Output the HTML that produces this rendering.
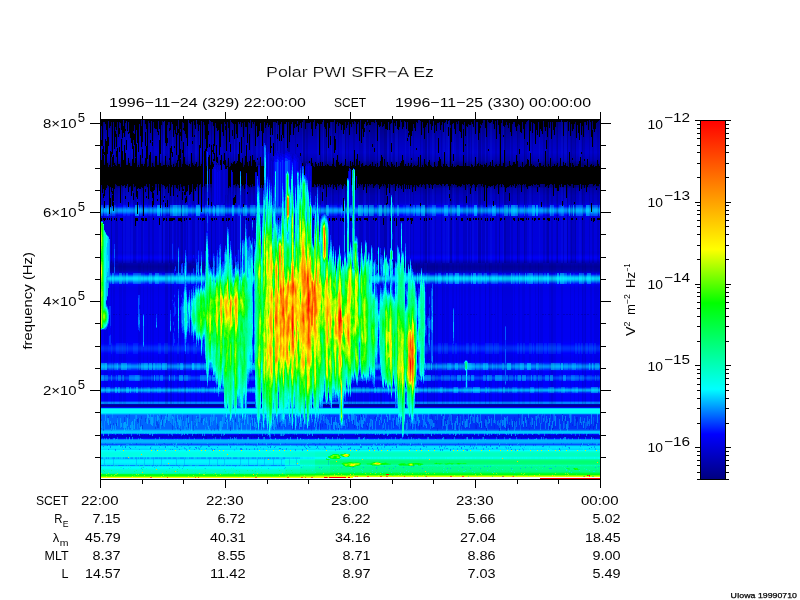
<!DOCTYPE html>
<html><head><meta charset="utf-8"><title>Polar PWI SFR-A Ez</title>
<style>html,body{margin:0;padding:0;background:#fff;overflow:hidden}svg{display:block}</style>
</head><body>
<svg width="800" height="600" viewBox="0 0 800 600">
<rect width="800" height="600" fill="#fff"/>
<g shape-rendering="crispEdges" fill="none" stroke-width="1">
<path stroke="#000080" d="M101 120.5h499M101 164.5h499M101 165.5h499M101 166.5h499M101 167.5h499M101 168.5h499M101 169.5h499M101 170.5h499M101 171.5h499M101 172.5h499M101 173.5h499M101 174.5h499M101 175.5h499M101 176.5h499M101 177.5h499M101 178.5h499M101 179.5h499M101 180.5h499M101 181.5h499M101 182.5h499M101 183.5h499M101 184.5h499M101 185.5h499M101 186.5h499"/>
<path stroke="#000084" d="M101 121.5h499"/>
<path stroke="#008" d="M101 122.5h499"/>
<path stroke="#00008b" d="M101 123.5h499"/>
<path stroke="#00008f" d="M101 124.5h499"/>
<path stroke="#000093" d="M101 125.5h499"/>
<path stroke="#000097" d="M101 126.5h499"/>
<path stroke="#00009b" d="M101 127.5h499"/>
<path stroke="#00009e" d="M101 128.5h499M101 406.5h499"/>
<path stroke="#0000a1" d="M101 129.5h499M101 267.5h499"/>
<path stroke="#0000a4" d="M101 130.5h499M101 265.5h499"/>
<path stroke="#0000a6" d="M101 131.5h499M101 161.5h499"/>
<path stroke="#0000a9" d="M101 132.5h499M101 188.5h499M101 269.5h499"/>
<path stroke="#0000ab" d="M101 133.5h499"/>
<path stroke="#0000ae" d="M101 134.5h499"/>
<path stroke="#0000b0" d="M101 135.5h499M101 190.5h499"/>
<path stroke="#0000b3" d="M101 136.5h499M101 160.5h499"/>
<path stroke="#0000b5" d="M101 137.5h499"/>
<path stroke="#0000b8" d="M101 138.5h499"/>
<path stroke="#0000ba" d="M101 139.5h499M101 158.5h499"/>
<path stroke="#0000bd" d="M101 140.5h499M101 157.5h499M101 271.5h499M101 404.5h499"/>
<path stroke="#0000be" d="M101 141.5h499M101 194.5h499"/>
<path stroke="#0000c0" d="M101 142.5h499"/>
<path stroke="#0000c2" d="M101 143.5h499M101 195.5h499"/>
<path stroke="#0000c3" d="M101 144.5h499M101 196.5h499"/>
<path stroke="#0000c5" d="M101 145.5h499M101 155.5h499"/>
<path stroke="#0000c6" d="M101 146.5h499M101 198.5h499"/>
<path stroke="#0000c8" d="M101 147.5h499M101 154.5h499M101 200.5h499M101 261.5h499"/>
<path stroke="#0000c9" d="M101 148.5h499"/>
<path stroke="#0000cb" d="M101 149.5h499M101 201.5h499"/>
<path stroke="#00c" d="M101 150.5h499M101 153.5h499"/>
<path stroke="#0000ce" d="M101 151.5h499"/>
<path stroke="#0000cf" d="M101 152.5h499M101 202.5h499"/>
<path stroke="#0000c1" d="M101 156.5h499"/>
<path stroke="#0000b6" d="M101 159.5h499"/>
<path stroke="#009" d="M101 162.5h499"/>
<path stroke="#00008d" d="M101 163.5h499"/>
<path stroke="#000094" d="M101 187.5h499M101 405.5h499"/>
<path stroke="#0000ac" d="M101 189.5h499"/>
<path stroke="#0000b4" d="M101 191.5h499"/>
<path stroke="#0000b7" d="M101 192.5h499"/>
<path stroke="#00b" d="M101 193.5h499"/>
<path stroke="#0000c4" d="M101 197.5h499"/>
<path stroke="#0000c7" d="M101 199.5h499"/>
<path stroke="#0000d5" d="M101 203.5h499"/>
<path stroke="#0000e0" d="M101 204.5h499"/>
<path stroke="#0000ef" d="M101 205.5h499M101 308.5h499M101 309.5h499M101 310.5h499M101 311.5h499M101 312.5h499M101 313.5h499M101 314.5h499M101 315.5h499M101 316.5h499M101 317.5h499"/>
<path stroke="#000aff" d="M101 206.5h499M101 434.5h499M101 438.5h499"/>
<path stroke="#003aff" d="M101 207.5h499"/>
<path stroke="#0068ff" d="M101 208.5h499"/>
<path stroke="#008aff" d="M101 209.5h499M101 211.5h499"/>
<path stroke="#0097ff" d="M101 210.5h499"/>
<path stroke="#0069ff" d="M101 212.5h499"/>
<path stroke="#003dff" d="M101 213.5h499M101 415.5h499M101 416.5h499M101 417.5h499M101 418.5h499M101 419.5h499M101 420.5h499M101 421.5h499M101 422.5h499M101 423.5h499M101 424.5h499M101 425.5h499M101 426.5h499M101 427.5h499M101 428.5h499"/>
<path stroke="#0010ff" d="M101 214.5h499"/>
<path stroke="#0000f4" d="M101 215.5h499M101 285.5h499M101 340.5h499M101 356.5h499"/>
<path stroke="#0000e7" d="M101 216.5h499"/>
<path stroke="#0000df" d="M101 217.5h499"/>
<path stroke="#0000db" d="M101 218.5h499M101 230.5h499M101 231.5h499M101 232.5h499M101 233.5h499M101 234.5h499M101 235.5h499M101 236.5h499M101 251.5h499M101 437.5h499"/>
<path stroke="#0000d9" d="M101 219.5h499M101 220.5h499M101 221.5h499M101 222.5h499"/>
<path stroke="#0000da" d="M101 223.5h499M101 224.5h499M101 225.5h499M101 226.5h499M101 227.5h499M101 228.5h499M101 229.5h499M101 252.5h499"/>
<path stroke="#0000dc" d="M101 237.5h499M101 238.5h499M101 239.5h499M101 240.5h499M101 241.5h499M101 242.5h499M101 243.5h499M101 253.5h499"/>
<path stroke="#00d" d="M101 244.5h499M101 245.5h499M101 246.5h499M101 247.5h499M101 248.5h499M101 249.5h499"/>
<path stroke="#0000de" d="M101 250.5h499"/>
<path stroke="#0000e2" d="M101 254.5h499"/>
<path stroke="#0000ea" d="M101 255.5h499M101 287.5h499M101 292.5h499M101 293.5h499"/>
<path stroke="#0000f1" d="M101 256.5h499M101 258.5h499M101 328.5h499M101 329.5h499M101 330.5h499M101 331.5h499M101 332.5h499M101 333.5h499M101 334.5h499M101 335.5h499M101 336.5h499"/>
<path stroke="#0000f5" d="M101 257.5h499M101 360.5h499"/>
<path stroke="#0000e6" d="M101 259.5h499"/>
<path stroke="#0000d7" d="M101 260.5h499"/>
<path stroke="#0000bc" d="M101 262.5h499"/>
<path stroke="#0000b2" d="M101 263.5h499"/>
<path stroke="#00a" d="M101 264.5h499"/>
<path stroke="#00009f" d="M101 266.5h499"/>
<path stroke="#0000a5" d="M101 268.5h499"/>
<path stroke="#0000b1" d="M101 270.5h499"/>
<path stroke="#0000d2" d="M101 272.5h499"/>
<path stroke="#0000ed" d="M101 273.5h499M101 298.5h499M101 299.5h499"/>
<path stroke="#001cff" d="M101 274.5h499M101 283.5h499"/>
<path stroke="#0061ff" d="M101 275.5h499"/>
<path stroke="#009fff" d="M101 276.5h499"/>
<path stroke="#00caff" d="M101 277.5h499"/>
<path stroke="#00d9ff" d="M101 278.5h499"/>
<path stroke="#00cbff" d="M101 279.5h499"/>
<path stroke="#00a6ff" d="M101 280.5h499"/>
<path stroke="#0075ff" d="M101 281.5h499"/>
<path stroke="#04f" d="M101 282.5h499"/>
<path stroke="#00f" d="M101 284.5h499M101 381.5h499M101 394.5h499M101 399.5h499M101 400.5h499M101 478.5h499"/>
<path stroke="#00e" d="M101 286.5h499M101 300.5h499M101 301.5h499M101 302.5h499M101 303.5h499M101 304.5h499M101 305.5h499M101 306.5h499M101 307.5h499"/>
<path stroke="#0000e9" d="M101 288.5h499M101 289.5h499M101 290.5h499M101 291.5h499"/>
<path stroke="#0000eb" d="M101 294.5h499M101 295.5h499"/>
<path stroke="#0000ec" d="M101 296.5h499M101 297.5h499"/>
<path stroke="#0000f0" d="M101 318.5h499M101 319.5h499M101 320.5h499M101 321.5h499M101 322.5h499M101 323.5h499M101 324.5h499M101 325.5h499M101 326.5h499M101 327.5h499"/>
<path stroke="#0000f2" d="M101 337.5h499M101 338.5h499M101 358.5h499"/>
<path stroke="#0000f3" d="M101 339.5h499M101 357.5h499M101 359.5h499"/>
<path stroke="#0000f6" d="M101 341.5h499M101 355.5h499"/>
<path stroke="#0000f9" d="M101 342.5h499M101 354.5h499M101 372.5h499M101 373.5h499"/>
<path stroke="#0000fd" d="M101 343.5h499M101 353.5h499M101 374.5h499"/>
<path stroke="#0008ff" d="M101 344.5h499M101 352.5h499"/>
<path stroke="#0015ff" d="M101 345.5h499M101 351.5h499"/>
<path stroke="#02f" d="M101 346.5h499M101 350.5h499"/>
<path stroke="#002aff" d="M101 347.5h499M101 349.5h499"/>
<path stroke="#002eff" d="M101 348.5h499M101 363.5h499"/>
<path stroke="#0000fa" d="M101 361.5h499M101 407.5h499"/>
<path stroke="#000cff" d="M101 362.5h499M101 393.5h499"/>
<path stroke="#0059ff" d="M101 364.5h499M101 388.5h499"/>
<path stroke="#007eff" d="M101 365.5h499"/>
<path stroke="#008dff" d="M101 366.5h499"/>
<path stroke="#007fff" d="M101 367.5h499"/>
<path stroke="#005aff" d="M101 368.5h499"/>
<path stroke="#0031ff" d="M101 369.5h499"/>
<path stroke="#01f" d="M101 370.5h499M101 380.5h499"/>
<path stroke="#0000fe" d="M101 371.5h499M101 395.5h499M101 396.5h499M101 397.5h499M101 398.5h499"/>
<path stroke="#000eff" d="M101 375.5h499"/>
<path stroke="#002bff" d="M101 376.5h499"/>
<path stroke="#0043ff" d="M101 377.5h499M101 378.5h499"/>
<path stroke="#002cff" d="M101 379.5h499"/>
<path stroke="#0000fb" d="M101 382.5h499M101 383.5h499M101 384.5h499"/>
<path stroke="#0000fc" d="M101 385.5h499"/>
<path stroke="#0001ff" d="M101 386.5h499"/>
<path stroke="#001dff" d="M101 387.5h499"/>
<path stroke="#009dff" d="M101 389.5h499"/>
<path stroke="#00acff" d="M101 390.5h499"/>
<path stroke="#07f" d="M101 391.5h499"/>
<path stroke="#03f" d="M101 392.5h499M101 401.5h499"/>
<path stroke="#0085ff" d="M101 402.5h499M101 403.5h499M101 439.5h499M101 443.5h499"/>
<path stroke="#00c2ff" d="M101 408.5h499M101 457.5h499"/>
<path stroke="#0ff" d="M101 409.5h499M101 412.5h499M101 450.5h499M101 465.5h499"/>
<path stroke="#00fffa" d="M101 410.5h499M101 411.5h499"/>
<path stroke="#00d6ff" d="M101 413.5h499M101 449.5h499"/>
<path stroke="#0070ff" d="M101 414.5h499"/>
<path stroke="#005cff" d="M101 429.5h499"/>
<path stroke="#09f" d="M101 430.5h499M101 433.5h499M101 445.5h499"/>
<path stroke="#00c8ff" d="M101 431.5h499"/>
<path stroke="#0cf" d="M101 432.5h499"/>
<path stroke="#0000d6" d="M101 435.5h499"/>
<path stroke="#0000d1" d="M101 436.5h499"/>
<path stroke="#00b4ff" d="M101 440.5h499"/>
<path stroke="#00b8ff" d="M101 441.5h499"/>
<path stroke="#00adff" d="M101 442.5h499M101 458.5h499"/>
<path stroke="#0052ff" d="M101 444.5h499"/>
<path stroke="#00e0ff" d="M101 446.5h499M101 448.5h499"/>
<path stroke="#00e7ff" d="M101 447.5h499"/>
<path stroke="#00ffea" d="M101 451.5h499"/>
<path stroke="#00ffdc" d="M101 452.5h499M101 453.5h499M101 454.5h499M101 455.5h499"/>
<path stroke="#00ffdf" d="M101 456.5h499"/>
<path stroke="#00ffca" d="M101 459.5h499M101 464.5h499"/>
<path stroke="#0fa" d="M101 460.5h499M101 471.5h499"/>
<path stroke="#00ff95" d="M101 461.5h499M101 462.5h499"/>
<path stroke="#00ff9f" d="M101 463.5h499"/>
<path stroke="#00ffd4" d="M101 466.5h499"/>
<path stroke="#00ffbf" d="M101 467.5h499M101 468.5h499M101 469.5h499"/>
<path stroke="#00ffb5" d="M101 470.5h499"/>
<path stroke="#00ff75" d="M101 472.5h499"/>
<path stroke="#00ff4a" d="M101 473.5h499"/>
<path stroke="#00ff2a" d="M101 474.5h499"/>
<path stroke="#6f0" d="M101 475.5h499"/>
<path stroke="#ef0" d="M101 476.5h499"/>
<path stroke="#fff100" d="M101 477.5h499"/>
<path stroke="#00fff4" d="M101 451.5h184M315 458.5h15M300 465.5h15M101 468.5h184"/>
<path stroke="#00ffef" d="M285 451.5h15"/>
<path stroke="#00ffea" d="M300 451.5h15M101 452.5h184M101 456.5h184"/>
<path stroke="#00ffe4" d="M315 451.5h15M101 453.5h184M101 454.5h184M101 455.5h184M330 457.5h270M285 463.5h15"/>
<path stroke="#00ffdf" d="M330 451.5h270M330 458.5h270M285 461.5h15M285 462.5h15"/>
<path stroke="#00ffe2" d="M285 452.5h15M285 456.5h15M285 467.5h15"/>
<path stroke="#00ffda" d="M300 452.5h15M300 456.5h15M285 468.5h15M101 469.5h184"/>
<path stroke="#00ffd2" d="M315 452.5h15M300 453.5h15M300 454.5h15M300 455.5h15M315 456.5h15"/>
<path stroke="#00ffca" d="M330 452.5h270M330 456.5h270M101 470.5h184"/>
<path stroke="#00ffdb" d="M285 453.5h15M285 454.5h15M285 455.5h15"/>
<path stroke="#00ffc9" d="M315 453.5h15M315 454.5h15M315 455.5h15"/>
<path stroke="#00ffbf" d="M330 453.5h270M330 454.5h270M330 455.5h270M300 463.5h15M300 468.5h15M101 472.5h184"/>
<path stroke="#00adff" d="M101 457.5h184"/>
<path stroke="#00cfff" d="M285 457.5h15"/>
<path stroke="#00f0ff" d="M300 457.5h15"/>
<path stroke="#00fff6" d="M315 457.5h15"/>
<path stroke="#09f" d="M101 458.5h184"/>
<path stroke="#00c2ff" d="M285 458.5h15"/>
<path stroke="#00ebff" d="M300 458.5h15M101 463.5h184M101 466.5h184"/>
<path stroke="#00e0ff" d="M101 459.5h184M101 464.5h184"/>
<path stroke="#00fff3" d="M285 459.5h15"/>
<path stroke="#00ffd7" d="M300 459.5h15"/>
<path stroke="#0fb" d="M315 459.5h15"/>
<path stroke="#00ff9f" d="M330 459.5h270M101 473.5h184"/>
<path stroke="#00f5ff" d="M101 460.5h184M101 461.5h184M101 462.5h184"/>
<path stroke="#00ffe3" d="M285 460.5h15"/>
<path stroke="#00ffc2" d="M300 460.5h15"/>
<path stroke="#00ffa1" d="M315 460.5h15"/>
<path stroke="#00ff80" d="M330 460.5h270M330 471.5h270"/>
<path stroke="#00ffba" d="M300 461.5h15M300 462.5h15"/>
<path stroke="#00ff95" d="M315 461.5h15M315 462.5h15M330 466.5h270"/>
<path stroke="#00ff70" d="M330 461.5h270M330 462.5h270"/>
<path stroke="#00ff9a" d="M315 463.5h15"/>
<path stroke="#00ff75" d="M330 463.5h270"/>
<path stroke="#0fe" d="M285 464.5h15"/>
<path stroke="#00ffcd" d="M300 464.5h15"/>
<path stroke="#00ffab" d="M315 464.5h15"/>
<path stroke="#00ff8a" d="M330 464.5h270M330 467.5h270M330 468.5h270M330 469.5h270"/>
<path stroke="#0085ff" d="M101 465.5h184"/>
<path stroke="#0cf" d="M285 465.5h15"/>
<path stroke="#00ffcf" d="M315 465.5h15M300 466.5h15"/>
<path stroke="#0fa" d="M330 465.5h270"/>
<path stroke="#00ffec" d="M285 466.5h15"/>
<path stroke="#00ffb2" d="M315 466.5h15M300 469.5h15"/>
<path stroke="#0ff" d="M101 467.5h184"/>
<path stroke="#00ffc5" d="M300 467.5h15M101 471.5h184"/>
<path stroke="#00ffa7" d="M315 467.5h15M300 470.5h15M285 472.5h15"/>
<path stroke="#00ffa5" d="M315 468.5h15"/>
<path stroke="#00ffc6" d="M285 469.5h15"/>
<path stroke="#00ff9e" d="M315 469.5h15"/>
<path stroke="#00ffb9" d="M285 470.5h15"/>
<path stroke="#00ff96" d="M315 470.5h15"/>
<path stroke="#00ff85" d="M330 470.5h270"/>
<path stroke="#00ffb3" d="M285 471.5h15"/>
<path stroke="#00ffa2" d="M300 471.5h15"/>
<path stroke="#00ff91" d="M315 471.5h15"/>
<path stroke="#00ff8f" d="M300 472.5h15"/>
<path stroke="#00ff78" d="M315 472.5h15"/>
<path stroke="#00ff60" d="M330 472.5h270"/>
<path stroke="#00ff82" d="M285 473.5h15"/>
<path stroke="#00ff65" d="M300 473.5h15"/>
<path stroke="#00ff48" d="M315 473.5h15"/>
<path stroke="#00ff2a" d="M330 473.5h270"/>
<path stroke="#00ff20" d="M101 474.5h184"/>
<path stroke="#00ff1b" d="M285 474.5h15"/>
<path stroke="#00ff15" d="M300 474.5h15"/>
<path stroke="#00ff10" d="M315 474.5h15"/>
<path stroke="#00ff0b" d="M330 474.5h270"/>
<path stroke="#1f0" d="M101 475.5h184"/>
<path stroke="#2bff00" d="M285 475.5h15"/>
<path stroke="#4f0" d="M300 475.5h15"/>
<path stroke="#5eff00" d="M315 475.5h15"/>
<path stroke="#7f0" d="M330 475.5h270M285 476.5h15"/>
<path stroke="#5f0" d="M101 476.5h184"/>
<path stroke="#9f0" d="M300 476.5h15"/>
<path stroke="#bf0" d="M315 476.5h15"/>
<path stroke="#df0" d="M330 476.5h270"/>
<path stroke="#ff0" d="M101 477.5h184M285 477.5h15M300 477.5h15M315 477.5h15M330 477.5h270"/>
<path stroke="#14f" stroke-opacity="0.2" d="M448.5 120v143"/>
<path stroke="#14f" stroke-opacity="0.1" d="M137.5 120v143M276.5 120v143M443.5 120v143M444.5 120v143M485.5 120v143"/>
<path stroke="#14f" stroke-opacity="0.1" d="M123.5 120v143M124.5 120v143M126.5 120v143M127.5 120v143M128.5 120v143M129.5 120v143M131.5 120v143M132.5 120v143M143.5 120v143M159.5 120v143M160.5 120v143M163.5 120v143M164.5 120v143M172.5 120v143M188.5 120v143M189.5 120v143M195.5 120v143M196.5 120v143M199.5 120v143M200.5 120v143M219.5 120v143M234.5 120v143M237.5 120v143M238.5 120v143M239.5 120v143M256.5 120v143M257.5 120v143M260.5 120v143M261.5 120v143M271.5 120v143M272.5 120v143M273.5 120v143M278.5 120v143M279.5 120v143M285.5 120v143M286.5 120v143M302.5 120v143M317.5 120v143M318.5 120v143M323.5 120v143M327.5 120v143M331.5 120v143M342.5 120v143M343.5 120v143M344.5 120v143M364.5 120v143M365.5 120v143M378.5 120v143M379.5 120v143M387.5 120v143M388.5 120v143M391.5 120v143M395.5 120v143M396.5 120v143M397.5 120v143M405.5 120v143M409.5 120v143M427.5 120v143M432.5 120v143M433.5 120v143M446.5 120v143M447.5 120v143M453.5 120v143M467.5 120v143M472.5 120v143M473.5 120v143M477.5 120v143M490.5 120v143M491.5 120v143M503.5 120v143M529.5 120v143M530.5 120v143M539.5 120v143M561.5 120v143M562.5 120v143M564.5 120v143M565.5 120v143M566.5 120v143M579.5 120v143M580.5 120v143"/>
<path stroke="#000" stroke-opacity="0.1" d="M102.5 120v143M103.5 120v143M115.5 120v143M116.5 120v143M117.5 120v143M122.5 120v143M133.5 120v143M134.5 120v143M135.5 120v143M141.5 120v143M142.5 120v143M148.5 120v143M149.5 120v143M152.5 120v143M153.5 120v143M165.5 120v143M166.5 120v143M167.5 120v143M170.5 120v143M171.5 120v143M174.5 120v143M175.5 120v143M177.5 120v143M178.5 120v143M180.5 120v143M184.5 120v143M185.5 120v143M187.5 120v143M192.5 120v143M193.5 120v143M194.5 120v143M198.5 120v143M205.5 120v143M215.5 120v143M223.5 120v143M224.5 120v143M225.5 120v143M227.5 120v143M228.5 120v143M230.5 120v143M233.5 120v143M235.5 120v143M236.5 120v143M242.5 120v143M243.5 120v143M248.5 120v143M249.5 120v143M250.5 120v143M253.5 120v143M254.5 120v143M255.5 120v143M262.5 120v143M265.5 120v143M266.5 120v143M274.5 120v143M275.5 120v143M277.5 120v143M280.5 120v143M283.5 120v143M284.5 120v143M295.5 120v143M306.5 120v143M307.5 120v143M324.5 120v143M325.5 120v143M332.5 120v143M333.5 120v143M338.5 120v143M348.5 120v143M353.5 120v143M354.5 120v143M359.5 120v143M360.5 120v143M361.5 120v143M362.5 120v143M366.5 120v143M367.5 120v143M368.5 120v143M370.5 120v143M371.5 120v143M372.5 120v143M373.5 120v143M374.5 120v143M380.5 120v143M381.5 120v143M382.5 120v143M383.5 120v143M389.5 120v143M390.5 120v143M393.5 120v143M394.5 120v143M398.5 120v143M410.5 120v143M413.5 120v143M420.5 120v143M423.5 120v143M424.5 120v143M428.5 120v143M429.5 120v143M435.5 120v143M441.5 120v143M456.5 120v143M457.5 120v143M458.5 120v143M463.5 120v143M464.5 120v143M465.5 120v143M466.5 120v143M468.5 120v143M469.5 120v143M471.5 120v143M482.5 120v143M483.5 120v143M484.5 120v143M486.5 120v143M487.5 120v143M495.5 120v143M496.5 120v143M506.5 120v143M507.5 120v143M508.5 120v143M509.5 120v143M511.5 120v143M512.5 120v143M518.5 120v143M519.5 120v143M525.5 120v143M526.5 120v143M532.5 120v143M543.5 120v143M544.5 120v143M546.5 120v143M551.5 120v143M552.5 120v143M556.5 120v143M563.5 120v143M570.5 120v143M572.5 120v143M573.5 120v143M574.5 120v143M583.5 120v143M584.5 120v143M589.5 120v143M592.5 120v143M593.5 120v143M597.5 120v143M598.5 120v143"/>
<path stroke="#000" stroke-opacity="0.2" d="M111.5 120v143M162.5 120v143M169.5 120v143M181.5 120v143M182.5 120v143M204.5 120v143M211.5 120v143M244.5 120v143M287.5 120v143M288.5 120v143M289.5 120v143M303.5 120v143M304.5 120v143M320.5 120v143M326.5 120v143M345.5 120v143M377.5 120v143M384.5 120v143M385.5 120v143M386.5 120v143M425.5 120v143M426.5 120v143M450.5 120v143M451.5 120v143M478.5 120v143M479.5 120v143M480.5 120v143M499.5 120v143M504.5 120v143M505.5 120v143M517.5 120v143M524.5 120v143M547.5 120v143M548.5 120v143M557.5 120v143M567.5 120v143M571.5 120v143M575.5 120v143M582.5 120v143"/>
<path stroke="#004" stroke-opacity="0.08" d="M104.5 263v141M105.5 263v141M106.5 263v141M107.5 263v141M111.5 263v141M113.5 263v141M114.5 263v141M119.5 263v141M120.5 263v141M121.5 263v141M123.5 263v141M124.5 263v141M125.5 263v141M138.5 263v141M139.5 263v141M140.5 263v141M143.5 263v141M147.5 263v141M150.5 263v141M152.5 263v141M153.5 263v141M158.5 263v141M173.5 263v141M177.5 263v141M178.5 263v141M180.5 263v141M190.5 263v141M195.5 263v141M196.5 263v141M201.5 263v141M204.5 263v141M205.5 263v141M208.5 263v141M244.5 263v141M256.5 263v141M257.5 263v141M258.5 263v141M259.5 263v141M273.5 263v141M278.5 263v141M279.5 263v141M281.5 263v141M282.5 263v141M284.5 263v141M296.5 263v141M297.5 263v141M298.5 263v141M302.5 263v141M308.5 263v141M310.5 263v141M311.5 263v141M316.5 263v141M321.5 263v141M322.5 263v141M324.5 263v141M325.5 263v141M326.5 263v141M327.5 263v141M328.5 263v141M329.5 263v141M334.5 263v141M335.5 263v141M336.5 263v141M337.5 263v141M349.5 263v141M350.5 263v141M353.5 263v141M354.5 263v141M357.5 263v141M358.5 263v141M359.5 263v141M360.5 263v141M361.5 263v141M362.5 263v141M364.5 263v141M365.5 263v141M366.5 263v141M367.5 263v141M368.5 263v141M370.5 263v141M373.5 263v141M374.5 263v141M377.5 263v141M384.5 263v141M389.5 263v141M390.5 263v141M395.5 263v141M399.5 263v141M400.5 263v141M401.5 263v141M402.5 263v141M418.5 263v141M419.5 263v141M428.5 263v141M429.5 263v141M430.5 263v141M431.5 263v141M432.5 263v141M433.5 263v141M436.5 263v141M437.5 263v141M443.5 263v141M444.5 263v141M446.5 263v141M447.5 263v141M448.5 263v141M452.5 263v141M453.5 263v141M456.5 263v141M459.5 263v141M461.5 263v141M462.5 263v141M464.5 263v141M465.5 263v141M468.5 263v141M469.5 263v141M470.5 263v141M474.5 263v141M479.5 263v141M480.5 263v141M490.5 263v141M491.5 263v141M495.5 263v141M497.5 263v141M498.5 263v141M503.5 263v141M504.5 263v141M505.5 263v141M506.5 263v141M507.5 263v141M508.5 263v141M509.5 263v141M510.5 263v141M511.5 263v141M512.5 263v141M514.5 263v141M518.5 263v141M519.5 263v141M522.5 263v141M523.5 263v141M524.5 263v141M529.5 263v141M530.5 263v141M535.5 263v141M540.5 263v141M541.5 263v141M542.5 263v141M549.5 263v141M550.5 263v141M553.5 263v141M554.5 263v141M555.5 263v141M561.5 263v141M562.5 263v141M570.5 263v141M574.5 263v141M578.5 263v141M583.5 263v141M584.5 263v141M590.5 263v141M591.5 263v141M594.5 263v141M595.5 263v141M596.5 263v141M597.5 263v141M598.5 263v141"/>
<path stroke="#004" stroke-opacity="0.16" d="M165.5 263v141M166.5 263v141M167.5 263v141M170.5 263v141M171.5 263v141M184.5 263v141M185.5 263v141M223.5 263v141M226.5 263v141M229.5 263v141M234.5 263v141M237.5 263v141M241.5 263v141M245.5 263v141M246.5 263v141M255.5 263v141M260.5 263v141M261.5 263v141M263.5 263v141M264.5 263v141M265.5 263v141M266.5 263v141M271.5 263v141M272.5 263v141M285.5 263v141M286.5 263v141M294.5 263v141M306.5 263v141M307.5 263v141M313.5 263v141M330.5 263v141M348.5 263v141M351.5 263v141M355.5 263v141M380.5 263v141M381.5 263v141M416.5 263v141M423.5 263v141M427.5 263v141M434.5 263v141M442.5 263v141M485.5 263v141M489.5 263v141M502.5 263v141M538.5 263v141M551.5 263v141M552.5 263v141M582.5 263v141M585.5 263v141"/>
<path stroke="#009" stroke-opacity=".5" d="M104 314.5h2M107 314.5h1M110 314.5h1M113 314.5h2M116 314.5h1M119 314.5h1M125 314.5h2M128 314.5h1M137 314.5h1M140 314.5h2M146 314.5h1M149 314.5h2M152 314.5h2M155 314.5h2M158 314.5h1M161 314.5h1M164 314.5h2M167 314.5h1M170 314.5h1M173 314.5h1M176 314.5h1M179 314.5h1M185 314.5h1M191 314.5h1M200 314.5h1M203 314.5h2M206 314.5h2M215 314.5h1M221 314.5h2M230 314.5h1M236 314.5h2M239 314.5h1M245 314.5h1M251 314.5h2M254 314.5h2M257 314.5h1M269 314.5h2M272 314.5h2M284 314.5h1M293 314.5h1M299 314.5h2M305 314.5h1M308 314.5h1M311 314.5h1M314 314.5h1M320 314.5h1M329 314.5h2M332 314.5h1M335 314.5h2M338 314.5h2M341 314.5h1M344 314.5h2M347 314.5h2M353 314.5h2M359 314.5h2M362 314.5h1M365 314.5h2M371 314.5h1M374 314.5h1M377 314.5h2M383 314.5h2M386 314.5h1M392 314.5h1M401 314.5h2M404 314.5h2M410 314.5h2M413 314.5h2M416 314.5h1M419 314.5h1M422 314.5h1M425 314.5h2M428 314.5h1M434 314.5h2M440 314.5h1M443 314.5h1M452 314.5h2M455 314.5h1M458 314.5h1M461 314.5h1M467 314.5h1M470 314.5h2M473 314.5h2M476 314.5h1M485 314.5h1M491 314.5h2M494 314.5h1M506 314.5h1M512 314.5h1M515 314.5h1M524 314.5h2M527 314.5h2M536 314.5h1M542 314.5h2M545 314.5h1M548 314.5h2M551 314.5h1M557 314.5h2M563 314.5h2M566 314.5h2M569 314.5h2M572 314.5h1M578 314.5h1M581 314.5h2M584 314.5h2M587 314.5h2M593 314.5h2M596 314.5h1"/>
<path stroke="#0ff" stroke-opacity="0.1" d="M115.5 205v11M123.5 205v11M124.5 205v11M125.5 205v11M127.5 205v11M128.5 205v11M129.5 205v11M143.5 205v11M144.5 205v11M145.5 205v11M146.5 205v11M148.5 205v11M149.5 205v11M150.5 205v11M151.5 205v11M153.5 205v11M154.5 205v11M155.5 205v11M163.5 205v11M164.5 205v11M165.5 205v11M191.5 205v11M192.5 205v11M193.5 205v11M206.5 205v11M207.5 205v11M210.5 205v11M211.5 205v11M267.5 205v11M268.5 205v11M269.5 205v11M283.5 205v11M284.5 205v11M286.5 205v11M287.5 205v11M288.5 205v11M289.5 205v11M291.5 205v11M292.5 205v11M293.5 205v11M310.5 205v11M311.5 205v11M317.5 205v11M318.5 205v11M319.5 205v11M320.5 205v11M330.5 205v11M331.5 205v11M332.5 205v11M333.5 205v11M334.5 205v11M335.5 205v11M336.5 205v11M346.5 205v11M347.5 205v11M348.5 205v11M403.5 205v11M404.5 205v11M409.5 205v11M410.5 205v11M411.5 205v11M412.5 205v11M428.5 205v11M429.5 205v11M430.5 205v11M431.5 205v11M456.5 205v11M480.5 205v11M481.5 205v11M482.5 205v11M488.5 205v11M489.5 205v11M490.5 205v11M502.5 205v11M519.5 205v11M520.5 205v11M521.5 205v11M522.5 205v11M526.5 205v11M539.5 205v11M540.5 205v11M541.5 205v11M542.5 205v11M575.5 205v11M101.5 273v11M102.5 273v11M114.5 273v11M115.5 273v11M116.5 273v11M117.5 273v11M141.5 273v11M142.5 273v11M143.5 273v11M144.5 273v11M159.5 273v11M160.5 273v11M161.5 273v11M186.5 273v11M187.5 273v11M194.5 273v11M195.5 273v11M196.5 273v11M197.5 273v11M198.5 273v11M199.5 273v11M227.5 273v11M231.5 273v11M232.5 273v11M233.5 273v11M234.5 273v11M263.5 273v11M269.5 273v11M270.5 273v11M279.5 273v11M310.5 273v11M311.5 273v11M312.5 273v11M315.5 273v11M316.5 273v11M349.5 273v11M364.5 273v11M365.5 273v11M366.5 273v11M370.5 273v11M422.5 273v11M423.5 273v11M424.5 273v11M428.5 273v11M429.5 273v11M444.5 273v11M454.5 273v11M459.5 273v11M460.5 273v11M461.5 273v11M465.5 273v11M466.5 273v11M467.5 273v11M468.5 273v11M477.5 273v11M483.5 273v11M502.5 273v11M504.5 273v11M505.5 273v11M520.5 273v11M521.5 273v11M522.5 273v11M523.5 273v11M555.5 273v11M568.5 273v11M569.5 273v11M573.5 273v11M574.5 273v11M596.5 273v11M111.5 343v11M116.5 343v11M117.5 343v11M118.5 343v11M119.5 343v11M120.5 343v11M121.5 343v11M122.5 343v11M123.5 343v11M124.5 343v11M125.5 343v11M127.5 343v11M133.5 343v11M134.5 343v11M135.5 343v11M136.5 343v11M137.5 343v11M158.5 343v11M159.5 343v11M160.5 343v11M164.5 343v11M165.5 343v11M166.5 343v11M167.5 343v11M177.5 343v11M178.5 343v11M185.5 343v11M187.5 343v11M188.5 343v11M193.5 343v11M194.5 343v11M195.5 343v11M196.5 343v11M203.5 343v11M204.5 343v11M205.5 343v11M206.5 343v11M207.5 343v11M208.5 343v11M209.5 343v11M211.5 343v11M212.5 343v11M213.5 343v11M247.5 343v11M248.5 343v11M249.5 343v11M257.5 343v11M258.5 343v11M269.5 343v11M277.5 343v11M278.5 343v11M279.5 343v11M281.5 343v11M282.5 343v11M283.5 343v11M284.5 343v11M297.5 343v11M316.5 343v11M317.5 343v11M319.5 343v11M320.5 343v11M321.5 343v11M322.5 343v11M329.5 343v11M335.5 343v11M336.5 343v11M337.5 343v11M338.5 343v11M339.5 343v11M340.5 343v11M345.5 343v11M346.5 343v11M347.5 343v11M348.5 343v11M352.5 343v11M353.5 343v11M354.5 343v11M355.5 343v11M359.5 343v11M360.5 343v11M361.5 343v11M362.5 343v11M364.5 343v11M366.5 343v11M367.5 343v11M377.5 343v11M378.5 343v11M385.5 343v11M386.5 343v11M387.5 343v11M388.5 343v11M389.5 343v11M390.5 343v11M391.5 343v11M392.5 343v11M396.5 343v11M412.5 343v11M413.5 343v11M414.5 343v11M416.5 343v11M417.5 343v11M418.5 343v11M420.5 343v11M421.5 343v11M422.5 343v11M423.5 343v11M424.5 343v11M425.5 343v11M426.5 343v11M427.5 343v11M438.5 343v11M439.5 343v11M440.5 343v11M442.5 343v11M444.5 343v11M445.5 343v11M446.5 343v11M447.5 343v11M452.5 343v11M453.5 343v11M455.5 343v11M456.5 343v11M466.5 343v11M467.5 343v11M468.5 343v11M472.5 343v11M473.5 343v11M474.5 343v11M476.5 343v11M485.5 343v11M486.5 343v11M487.5 343v11M488.5 343v11M489.5 343v11M490.5 343v11M491.5 343v11M492.5 343v11M494.5 343v11M495.5 343v11M496.5 343v11M497.5 343v11M498.5 343v11M517.5 343v11M518.5 343v11M520.5 343v11M521.5 343v11M523.5 343v11M524.5 343v11M529.5 343v11M530.5 343v11M531.5 343v11M533.5 343v11M536.5 343v11M537.5 343v11M538.5 343v11M539.5 343v11M540.5 343v11M541.5 343v11M542.5 343v11M544.5 343v11M545.5 343v11M546.5 343v11M548.5 343v11M549.5 343v11M550.5 343v11M551.5 343v11M552.5 343v11M553.5 343v11M554.5 343v11M555.5 343v11M557.5 343v11M558.5 343v11M559.5 343v11M560.5 343v11M575.5 343v11M576.5 343v11M578.5 343v11M579.5 343v11M581.5 343v11M582.5 343v11M585.5 343v11M586.5 343v11M587.5 343v11M589.5 343v11M590.5 343v11M591.5 343v11M592.5 343v11M594.5 343v11M595.5 343v11M109.5 363v7M110.5 363v7M111.5 363v7M112.5 363v7M128.5 363v7M129.5 363v7M130.5 363v7M137.5 363v7M200.5 363v7M201.5 363v7M202.5 363v7M212.5 363v7M213.5 363v7M214.5 363v7M215.5 363v7M237.5 363v7M238.5 363v7M239.5 363v7M240.5 363v7M245.5 363v7M257.5 363v7M258.5 363v7M259.5 363v7M270.5 363v7M271.5 363v7M272.5 363v7M299.5 363v7M300.5 363v7M301.5 363v7M388.5 363v7M389.5 363v7M390.5 363v7M392.5 363v7M393.5 363v7M411.5 363v7M412.5 363v7M413.5 363v7M414.5 363v7M415.5 363v7M416.5 363v7M417.5 363v7M442.5 363v7M443.5 363v7M444.5 363v7M445.5 363v7M451.5 363v7M452.5 363v7M459.5 363v7M460.5 363v7M461.5 363v7M462.5 363v7M463.5 363v7M464.5 363v7M465.5 363v7M466.5 363v7M480.5 363v7M481.5 363v7M482.5 363v7M496.5 363v7M505.5 363v7M540.5 363v7M541.5 363v7M543.5 363v7M569.5 363v7M570.5 363v7M571.5 363v7M577.5 363v7M578.5 363v7M579.5 363v7M580.5 363v7M590.5 363v7M593.5 363v7M140.5 375v6M141.5 375v6M151.5 375v6M152.5 375v6M171.5 375v6M172.5 375v6M173.5 375v6M188.5 375v6M189.5 375v6M190.5 375v6M220.5 375v6M221.5 375v6M247.5 375v6M248.5 375v6M249.5 375v6M251.5 375v6M252.5 375v6M253.5 375v6M269.5 375v6M270.5 375v6M271.5 375v6M272.5 375v6M277.5 375v6M278.5 375v6M279.5 375v6M280.5 375v6M282.5 375v6M283.5 375v6M284.5 375v6M285.5 375v6M286.5 375v6M303.5 375v6M304.5 375v6M305.5 375v6M306.5 375v6M315.5 375v6M316.5 375v6M317.5 375v6M318.5 375v6M331.5 375v6M332.5 375v6M333.5 375v6M334.5 375v6M336.5 375v6M337.5 375v6M338.5 375v6M339.5 375v6M356.5 375v6M371.5 375v6M436.5 375v6M437.5 375v6M443.5 375v6M454.5 375v6M455.5 375v6M474.5 375v6M527.5 375v6M528.5 375v6M529.5 375v6M530.5 375v6M536.5 375v6M559.5 375v6M560.5 375v6M561.5 375v6M567.5 375v6M568.5 375v6M569.5 375v6M570.5 375v6M587.5 375v6M588.5 375v6M589.5 375v6M590.5 375v6M591.5 375v6M597.5 375v6M598.5 375v6M121.5 387v6M122.5 387v6M123.5 387v6M124.5 387v6M143.5 387v6M144.5 387v6M145.5 387v6M146.5 387v6M152.5 387v6M153.5 387v6M154.5 387v6M155.5 387v6M163.5 387v6M164.5 387v6M165.5 387v6M167.5 387v6M168.5 387v6M169.5 387v6M178.5 387v6M179.5 387v6M180.5 387v6M182.5 387v6M183.5 387v6M184.5 387v6M189.5 387v6M190.5 387v6M191.5 387v6M192.5 387v6M194.5 387v6M195.5 387v6M196.5 387v6M197.5 387v6M206.5 387v6M210.5 387v6M211.5 387v6M212.5 387v6M213.5 387v6M231.5 387v6M232.5 387v6M233.5 387v6M234.5 387v6M245.5 387v6M246.5 387v6M273.5 387v6M274.5 387v6M275.5 387v6M279.5 387v6M280.5 387v6M281.5 387v6M300.5 387v6M311.5 387v6M312.5 387v6M313.5 387v6M314.5 387v6M321.5 387v6M322.5 387v6M347.5 387v6M348.5 387v6M349.5 387v6M350.5 387v6M351.5 387v6M386.5 387v6M387.5 387v6M388.5 387v6M402.5 387v6M403.5 387v6M419.5 387v6M420.5 387v6M424.5 387v6M425.5 387v6M426.5 387v6M432.5 387v6M433.5 387v6M434.5 387v6M435.5 387v6M436.5 387v6M437.5 387v6M438.5 387v6M439.5 387v6M444.5 387v6M445.5 387v6M461.5 387v6M462.5 387v6M463.5 387v6M498.5 387v6M499.5 387v6M500.5 387v6M501.5 387v6M521.5 387v6M522.5 387v6M539.5 387v6M540.5 387v6M541.5 387v6M542.5 387v6M558.5 387v6M559.5 387v6M566.5 387v6M567.5 387v6M585.5 387v6"/>
<path stroke="#0ff" stroke-opacity="0.2" d="M104.5 205v11M105.5 205v11M106.5 205v11M110.5 205v11M111.5 205v11M112.5 205v11M113.5 205v11M114.5 205v11M140.5 205v11M141.5 205v11M205.5 205v11M219.5 205v11M220.5 205v11M238.5 205v11M239.5 205v11M255.5 205v11M256.5 205v11M258.5 205v11M276.5 205v11M277.5 205v11M278.5 205v11M279.5 205v11M280.5 205v11M281.5 205v11M282.5 205v11M377.5 205v11M378.5 205v11M386.5 205v11M387.5 205v11M388.5 205v11M406.5 205v11M407.5 205v11M408.5 205v11M450.5 205v11M451.5 205v11M452.5 205v11M453.5 205v11M454.5 205v11M466.5 205v11M467.5 205v11M528.5 205v11M529.5 205v11M530.5 205v11M531.5 205v11M559.5 205v11M560.5 205v11M571.5 205v11M590.5 205v11M104.5 273v11M105.5 273v11M110.5 273v11M123.5 273v11M124.5 273v11M165.5 273v11M166.5 273v11M167.5 273v11M168.5 273v11M169.5 273v11M170.5 273v11M188.5 273v11M189.5 273v11M201.5 273v11M202.5 273v11M203.5 273v11M225.5 273v11M226.5 273v11M240.5 273v11M241.5 273v11M242.5 273v11M276.5 273v11M277.5 273v11M278.5 273v11M285.5 273v11M336.5 273v11M337.5 273v11M338.5 273v11M339.5 273v11M341.5 273v11M342.5 273v11M343.5 273v11M344.5 273v11M346.5 273v11M347.5 273v11M397.5 273v11M398.5 273v11M399.5 273v11M400.5 273v11M402.5 273v11M403.5 273v11M404.5 273v11M426.5 273v11M427.5 273v11M435.5 273v11M436.5 273v11M491.5 273v11M492.5 273v11M493.5 273v11M494.5 273v11M495.5 273v11M496.5 273v11M497.5 273v11M512.5 273v11M513.5 273v11M514.5 273v11M516.5 273v11M517.5 273v11M534.5 273v11M535.5 273v11M536.5 273v11M537.5 273v11M539.5 273v11M540.5 273v11M541.5 273v11M542.5 273v11M544.5 273v11M545.5 273v11M114.5 363v7M115.5 363v7M116.5 363v7M139.5 363v7M155.5 363v7M156.5 363v7M177.5 363v7M178.5 363v7M194.5 363v7M195.5 363v7M196.5 363v7M231.5 363v7M306.5 363v7M307.5 363v7M308.5 363v7M347.5 363v7M348.5 363v7M361.5 363v7M362.5 363v7M363.5 363v7M367.5 363v7M368.5 363v7M379.5 363v7M380.5 363v7M381.5 363v7M383.5 363v7M384.5 363v7M385.5 363v7M386.5 363v7M387.5 363v7M397.5 363v7M398.5 363v7M403.5 363v7M404.5 363v7M436.5 363v7M476.5 363v7M477.5 363v7M478.5 363v7M479.5 363v7M492.5 363v7M515.5 363v7M516.5 363v7M517.5 363v7M518.5 363v7M519.5 363v7M564.5 363v7M565.5 363v7M566.5 363v7M567.5 363v7M104.5 375v6M116.5 375v6M122.5 375v6M156.5 375v6M157.5 375v6M158.5 375v6M301.5 375v6M308.5 375v6M340.5 375v6M341.5 375v6M353.5 375v6M354.5 375v6M358.5 375v6M359.5 375v6M360.5 375v6M380.5 375v6M381.5 375v6M382.5 375v6M383.5 375v6M396.5 375v6M397.5 375v6M413.5 375v6M414.5 375v6M415.5 375v6M432.5 375v6M433.5 375v6M434.5 375v6M441.5 375v6M442.5 375v6M444.5 375v6M445.5 375v6M446.5 375v6M447.5 375v6M448.5 375v6M449.5 375v6M451.5 375v6M452.5 375v6M453.5 375v6M502.5 375v6M503.5 375v6M504.5 375v6M505.5 375v6M509.5 375v6M510.5 375v6M511.5 375v6M512.5 375v6M517.5 375v6M533.5 375v6M539.5 375v6M540.5 375v6M541.5 375v6M575.5 375v6M576.5 375v6M577.5 375v6M578.5 375v6M580.5 375v6M581.5 375v6M582.5 375v6M583.5 375v6M595.5 375v6M101.5 387v6M102.5 387v6M103.5 387v6M104.5 387v6M134.5 387v6M141.5 387v6M147.5 387v6M148.5 387v6M149.5 387v6M157.5 387v6M158.5 387v6M159.5 387v6M160.5 387v6M186.5 387v6M187.5 387v6M199.5 387v6M201.5 387v6M202.5 387v6M203.5 387v6M204.5 387v6M223.5 387v6M224.5 387v6M225.5 387v6M250.5 387v6M256.5 387v6M257.5 387v6M258.5 387v6M287.5 387v6M288.5 387v6M289.5 387v6M290.5 387v6M292.5 387v6M293.5 387v6M294.5 387v6M295.5 387v6M346.5 387v6M353.5 387v6M354.5 387v6M355.5 387v6M356.5 387v6M357.5 387v6M358.5 387v6M359.5 387v6M360.5 387v6M362.5 387v6M363.5 387v6M364.5 387v6M366.5 387v6M367.5 387v6M368.5 387v6M379.5 387v6M380.5 387v6M381.5 387v6M382.5 387v6M389.5 387v6M390.5 387v6M391.5 387v6M392.5 387v6M395.5 387v6M400.5 387v6M418.5 387v6M428.5 387v6M429.5 387v6M430.5 387v6M453.5 387v6M466.5 387v6M467.5 387v6M468.5 387v6M469.5 387v6M470.5 387v6M471.5 387v6M488.5 387v6M489.5 387v6M508.5 387v6M512.5 387v6M513.5 387v6M514.5 387v6M515.5 387v6M516.5 387v6M548.5 387v6M549.5 387v6M572.5 387v6M573.5 387v6M574.5 387v6M575.5 387v6M599.5 387v6"/>
<path stroke="#0ff" stroke-opacity="0.3" d="M101.5 205v11M102.5 205v11M108.5 205v11M170.5 205v11M171.5 205v11M172.5 205v11M184.5 205v11M185.5 205v11M186.5 205v11M187.5 205v11M209.5 205v11M216.5 205v11M221.5 205v11M222.5 205v11M223.5 205v11M224.5 205v11M250.5 205v11M251.5 205v11M252.5 205v11M259.5 205v11M260.5 205v11M261.5 205v11M262.5 205v11M274.5 205v11M341.5 205v11M350.5 205v11M351.5 205v11M352.5 205v11M373.5 205v11M390.5 205v11M391.5 205v11M392.5 205v11M393.5 205v11M413.5 205v11M414.5 205v11M416.5 205v11M417.5 205v11M418.5 205v11M419.5 205v11M432.5 205v11M433.5 205v11M434.5 205v11M435.5 205v11M509.5 205v11M524.5 205v11M551.5 205v11M552.5 205v11M553.5 205v11M561.5 205v11M562.5 205v11M563.5 205v11M576.5 205v11M577.5 205v11M578.5 205v11M579.5 205v11M580.5 205v11M581.5 205v11M582.5 205v11M591.5 205v11M592.5 205v11M593.5 205v11M594.5 205v11M595.5 205v11M596.5 205v11M597.5 205v11M599.5 205v11M126.5 273v11M127.5 273v11M133.5 273v11M134.5 273v11M135.5 273v11M136.5 273v11M137.5 273v11M138.5 273v11M139.5 273v11M140.5 273v11M149.5 273v11M150.5 273v11M151.5 273v11M171.5 273v11M172.5 273v11M173.5 273v11M176.5 273v11M177.5 273v11M178.5 273v11M184.5 273v11M185.5 273v11M191.5 273v11M192.5 273v11M193.5 273v11M229.5 273v11M230.5 273v11M251.5 273v11M252.5 273v11M253.5 273v11M254.5 273v11M260.5 273v11M261.5 273v11M262.5 273v11M272.5 273v11M275.5 273v11M294.5 273v11M295.5 273v11M296.5 273v11M297.5 273v11M301.5 273v11M302.5 273v11M303.5 273v11M308.5 273v11M309.5 273v11M320.5 273v11M321.5 273v11M322.5 273v11M391.5 273v11M438.5 273v11M439.5 273v11M440.5 273v11M449.5 273v11M450.5 273v11M451.5 273v11M452.5 273v11M463.5 273v11M464.5 273v11M478.5 273v11M479.5 273v11M480.5 273v11M481.5 273v11M484.5 273v11M485.5 273v11M486.5 273v11M527.5 273v11M528.5 273v11M564.5 273v11M565.5 273v11M566.5 273v11M580.5 273v11M581.5 273v11M582.5 273v11M583.5 273v11M141.5 363v7M142.5 363v7M143.5 363v7M157.5 363v7M158.5 363v7M159.5 363v7M160.5 363v7M197.5 363v7M198.5 363v7M199.5 363v7M204.5 363v7M205.5 363v7M206.5 363v7M207.5 363v7M216.5 363v7M217.5 363v7M218.5 363v7M219.5 363v7M223.5 363v7M224.5 363v7M225.5 363v7M226.5 363v7M269.5 363v7M285.5 363v7M286.5 363v7M287.5 363v7M288.5 363v7M289.5 363v7M290.5 363v7M291.5 363v7M297.5 363v7M317.5 363v7M318.5 363v7M320.5 363v7M321.5 363v7M322.5 363v7M323.5 363v7M324.5 363v7M325.5 363v7M339.5 363v7M344.5 363v7M345.5 363v7M346.5 363v7M350.5 363v7M351.5 363v7M352.5 363v7M353.5 363v7M364.5 363v7M365.5 363v7M366.5 363v7M369.5 363v7M370.5 363v7M374.5 363v7M375.5 363v7M376.5 363v7M377.5 363v7M391.5 363v7M395.5 363v7M396.5 363v7M406.5 363v7M407.5 363v7M408.5 363v7M409.5 363v7M427.5 363v7M428.5 363v7M429.5 363v7M447.5 363v7M448.5 363v7M449.5 363v7M450.5 363v7M472.5 363v7M473.5 363v7M474.5 363v7M502.5 363v7M503.5 363v7M536.5 363v7M537.5 363v7M538.5 363v7M554.5 363v7M555.5 363v7M556.5 363v7M557.5 363v7M558.5 363v7M559.5 363v7M572.5 363v7M573.5 363v7M574.5 363v7M575.5 363v7M595.5 363v7M596.5 363v7M597.5 363v7M598.5 363v7M105.5 375v6M106.5 375v6M107.5 375v6M111.5 375v6M118.5 375v6M119.5 375v6M120.5 375v6M123.5 375v6M129.5 375v6M130.5 375v6M131.5 375v6M132.5 375v6M133.5 375v6M134.5 375v6M139.5 375v6M160.5 375v6M161.5 375v6M162.5 375v6M174.5 375v6M184.5 375v6M185.5 375v6M186.5 375v6M187.5 375v6M200.5 375v6M201.5 375v6M202.5 375v6M203.5 375v6M204.5 375v6M205.5 375v6M206.5 375v6M208.5 375v6M209.5 375v6M210.5 375v6M229.5 375v6M233.5 375v6M234.5 375v6M235.5 375v6M236.5 375v6M255.5 375v6M256.5 375v6M258.5 375v6M259.5 375v6M260.5 375v6M261.5 375v6M291.5 375v6M292.5 375v6M293.5 375v6M294.5 375v6M323.5 375v6M324.5 375v6M325.5 375v6M326.5 375v6M361.5 375v6M362.5 375v6M363.5 375v6M364.5 375v6M366.5 375v6M368.5 375v6M369.5 375v6M370.5 375v6M372.5 375v6M373.5 375v6M374.5 375v6M385.5 375v6M386.5 375v6M387.5 375v6M392.5 375v6M393.5 375v6M394.5 375v6M395.5 375v6M399.5 375v6M404.5 375v6M405.5 375v6M406.5 375v6M412.5 375v6M417.5 375v6M418.5 375v6M419.5 375v6M420.5 375v6M421.5 375v6M462.5 375v6M463.5 375v6M464.5 375v6M465.5 375v6M467.5 375v6M468.5 375v6M469.5 375v6M483.5 375v6M484.5 375v6M485.5 375v6M489.5 375v6M490.5 375v6M491.5 375v6M506.5 375v6M507.5 375v6M515.5 375v6M534.5 375v6M535.5 375v6M538.5 375v6M545.5 375v6M546.5 375v6M547.5 375v6M548.5 375v6M571.5 375v6M572.5 375v6M573.5 375v6M574.5 375v6M106.5 387v6M107.5 387v6M108.5 387v6M109.5 387v6M216.5 387v6M217.5 387v6M218.5 387v6M219.5 387v6M252.5 387v6M253.5 387v6M254.5 387v6M259.5 387v6M260.5 387v6M261.5 387v6M271.5 387v6M272.5 387v6M277.5 387v6M278.5 387v6M282.5 387v6M283.5 387v6M284.5 387v6M285.5 387v6M296.5 387v6M297.5 387v6M298.5 387v6M306.5 387v6M307.5 387v6M308.5 387v6M309.5 387v6M319.5 387v6M320.5 387v6M336.5 387v6M341.5 387v6M342.5 387v6M377.5 387v6M378.5 387v6M384.5 387v6M409.5 387v6M410.5 387v6M411.5 387v6M412.5 387v6M440.5 387v6M441.5 387v6M442.5 387v6M464.5 387v6M465.5 387v6M485.5 387v6M486.5 387v6M503.5 387v6M504.5 387v6M530.5 387v6M531.5 387v6M532.5 387v6M533.5 387v6M550.5 387v6M551.5 387v6M552.5 387v6M553.5 387v6M561.5 387v6M562.5 387v6M563.5 387v6M564.5 387v6M576.5 387v6M577.5 387v6"/>
<path stroke="#0ff" stroke-opacity="0.4" d="M107.5 205v11M161.5 205v11M177.5 205v11M178.5 205v11M179.5 205v11M180.5 205v11M183.5 205v11M213.5 205v11M214.5 205v11M217.5 205v11M218.5 205v11M243.5 205v11M244.5 205v11M245.5 205v11M246.5 205v11M253.5 205v11M254.5 205v11M271.5 205v11M272.5 205v11M313.5 205v11M314.5 205v11M315.5 205v11M328.5 205v11M361.5 205v11M362.5 205v11M364.5 205v11M365.5 205v11M366.5 205v11M367.5 205v11M369.5 205v11M370.5 205v11M371.5 205v11M372.5 205v11M384.5 205v11M385.5 205v11M397.5 205v11M398.5 205v11M421.5 205v11M422.5 205v11M444.5 205v11M445.5 205v11M446.5 205v11M447.5 205v11M492.5 205v11M493.5 205v11M494.5 205v11M495.5 205v11M504.5 205v11M505.5 205v11M506.5 205v11M507.5 205v11M515.5 205v11M516.5 205v11M517.5 205v11M550.5 205v11M569.5 205v11M589.5 205v11M112.5 273v11M113.5 273v11M119.5 273v11M120.5 273v11M121.5 273v11M155.5 273v11M156.5 273v11M157.5 273v11M158.5 273v11M179.5 273v11M180.5 273v11M181.5 273v11M182.5 273v11M183.5 273v11M212.5 273v11M213.5 273v11M214.5 273v11M243.5 273v11M244.5 273v11M249.5 273v11M250.5 273v11M273.5 273v11M274.5 273v11M287.5 273v11M299.5 273v11M304.5 273v11M305.5 273v11M306.5 273v11M318.5 273v11M319.5 273v11M334.5 273v11M359.5 273v11M360.5 273v11M361.5 273v11M362.5 273v11M419.5 273v11M420.5 273v11M421.5 273v11M446.5 273v11M447.5 273v11M471.5 273v11M511.5 273v11M519.5 273v11M525.5 273v11M529.5 273v11M530.5 273v11M531.5 273v11M532.5 273v11M547.5 273v11M548.5 273v11M570.5 273v11M579.5 273v11M587.5 273v11M588.5 273v11M589.5 273v11M590.5 273v11M101.5 363v7M102.5 363v7M103.5 363v7M104.5 363v7M117.5 363v7M121.5 363v7M122.5 363v7M123.5 363v7M124.5 363v7M125.5 363v7M126.5 363v7M144.5 363v7M145.5 363v7M146.5 363v7M147.5 363v7M149.5 363v7M150.5 363v7M151.5 363v7M153.5 363v7M154.5 363v7M162.5 363v7M163.5 363v7M164.5 363v7M165.5 363v7M166.5 363v7M180.5 363v7M181.5 363v7M182.5 363v7M220.5 363v7M221.5 363v7M222.5 363v7M233.5 363v7M234.5 363v7M262.5 363v7M263.5 363v7M265.5 363v7M284.5 363v7M334.5 363v7M335.5 363v7M336.5 363v7M337.5 363v7M357.5 363v7M358.5 363v7M359.5 363v7M360.5 363v7M400.5 363v7M401.5 363v7M419.5 363v7M420.5 363v7M421.5 363v7M422.5 363v7M423.5 363v7M424.5 363v7M425.5 363v7M455.5 363v7M456.5 363v7M457.5 363v7M471.5 363v7M483.5 363v7M484.5 363v7M485.5 363v7M486.5 363v7M487.5 363v7M520.5 363v7M521.5 363v7M522.5 363v7M523.5 363v7M551.5 363v7M552.5 363v7M553.5 363v7M589.5 363v7M592.5 363v7M101.5 375v6M102.5 375v6M103.5 375v6M135.5 375v6M136.5 375v6M137.5 375v6M138.5 375v6M154.5 375v6M169.5 375v6M179.5 375v6M180.5 375v6M181.5 375v6M182.5 375v6M212.5 375v6M213.5 375v6M214.5 375v6M240.5 375v6M241.5 375v6M266.5 375v6M267.5 375v6M273.5 375v6M274.5 375v6M275.5 375v6M276.5 375v6M310.5 375v6M311.5 375v6M312.5 375v6M313.5 375v6M320.5 375v6M321.5 375v6M330.5 375v6M389.5 375v6M390.5 375v6M408.5 375v6M424.5 375v6M425.5 375v6M426.5 375v6M427.5 375v6M428.5 375v6M429.5 375v6M430.5 375v6M457.5 375v6M458.5 375v6M459.5 375v6M460.5 375v6M471.5 375v6M472.5 375v6M473.5 375v6M487.5 375v6M488.5 375v6M495.5 375v6M496.5 375v6M497.5 375v6M498.5 375v6M499.5 375v6M500.5 375v6M501.5 375v6M518.5 375v6M519.5 375v6M520.5 375v6M522.5 375v6M523.5 375v6M524.5 375v6M525.5 375v6M531.5 375v6M550.5 375v6M551.5 375v6M552.5 375v6M563.5 375v6M564.5 375v6M565.5 375v6M115.5 387v6M116.5 387v6M118.5 387v6M119.5 387v6M126.5 387v6M127.5 387v6M128.5 387v6M130.5 387v6M136.5 387v6M137.5 387v6M214.5 387v6M226.5 387v6M227.5 387v6M228.5 387v6M229.5 387v6M316.5 387v6M317.5 387v6M328.5 387v6M329.5 387v6M330.5 387v6M331.5 387v6M334.5 387v6M374.5 387v6M375.5 387v6M405.5 387v6M406.5 387v6M407.5 387v6M408.5 387v6M415.5 387v6M416.5 387v6M417.5 387v6M454.5 387v6M455.5 387v6M456.5 387v6M457.5 387v6M473.5 387v6M474.5 387v6M475.5 387v6M476.5 387v6M477.5 387v6M478.5 387v6M479.5 387v6M591.5 387v6M592.5 387v6M593.5 387v6M594.5 387v6M595.5 387v6M596.5 387v6M597.5 387v6"/>
<path stroke="#0ff" stroke-opacity="0.5" d="M135.5 205v11M136.5 205v11M137.5 205v11M138.5 205v11M157.5 205v11M158.5 205v11M159.5 205v11M173.5 205v11M174.5 205v11M175.5 205v11M176.5 205v11M182.5 205v11M196.5 205v11M197.5 205v11M198.5 205v11M199.5 205v11M232.5 205v11M233.5 205v11M264.5 205v11M265.5 205v11M295.5 205v11M296.5 205v11M297.5 205v11M298.5 205v11M299.5 205v11M326.5 205v11M327.5 205v11M358.5 205v11M359.5 205v11M360.5 205v11M379.5 205v11M380.5 205v11M381.5 205v11M423.5 205v11M424.5 205v11M457.5 205v11M458.5 205v11M459.5 205v11M474.5 205v11M475.5 205v11M476.5 205v11M511.5 205v11M512.5 205v11M513.5 205v11M514.5 205v11M532.5 205v11M533.5 205v11M534.5 205v11M536.5 205v11M537.5 205v11M573.5 205v11M586.5 205v11M587.5 205v11M588.5 205v11M255.5 273v11M256.5 273v11M257.5 273v11M258.5 273v11M265.5 273v11M266.5 273v11M267.5 273v11M289.5 273v11M290.5 273v11M291.5 273v11M292.5 273v11M331.5 273v11M332.5 273v11M350.5 273v11M351.5 273v11M372.5 273v11M373.5 273v11M375.5 273v11M376.5 273v11M377.5 273v11M386.5 273v11M405.5 273v11M406.5 273v11M407.5 273v11M417.5 273v11M455.5 273v11M456.5 273v11M457.5 273v11M458.5 273v11M473.5 273v11M474.5 273v11M475.5 273v11M557.5 273v11M558.5 273v11M560.5 273v11M561.5 273v11M562.5 273v11M563.5 273v11M105.5 363v7M106.5 363v7M192.5 363v7M193.5 363v7M252.5 363v7M253.5 363v7M254.5 363v7M255.5 363v7M313.5 363v7M314.5 363v7M315.5 363v7M316.5 363v7M431.5 363v7M467.5 363v7M468.5 363v7M469.5 363v7M470.5 363v7M507.5 363v7M508.5 363v7M509.5 363v7M510.5 363v7M527.5 363v7M528.5 363v7M529.5 363v7M530.5 363v7M561.5 363v7M562.5 363v7"/>
<path stroke="#0ff" stroke-opacity=".22" d="M101 414.5h150M101 415.5h150M101 416.5h150M101 417.5h150M101 418.5h150M101 419.5h150M101 420.5h150M101 421.5h150M101 422.5h150M101 423.5h150M101 424.5h150M101 425.5h150M101 426.5h150M101 427.5h150M101 428.5h150M101 429.5h150M101 430.5h150"/>
<path stroke="#0ff" stroke-opacity=".1" d="M251 414.5h40M251 415.5h40M251 416.5h40M251 417.5h40M251 418.5h40M251 419.5h40M251 420.5h40M251 421.5h40M251 422.5h40M251 423.5h40M251 424.5h40M251 425.5h40M251 426.5h40M251 427.5h40M251 428.5h40M251 429.5h40M251 430.5h40"/>
<path stroke="#00c" stroke-opacity=".18" d="M430 414.5h170M430 415.5h170M430 416.5h170M430 417.5h170M430 418.5h170M430 419.5h170M430 420.5h170M430 421.5h170M430 422.5h170M430 423.5h170M430 424.5h170M430 425.5h170M430 426.5h170M430 427.5h170M430 428.5h170M430 429.5h170M430 430.5h170"/>
<path stroke="#00a" stroke-opacity="0.2" d="M105.5 437v1M119.5 435v1M121.5 435v2M126.5 436v2M135.5 435v3M144.5 434v2M154.5 437v1M161.5 437v1M173.5 434v3M190.5 436v2M192.5 436v3M200.5 434v2M209.5 435v3M211.5 436v1M223.5 435v2M225.5 434v2M234.5 435v2M242.5 436v3M246.5 434v2M255.5 437v1M258.5 434v1M261.5 436v3M264.5 436v3M272.5 436v3M282.5 435v2M290.5 434v2M303.5 438v1M312.5 436v2M352.5 436v1M361.5 435v3M370.5 437v1M373.5 434v1M379.5 436v3M396.5 436v1M402.5 437v2M411.5 434v3M429.5 434v3M443.5 438v1M453.5 435v2M468.5 436v2M473.5 434v3M475.5 434v3M489.5 436v3M496.5 438v1M511.5 435v3M523.5 436v3M524.5 436v2M526.5 436v2M529.5 436v3M530.5 436v1M552.5 436v2M554.5 435v1M555.5 434v3M571.5 435v3M583.5 435v2"/>
<path stroke="#00a" stroke-opacity="0.3" d="M122.5 435v2M128.5 435v3M141.5 435v3M152.5 437v1M153.5 436v2M169.5 434v2M191.5 434v1M196.5 436v2M205.5 436v3M213.5 436v3M217.5 435v3M222.5 436v2M229.5 435v1M235.5 435v2M241.5 434v2M256.5 435v3M257.5 435v3M263.5 434v3M268.5 435v1M270.5 434v1M297.5 438v1M302.5 434v3M306.5 437v1M313.5 434v2M355.5 436v2M356.5 434v3M367.5 435v3M372.5 436v2M377.5 435v1M382.5 437v2M392.5 434v1M400.5 437v1M406.5 436v3M412.5 435v3M420.5 435v2M425.5 436v2M427.5 437v1M428.5 434v2M430.5 435v2M432.5 434v1M434.5 434v3M436.5 438v1M438.5 435v2M446.5 437v2M449.5 435v2M455.5 435v1M456.5 435v3M457.5 435v3M462.5 438v1M466.5 436v1M472.5 435v3M481.5 436v2M482.5 435v3M485.5 435v3M503.5 434v3M510.5 435v1M512.5 434v3M531.5 438v1M532.5 435v2M534.5 434v2M548.5 434v2M549.5 434v3M560.5 434v3M565.5 435v2M573.5 436v3M574.5 437v1M577.5 436v3M578.5 435v3M579.5 437v2M592.5 434v1M595.5 436v1M596.5 437v1M599.5 436v3"/>
<path stroke="#00a" stroke-opacity="0.4" d="M108.5 434v2M109.5 435v1M110.5 437v2M111.5 436v3M112.5 434v1M127.5 434v3M142.5 435v1M148.5 434v3M150.5 436v2M162.5 436v2M170.5 435v3M172.5 437v2M175.5 437v1M176.5 437v1M179.5 436v2M182.5 436v3M187.5 436v3M189.5 434v1M193.5 434v2M194.5 434v2M195.5 437v2M199.5 434v3M201.5 434v2M202.5 436v3M204.5 437v1M212.5 434v3M214.5 436v1M215.5 434v2M218.5 436v2M220.5 434v3M226.5 435v2M230.5 437v1M231.5 435v3M232.5 437v2M251.5 436v3M265.5 437v1M267.5 434v2M271.5 435v3M291.5 434v1M294.5 434v1M309.5 434v1M316.5 437v1M317.5 435v3M322.5 434v2M328.5 436v3M332.5 435v2M333.5 437v1M341.5 437v2M342.5 434v2M345.5 435v1M357.5 435v1M358.5 436v2M360.5 434v3M374.5 435v3M381.5 435v3M387.5 434v3M388.5 434v2M398.5 436v3M399.5 437v1M404.5 434v3M414.5 434v3M435.5 437v2M440.5 435v3M463.5 438v1M470.5 435v3M480.5 437v1M497.5 434v2M498.5 436v3M513.5 435v1M518.5 437v1M519.5 434v3M525.5 437v1M527.5 436v1M533.5 436v1M545.5 437v2M547.5 437v1M558.5 435v1M559.5 434v3M572.5 436v3M585.5 434v3M590.5 437v2M591.5 436v2"/>
<path stroke="#00a" stroke-opacity="0.5" d="M117.5 434v1M138.5 435v1M140.5 434v1M185.5 434v1M197.5 434v3M206.5 436v3M228.5 435v3M239.5 434v2M247.5 435v3M254.5 436v2M273.5 436v1M293.5 435v3M295.5 435v3M314.5 436v1M318.5 435v2M319.5 436v2M331.5 436v2M338.5 435v3M340.5 436v1M366.5 434v3M380.5 434v3M413.5 434v3M416.5 435v2M422.5 434v3M444.5 436v1M445.5 437v2M452.5 438v1M454.5 434v1M493.5 434v2M494.5 435v2M502.5 435v3M521.5 437v2M538.5 434v3M550.5 435v3M556.5 436v1M563.5 434v2M580.5 434v3M584.5 438v1M588.5 434v2M594.5 436v3"/>
<path stroke="#00c" stroke-opacity="0.2" d="M101.5 419v4M102.5 420v6M111.5 429v2M117.5 416v4M129.5 414v5M140.5 420v6M149.5 418v5M166.5 418v5M167.5 414v6M170.5 418v6M176.5 418v5M181.5 417v2M183.5 416v5M192.5 415v6M193.5 425v6M195.5 420v4M198.5 417v6M202.5 418v3M205.5 422v5M209.5 420v5M211.5 429v2M214.5 428v3M218.5 426v5M219.5 422v6M228.5 419v2M243.5 417v6M253.5 419v4M260.5 423v4M265.5 419v3M277.5 422v6M280.5 419v3M288.5 418v4M289.5 420v6M300.5 424v4M302.5 423v2M311.5 425v6M313.5 419v6M314.5 419v2M316.5 427v2M317.5 426v3M319.5 421v5M321.5 416v2M329.5 414v3M344.5 424v3M355.5 416v3M357.5 418v3M363.5 421v5M368.5 423v3M369.5 416v2M382.5 421v3M386.5 417v2M395.5 417v2M399.5 419v5M406.5 414v2M408.5 418v4M427.5 423v2M431.5 414v3M432.5 416v5M435.5 415v6M436.5 421v3M443.5 414v5M452.5 414v6M453.5 424v6M457.5 428v3M460.5 419v4M461.5 424v5M463.5 421v3M466.5 422v2M475.5 424v5M477.5 422v3M493.5 415v3M494.5 425v4M500.5 425v4M521.5 415v4M528.5 421v3M529.5 428v2M538.5 414v4M551.5 414v2M553.5 425v4M557.5 416v2M560.5 426v3M565.5 419v5M566.5 417v3M569.5 425v2M580.5 423v3M583.5 423v2M587.5 415v3M594.5 421v6M599.5 420v2"/>
<path stroke="#00c" stroke-opacity="0.3" d="M103.5 429v2M108.5 416v4M110.5 423v5M113.5 423v3M124.5 417v5M126.5 415v2M138.5 418v5M141.5 416v3M145.5 418v4M155.5 426v3M156.5 421v4M157.5 422v6M158.5 424v4M159.5 416v2M161.5 415v4M162.5 420v6M172.5 425v5M177.5 427v2M180.5 429v2M188.5 422v6M194.5 422v4M197.5 417v2M201.5 418v5M217.5 424v5M239.5 427v2M240.5 416v3M241.5 416v2M255.5 424v6M258.5 417v5M271.5 419v5M298.5 420v6M318.5 424v3M320.5 424v6M322.5 424v3M323.5 417v4M325.5 420v5M332.5 418v6M334.5 416v4M338.5 428v2M342.5 422v5M348.5 422v6M353.5 419v6M354.5 425v3M358.5 425v2M366.5 425v2M367.5 424v6M374.5 417v2M375.5 416v3M385.5 429v2M394.5 420v6M401.5 417v6M404.5 420v5M409.5 417v6M411.5 423v6M413.5 424v2M416.5 424v4M419.5 425v5M421.5 425v2M437.5 428v3M441.5 420v6M445.5 419v5M449.5 418v5M456.5 419v2M458.5 414v4M469.5 415v2M470.5 418v4M476.5 425v4M487.5 424v4M513.5 422v5M514.5 417v6M518.5 414v4M519.5 418v3M523.5 418v3M526.5 426v2M527.5 416v3M532.5 420v6M536.5 420v3M548.5 419v4M549.5 426v4M564.5 417v6M572.5 424v2M575.5 421v6M577.5 417v4M579.5 419v6M585.5 422v2M586.5 426v3M589.5 428v2M590.5 425v3M591.5 418v2M593.5 424v6M595.5 422v4M598.5 415v2"/>
<path stroke="#00c" stroke-opacity="0.4" d="M116.5 423v3M137.5 419v5M142.5 425v4M187.5 415v3M196.5 417v6M216.5 423v2M230.5 425v6M235.5 416v6M250.5 415v2M272.5 417v5M273.5 424v5M279.5 422v5M290.5 414v3M293.5 424v6M303.5 418v3M309.5 424v3M315.5 418v4M336.5 426v2M339.5 424v4M359.5 415v6M361.5 414v6M371.5 421v5M379.5 419v5M398.5 420v4M446.5 423v3M465.5 415v2M480.5 423v4M484.5 423v4M485.5 416v4M486.5 428v3M488.5 420v2M499.5 425v6M501.5 416v3M506.5 426v5M509.5 425v5M515.5 421v5M550.5 419v2M552.5 424v6M562.5 414v6M563.5 419v4M576.5 417v6M582.5 417v6"/>
<path stroke="#03f" stroke-opacity="0.2" d="M101.5 443v1M104.5 459v6M113.5 459v6M123.5 449v2M136.5 459v6M140.5 443v1M144.5 459v6M153.5 459v6M161.5 459v6M176.5 459v6M184.5 459v6M209.5 459v6M210.5 445v1M217.5 459v6M220.5 449v1M224.5 459v6M234.5 449v2M236.5 447v2M240.5 459v6M248.5 459v6M257.5 459v6M263.5 448v2M264.5 459v6M273.5 459v6M281.5 459v6M289.5 459v6M296.5 459v6M310.5 447v1M320.5 443v2M328.5 459v6M357.5 449v1M358.5 449v2M366.5 445v1M373.5 449v2M381.5 447v2M414.5 449v1M415.5 446v1M469.5 447v1M472.5 445v2M485.5 443v2M488.5 448v2M524.5 447v1M547.5 443v2M549.5 446v2M567.5 443v1"/>
<path stroke="#03f" stroke-opacity="0.3" d="M122.5 446v2M135.5 447v1M139.5 449v1M155.5 449v2M158.5 445v1M159.5 447v1M163.5 443v2M167.5 445v1M169.5 444v1M170.5 449v1M171.5 443v2M175.5 444v1M176.5 446v2M181.5 446v1M183.5 443v1M184.5 447v2M185.5 448v1M186.5 449v2M189.5 447v2M190.5 447v1M198.5 447v2M199.5 448v2M200.5 446v2M201.5 445v2M218.5 444v2M227.5 444v2M239.5 443v1M242.5 449v1M248.5 443v2M251.5 444v1M253.5 445v1M255.5 445v1M256.5 445v2M257.5 448v2M260.5 447v1M267.5 446v1M296.5 444v2M297.5 446v1M301.5 444v2M312.5 443v1M313.5 443v1M314.5 443v1M318.5 448v1M331.5 445v2M335.5 449v2M337.5 449v1M376.5 445v1M389.5 444v2M394.5 443v2M401.5 445v1M407.5 445v1M418.5 443v2M426.5 446v2M444.5 447v2M445.5 445v2M457.5 448v2M463.5 443v1M465.5 449v1M466.5 449v2M471.5 448v1M474.5 445v2M482.5 445v2M506.5 447v2M508.5 447v2M522.5 448v1M523.5 449v2M560.5 449v2M563.5 443v1M568.5 447v1M579.5 448v1M580.5 445v2M583.5 443v2M595.5 448v2"/>
<path stroke="#03f" stroke-opacity="0.4" d="M103.5 446v1M105.5 443v1M112.5 443v2M114.5 443v1M120.5 445v2M121.5 444v2M145.5 445v1M172.5 449v1M179.5 449v1M194.5 449v1M197.5 444v1M211.5 448v2M212.5 449v2M233.5 443v2M246.5 448v2M254.5 448v2M262.5 443v2M268.5 447v1M275.5 446v1M285.5 443v1M286.5 448v2M295.5 449v2M304.5 445v2M305.5 447v1M308.5 445v2M316.5 448v1M319.5 443v2M325.5 447v2M338.5 445v2M339.5 448v2M349.5 448v1M352.5 443v1M356.5 443v2M378.5 449v2M384.5 446v2M385.5 444v2M387.5 443v1M392.5 447v1M397.5 444v1M404.5 443v2M410.5 448v1M432.5 444v1M439.5 446v2M446.5 448v1M447.5 448v1M473.5 447v2M476.5 447v2M483.5 448v2M496.5 447v2M497.5 447v2M498.5 443v1M505.5 446v2M515.5 449v2M519.5 449v1M535.5 444v2M543.5 445v2M562.5 446v2M571.5 443v1M592.5 443v2M594.5 446v2"/>
<path stroke="#03f" stroke-opacity="0.5" d="M108.5 449v1M110.5 446v2M115.5 449v2M116.5 444v1M129.5 447v1M132.5 443v2M150.5 447v2M151.5 446v1M160.5 445v1M165.5 446v2M177.5 446v2M187.5 443v1M188.5 445v1M196.5 447v2M206.5 448v1M208.5 445v2M209.5 446v1M213.5 444v1M217.5 447v1M223.5 444v1M230.5 446v2M240.5 448v2M241.5 448v2M245.5 443v2M249.5 449v1M250.5 444v1M269.5 444v1M271.5 443v1M274.5 447v1M279.5 448v1M282.5 449v1M302.5 449v2M309.5 447v1M317.5 446v2M324.5 446v2M326.5 443v2M340.5 446v1M348.5 448v2M350.5 447v2M354.5 449v1M359.5 449v1M360.5 446v2M361.5 446v2M371.5 446v1M386.5 444v2M390.5 449v2M393.5 443v1M420.5 448v2M423.5 445v2M424.5 446v1M440.5 449v2M441.5 445v2M442.5 449v2M449.5 444v1M455.5 445v1M458.5 443v2M459.5 446v1M467.5 449v2M470.5 445v2M484.5 445v1M486.5 446v2M490.5 445v2M499.5 445v2M512.5 444v2M520.5 445v2M525.5 444v2M533.5 444v2M542.5 446v1M553.5 443v2M559.5 448v2M561.5 443v2M565.5 445v2M569.5 447v2M581.5 443v2M587.5 445v1M588.5 445v1M589.5 448v1M591.5 447v1M598.5 444v1"/>
<path stroke="#03f" stroke-opacity="0.6" d="M107.5 445v1M125.5 446v2M130.5 448v1M136.5 443v2M164.5 443v1M174.5 446v1M191.5 443v2M195.5 447v1M214.5 449v1M258.5 443v2M270.5 446v2M280.5 448v1M306.5 448v1M315.5 444v2M341.5 447v1M368.5 447v2M372.5 448v1M374.5 444v1M377.5 447v2M395.5 444v1M396.5 446v2M402.5 443v1M411.5 445v1M434.5 448v1M450.5 449v2M453.5 448v1M461.5 447v2M464.5 446v1M492.5 448v1M509.5 444v2M510.5 447v1M511.5 449v1"/>
<path stroke="#0cf" stroke-opacity="0.3" d="M102.5 438v2M124.5 439v1M141.5 439v1M165.5 433v1M168.5 433v3M183.5 439v1M189.5 437v3M209.5 433v1M213.5 438v2M220.5 437v3M231.5 439v1M269.5 439v1M282.5 433v3M294.5 433v2M327.5 439v1M333.5 433v1M343.5 433v2M368.5 439v1M385.5 438v2M391.5 437v3M399.5 433v1M408.5 437v3M413.5 438v2M419.5 438v2M424.5 433v3M450.5 433v2M462.5 433v3M482.5 437v3M486.5 433v2M489.5 433v3M497.5 433v3M498.5 439v1M517.5 433v2M539.5 433v2M568.5 438v2M579.5 433v3M597.5 439v1"/>
<path stroke="#0cf" stroke-opacity="0.4" d="M104.5 438v2M113.5 438v2M115.5 433v2M117.5 437v3M126.5 437v3M137.5 433v2M138.5 438v2M139.5 433v3M142.5 439v1M154.5 433v1M155.5 438v2M163.5 439v1M166.5 439v1M171.5 433v2M172.5 433v3M174.5 439v1M177.5 439v1M181.5 433v3M186.5 433v1M194.5 438v2M212.5 433v3M215.5 437v3M223.5 433v3M235.5 438v2M236.5 437v3M242.5 437v3M247.5 437v3M259.5 439v1M263.5 437v3M265.5 433v2M267.5 433v3M271.5 439v1M274.5 433v3M280.5 433v3M296.5 433v2M328.5 438v2M337.5 437v3M338.5 433v3M339.5 438v2M355.5 433v2M365.5 433v1M369.5 433v1M374.5 439v1M377.5 433v2M400.5 438v2M401.5 438v2M402.5 433v2M406.5 433v2M418.5 438v2M423.5 433v1M427.5 437v3M434.5 433v2M437.5 433v1M449.5 433v2M456.5 433v2M464.5 439v1M466.5 437v3M478.5 433v3M496.5 437v3M504.5 437v3M510.5 438v2M527.5 433v2M531.5 433v1M533.5 433v1M537.5 433v1M543.5 437v3M545.5 438v2M546.5 438v2M551.5 433v1M570.5 433v1M571.5 433v2M575.5 433v3M578.5 437v3M583.5 433v1M585.5 437v3M587.5 433v1M593.5 438v2"/>
<path stroke="#0cf" stroke-opacity="0.5" d="M106.5 438v2M109.5 438v2M125.5 433v1M131.5 433v3M140.5 438v2M144.5 433v1M150.5 433v2M156.5 433v1M159.5 437v3M185.5 439v1M192.5 433v3M203.5 438v2M221.5 433v3M228.5 439v1M230.5 437v3M248.5 437v3M262.5 433v3M270.5 437v3M284.5 433v2M287.5 438v2M288.5 433v1M315.5 439v1M321.5 439v1M325.5 437v3M326.5 437v3M332.5 437v3M344.5 438v2M357.5 433v2M358.5 437v3M364.5 437v3M372.5 433v1M378.5 438v2M379.5 433v2M380.5 433v1M384.5 433v2M388.5 433v2M389.5 439v1M395.5 437v3M411.5 437v3M416.5 439v1M420.5 439v1M428.5 437v3M429.5 433v1M435.5 439v1M445.5 433v1M454.5 437v3M459.5 433v2M468.5 433v1M472.5 437v3M484.5 433v3M508.5 433v2M512.5 433v1M516.5 437v3M518.5 433v1M538.5 433v2M544.5 433v3M554.5 438v2M556.5 433v2M562.5 433v1M563.5 438v2M564.5 437v3M572.5 438v2M580.5 439v1M586.5 433v3"/>
<path stroke="#0cf" stroke-opacity="0.6" d="M108.5 433v3M114.5 438v2M116.5 439v1M122.5 433v2M132.5 437v3M147.5 433v1M149.5 433v2M153.5 433v1M182.5 433v2M187.5 433v2M193.5 433v1M195.5 433v1M196.5 433v1M202.5 433v3M204.5 433v3M214.5 433v1M232.5 438v2M234.5 437v3M239.5 433v1M250.5 433v1M257.5 439v1M264.5 437v3M273.5 433v1M283.5 433v3M286.5 439v1M290.5 437v3M303.5 439v1M305.5 433v1M307.5 433v3M309.5 433v2M359.5 437v3M367.5 439v1M383.5 433v2M390.5 433v1M396.5 433v2M407.5 433v3M441.5 433v2M442.5 438v2M443.5 437v3M453.5 433v2M474.5 433v2M479.5 439v1M483.5 437v3M491.5 433v2M509.5 438v2M515.5 433v3M523.5 433v2M528.5 438v2M532.5 433v2M534.5 439v1M535.5 439v1M536.5 438v2M541.5 437v3M557.5 433v1M560.5 438v2M565.5 437v3M591.5 437v3"/>
<path stroke="#0cf" stroke-opacity="0.7" d="M103.5 433v3M112.5 433v1M129.5 437v3M152.5 433v3M176.5 433v1M179.5 433v1M184.5 433v2M224.5 433v2M258.5 437v3M268.5 433v2M275.5 438v2M279.5 439v1M281.5 433v3M297.5 437v3M300.5 438v2M308.5 439v1M312.5 433v3M318.5 438v2M363.5 438v2M375.5 433v2M387.5 433v3M431.5 433v3M455.5 433v3M467.5 437v3M485.5 439v1M487.5 433v2M495.5 433v1M499.5 433v2M505.5 433v1M506.5 433v2M511.5 433v3M553.5 433v1M599.5 433v2"/>
<path stroke="#0fc" stroke-opacity="0.2" d="M116.5 465v1M148.5 465v1M161.5 465v1M175.5 465v1M183.5 465v1M188.5 465v1M210.5 465v1M221.5 465v1M222.5 465v1M264.5 465v1M265.5 465v1M269.5 465v1M278.5 465v1M284.5 465v1M285.5 465v1M300.5 465v1M327.5 465v1M347.5 465v1M353.5 465v1M357.5 465v1M370.5 465v1M392.5 465v1M399.5 465v1M409.5 465v1M433.5 465v1M450.5 465v1M451.5 465v1M452.5 465v1M542.5 465v1M544.5 465v1M547.5 465v1M576.5 465v1M588.5 465v1M599.5 465v1"/>
<path stroke="#0fc" stroke-opacity="0.3" d="M104.5 465v1M110.5 465v1M113.5 465v1M115.5 465v1M125.5 465v1M137.5 465v1M151.5 465v1M165.5 465v1M178.5 465v1M180.5 465v1M189.5 465v1M196.5 465v1M198.5 465v1M205.5 465v1M209.5 465v1M213.5 465v1M214.5 465v1M215.5 465v1M228.5 465v1M238.5 465v1M242.5 465v1M243.5 465v1M254.5 465v1M259.5 465v1M260.5 465v1M270.5 465v1M277.5 465v1M281.5 465v1M292.5 465v1M294.5 465v1M295.5 465v1M297.5 465v1M313.5 465v1M318.5 465v1M355.5 465v1M356.5 465v1M363.5 465v1M364.5 465v1M369.5 465v1M371.5 465v1M372.5 465v1M373.5 465v1M377.5 465v1M408.5 465v1M410.5 465v1M417.5 465v1M420.5 465v1M422.5 465v1M423.5 465v1M429.5 465v1M430.5 465v1M436.5 465v1M443.5 465v1M449.5 465v1M455.5 465v1M456.5 465v1M462.5 465v1M463.5 465v1M471.5 465v1M473.5 465v1M478.5 465v1M503.5 465v1M515.5 465v1M518.5 465v1M530.5 465v1M534.5 465v1M537.5 465v1M549.5 465v1M554.5 465v1M560.5 465v1M566.5 465v1M570.5 465v1M572.5 465v1M579.5 465v1M585.5 465v1M587.5 465v1M594.5 465v1"/>
<path stroke="#0fc" stroke-opacity="0.4" d="M106.5 465v1M117.5 465v1M124.5 465v1M135.5 465v1M136.5 465v1M144.5 465v1M150.5 465v1M154.5 465v1M159.5 465v1M162.5 465v1M169.5 465v1M181.5 465v1M182.5 465v1M190.5 465v1M195.5 465v1M197.5 465v1M207.5 465v1M212.5 465v1M224.5 465v1M231.5 465v1M237.5 465v1M240.5 465v1M245.5 465v1M266.5 465v1M267.5 465v1M268.5 465v1M280.5 465v1M305.5 465v1M306.5 465v1M307.5 465v1M310.5 465v1M312.5 465v1M314.5 465v1M317.5 465v1M326.5 465v1M337.5 465v1M341.5 465v1M361.5 465v1M362.5 465v1M382.5 465v1M385.5 465v1M405.5 465v1M425.5 465v1M435.5 465v1M439.5 465v1M484.5 465v1M492.5 465v1M498.5 465v1M508.5 465v1M513.5 465v1M521.5 465v1M527.5 465v1M533.5 465v1M536.5 465v1M551.5 465v1M580.5 465v1"/>
<path stroke="#0fc" stroke-opacity="0.5" d="M114.5 465v1M127.5 465v1M129.5 465v1M139.5 465v1M143.5 465v1M156.5 465v1M158.5 465v1M191.5 465v1M216.5 465v1M220.5 465v1M225.5 465v1M241.5 465v1M247.5 465v1M258.5 465v1M303.5 465v1M308.5 465v1M328.5 465v1M332.5 465v1M342.5 465v1M348.5 465v1M407.5 465v1M411.5 465v1M427.5 465v1M431.5 465v1M454.5 465v1M466.5 465v1M468.5 465v1M485.5 465v1M493.5 465v1M520.5 465v1M543.5 465v1M591.5 465v1M595.5 465v1"/>
<path stroke="#0ff" stroke-opacity="0.2" d="M102.5 420v9M104.5 421v8M112.5 413v5M112.5 457v2M130.5 457v2M132.5 443v2M133.5 425v4M135.5 415v6M137.5 422v7M139.5 418v10M146.5 419v4M151.5 457v2M152.5 457v2M153.5 414v9M153.5 446v2M155.5 417v10M159.5 414v8M160.5 457v2M162.5 417v3M163.5 420v6M163.5 444v1M163.5 457v2M166.5 457v2M171.5 414v10M174.5 414v9M176.5 427v4M176.5 457v2M178.5 457v2M181.5 420v9M182.5 413v7M183.5 421v5M184.5 426v4M185.5 421v9M187.5 425v4M190.5 457v2M193.5 457v2M194.5 421v8M195.5 419v4M197.5 418v10M198.5 418v4M198.5 457v2M199.5 457v2M200.5 415v5M205.5 421v9M207.5 421v6M209.5 428v3M211.5 414v8M212.5 417v8M214.5 414v6M223.5 414v10M224.5 414v9M229.5 416v6M230.5 421v6M231.5 413v6M236.5 423v7M237.5 443v2M240.5 413v7M241.5 447v1M243.5 413v7M245.5 448v2M246.5 424v7M248.5 417v8M254.5 457v2M258.5 421v7M259.5 413v10M259.5 457v2M262.5 421v6M262.5 446v2M265.5 413v7M268.5 419v5M269.5 419v4M273.5 419v3M276.5 425v4M279.5 414v9M283.5 425v5M284.5 414v3M286.5 446v1M286.5 457v2M287.5 416v3M288.5 419v6M292.5 414v8M297.5 413v4M304.5 421v6M322.5 413v3M324.5 414v9M325.5 419v4M330.5 424v7M332.5 447v1M337.5 423v8M340.5 420v8M345.5 425v4M347.5 423v4M352.5 457v2M355.5 415v10M360.5 415v9M360.5 457v2M361.5 457v2M364.5 457v2M365.5 414v8M366.5 414v4M378.5 414v3M382.5 425v4M382.5 457v2M386.5 449v1M388.5 425v5M388.5 446v1M390.5 414v6M391.5 422v7M392.5 418v3M394.5 415v5M394.5 443v2M400.5 418v7M400.5 446v1M402.5 420v4M404.5 417v3M405.5 447v2M406.5 457v2M409.5 419v3M410.5 420v6M411.5 417v6M412.5 426v3M413.5 443v1M415.5 457v2M416.5 414v10M424.5 457v2M427.5 417v4M430.5 457v2M434.5 423v4M435.5 416v4M437.5 414v6M440.5 457v2M442.5 419v10M448.5 417v8M449.5 414v10M450.5 413v8M453.5 457v2M458.5 426v3M460.5 416v10M461.5 426v4M463.5 413v10M464.5 419v8M467.5 449v1M467.5 457v2M472.5 416v5M478.5 417v7M482.5 446v1M487.5 422v8M493.5 420v3M495.5 420v4M495.5 449v1M498.5 420v6M501.5 413v10M501.5 457v2M506.5 417v4M508.5 457v2M509.5 422v3M511.5 419v6M515.5 422v7M516.5 448v2M519.5 447v1M519.5 457v2M520.5 425v6M520.5 445v2M521.5 415v10M524.5 444v2M530.5 422v3M531.5 417v10M535.5 416v4M537.5 415v4M539.5 417v6M541.5 415v9M542.5 413v3M544.5 414v7M545.5 449v2M547.5 419v3M549.5 457v2M550.5 413v9M553.5 413v9M564.5 419v9M568.5 421v7M569.5 457v2M571.5 414v8M574.5 416v10M575.5 419v7M577.5 422v7M579.5 419v6M582.5 417v6M585.5 422v7M586.5 422v6M590.5 447v2M593.5 417v9M597.5 443v2"/>
<path stroke="#0ff" stroke-opacity="0.3" d="M101.5 421v7M105.5 414v7M107.5 418v5M107.5 449v1M110.5 421v3M111.5 425v5M113.5 425v5M115.5 424v6M116.5 457v2M117.5 418v8M117.5 457v2M118.5 445v2M120.5 418v10M120.5 449v2M120.5 457v2M123.5 423v5M123.5 446v1M126.5 424v6M126.5 444v1M127.5 444v1M128.5 427v3M128.5 444v2M131.5 422v8M131.5 443v1M136.5 415v4M143.5 457v2M144.5 457v2M148.5 447v2M149.5 417v3M149.5 446v2M150.5 414v10M157.5 443v2M158.5 416v4M158.5 445v1M158.5 457v2M160.5 422v7M161.5 447v1M162.5 457v2M164.5 419v8M165.5 449v1M166.5 413v7M167.5 417v3M168.5 446v1M169.5 414v7M170.5 414v9M172.5 457v2M173.5 417v9M175.5 421v7M175.5 444v2M178.5 419v6M179.5 457v2M180.5 417v9M182.5 449v1M184.5 457v2M185.5 447v1M186.5 418v9M186.5 443v1M187.5 447v2M187.5 457v2M189.5 424v6M195.5 446v1M195.5 457v2M196.5 457v2M199.5 413v9M200.5 457v2M204.5 418v3M206.5 417v6M207.5 457v2M210.5 417v9M211.5 457v2M213.5 414v7M214.5 447v1M216.5 448v2M217.5 457v2M219.5 422v8M220.5 448v2M221.5 421v9M222.5 417v10M225.5 415v9M225.5 457v2M226.5 457v2M232.5 416v6M235.5 445v2M237.5 425v6M237.5 457v2M238.5 449v1M239.5 418v10M239.5 443v1M239.5 457v2M241.5 457v2M244.5 457v2M247.5 457v2M251.5 413v7M251.5 457v2M260.5 414v9M264.5 424v4M266.5 457v2M271.5 448v1M272.5 417v9M272.5 445v2M275.5 418v9M277.5 448v1M281.5 421v5M289.5 447v2M290.5 417v6M291.5 417v10M291.5 457v2M292.5 457v2M293.5 418v4M294.5 414v3M298.5 415v8M298.5 457v2M302.5 413v8M303.5 422v8M305.5 457v2M306.5 415v10M306.5 444v2M306.5 457v2M308.5 423v3M309.5 416v10M309.5 457v2M313.5 457v2M315.5 427v4M317.5 457v2M319.5 421v10M320.5 413v10M321.5 415v5M322.5 457v2M323.5 457v2M326.5 417v7M327.5 419v10M328.5 420v5M329.5 423v7M329.5 446v2M342.5 443v2M346.5 419v4M346.5 457v2M349.5 416v6M350.5 457v2M354.5 415v10M356.5 457v2M358.5 423v3M359.5 420v10M365.5 447v2M367.5 423v3M368.5 457v2M369.5 423v7M370.5 419v8M371.5 419v7M374.5 444v2M374.5 457v2M375.5 421v9M375.5 457v2M377.5 413v4M380.5 417v3M381.5 414v9M381.5 457v2M383.5 423v5M385.5 423v7M386.5 457v2M390.5 449v2M393.5 418v10M395.5 457v2M397.5 418v8M398.5 413v5M398.5 444v2M399.5 420v9M401.5 414v8M407.5 420v9M407.5 457v2M408.5 457v2M414.5 418v6M414.5 457v2M415.5 421v10M417.5 457v2M418.5 447v1M422.5 414v6M423.5 419v8M423.5 457v2M424.5 415v10M425.5 422v4M428.5 413v9M429.5 419v5M430.5 419v10M431.5 419v7M431.5 449v1M432.5 420v8M444.5 413v6M445.5 421v5M447.5 420v10M449.5 457v2M451.5 415v10M452.5 423v6M452.5 457v2M454.5 423v7M456.5 418v5M456.5 457v2M459.5 423v8M463.5 446v2M465.5 445v2M466.5 457v2M467.5 419v8M468.5 414v6M469.5 423v5M470.5 457v2M471.5 413v4M473.5 417v6M474.5 414v9M474.5 449v2M476.5 417v5M476.5 443v2M479.5 422v5M480.5 414v9M482.5 457v2M483.5 446v1M485.5 419v7M485.5 448v1M486.5 420v8M486.5 457v2M488.5 416v8M488.5 449v1M491.5 418v8M497.5 421v4M499.5 423v5M500.5 420v10M503.5 420v5M505.5 457v2M506.5 443v1M506.5 457v2M507.5 416v8M508.5 428v3M510.5 457v2M514.5 421v10M515.5 457v2M516.5 421v6M519.5 418v7M522.5 414v10M522.5 457v2M524.5 457v2M526.5 420v7M527.5 449v2M530.5 457v2M534.5 421v8M535.5 457v2M536.5 457v2M537.5 457v2M538.5 414v4M540.5 423v7M543.5 418v4M545.5 421v8M546.5 416v7M547.5 457v2M548.5 423v7M551.5 425v6M554.5 414v7M559.5 419v10M560.5 424v7M560.5 449v1M562.5 457v2M563.5 421v8M565.5 457v2M569.5 414v4M570.5 457v2M581.5 422v3M584.5 418v5M587.5 416v10M588.5 421v3M589.5 419v7M593.5 449v2M596.5 443v2M599.5 457v2"/>
<path stroke="#0ff" stroke-opacity="0.4" d="M102.5 448v1M105.5 457v2M107.5 457v2M108.5 418v7M108.5 445v2M111.5 457v2M114.5 443v1M119.5 457v2M121.5 423v4M124.5 422v9M124.5 457v2M125.5 422v6M127.5 418v8M130.5 425v3M132.5 421v9M134.5 419v10M137.5 446v1M137.5 457v2M140.5 427v4M141.5 426v5M147.5 414v10M148.5 415v3M149.5 457v2M151.5 417v8M152.5 417v9M154.5 457v2M155.5 443v2M157.5 415v6M160.5 446v2M161.5 420v5M165.5 416v7M167.5 457v2M168.5 414v7M171.5 457v2M172.5 416v3M173.5 444v1M177.5 415v7M177.5 446v1M177.5 457v2M179.5 420v8M186.5 457v2M188.5 417v6M191.5 421v10M196.5 416v10M197.5 449v1M203.5 419v6M207.5 443v1M208.5 426v3M216.5 417v8M220.5 421v10M220.5 457v2M222.5 457v2M224.5 457v2M226.5 413v9M227.5 419v10M228.5 444v2M229.5 457v2M231.5 457v2M233.5 420v10M238.5 413v9M238.5 457v2M241.5 423v8M243.5 448v1M244.5 415v10M247.5 415v9M249.5 457v2M250.5 423v7M250.5 457v2M252.5 418v8M254.5 418v9M255.5 422v9M256.5 422v6M256.5 457v2M257.5 443v2M257.5 457v2M261.5 422v8M261.5 457v2M263.5 457v2M266.5 414v5M266.5 443v2M270.5 416v8M271.5 417v3M271.5 457v2M274.5 420v10M275.5 457v2M277.5 414v4M280.5 415v7M280.5 443v2M282.5 414v7M282.5 457v2M285.5 419v8M285.5 447v1M287.5 449v1M289.5 416v7M290.5 445v1M290.5 457v2M294.5 457v2M295.5 414v9M296.5 417v9M299.5 423v6M301.5 418v9M305.5 415v9M307.5 423v7M311.5 415v6M311.5 457v2M312.5 419v3M314.5 419v8M316.5 422v8M316.5 449v1M317.5 414v8M317.5 449v1M318.5 417v4M319.5 457v2M321.5 449v1M323.5 416v5M327.5 457v2M331.5 417v8M331.5 457v2M333.5 422v7M334.5 422v8M335.5 417v8M336.5 422v6M338.5 423v5M338.5 457v2M339.5 425v6M340.5 457v2M342.5 417v5M343.5 419v7M343.5 457v2M344.5 420v6M346.5 444v1M348.5 413v6M351.5 413v8M352.5 414v10M353.5 413v7M353.5 443v1M356.5 416v10M357.5 422v7M359.5 457v2M361.5 417v10M362.5 420v8M363.5 415v9M363.5 457v2M364.5 418v3M367.5 457v2M369.5 457v2M370.5 457v2M372.5 420v9M373.5 444v2M376.5 417v4M376.5 443v2M378.5 457v2M379.5 420v5M384.5 419v4M384.5 457v2M385.5 457v2M386.5 414v3M387.5 416v6M387.5 457v2M389.5 413v7M396.5 417v8M397.5 444v2M399.5 457v2M403.5 421v7M404.5 457v2M406.5 423v7M408.5 449v2M410.5 457v2M411.5 457v2M417.5 413v8M418.5 417v9M419.5 420v3M422.5 448v1M422.5 457v2M426.5 424v4M427.5 457v2M433.5 423v4M433.5 448v1M438.5 447v2M441.5 413v3M442.5 448v1M443.5 416v10M446.5 424v7M448.5 457v2M449.5 448v2M453.5 448v1M455.5 421v9M457.5 416v9M462.5 421v4M465.5 421v7M466.5 419v8M470.5 416v8M471.5 457v2M475.5 449v2M475.5 457v2M477.5 415v8M481.5 421v7M481.5 457v2M488.5 457v2M489.5 419v4M489.5 457v2M494.5 414v9M499.5 443v2M500.5 457v2M502.5 420v6M503.5 448v1M504.5 417v10M504.5 457v2M505.5 418v10M505.5 446v2M510.5 445v1M512.5 421v6M517.5 444v1M518.5 443v1M518.5 457v2M521.5 448v2M523.5 421v6M525.5 417v6M526.5 457v2M528.5 413v5M532.5 418v7M536.5 416v10M541.5 457v2M543.5 457v2M549.5 418v8M549.5 448v2M551.5 449v2M552.5 421v7M555.5 416v10M556.5 447v2M559.5 457v2M560.5 457v2M562.5 415v6M563.5 457v2M565.5 416v5M566.5 424v5M567.5 421v10M570.5 414v9M574.5 457v2M576.5 457v2M580.5 417v6M580.5 457v2M581.5 445v1M582.5 443v2M583.5 421v7M583.5 448v2M591.5 414v10M596.5 424v5M597.5 413v10M598.5 457v2"/>
<path stroke="#0ff" stroke-opacity="0.5" d="M103.5 457v2M104.5 457v2M109.5 457v2M110.5 457v2M115.5 457v2M119.5 445v2M121.5 457v2M122.5 457v2M129.5 457v2M133.5 457v2M134.5 457v2M139.5 457v2M146.5 457v2M150.5 457v2M151.5 446v1M166.5 446v2M167.5 449v1M169.5 446v2M176.5 443v2M183.5 449v2M188.5 449v1M188.5 457v2M194.5 457v2M206.5 457v2M211.5 449v1M212.5 457v2M232.5 457v2M244.5 445v1M245.5 457v2M269.5 448v1M279.5 457v2M280.5 457v2M281.5 457v2M303.5 457v2M304.5 457v2M307.5 443v1M314.5 457v2M324.5 457v2M325.5 457v2M326.5 457v2M342.5 457v2M354.5 457v2M355.5 449v1M360.5 444v2M372.5 457v2M380.5 444v1M383.5 444v2M390.5 457v2M403.5 457v2M410.5 443v2M413.5 457v2M416.5 457v2M421.5 443v2M424.5 449v1M425.5 457v2M429.5 457v2M445.5 457v2M447.5 457v2M448.5 446v1M465.5 457v2M479.5 447v2M484.5 457v2M492.5 457v2M514.5 457v2M516.5 457v2M525.5 447v1M529.5 448v2M531.5 447v2M534.5 447v2M538.5 447v1M546.5 457v2M547.5 448v2M550.5 449v1M562.5 446v2M579.5 448v1M585.5 457v2M588.5 444v1M594.5 457v2"/>
<path stroke="#ee0" d="M123.5 450v1M151.5 450v1M157.5 450v1M165.5 450v1M175.5 450v1M189.5 450v1M201.5 450v1M205.5 450v1M213.5 450v1M219.5 450v1M223.5 450v1M241.5 450v1M259.5 450v1M266.5 450v1M273.5 450v1M279.5 450v1M284.5 450v1M290.5 450v1M307.5 450v1M326.5 450v1M350.5 450v1M356.5 450v1M369.5 450v1M374.5 450v1M381.5 450v1M387.5 450v1M409.5 450v1M416.5 450v1M421.5 450v1M428.5 450v1M434.5 450v1M453.5 450v1M457.5 450v1M463.5 450v1M470.5 450v1M481.5 450v1M489.5 450v1M500.5 450v1M507.5 450v1M511.5 450v1M517.5 450v1M530.5 450v1M537.5 450v1M541.5 450v1M548.5 450v1M555.5 450v1M559.5 450v1M566.5 450v1M577.5 450v1M585.5 450v1M596.5 450v1"/>
<path stroke="#fc0" d="M429.5 459v1M502.5 458v1M268.5 459v1M362.5 459v1M175.5 471v1M534.5 475v1M517.5 461v1M142.5 472v1M227.5 454v1M297.5 463v1M425.5 471v1M141.5 454v1M552.5 475v1M336.5 461v1M448.5 463v1M350.5 474v1M253.5 474v1M128.5 457v1M597.5 462v1M156.5 469v1M168.5 463v1M116.5 474v1"/>
<path stroke="#f60" d="M195 477.5h1M325 477.5h2M450 476.5h2M356 476.5h2M462 476.5h2M426 476.5h1M305 477.5h1M311 477.5h1M326 477.5h2M198 477.5h1M167 477.5h1M512 476.5h2M312 477.5h1M287 477.5h2M589 476.5h1M380 476.5h2M301 477.5h2M150 477.5h2M367 476.5h2M342 477.5h2M502 476.5h2M386 476.5h2M404 476.5h1M355 476.5h1M584 476.5h1M255 477.5h2"/>
<path stroke="#f00" d="M324 477.5h3M329 477.5h17M348 477.5h2M386 474.5h3M587 475.5h3"/>
<path stroke="#0f6" stroke-opacity=".6" d="M414.5 476v1M501.5 470v1M252.5 470v1M104.5 471v1M111.5 470v1M454.5 472v1M596.5 470v1M398.5 473v1M396.5 470v1M279.5 470v1M499.5 471v1M266.5 473v1M239.5 471v1M142.5 469v1M304.5 475v1M468.5 476v1M529.5 471v1M472.5 473v1M255.5 471v1M421.5 474v1M556.5 471v1M530.5 471v1M295.5 473v1M592.5 476v1M130.5 476v1M552.5 474v1M594.5 471v1M567.5 473v1M236.5 470v1M193.5 476v1M468.5 476v1M252.5 476v1M513.5 475v1M134.5 475v1M528.5 475v1M419.5 470v1M465.5 469v1M335.5 471v1M466.5 469v1M292.5 472v1M555.5 473v1M346.5 475v1M247.5 470v1M376.5 470v1M163.5 476v1M497.5 474v1M449.5 472v1M239.5 473v1M442.5 469v1M588.5 475v1M336.5 471v1M306.5 470v1M469.5 470v1M166.5 471v1M440.5 471v1M333.5 469v1M431.5 473v1M241.5 476v1M228.5 473v1M410.5 471v1M187.5 469v1M353.5 469v1M583.5 476v1M285.5 474v1M290.5 473v1M103.5 470v1M134.5 471v1M337.5 469v1M425.5 473v1M142.5 469v1M480.5 469v1M188.5 474v1M286.5 470v1M394.5 474v1M399.5 474v1M406.5 473v1M418.5 473v1M177.5 471v1M137.5 475v1M195.5 473v1M386.5 475v1M508.5 471v1M405.5 472v1M560.5 472v1M593.5 476v1M432.5 469v1M417.5 476v1M392.5 475v1M484.5 471v1M291.5 470v1M136.5 470v1M349.5 471v1M492.5 476v1M132.5 474v1M505.5 470v1M257.5 476v1M366.5 472v1M261.5 472v1M238.5 476v1M557.5 472v1M271.5 476v1M213.5 474v1M477.5 475v1M366.5 474v1M516.5 475v1M407.5 471v1M327.5 471v1M374.5 473v1M571.5 470v1M552.5 472v1M382.5 474v1M204.5 474v1M337.5 472v1M222.5 474v1M186.5 476v1M343.5 475v1M523.5 475v1M576.5 474v1M377.5 469v1M253.5 473v1M369.5 470v1M302.5 473v1M582.5 472v1M348.5 471v1M213.5 473v1M205.5 472v1M300.5 472v1M204.5 474v1M425.5 476v1M498.5 472v1M225.5 471v1M177.5 469v1M273.5 474v1M224.5 469v1M179.5 473v1M497.5 469v1M467.5 472v1M502.5 476v1M244.5 474v1M174.5 471v1M391.5 469v1M116.5 474v1M577.5 472v1"/>
<path stroke="#cf0" stroke-opacity=".6" d="M161.5 476v1M279.5 475v1M150.5 476v1M334.5 475v1M203.5 474v1M256.5 475v1M554.5 475v1M423.5 475v1M567.5 476v1M398.5 475v1M524.5 473v1M244.5 476v1M138.5 474v1M523.5 474v1M475.5 474v1M405.5 476v1M426.5 473v1M480.5 473v1M353.5 474v1M521.5 473v1M565.5 473v1M524.5 473v1M434.5 473v1M199.5 473v1M460.5 475v1M288.5 475v1M341.5 474v1M325.5 476v1M512.5 476v1M216.5 475v1M162.5 473v1M517.5 476v1M415.5 476v1M101.5 473v1M161.5 476v1M343.5 475v1M568.5 474v1M370.5 473v1M234.5 473v1M144.5 475v1M220.5 474v1M336.5 475v1M111.5 475v1M114.5 475v1M338.5 473v1M567.5 473v1M257.5 473v1M411.5 475v1M567.5 475v1M132.5 476v1M356.5 476v1M215.5 473v1M539.5 474v1M539.5 476v1M360.5 476v1M496.5 473v1M136.5 474v1M282.5 473v1M393.5 476v1M334.5 474v1M428.5 473v1M454.5 475v1M365.5 473v1M380.5 473v1M215.5 473v1M375.5 473v1M378.5 475v1M304.5 475v1M566.5 476v1M467.5 476v1M106.5 476v1M163.5 475v1M204.5 474v1M282.5 473v1M188.5 476v1M117.5 473v1M481.5 474v1M532.5 476v1M412.5 473v1M565.5 475v1M108.5 473v1M106.5 474v1M493.5 473v1M401.5 474v1M115.5 474v1M193.5 475v1M323.5 473v1M555.5 473v1"/>
<path stroke="#0ef" stroke-opacity=".6" d="M115.5 469v1M566.5 469v1M321.5 469v1M593.5 471v1M333.5 470v1M227.5 472v1M193.5 471v1M131.5 469v1M443.5 469v1M464.5 471v1M213.5 472v1M164.5 469v1M141.5 469v1M458.5 470v1M571.5 472v1M376.5 472v1M249.5 471v1M594.5 471v1M221.5 471v1M465.5 470v1M569.5 471v1M536.5 469v1M463.5 471v1M269.5 470v1M577.5 469v1M443.5 472v1M474.5 472v1M408.5 471v1M351.5 469v1M492.5 472v1M502.5 469v1M230.5 472v1M170.5 470v1M372.5 472v1M446.5 470v1M291.5 469v1M391.5 472v1M494.5 471v1M117.5 470v1M236.5 469v1M404.5 472v1M109.5 471v1M181.5 470v1M354.5 472v1M447.5 472v1M182.5 472v1M512.5 469v1M123.5 471v1M514.5 472v1M589.5 470v1M511.5 471v1M315.5 472v1M382.5 472v1M362.5 470v1M270.5 469v1M579.5 470v1M586.5 469v1M472.5 471v1M231.5 471v1M362.5 472v1M372.5 470v1M271.5 469v1M211.5 471v1M406.5 470v1M312.5 470v1M400.5 472v1M151.5 471v1M566.5 470v1M487.5 470v1M361.5 469v1"/>
<path stroke="#0fb" stroke-opacity=".6" d="M139.5 466v1M120.5 467v1M473.5 466v1M329.5 467v1M278.5 468v1M489.5 468v1M353.5 468v1M349.5 467v1M341.5 467v1M258.5 468v1M321.5 466v1M337.5 468v1M261.5 467v1M565.5 468v1M325.5 468v1M549.5 468v1M128.5 468v1M233.5 468v1M496.5 467v1M444.5 466v1M477.5 467v1M142.5 467v1M309.5 468v1M114.5 466v1M497.5 468v1M141.5 468v1M459.5 467v1M195.5 467v1M598.5 466v1M428.5 467v1M574.5 466v1M204.5 468v1M597.5 468v1M528.5 466v1M444.5 467v1M255.5 468v1M584.5 468v1M539.5 467v1M443.5 467v1M146.5 468v1M375.5 466v1M535.5 468v1M130.5 467v1M437.5 466v1M101.5 467v1M322.5 468v1M231.5 468v1M303.5 466v1M315.5 466v1M550.5 468v1M317.5 468v1M574.5 468v1M141.5 467v1M564.5 467v1M303.5 467v1M323.5 467v1M450.5 466v1M562.5 466v1M542.5 468v1M255.5 468v1M183.5 467v1M121.5 467v1"/>
<path stroke="#09f" stroke-opacity=".6" d="M123.5 468v1M447.5 468v1M363.5 467v1M450.5 468v1M172.5 467v1M531.5 467v1M544.5 466v1M376.5 467v1M393.5 468v1M484.5 466v1M156.5 466v1M567.5 466v1M598.5 466v1M183.5 466v1M352.5 467v1M205.5 468v1M319.5 467v1M413.5 466v1M154.5 467v1M321.5 467v1M525.5 467v1M490.5 466v1M235.5 466v1M520.5 468v1M555.5 466v1M462.5 467v1M487.5 466v1M422.5 468v1M447.5 468v1M178.5 466v1M551.5 468v1M285.5 467v1M511.5 468v1M384.5 466v1M143.5 467v1M141.5 468v1M411.5 466v1M169.5 468v1M403.5 467v1M348.5 466v1M301.5 467v1M268.5 468v1M550.5 468v1M353.5 467v1M376.5 468v1M470.5 468v1M595.5 467v1M152.5 466v1M389.5 468v1M179.5 467v1M395.5 466v1M480.5 468v1M341.5 467v1M549.5 468v1M284.5 468v1M490.5 466v1M182.5 468v1"/>
<path stroke="#000" d="M101.5 120v6M101.5 140v6M101.5 160v25M101.5 218v3M102.5 120v26M102.5 149v44M103.5 120v2M103.5 146v8M103.5 155v34M103.5 194v4M103.5 218v2M104.5 120v2M104.5 152v3M104.5 165v31M104.5 201v7M104.5 218v3M105.5 120v4M105.5 139v51M105.5 218v2M106.5 120v10M106.5 141v47M107.5 120v34M107.5 163v22M107.5 218v2M108.5 120v1M108.5 137v9M108.5 167v19M109.5 120v8M109.5 165v49M109.5 218v2M110.5 120v6M110.5 151v36M110.5 198v9M111.5 120v2M111.5 152v5M111.5 167v25M111.5 218v3M112.5 120v34M112.5 157v31M112.5 191v3M112.5 195v11M113.5 120v2M113.5 155v10M113.5 166v35M113.5 202v9M114.5 120v29M114.5 163v26M114.5 218v2M115.5 120v7M115.5 131v6M115.5 165v19M116.5 120v10M116.5 134v13M116.5 151v6M116.5 166v19M116.5 218v3M117.5 120v2M117.5 148v38M118.5 120v17M118.5 164v22M119.5 120v2M119.5 128v6M119.5 147v5M119.5 164v22M120.5 120v3M120.5 167v36M120.5 218v2M121.5 120v10M121.5 139v46M121.5 218v3M122.5 120v18M122.5 151v35M122.5 218v3M123.5 126v7M123.5 160v26M124.5 120v17M124.5 145v40M125.5 120v3M125.5 129v2M125.5 153v35M125.5 196v3M126.5 120v1M126.5 140v10M126.5 165v21M127.5 120v11M127.5 165v19M128.5 120v2M128.5 132v2M128.5 158v34M128.5 202v5M129.5 120v13M129.5 163v24M130.5 120v18M130.5 166v20M131.5 120v23M131.5 166v30M132.5 120v29M132.5 159v32M133.5 120v11M133.5 133v7M133.5 146v38M133.5 193v7M134.5 120v5M134.5 134v11M134.5 163v24M135.5 120v37M135.5 158v28M135.5 218v8M136.5 120v10M136.5 144v53M136.5 218v3M137.5 120v23M137.5 167v22M137.5 191v8M137.5 202v12M137.5 218v3M138.5 120v32M138.5 165v23M139.5 120v4M139.5 167v22M140.5 120v16M140.5 155v34M141.5 126v21M141.5 164v23M141.5 218v2M142.5 120v22M142.5 149v9M142.5 164v24M142.5 218v3M143.5 166v50M143.5 218v3M144.5 164v22M145.5 120v4M145.5 132v14M145.5 158v28M145.5 189v3M145.5 218v3M146.5 120v9M146.5 146v38M146.5 196v2M146.5 218v3M147.5 120v39M147.5 167v20M148.5 120v1M148.5 166v33M149.5 120v3M149.5 155v29M150.5 120v13M150.5 140v3M150.5 152v39M151.5 120v1M151.5 167v25M152.5 120v21M152.5 142v4M152.5 163v23M152.5 187v11M152.5 201v6M153.5 120v2M153.5 166v25M153.5 193v12M153.5 218v2M154.5 120v8M154.5 167v23M155.5 120v9M155.5 156v28M156.5 120v9M156.5 156v28M157.5 120v12M157.5 165v30M157.5 199v2M158.5 120v1M158.5 131v4M158.5 165v19M159.5 120v9M159.5 140v51M159.5 218v7M160.5 120v34M160.5 163v45M161.5 120v5M161.5 166v18M162.5 120v1M162.5 166v19M163.5 120v2M163.5 165v20M163.5 200v2M163.5 218v3M164.5 120v1M164.5 165v21M164.5 196v2M164.5 218v2M165.5 120v23M165.5 156v33M165.5 203v4M166.5 120v26M166.5 165v22M166.5 218v3M167.5 120v5M167.5 138v5M167.5 167v19M167.5 200v7M168.5 120v2M168.5 165v28M169.5 120v2M169.5 128v3M169.5 158v2M169.5 166v18M169.5 218v3M170.5 120v10M170.5 148v48M170.5 218v3M171.5 120v2M171.5 146v7M171.5 165v22M171.5 218v3M172.5 120v4M172.5 152v5M172.5 167v18M172.5 218v3M173.5 120v17M173.5 164v32M173.5 218v2M174.5 120v10M174.5 146v2M174.5 167v18M174.5 218v2M175.5 120v14M175.5 166v19M176.5 120v6M176.5 133v22M176.5 163v25M177.5 120v15M177.5 160v29M177.5 195v2M178.5 129v4M178.5 155v6M178.5 167v18M178.5 218v3M179.5 120v71M179.5 218v3M180.5 120v9M180.5 132v4M180.5 149v9M180.5 159v25M180.5 218v3M181.5 120v21M181.5 167v20M181.5 218v4M182.5 120v2M182.5 150v3M182.5 164v27M182.5 192v8M183.5 120v3M183.5 128v2M183.5 142v44M183.5 189v2M184.5 120v11M184.5 157v29M184.5 192v3M184.5 218v3M185.5 120v14M185.5 164v31M185.5 198v5M186.5 120v18M186.5 165v27M186.5 196v6M186.5 218v2M187.5 120v26M187.5 165v26M188.5 166v19M189.5 120v3M189.5 164v31M189.5 218v2M190.5 120v4M190.5 167v27M190.5 218v2M191.5 120v2M191.5 153v39M192.5 120v17M192.5 141v3M192.5 163v21M193.5 120v1M193.5 165v36M194.5 120v5M194.5 135v2M194.5 166v23M195.5 120v9M195.5 164v27M196.5 162v25M197.5 120v4M197.5 167v17M198.5 120v11M198.5 166v38M198.5 218v2M199.5 120v5M199.5 145v40M200.5 120v28M200.5 166v18M200.5 218v2M201.5 120v1M201.5 164v48M202.5 120v67M202.5 218v3M203.5 120v2M203.5 218v2M204.5 120v5M204.5 151v35M204.5 218v2M205.5 120v19M205.5 149v35M206.5 120v31M206.5 166v18M207.5 120v28M208.5 120v4M208.5 131v4M208.5 157v27M208.5 198v7M209.5 144v3M209.5 155v14M210.5 120v1M210.5 165v19M211.5 120v2M211.5 145v39M211.5 202v4M211.5 218v2M212.5 120v2M212.5 150v2M212.5 162v7M212.5 218v3M213.5 120v6M213.5 144v10M213.5 159v2M213.5 164v3M214.5 120v26M214.5 153v8M214.5 218v2M215.5 120v3M216.5 120v8M216.5 145v17M216.5 218v2M217.5 120v11M217.5 157v6M218.5 120v10M219.5 120v35M220.5 120v27M220.5 160v5M221.5 120v4M221.5 155v15M222.5 120v12M222.5 218v3M223.5 120v16M223.5 161v3M223.5 218v3M224.5 120v2M224.5 153v12M225.5 120v4M225.5 126v4M225.5 160v9M226.5 120v31M226.5 166v3M226.5 218v3M227.5 120v2M227.5 166v1M228.5 120v8M228.5 158v30M228.5 218v3M229.5 120v22M229.5 167v19M229.5 218v2M230.5 144v8M230.5 166v21M231.5 120v2M231.5 163v7M232.5 120v3M232.5 130v6M232.5 164v8M232.5 218v3M233.5 120v4M233.5 162v23M233.5 198v7M234.5 120v19M234.5 161v24M234.5 197v8M235.5 120v4M235.5 164v20M235.5 195v8M236.5 120v14M236.5 163v23M237.5 120v18M237.5 161v23M238.5 120v2M238.5 154v31M239.5 120v4M239.5 142v46M240.5 120v2M240.5 162v9M241.5 120v7M241.5 137v16M241.5 163v21M242.5 120v3M242.5 158v28M243.5 120v17M243.5 167v18M243.5 204v3M244.5 120v2M244.5 165v24M245.5 120v7M245.5 156v28M246.5 120v7M246.5 145v28M246.5 218v2M247.5 120v23M247.5 162v23M247.5 192v2M248.5 120v2M248.5 166v20M248.5 218v3M249.5 120v3M249.5 134v16M249.5 161v26M250.5 156v29M251.5 120v8M251.5 166v21M252.5 120v2M252.5 155v29M252.5 218v2M253.5 120v4M253.5 160v26M254.5 120v2M254.5 160v26M254.5 218v2M255.5 120v26M255.5 162v10M256.5 120v6M256.5 167v5M257.5 120v17M257.5 158v2M257.5 166v10M258.5 120v16M259.5 120v11M260.5 120v3M260.5 157v31M261.5 120v11M261.5 166v19M262.5 120v26M262.5 166v22M263.5 120v13M263.5 166v19M264.5 120v2M265.5 120v8M266.5 120v5M267.5 120v3M268.5 120v7M269.5 120v5M270.5 120v15M270.5 137v16M271.5 120v8M271.5 146v2M272.5 120v15M273.5 120v2M273.5 143v13M274.5 120v2M275.5 120v2M276.5 120v3M277.5 120v1M277.5 134v5M278.5 120v5M278.5 218v2M279.5 120v21M280.5 120v4M281.5 120v2M281.5 135v6M282.5 120v15M283.5 120v18M284.5 120v4M285.5 120v4M286.5 120v2M287.5 120v28M288.5 120v2M289.5 120v22M290.5 120v15M291.5 120v4M292.5 120v2M293.5 120v15M294.5 120v8M295.5 120v4M296.5 120v7M297.5 120v1M297.5 124v2M297.5 144v3M298.5 120v12M299.5 120v5M300.5 120v3M300.5 153v3M301.5 120v8M302.5 120v2M302.5 163v3M304.5 166v9M305.5 120v9M306.5 120v3M307.5 120v3M308.5 120v3M309.5 120v3M309.5 161v2M310.5 120v2M311.5 120v9M311.5 158v8M312.5 120v16M312.5 163v24M313.5 120v2M313.5 166v21M313.5 218v2M314.5 167v17M315.5 120v9M315.5 162v23M316.5 120v6M316.5 164v23M317.5 120v3M317.5 166v18M318.5 120v4M318.5 163v23M319.5 120v35M319.5 166v18M320.5 120v4M320.5 162v25M321.5 120v4M321.5 166v19M322.5 120v2M322.5 162v23M322.5 192v9M323.5 166v23M324.5 120v7M324.5 166v18M325.5 120v9M325.5 165v20M326.5 120v17M326.5 166v31M327.5 120v3M327.5 164v21M328.5 120v28M328.5 165v22M329.5 120v8M329.5 166v18M329.5 218v3M330.5 120v2M330.5 136v9M330.5 166v21M331.5 120v2M331.5 166v19M332.5 120v2M332.5 164v20M332.5 218v3M333.5 120v2M333.5 158v31M333.5 218v2M334.5 136v17M334.5 166v19M334.5 218v3M335.5 120v13M335.5 139v11M335.5 167v20M336.5 120v4M336.5 160v30M336.5 218v2M337.5 120v2M337.5 155v29M338.5 120v6M338.5 162v24M339.5 120v3M339.5 165v20M340.5 120v4M340.5 164v20M340.5 218v3M341.5 120v10M341.5 163v22M342.5 120v5M342.5 166v23M342.5 218v3M343.5 120v14M343.5 166v20M343.5 198v13M343.5 218v4M344.5 120v10M344.5 165v19M345.5 120v2M345.5 159v26M346.5 120v8M346.5 166v20M347.5 120v5M347.5 166v12M348.5 120v2M348.5 166v5M349.5 120v15M349.5 167v1M350.5 120v4M350.5 161v8M350.5 218v3M351.5 120v7M351.5 166v19M351.5 218v3M352.5 120v2M352.5 162v8M353.5 120v4M353.5 165v3M354.5 120v1M354.5 150v19M355.5 120v2M355.5 166v24M356.5 120v14M356.5 159v17M356.5 218v3M357.5 120v4M357.5 154v34M357.5 218v3M358.5 120v2M358.5 165v19M359.5 120v21M359.5 161v25M359.5 218v2M360.5 167v17M360.5 218v3M361.5 120v23M361.5 164v21M362.5 120v9M362.5 163v21M363.5 120v17M363.5 166v24M364.5 120v4M364.5 128v4M364.5 166v21M364.5 218v2M365.5 120v2M365.5 165v19M365.5 218v2M366.5 120v6M366.5 165v28M366.5 218v2M367.5 122v3M367.5 166v18M367.5 218v3M368.5 120v3M368.5 166v20M369.5 120v5M369.5 130v2M369.5 165v19M370.5 120v5M370.5 164v21M371.5 120v2M371.5 166v18M372.5 120v2M372.5 144v3M372.5 162v22M373.5 120v2M373.5 166v22M373.5 218v2M374.5 120v3M374.5 148v4M374.5 166v20M375.5 164v21M375.5 218v3M376.5 120v2M376.5 167v17M376.5 218v2M377.5 120v21M377.5 163v21M378.5 120v5M378.5 167v18M379.5 120v7M379.5 166v23M380.5 120v6M380.5 161v26M381.5 120v2M381.5 155v31M382.5 120v7M382.5 157v27M383.5 120v6M383.5 166v20M383.5 218v7M384.5 120v4M384.5 159v25M385.5 120v9M385.5 166v19M386.5 120v9M386.5 167v28M386.5 203v2M387.5 120v10M387.5 162v26M387.5 196v8M388.5 120v2M388.5 165v19M389.5 120v10M389.5 166v27M390.5 120v4M390.5 167v17M390.5 218v3M391.5 120v3M391.5 143v9M391.5 162v23M392.5 164v21M393.5 120v13M393.5 166v18M394.5 120v3M394.5 165v19M394.5 218v3M395.5 120v6M395.5 167v24M396.5 120v1M396.5 162v24M396.5 218v8M397.5 120v9M397.5 167v17M398.5 120v10M398.5 166v22M399.5 120v7M399.5 166v19M400.5 163v23M400.5 218v3M401.5 120v2M401.5 161v28M401.5 218v3M402.5 120v9M402.5 155v30M402.5 218v3M403.5 120v7M403.5 160v32M403.5 218v3M404.5 120v1M404.5 166v18M405.5 120v2M405.5 164v25M406.5 120v9M406.5 166v19M407.5 120v2M407.5 138v3M407.5 166v23M407.5 218v3M408.5 120v11M408.5 133v4M408.5 163v22M408.5 218v2M409.5 120v15M409.5 166v23M410.5 120v26M410.5 165v20M410.5 204v2M410.5 218v2M411.5 120v16M411.5 158v2M411.5 163v22M411.5 218v6M412.5 120v11M412.5 167v25M412.5 218v3M413.5 120v4M413.5 166v21M414.5 120v8M414.5 165v20M415.5 120v11M415.5 166v25M416.5 120v2M416.5 148v2M416.5 166v19M417.5 120v3M417.5 165v21M418.5 157v30M419.5 167v18M420.5 120v1M420.5 155v29M420.5 203v3M420.5 218v2M421.5 120v15M421.5 167v20M422.5 120v2M422.5 165v20M423.5 120v8M423.5 167v17M424.5 120v19M424.5 159v26M424.5 218v3M425.5 120v7M425.5 164v25M426.5 120v5M426.5 165v19M426.5 218v3M427.5 120v3M427.5 166v18M428.5 120v13M428.5 162v23M429.5 160v28M429.5 218v2M430.5 120v4M430.5 165v19M431.5 120v10M431.5 166v19M431.5 218v2M432.5 120v6M432.5 167v22M433.5 120v1M433.5 167v18M434.5 120v13M434.5 162v22M435.5 120v5M435.5 166v18M436.5 120v11M436.5 167v18M437.5 120v3M437.5 166v19M438.5 120v3M438.5 138v15M438.5 161v24M439.5 120v2M439.5 157v27M440.5 120v10M440.5 159v26M441.5 120v5M441.5 166v20M442.5 120v2M442.5 167v17M443.5 120v12M443.5 164v20M444.5 120v3M444.5 152v34M445.5 120v2M445.5 166v19M445.5 218v3M446.5 164v20M447.5 120v4M447.5 166v18M448.5 120v1M448.5 127v9M448.5 167v19M449.5 167v23M449.5 194v4M450.5 120v5M450.5 128v58M450.5 199v2M451.5 120v22M451.5 166v18M451.5 218v2M452.5 120v4M452.5 164v20M453.5 120v3M453.5 154v7M453.5 167v18M454.5 120v9M454.5 166v18M455.5 120v14M455.5 167v18M456.5 120v2M456.5 166v19M456.5 218v2M457.5 120v4M457.5 165v22M458.5 120v1M458.5 165v21M459.5 120v11M459.5 166v20M460.5 120v12M460.5 166v21M461.5 120v18M461.5 166v20M461.5 218v3M462.5 120v4M462.5 166v18M462.5 218v3M463.5 120v5M463.5 129v23M463.5 155v30M464.5 120v2M464.5 166v19M465.5 120v16M465.5 144v2M465.5 163v27M466.5 120v6M466.5 166v18M466.5 196v7M467.5 120v7M467.5 166v19M467.5 218v2M468.5 120v4M468.5 166v18M469.5 120v5M469.5 166v18M469.5 218v3M470.5 120v5M470.5 167v19M470.5 188v6M470.5 218v3M471.5 120v2M471.5 164v24M472.5 120v4M472.5 165v20M473.5 120v7M473.5 167v17M473.5 218v2M474.5 166v19M475.5 120v14M475.5 157v34M475.5 218v2M476.5 120v2M476.5 166v21M476.5 218v2M477.5 120v2M477.5 164v21M478.5 120v20M478.5 163v21M478.5 218v2M479.5 120v13M479.5 166v18M480.5 120v4M480.5 126v2M480.5 164v20M481.5 120v5M481.5 165v21M481.5 218v2M482.5 120v3M482.5 165v19M483.5 167v20M484.5 164v37M485.5 120v8M485.5 165v20M485.5 218v3M486.5 120v17M486.5 163v44M487.5 167v21M487.5 218v3M488.5 120v2M488.5 149v2M488.5 166v20M489.5 120v3M489.5 165v21M490.5 120v3M490.5 162v25M490.5 218v3M491.5 120v2M491.5 166v20M492.5 160v26M492.5 218v3M493.5 120v4M493.5 166v19M493.5 201v5M493.5 218v2M494.5 120v9M494.5 167v22M495.5 120v1M495.5 165v21M496.5 120v19M496.5 164v21M497.5 166v18M498.5 120v5M498.5 166v28M499.5 120v14M499.5 164v21M500.5 120v64M500.5 218v3M501.5 120v3M501.5 166v21M501.5 218v2M502.5 166v18M503.5 120v6M503.5 135v2M503.5 163v22M504.5 120v7M504.5 150v37M504.5 218v2M505.5 120v5M505.5 167v25M506.5 120v2M506.5 167v21M507.5 120v5M507.5 166v21M508.5 120v8M508.5 166v21M509.5 120v3M509.5 161v25M509.5 193v8M510.5 120v12M510.5 165v20M511.5 120v16M511.5 166v21M512.5 120v4M512.5 165v20M513.5 120v2M513.5 162v24M513.5 218v2M514.5 120v2M514.5 162v22M514.5 218v3M515.5 120v7M515.5 164v24M516.5 120v11M516.5 155v31M517.5 120v6M517.5 161v23M518.5 120v4M518.5 167v18M518.5 218v3M519.5 120v5M519.5 149v5M519.5 167v17M520.5 120v12M520.5 166v19M520.5 218v2M521.5 120v13M521.5 167v25M521.5 218v2M522.5 120v2M522.5 162v23M522.5 218v3M523.5 120v9M523.5 167v17M523.5 218v3M524.5 120v19M524.5 166v19M525.5 120v4M525.5 165v19M526.5 120v2M526.5 164v23M526.5 218v2M527.5 120v1M527.5 142v3M527.5 159v30M528.5 160v26M528.5 218v2M529.5 120v31M529.5 166v20M530.5 120v11M530.5 153v33M531.5 120v2M531.5 164v21M532.5 120v13M532.5 166v20M532.5 218v2M533.5 120v3M533.5 165v19M534.5 120v4M534.5 166v19M534.5 218v3M535.5 120v24M535.5 167v18M535.5 218v2M536.5 120v10M536.5 167v17M537.5 120v15M537.5 166v19M537.5 187v5M538.5 120v2M538.5 159v3M538.5 167v18M538.5 218v2M539.5 120v17M539.5 163v24M539.5 218v2M540.5 120v9M540.5 163v21M541.5 120v11M541.5 166v18M541.5 202v5M542.5 120v14M542.5 166v18M543.5 120v1M543.5 165v19M543.5 218v2M544.5 120v7M544.5 167v17M544.5 218v2M545.5 120v11M545.5 151v36M546.5 120v7M546.5 140v9M546.5 166v20M547.5 120v17M547.5 167v18M547.5 218v2M548.5 120v2M548.5 164v24M548.5 218v3M549.5 120v8M549.5 166v19M549.5 218v3M550.5 120v2M550.5 158v26M551.5 120v19M551.5 167v17M552.5 120v2M552.5 166v19M553.5 120v10M553.5 166v30M554.5 120v15M554.5 164v20M554.5 218v2M555.5 120v7M555.5 166v22M556.5 120v2M556.5 165v23M556.5 218v2M557.5 120v2M557.5 163v28M558.5 120v2M558.5 167v24M558.5 218v3M559.5 120v2M559.5 166v19M560.5 120v2M560.5 158v29M561.5 166v18M562.5 120v2M562.5 166v21M562.5 201v5M563.5 120v16M563.5 162v25M563.5 218v2M564.5 120v2M564.5 165v20M564.5 218v2M565.5 120v2M565.5 163v22M566.5 120v2M566.5 166v32M567.5 120v1M567.5 166v18M568.5 120v11M568.5 167v18M569.5 120v2M569.5 152v34M570.5 120v16M570.5 163v23M571.5 120v4M571.5 167v17M571.5 218v2M572.5 120v11M572.5 158v2M572.5 163v21M572.5 218v2M573.5 120v9M573.5 165v23M574.5 120v4M574.5 167v18M574.5 202v2M575.5 120v2M575.5 166v19M576.5 120v18M576.5 166v19M576.5 218v2M577.5 120v5M577.5 166v19M578.5 120v13M578.5 164v21M579.5 120v20M579.5 161v30M580.5 120v3M580.5 157v27M581.5 120v15M581.5 152v2M581.5 167v22M582.5 120v6M582.5 167v18M582.5 218v2M583.5 120v17M583.5 167v18M584.5 120v2M584.5 159v2M584.5 165v23M585.5 120v2M585.5 165v20M586.5 120v5M586.5 166v26M587.5 120v1M587.5 159v28M588.5 120v10M588.5 167v18M589.5 167v17M590.5 120v2M590.5 165v19M591.5 120v17M591.5 164v20M591.5 203v9M591.5 218v3M592.5 120v1M592.5 130v17M592.5 166v18M593.5 120v9M593.5 165v21M593.5 218v4M594.5 120v12M594.5 167v18M594.5 218v3M595.5 120v9M595.5 166v18M596.5 120v3M596.5 166v20M596.5 188v2M597.5 120v2M597.5 160v26M597.5 218v2M598.5 120v1M598.5 164v22M598.5 218v2M599.5 166v18M599.5 218v2"/>
<path stroke="#0000c1" d="M203.5 156v1M209.5 169v25M212.5 169v25M213.5 167v28M214.5 161v4M215.5 161v4M216.5 165v5M217.5 163v4M218.5 165v5M219.5 162v4M220.5 165v5M221.5 170v24M222.5 159v36M223.5 164v5M224.5 165v5M225.5 169v26M226.5 169v25M227.5 167v28M231.5 170v1M232.5 172v20M246.5 173v1M255.5 172v1M256.5 172v1M258.5 165v2M259.5 165v2M270.5 157v23M271.5 158v3M272.5 160v34M273.5 158v4M292.5 157v2M297.5 156v1M298.5 156v2M299.5 160v10M300.5 158v3M301.5 162v11M305.5 166v5M306.5 163v2M307.5 164v2M308.5 163v1M309.5 163v2M310.5 164v2M311.5 166v27M348.5 171v6M349.5 168v1M350.5 169v2M356.5 176v2"/>
<path stroke="#0000d6" d="M203.5 157v47M214.5 165v4M215.5 165v4M216.5 170v33M217.5 167v5M218.5 170v33M219.5 166v5M220.5 170v33M223.5 169v35M224.5 170v33M231.5 171v32M246.5 174v2M255.5 173v31M256.5 173v12M256.5 192v2M258.5 167v16M259.5 167v13M266.5 152v26M267.5 153v21M268.5 151v1M269.5 154v23M270.5 180v2M271.5 161v22M273.5 162v14M274.5 154v3M275.5 153v2M276.5 153v2M277.5 151v2M278.5 152v2M279.5 154v3M280.5 153v2M281.5 153v3M282.5 152v2M283.5 154v3M284.5 154v4M285.5 150v3M286.5 151v2M287.5 151v2M288.5 152v2M289.5 152v2M290.5 154v2M291.5 154v4M292.5 159v2M293.5 155v4M294.5 153v3M295.5 154v4M296.5 155v4M297.5 157v5M298.5 158v13M299.5 170v4M300.5 161v3M301.5 173v2M305.5 171v2M306.5 165v9M307.5 166v11M308.5 164v2M309.5 165v27M310.5 166v10M311.5 193v3M348.5 177v1M349.5 169v2M350.5 171v1M356.5 178v23"/>
<path stroke="#0000ec" d="M214.5 169v37M215.5 169v36M217.5 172v32M219.5 171v34M246.5 176v29M256.5 185v7M256.5 194v10M258.5 183v1M259.5 180v2M266.5 178v2M267.5 174v2M268.5 152v2M269.5 177v2M270.5 182v4M271.5 183v1M273.5 176v11M274.5 157v4M275.5 155v4M276.5 155v4M277.5 153v3M278.5 154v3M279.5 157v4M280.5 155v4M281.5 156v4M282.5 154v3M283.5 157v3M284.5 158v4M285.5 153v2M286.5 153v2M287.5 153v3M288.5 154v3M289.5 154v3M290.5 156v4M291.5 158v4M292.5 161v1M293.5 159v25M294.5 156v4M295.5 158v3M296.5 159v40M297.5 162v9M299.5 174v4M300.5 164v2M301.5 175v2M305.5 173v1M306.5 174v2M307.5 177v2M308.5 166v23M309.5 192v4M310.5 176v5M311.5 196v6M349.5 171v1M350.5 172v32"/>
<path stroke="#0005ff" d="M109.5 315v3M109.5 335v1M110.5 326v2M110.5 334v1M138.5 343v2M139.5 305v4M139.5 331v1M172.5 243v1M172.5 259v1M172.5 299v1M172.5 301v2M173.5 303v1M173.5 305v2M173.5 313v4M173.5 321v1M173.5 325v1M173.5 332v1M174.5 269v4M174.5 294v1M174.5 297v1M174.5 301v1M174.5 316v1M174.5 326v2M174.5 331v1M174.5 336v3M174.5 343v1M175.5 266v1M175.5 306v1M175.5 314v1M178.5 247v1M180.5 306v1M180.5 310v1M181.5 264v1M181.5 294v1M181.5 297v1M181.5 328v2M182.5 297v1M183.5 291v1M183.5 333v1M186.5 286v1M186.5 342v2M187.5 332v1M190.5 298v1M191.5 336v1M192.5 335v1M193.5 255v3M193.5 268v1M194.5 335v1M195.5 284v1M197.5 273v1M198.5 250v1M201.5 251v1M205.5 362v1M206.5 232v1M207.5 231v2M208.5 246v3M208.5 381v1M209.5 264v1M210.5 267v1M212.5 371v1M213.5 253v1M215.5 383v1M216.5 255v1M221.5 264v1M222.5 261v1M223.5 261v1M225.5 245v1M232.5 259v1M234.5 268v1M235.5 256v1M236.5 255v1M238.5 249v1M239.5 269v1M241.5 261v1M243.5 239v1M244.5 240v1M247.5 239v1M248.5 237v1M248.5 384v1M251.5 374v1M252.5 230v1M252.5 237v1M253.5 265v1M253.5 268v1M254.5 249v1M254.5 371v1M255.5 233v8M256.5 204v2M258.5 184v1M258.5 435v1M259.5 182v5M263.5 190v1M266.5 180v7M267.5 176v1M268.5 154v45M269.5 179v1M270.5 186v4M271.5 184v2M273.5 187v11M274.5 161v24M275.5 159v3M276.5 159v3M276.5 219v1M277.5 156v3M278.5 157v3M279.5 161v45M279.5 217v1M280.5 159v3M281.5 160v43M282.5 157v3M283.5 160v30M284.5 162v39M285.5 155v3M286.5 155v3M287.5 156v3M288.5 157v3M289.5 157v3M290.5 160v29M291.5 162v8M292.5 162v1M293.5 184v2M294.5 160v47M294.5 214v2M294.5 224v1M295.5 161v24M296.5 199v1M298.5 171v1M299.5 178v4M300.5 166v2M301.5 177v1M303.5 166v1M305.5 174v2M306.5 176v2M307.5 179v1M308.5 189v1M309.5 196v3M310.5 181v11M311.5 202v3M314.5 214v1M317.5 187v1M318.5 204v1M319.5 231v1M320.5 218v1M323.5 399v1M328.5 224v1M328.5 256v2M329.5 245v3M331.5 239v1M334.5 260v1M334.5 400v1M337.5 399v1M345.5 252v1M346.5 260v1M348.5 178v1M349.5 172v34M350.5 397v1M353.5 168v1M357.5 237v1M359.5 271v1M359.5 372v1M360.5 253v1M363.5 258v1M369.5 252v1M372.5 247v1M373.5 285v4M377.5 251v3M377.5 289v4M378.5 246v1M378.5 308v1M378.5 334v3M378.5 338v1M380.5 253v1M380.5 273v1M380.5 285v1M380.5 373v1M382.5 255v1M384.5 247v1M387.5 289v1M388.5 285v1M389.5 291v1M392.5 202v1M392.5 216v1M392.5 232v2M392.5 239v1M393.5 258v2M393.5 269v3M393.5 293v1M394.5 267v1M394.5 287v2M394.5 290v2M394.5 293v1M396.5 407v1M399.5 251v1M403.5 251v1M405.5 286v1M405.5 294v1M406.5 300v1M410.5 258v1M411.5 265v1M417.5 321v3M417.5 355v1M418.5 287v1M419.5 288v1M419.5 380v1M420.5 273v1M425.5 336v1M427.5 317v1M429.5 296v1M429.5 304v1M429.5 307v1M429.5 359v1M430.5 329v1M453.5 344v1M465.5 381v1"/>
<path stroke="#0031ff" d="M102.5 329v1M103.5 329v1M104.5 329v1M105.5 329v1M106.5 300v1M106.5 304v1M106.5 328v1M107.5 235v1M107.5 296v1M107.5 306v1M107.5 326v1M108.5 236v1M108.5 309v1M108.5 323v1M109.5 306v9M109.5 336v9M110.5 306v20M110.5 335v10M114.5 244v5M114.5 258v9M114.5 273v2M138.5 295v3M138.5 327v3M139.5 295v10M139.5 309v5M139.5 328v3M143.5 314v1M156.5 314v4M170.5 310v4M170.5 331v1M172.5 244v15M172.5 300v1M173.5 304v1M173.5 322v3M173.5 333v13M174.5 295v2M174.5 302v14M174.5 328v3M174.5 339v4M175.5 267v4M175.5 307v7M178.5 248v1M178.5 289v2M178.5 338v8M180.5 307v3M181.5 265v4M181.5 273v2M181.5 295v2M181.5 303v3M181.5 323v5M182.5 263v4M182.5 298v6M182.5 331v2M183.5 292v7M183.5 330v3M184.5 263v3M184.5 284v3M184.5 339v12M185.5 250v3M185.5 352v2M186.5 256v6M186.5 283v3M186.5 287v3M186.5 339v3M187.5 300v2M187.5 331v1M188.5 297v2M188.5 327v4M189.5 290v2M189.5 333v2M190.5 299v3M190.5 318v2M191.5 289v1M191.5 335v1M192.5 292v3M192.5 333v2M193.5 269v5M193.5 286v2M193.5 340v2M194.5 292v1M194.5 333v2M195.5 285v2M195.5 335v1M196.5 259v4M196.5 286v1M196.5 347v2M197.5 262v3M197.5 272v1M197.5 286v2M197.5 340v1M198.5 251v4M198.5 284v1M198.5 345v1M199.5 288v1M199.5 339v1M200.5 266v2M200.5 273v1M200.5 285v1M200.5 340v1M201.5 252v3M201.5 355v1M202.5 285v3M202.5 347v1M203.5 284v1M203.5 339v1M204.5 284v2M204.5 344v2M205.5 251v15M205.5 360v2M206.5 233v3M207.5 152v14M207.5 192v9M207.5 223v8M207.5 233v3M207.5 386v1M208.5 249v5M208.5 257v3M208.5 380v1M209.5 265v3M210.5 268v1M211.5 269v2M211.5 370v2M212.5 267v7M212.5 370v1M213.5 254v2M213.5 376v1M214.5 256v5M214.5 266v1M214.5 376v1M215.5 382v1M216.5 256v12M216.5 385v2M217.5 250v3M217.5 384v1M218.5 257v7M218.5 396v1M219.5 245v3M219.5 392v2M220.5 244v2M221.5 265v2M221.5 385v1M222.5 262v4M223.5 262v2M224.5 252v2M225.5 246v2M225.5 421v1M226.5 249v1M227.5 227v2M227.5 407v1M228.5 229v3M229.5 253v2M230.5 241v4M231.5 250v2M232.5 260v5M233.5 269v5M234.5 269v3M235.5 257v5M236.5 262v3M237.5 261v3M237.5 405v3M238.5 250v12M239.5 270v4M240.5 171v1M240.5 195v13M241.5 262v5M242.5 240v1M243.5 240v3M243.5 260v5M244.5 241v1M244.5 404v4M245.5 220v4M246.5 229v7M247.5 240v6M247.5 384v4M248.5 238v10M248.5 382v2M249.5 236v1M249.5 374v3M249.5 380v1M250.5 240v1M250.5 373v1M251.5 243v1M251.5 373v1M252.5 220v1M252.5 228v2M252.5 238v4M252.5 340v4M252.5 370v6M253.5 266v2M254.5 239v2M254.5 244v3M254.5 250v2M254.5 370v1M255.5 241v2M255.5 407v1M257.5 176v3M258.5 185v1M258.5 434v1M259.5 187v5M260.5 214v4M261.5 244v2M262.5 214v1M263.5 191v3M264.5 143v2M265.5 145v1M266.5 187v3M267.5 177v2M267.5 434v1M268.5 199v2M269.5 180v3M269.5 437v1M270.5 190v2M270.5 437v1M271.5 186v3M272.5 217v7M273.5 198v3M274.5 185v2M275.5 162v9M276.5 162v45M276.5 220v2M277.5 159v3M277.5 214v6M278.5 160v47M278.5 224v2M278.5 393v1M278.5 406v2M279.5 218v4M280.5 162v45M280.5 221v3M281.5 203v4M282.5 160v23M283.5 190v2M284.5 201v6M284.5 426v1M285.5 158v3M286.5 158v3M287.5 159v2M288.5 160v12M289.5 160v26M290.5 189v1M291.5 170v4M291.5 426v1M292.5 163v2M293.5 186v7M294.5 225v8M295.5 185v2M296.5 200v1M297.5 171v1M299.5 182v3M300.5 168v2M301.5 178v2M302.5 166v1M303.5 167v2M304.5 175v1M305.5 176v1M306.5 178v2M307.5 180v1M308.5 190v1M309.5 199v3M310.5 192v3M312.5 238v3M312.5 400v2M312.5 404v1M313.5 245v1M314.5 215v5M315.5 196v6M317.5 188v2M318.5 205v3M319.5 232v3M319.5 406v2M320.5 219v2M321.5 216v2M322.5 215v1M323.5 214v1M323.5 398v1M325.5 214v1M326.5 215v1M326.5 404v1M327.5 218v2M328.5 225v2M328.5 247v9M328.5 258v1M329.5 248v2M329.5 404v1M330.5 235v5M330.5 405v2M331.5 240v2M332.5 251v3M333.5 246v1M333.5 400v1M334.5 261v1M334.5 398v2M335.5 250v1M335.5 400v1M336.5 268v1M336.5 398v3M337.5 257v2M337.5 398v1M338.5 254v1M339.5 245v1M340.5 253v1M341.5 266v1M342.5 260v1M343.5 264v1M344.5 199v1M344.5 396v3M345.5 253v1M345.5 401v1M346.5 261v1M346.5 385v1M347.5 178v1M348.5 396v1M349.5 251v1M350.5 242v1M351.5 247v1M351.5 383v1M352.5 380v1M353.5 381v2M354.5 169v1M354.5 375v1M355.5 236v2M356.5 236v1M356.5 384v1M357.5 238v1M357.5 385v1M358.5 252v5M358.5 376v1M359.5 272v1M359.5 370v2M360.5 254v4M360.5 374v2M361.5 242v1M361.5 379v1M362.5 253v1M362.5 381v1M363.5 259v1M364.5 252v1M365.5 240v1M365.5 380v1M366.5 242v1M366.5 383v1M368.5 252v1M368.5 381v1M369.5 253v1M369.5 374v2M370.5 259v1M370.5 379v2M371.5 245v1M371.5 376v1M372.5 248v5M372.5 283v1M372.5 382v2M373.5 262v1M373.5 283v2M373.5 289v3M373.5 385v2M374.5 260v1M374.5 387v1M375.5 259v3M375.5 274v1M375.5 284v2M375.5 370v5M376.5 264v3M376.5 271v3M376.5 283v4M377.5 265v5M377.5 293v2M378.5 284v1M378.5 303v5M378.5 309v2M378.5 330v4M378.5 337v1M379.5 295v5M379.5 357v6M380.5 248v5M380.5 254v3M380.5 269v4M380.5 286v2M380.5 372v1M381.5 255v2M381.5 288v2M382.5 256v2M382.5 290v2M383.5 260v2M383.5 285v3M384.5 248v1M384.5 382v1M385.5 257v1M385.5 386v1M386.5 255v1M386.5 283v3M386.5 385v1M387.5 261v1M387.5 290v1M388.5 263v1M388.5 284v1M388.5 288v2M388.5 394v1M389.5 258v1M389.5 271v4M389.5 292v1M391.5 398v1M392.5 203v4M392.5 214v2M392.5 234v5M392.5 285v5M393.5 294v1M393.5 379v2M394.5 268v7M394.5 289v1M394.5 294v2M395.5 261v1M396.5 262v1M396.5 404v3M397.5 245v1M398.5 247v1M400.5 262v1M401.5 222v1M402.5 251v1M402.5 438v1M403.5 252v1M403.5 436v1M404.5 268v2M405.5 243v1M405.5 284v1M405.5 287v3M405.5 291v3M405.5 304v2M405.5 384v2M405.5 393v8M406.5 285v4M406.5 297v3M406.5 301v3M406.5 405v3M408.5 264v1M410.5 259v1M411.5 266v2M412.5 269v2M413.5 272v2M415.5 283v3M416.5 291v2M416.5 387v1M417.5 300v4M417.5 318v3M417.5 324v5M417.5 352v3M418.5 288v6M418.5 369v7M418.5 379v6M419.5 289v3M419.5 375v2M421.5 268v1M423.5 273v1M423.5 383v1M424.5 375v1M425.5 292v23M425.5 320v4M425.5 333v3M426.5 325v10M427.5 318v8M428.5 316v2M428.5 328v6M428.5 343v2M429.5 297v7M429.5 308v10M429.5 347v3M430.5 320v9M431.5 288v3M431.5 311v5M431.5 332v8M431.5 361v2M432.5 283v1M432.5 363v1M453.5 308v1M453.5 341v3M464.5 361v1M465.5 382v5M467.5 370v6M467.5 380v7M505.5 326v1M505.5 340v9M505.5 384v1"/>
<path stroke="#005cff" d="M101.5 221v1M102.5 221v1M105.5 328v1M106.5 234v1M106.5 305v1M106.5 327v1M107.5 307v1M107.5 325v1M108.5 310v2M108.5 321v2M114.5 249v9M114.5 267v6M138.5 298v19M138.5 325v2M139.5 314v6M139.5 324v4M143.5 346v1M156.5 318v4M156.5 327v1M170.5 314v7M178.5 249v2M178.5 291v4M178.5 333v5M181.5 269v4M181.5 306v17M182.5 267v8M182.5 304v3M182.5 327v4M183.5 299v3M183.5 326v4M184.5 266v3M184.5 282v2M184.5 287v2M184.5 334v5M185.5 253v2M185.5 343v2M185.5 351v1M186.5 262v14M186.5 290v2M186.5 337v2M187.5 302v2M187.5 329v2M188.5 299v2M188.5 323v4M189.5 292v3M189.5 332v1M190.5 302v4M190.5 316v2M191.5 290v3M191.5 333v2M192.5 295v3M192.5 332v1M193.5 274v1M193.5 288v2M193.5 338v2M194.5 293v2M194.5 332v1M195.5 287v2M195.5 333v2M196.5 263v2M196.5 284v2M196.5 287v1M196.5 344v3M197.5 265v7M197.5 288v1M197.5 339v1M198.5 255v7M198.5 285v1M198.5 343v2M199.5 289v1M199.5 338v1M200.5 268v1M200.5 272v1M200.5 286v1M201.5 255v2M201.5 354v1M202.5 282v3M202.5 288v1M202.5 343v4M203.5 285v1M203.5 337v2M204.5 286v1M204.5 339v5M205.5 266v3M205.5 359v1M206.5 236v3M206.5 374v2M207.5 166v5M207.5 185v7M207.5 201v7M207.5 212v11M207.5 236v3M207.5 385v1M208.5 254v3M208.5 260v3M208.5 377v3M209.5 268v2M210.5 269v1M211.5 271v1M211.5 368v2M212.5 274v1M212.5 369v1M213.5 256v2M213.5 375v1M214.5 261v5M214.5 267v7M214.5 375v1M215.5 380v2M216.5 268v3M216.5 384v1M217.5 253v4M217.5 382v2M218.5 264v3M218.5 394v2M219.5 248v4M219.5 255v3M220.5 246v3M221.5 267v2M221.5 384v1M222.5 266v2M222.5 386v2M223.5 264v6M223.5 388v1M224.5 254v10M225.5 248v2M225.5 417v4M226.5 250v2M226.5 419v1M227.5 229v2M227.5 406v1M228.5 232v2M229.5 255v2M230.5 245v2M230.5 421v1M231.5 252v2M231.5 419v1M232.5 265v5M232.5 415v3M233.5 274v1M233.5 407v1M234.5 272v2M234.5 415v1M235.5 262v3M235.5 418v1M236.5 265v2M237.5 264v4M237.5 399v3M237.5 404v1M238.5 262v2M238.5 406v2M239.5 274v1M239.5 406v2M240.5 191v4M240.5 213v2M240.5 255v13M241.5 267v3M241.5 415v1M242.5 241v2M242.5 421v1M243.5 243v3M243.5 254v6M243.5 265v7M243.5 404v4M244.5 242v2M244.5 256v15M244.5 400v2M245.5 224v4M245.5 420v1M246.5 236v2M246.5 415v1M247.5 246v4M247.5 381v3M248.5 248v3M248.5 379v3M249.5 237v10M249.5 373v1M250.5 248v5M250.5 371v2M251.5 372v1M252.5 221v1M252.5 227v1M252.5 242v5M252.5 338v2M252.5 344v2M252.5 364v1M254.5 241v3M254.5 252v2M254.5 360v1M255.5 243v2M255.5 404v3M256.5 213v1M256.5 417v7M257.5 179v8M257.5 423v1M258.5 186v2M259.5 192v8M259.5 423v4M260.5 218v6M260.5 419v3M261.5 246v8M262.5 215v3M262.5 421v3M263.5 194v3M264.5 145v2M264.5 183v12M264.5 421v2M265.5 146v2M265.5 415v1M265.5 418v2M266.5 190v2M266.5 424v1M267.5 179v3M268.5 201v1M268.5 424v2M269.5 183v2M269.5 436v1M270.5 192v3M270.5 434v3M271.5 189v4M272.5 214v3M272.5 224v4M272.5 420v1M273.5 201v6M273.5 429v1M274.5 187v17M274.5 417v1M275.5 416v1M276.5 222v2M276.5 419v2M277.5 162v46M277.5 213v1M277.5 220v3M277.5 424v1M278.5 226v3M278.5 231v1M278.5 392v1M278.5 394v8M278.5 404v2M279.5 222v3M280.5 224v7M281.5 213v3M281.5 421v2M282.5 183v3M282.5 424v2M283.5 192v5M283.5 424v3M284.5 424v2M285.5 161v33M286.5 161v12M286.5 415v2M287.5 161v10M288.5 172v1M288.5 416v1M289.5 186v1M289.5 423v2M290.5 190v2M290.5 406v2M291.5 174v2M291.5 425v1M292.5 165v2M292.5 429v1M293.5 193v3M294.5 233v6M294.5 407v1M295.5 187v1M296.5 201v2M296.5 416v1M297.5 417v1M298.5 172v1M298.5 419v2M299.5 185v1M299.5 417v1M300.5 170v3M301.5 180v2M302.5 167v3M303.5 169v4M303.5 419v1M304.5 176v2M304.5 425v2M305.5 177v2M305.5 407v1M306.5 180v3M306.5 417v2M307.5 181v2M307.5 429v1M308.5 191v1M309.5 202v4M309.5 416v1M310.5 195v3M311.5 205v1M311.5 420v3M312.5 241v2M312.5 397v3M313.5 246v1M314.5 220v5M314.5 415v2M315.5 202v5M315.5 423v1M316.5 213v9M316.5 417v1M317.5 190v4M318.5 419v2M319.5 235v2M319.5 404v2M320.5 221v2M320.5 407v1M321.5 218v1M321.5 406v2M322.5 216v1M322.5 406v2M323.5 215v1M323.5 396v2M324.5 214v1M325.5 215v1M325.5 400v2M326.5 216v2M327.5 220v1M328.5 227v2M328.5 244v3M328.5 259v1M329.5 250v2M329.5 401v1M330.5 240v2M330.5 404v1M331.5 242v2M332.5 254v2M332.5 398v3M333.5 247v2M333.5 398v2M334.5 262v2M334.5 395v3M335.5 251v1M335.5 398v2M336.5 269v1M336.5 395v3M337.5 259v2M337.5 396v2M338.5 255v1M339.5 246v1M339.5 420v3M340.5 254v1M340.5 425v2M341.5 267v1M341.5 428v1M342.5 261v1M342.5 426v2M343.5 265v1M343.5 406v2M343.5 418v3M344.5 200v1M344.5 252v3M344.5 394v2M345.5 254v2M345.5 397v4M346.5 262v1M346.5 383v2M348.5 179v1M348.5 395v1M349.5 387v1M350.5 243v1M350.5 396v1M351.5 248v2M351.5 382v1M352.5 262v4M352.5 378v2M353.5 380v1M354.5 220v1M354.5 374v1M355.5 238v2M355.5 378v1M356.5 237v1M356.5 383v1M357.5 239v3M357.5 383v2M358.5 257v5M358.5 375v1M359.5 273v1M360.5 258v4M360.5 372v2M361.5 243v2M362.5 254v2M362.5 380v1M363.5 260v1M363.5 375v1M364.5 253v1M364.5 378v1M365.5 241v1M365.5 379v1M366.5 382v1M367.5 259v1M367.5 379v1M368.5 253v1M368.5 380v1M369.5 254v6M369.5 371v3M370.5 378v1M371.5 246v1M371.5 375v1M372.5 253v7M372.5 275v1M372.5 284v7M372.5 379v3M373.5 263v1M373.5 292v1M373.5 383v2M374.5 261v1M374.5 384v3M375.5 262v12M375.5 286v9M375.5 363v1M375.5 369v1M376.5 267v4M376.5 287v8M377.5 295v2M377.5 354v10M378.5 283v1M378.5 311v2M378.5 327v3M379.5 300v3M379.5 355v2M380.5 257v2M380.5 264v5M380.5 288v2M380.5 369v3M381.5 257v2M381.5 290v3M381.5 377v1M382.5 258v7M382.5 266v9M382.5 292v2M382.5 386v1M383.5 262v1M383.5 283v2M383.5 288v2M383.5 388v1M384.5 249v1M384.5 283v1M384.5 381v1M386.5 256v1M386.5 282v1M386.5 286v2M386.5 384v1M387.5 291v2M388.5 264v1M388.5 282v2M388.5 290v2M388.5 393v1M389.5 269v2M389.5 293v1M389.5 386v1M390.5 248v1M390.5 387v1M391.5 195v1M391.5 397v1M392.5 250v1M392.5 261v1M392.5 283v2M392.5 290v4M392.5 387v1M393.5 295v2M393.5 378v1M394.5 296v1M394.5 386v1M395.5 262v1M395.5 404v4M396.5 263v1M396.5 392v10M397.5 246v1M397.5 406v2M398.5 248v1M398.5 424v3M399.5 252v1M399.5 418v1M400.5 424v1M401.5 418v1M402.5 252v1M402.5 437v1M403.5 253v1M403.5 435v1M404.5 270v1M404.5 424v1M405.5 244v3M405.5 283v1M405.5 290v1M405.5 306v2M405.5 383v1M406.5 289v2M406.5 296v1M406.5 304v2M406.5 392v6M406.5 404v1M407.5 283v8M407.5 407v1M408.5 265v1M408.5 415v1M409.5 269v1M409.5 417v1M410.5 260v1M410.5 415v1M411.5 268v3M411.5 423v1M412.5 271v1M412.5 429v1M413.5 274v1M413.5 424v3M414.5 415v2M415.5 286v2M415.5 387v1M416.5 293v4M416.5 384v3M417.5 304v4M417.5 315v3M417.5 329v2M417.5 351v1M418.5 294v2M418.5 352v12M419.5 292v2M419.5 374v1M420.5 274v1M420.5 377v1M421.5 269v1M421.5 381v1M422.5 377v1M423.5 274v1M423.5 382v1M424.5 369v2M424.5 372v3M425.5 315v5M425.5 324v2M425.5 330v3M428.5 318v10M428.5 334v9M429.5 318v3M429.5 328v5M429.5 337v3M429.5 345v2M431.5 291v15M431.5 307v4M431.5 316v3M431.5 330v2M431.5 340v21M432.5 284v5M432.5 296v3M432.5 333v23M432.5 362v1M453.5 309v1M453.5 338v3M465.5 360v1M465.5 370v1M466.5 360v1M467.5 361v1M505.5 327v13M505.5 349v15M505.5 369v13M505.5 383v1"/>
<path stroke="#08f" d="M101.5 329v1M104.5 230v1M104.5 328v1M105.5 232v1M105.5 327v1M106.5 306v1M106.5 326v1M107.5 281v2M107.5 308v1M107.5 324v1M108.5 281v7M108.5 312v2M108.5 319v2M109.5 239v37M138.5 317v8M139.5 320v4M143.5 315v1M143.5 326v16M143.5 345v1M156.5 322v3M170.5 321v5M170.5 330v1M178.5 251v6M178.5 262v10M178.5 295v3M178.5 329v4M182.5 307v13M182.5 324v3M183.5 302v4M183.5 313v13M184.5 269v7M184.5 289v2M184.5 332v2M185.5 255v3M185.5 283v4M185.5 339v4M185.5 345v6M186.5 292v2M186.5 335v2M187.5 304v10M187.5 326v3M188.5 301v1M188.5 314v9M189.5 295v2M189.5 328v4M190.5 306v10M191.5 293v5M191.5 322v11M192.5 298v1M192.5 331v1M193.5 290v3M193.5 336v2M194.5 295v1M194.5 331v1M195.5 289v1M195.5 332v1M196.5 265v5M196.5 282v2M196.5 288v1M196.5 340v4M197.5 289v1M197.5 338v1M198.5 262v7M198.5 286v2M198.5 341v2M199.5 290v1M199.5 337v1M200.5 269v3M200.5 287v1M200.5 339v1M201.5 257v5M201.5 353v1M202.5 289v1M202.5 340v3M203.5 286v2M203.5 336v1M204.5 287v1M204.5 337v2M205.5 269v3M205.5 358v1M206.5 239v3M206.5 373v1M207.5 171v14M207.5 208v1M207.5 239v2M207.5 383v2M208.5 263v5M208.5 374v3M209.5 270v2M209.5 365v1M210.5 270v1M210.5 363v2M211.5 272v1M211.5 367v1M212.5 368v1M213.5 258v11M214.5 274v2M214.5 374v1M215.5 281v1M215.5 378v2M216.5 271v2M216.5 383v1M217.5 257v11M217.5 381v1M218.5 267v4M218.5 393v1M219.5 252v3M219.5 258v5M219.5 388v1M220.5 249v8M221.5 269v7M221.5 383v1M222.5 268v3M222.5 384v2M223.5 270v2M223.5 387v1M224.5 264v2M224.5 407v1M225.5 250v2M225.5 414v3M226.5 252v2M226.5 418v1M227.5 231v2M227.5 405v1M228.5 234v2M229.5 257v2M230.5 247v2M231.5 254v4M231.5 418v1M232.5 270v3M233.5 405v2M234.5 274v2M234.5 414v1M235.5 265v1M235.5 417v1M236.5 267v2M237.5 268v1M237.5 397v2M238.5 264v5M238.5 399v3M238.5 404v2M239.5 403v3M240.5 172v4M240.5 186v5M240.5 215v28M240.5 252v3M240.5 268v6M240.5 407v1M241.5 270v3M242.5 243v2M242.5 419v2M243.5 246v8M243.5 272v1M243.5 398v4M244.5 244v12M244.5 271v1M244.5 395v5M245.5 228v4M245.5 419v1M246.5 238v1M246.5 400v8M247.5 250v10M247.5 378v3M248.5 251v6M248.5 375v4M249.5 247v9M249.5 372v1M250.5 241v7M250.5 253v5M250.5 370v1M251.5 244v1M251.5 250v5M251.5 371v1M252.5 222v1M252.5 224v3M252.5 247v10M252.5 287v9M252.5 337v1M252.5 346v3M252.5 355v9M254.5 254v2M254.5 289v2M254.5 301v12M254.5 327v4M254.5 334v10M254.5 353v7M254.5 361v4M255.5 245v2M255.5 399v3M256.5 214v6M256.5 414v3M257.5 187v5M257.5 422v1M258.5 188v3M259.5 200v3M259.5 421v2M260.5 224v3M260.5 414v5M261.5 254v3M261.5 388v1M262.5 218v5M262.5 416v5M263.5 197v3M263.5 428v2M264.5 147v10M264.5 180v3M264.5 195v4M264.5 420v1M265.5 148v7M265.5 183v14M265.5 205v4M265.5 212v8M265.5 416v2M266.5 192v2M266.5 421v3M267.5 182v4M268.5 202v2M268.5 423v1M269.5 185v3M269.5 435v1M270.5 195v8M271.5 193v3M271.5 427v3M272.5 228v4M272.5 235v1M272.5 414v6M273.5 207v2M273.5 424v5M274.5 204v4M274.5 415v2M275.5 213v8M275.5 414v2M276.5 224v1M276.5 418v1M277.5 223v2M277.5 235v3M277.5 422v2M278.5 229v2M278.5 232v1M279.5 225v2M280.5 231v3M281.5 216v2M281.5 420v1M282.5 186v3M282.5 421v3M283.5 197v5M283.5 422v2M284.5 212v4M284.5 420v4M285.5 194v3M286.5 414v1M288.5 414v2M289.5 187v1M289.5 421v2M290.5 192v1M290.5 404v2M291.5 176v3M291.5 417v8M292.5 167v4M292.5 428v1M293.5 196v4M294.5 239v2M294.5 405v2M295.5 188v2M296.5 203v2M296.5 415v1M297.5 172v1M297.5 416v1M298.5 176v4M298.5 417v2M299.5 186v2M299.5 416v1M300.5 173v3M300.5 424v3M301.5 182v1M301.5 192v5M302.5 170v3M303.5 173v2M303.5 418v1M304.5 178v1M304.5 424v1M305.5 179v2M305.5 404v3M306.5 183v2M306.5 415v2M307.5 183v2M307.5 428v1M308.5 192v1M308.5 422v1M309.5 415v1M310.5 198v4M311.5 418v2M312.5 243v1M312.5 394v3M314.5 225v4M314.5 414v1M315.5 207v3M315.5 421v2M316.5 222v6M316.5 415v2M317.5 194v4M318.5 212v2M318.5 418v1M319.5 237v3M319.5 402v1M320.5 223v3M320.5 405v2M321.5 219v1M321.5 403v3M322.5 217v1M322.5 404v2M323.5 216v1M323.5 395v1M324.5 215v1M324.5 384v5M325.5 216v2M325.5 399v1M326.5 218v1M327.5 221v1M327.5 401v1M328.5 229v15M328.5 260v1M328.5 388v1M329.5 252v2M329.5 400v1M330.5 242v4M331.5 244v3M332.5 256v1M332.5 396v2M333.5 249v3M333.5 396v2M334.5 264v1M334.5 392v3M335.5 252v2M335.5 397v1M336.5 270v1M336.5 394v1M337.5 261v1M338.5 256v1M338.5 400v2M339.5 247v1M339.5 397v5M339.5 404v4M339.5 415v5M340.5 255v1M340.5 423v2M341.5 268v1M341.5 426v2M342.5 262v1M342.5 425v1M343.5 398v4M343.5 404v2M343.5 414v4M344.5 218v17M344.5 251v1M344.5 255v2M344.5 392v2M345.5 256v1M345.5 395v2M346.5 263v2M346.5 381v2M347.5 179v1M347.5 387v2M348.5 394v1M349.5 252v1M349.5 386v1M350.5 244v1M350.5 395v1M351.5 250v2M351.5 380v2M352.5 170v8M352.5 196v13M352.5 211v4M352.5 223v5M352.5 241v9M352.5 260v2M352.5 266v2M352.5 377v1M353.5 379v1M354.5 214v6M354.5 221v8M354.5 373v1M355.5 240v1M355.5 377v1M356.5 238v1M356.5 382v1M357.5 242v3M357.5 248v5M357.5 382v1M358.5 262v3M358.5 374v1M359.5 343v4M359.5 350v9M359.5 362v3M360.5 262v5M360.5 370v2M361.5 245v1M361.5 378v1M362.5 256v1M362.5 379v1M363.5 261v2M364.5 254v1M365.5 242v1M365.5 378v1M366.5 243v3M366.5 381v1M367.5 260v1M367.5 378v1M368.5 254v1M368.5 378v2M369.5 260v3M369.5 368v3M370.5 260v1M370.5 377v1M371.5 247v1M371.5 374v1M372.5 260v6M372.5 272v3M372.5 291v1M372.5 376v3M373.5 264v3M373.5 269v7M373.5 293v1M373.5 377v6M374.5 262v1M374.5 381v3M375.5 295v2M375.5 359v4M376.5 295v2M376.5 362v2M377.5 297v2M377.5 345v3M377.5 352v2M378.5 247v1M378.5 282v1M378.5 313v1M378.5 322v5M379.5 303v6M379.5 348v7M380.5 259v5M380.5 290v2M380.5 367v2M381.5 259v8M381.5 271v5M381.5 293v1M381.5 376v1M382.5 265v1M382.5 294v2M382.5 385v1M383.5 263v1M383.5 281v2M383.5 290v2M384.5 250v1M384.5 284v2M384.5 380v1M385.5 258v1M385.5 385v1M386.5 288v2M386.5 383v1M387.5 262v1M387.5 293v1M387.5 388v1M388.5 265v1M388.5 281v1M388.5 292v1M388.5 392v1M389.5 259v1M389.5 261v8M389.5 385v1M390.5 249v1M390.5 281v2M391.5 196v1M391.5 287v3M391.5 396v1M392.5 259v1M392.5 262v1M392.5 281v2M392.5 294v2M392.5 386v1M393.5 297v1M393.5 376v2M394.5 297v2M394.5 385v1M395.5 263v1M395.5 399v3M396.5 264v2M396.5 285v1M397.5 247v1M397.5 404v2M398.5 249v1M398.5 422v2M399.5 253v1M399.5 417v1M400.5 263v1M400.5 423v1M401.5 223v1M401.5 252v4M401.5 417v1M403.5 254v1M404.5 271v1M404.5 422v2M405.5 247v4M405.5 308v2M405.5 382v1M406.5 291v5M406.5 306v1M406.5 388v1M406.5 398v4M407.5 291v1M407.5 406v1M408.5 266v1M408.5 414v1M409.5 270v1M410.5 261v1M410.5 414v1M411.5 271v2M411.5 422v1M412.5 272v1M412.5 423v6M413.5 275v1M413.5 419v5M414.5 406v2M415.5 288v4M415.5 386v1M416.5 297v1M416.5 377v7M417.5 308v7M417.5 331v1M417.5 342v5M417.5 349v2M418.5 296v2M418.5 351v1M419.5 294v2M419.5 352v5M419.5 372v2M420.5 275v1M420.5 376v1M421.5 270v1M421.5 380v1M422.5 376v1M423.5 275v1M423.5 381v1M424.5 281v2M424.5 368v1M424.5 371v1M425.5 326v4M429.5 321v7M429.5 333v4M429.5 340v5M431.5 306v1M431.5 319v11M432.5 289v7M432.5 299v12M432.5 313v4M432.5 330v3M432.5 356v6M453.5 310v12M453.5 332v6M464.5 363v3M464.5 367v2M466.5 388v1M467.5 369v1M505.5 382v1"/>
<path stroke="#00b3ff" d="M106.5 280v20M107.5 243v12M107.5 272v4M107.5 283v13M107.5 309v1M107.5 323v1M108.5 237v24M108.5 268v8M108.5 314v5M143.5 316v10M143.5 342v3M156.5 325v2M170.5 326v4M178.5 257v5M178.5 272v4M178.5 298v10M178.5 316v2M178.5 321v8M182.5 320v4M183.5 306v7M184.5 291v2M184.5 330v2M185.5 258v8M185.5 280v3M185.5 287v3M185.5 337v2M186.5 294v3M186.5 332v3M187.5 314v7M187.5 323v3M188.5 302v1M188.5 312v2M189.5 297v3M189.5 319v9M191.5 298v2M191.5 306v4M191.5 320v2M192.5 299v2M192.5 326v5M193.5 293v3M193.5 334v2M194.5 296v2M194.5 330v1M195.5 290v5M195.5 331v1M196.5 270v6M196.5 280v2M196.5 289v1M196.5 339v1M197.5 290v2M197.5 337v1M198.5 269v4M198.5 274v2M198.5 288v1M198.5 340v1M199.5 291v2M199.5 336v1M200.5 288v1M201.5 262v3M201.5 285v2M201.5 351v2M202.5 290v1M202.5 338v2M203.5 288v1M203.5 335v1M204.5 288v2M204.5 335v2M205.5 272v5M205.5 355v3M206.5 242v2M206.5 371v2M207.5 241v3M207.5 382v1M208.5 268v3M208.5 371v3M209.5 272v2M209.5 363v2M210.5 271v1M210.5 362v1M211.5 273v1M211.5 363v4M212.5 280v1M212.5 367v1M213.5 269v4M213.5 374v1M214.5 276v1M214.5 372v2M215.5 282v1M215.5 373v5M216.5 273v2M216.5 381v2M217.5 268v4M217.5 379v2M218.5 271v2M218.5 392v1M219.5 263v3M219.5 387v1M220.5 257v3M220.5 388v1M221.5 276v1M221.5 381v2M222.5 271v3M222.5 375v9M223.5 272v1M223.5 386v1M224.5 266v3M224.5 405v2M225.5 252v2M225.5 261v2M226.5 254v1M226.5 417v1M227.5 233v2M227.5 404v1M228.5 236v8M229.5 259v4M230.5 249v2M230.5 420v1M231.5 258v7M231.5 417v1M232.5 273v4M233.5 281v1M233.5 400v5M235.5 266v1M235.5 416v1M236.5 269v2M237.5 269v1M237.5 396v1M238.5 269v2M238.5 397v2M239.5 396v7M240.5 176v10M240.5 243v9M240.5 274v3M240.5 403v4M241.5 273v4M242.5 245v3M242.5 418v1M243.5 273v1M243.5 396v2M244.5 272v1M244.5 394v1M245.5 232v4M245.5 417v2M246.5 239v3M246.5 396v4M247.5 260v17M247.5 374v4M248.5 257v4M248.5 372v3M249.5 256v9M249.5 370v2M250.5 258v10M250.5 355v7M250.5 368v2M251.5 249v1M251.5 255v3M251.5 360v2M251.5 369v2M252.5 223v1M252.5 257v3M252.5 285v2M252.5 296v6M252.5 335v2M252.5 349v6M254.5 256v5M254.5 273v3M254.5 280v9M254.5 291v10M254.5 313v14M254.5 331v3M254.5 344v1M254.5 350v3M255.5 247v2M255.5 385v5M255.5 395v4M256.5 220v3M256.5 407v1M257.5 192v2M257.5 420v2M258.5 191v2M258.5 429v2M259.5 203v2M259.5 420v1M260.5 227v4M261.5 257v2M261.5 371v1M261.5 383v5M262.5 223v4M262.5 415v1M263.5 200v5M263.5 427v1M264.5 157v11M264.5 177v3M264.5 199v1M264.5 418v2M265.5 155v3M265.5 180v3M265.5 197v8M265.5 220v2M266.5 194v2M266.5 418v3M267.5 186v3M267.5 428v2M268.5 204v2M268.5 421v2M269.5 188v3M269.5 434v1M270.5 203v3M270.5 428v3M271.5 196v6M271.5 425v2M272.5 232v3M272.5 236v3M273.5 209v2M273.5 224v4M273.5 403v5M273.5 414v3M273.5 420v4M274.5 208v1M274.5 414v1M275.5 171v1M275.5 201v12M275.5 221v2M276.5 225v2M276.5 417v1M277.5 225v10M277.5 238v3M277.5 416v6M278.5 233v2M278.5 387v2M279.5 227v2M279.5 233v1M280.5 234v2M281.5 218v5M281.5 414v6M282.5 189v12M282.5 419v2M283.5 202v6M283.5 420v2M284.5 216v3M284.5 417v3M285.5 197v3M286.5 173v1M287.5 171v1M287.5 234v5M287.5 407v1M288.5 173v1M288.5 232v2M289.5 188v1M289.5 419v2M290.5 193v2M290.5 216v1M290.5 402v2M291.5 414v3M292.5 171v3M292.5 426v2M293.5 200v4M293.5 407v1M294.5 241v4M294.5 397v8M295.5 190v4M295.5 428v2M296.5 205v3M297.5 179v6M297.5 213v12M297.5 414v2M298.5 173v3M298.5 180v4M298.5 220v5M298.5 416v1M299.5 188v2M299.5 415v1M300.5 176v2M300.5 421v3M301.5 183v2M301.5 189v3M301.5 197v2M302.5 173v1M303.5 175v2M303.5 417v1M304.5 423v1M305.5 181v2M305.5 401v3M306.5 185v7M306.5 212v9M307.5 185v2M308.5 193v2M308.5 421v1M309.5 206v1M309.5 414v1M310.5 202v2M310.5 405v3M311.5 206v1M311.5 416v2M312.5 244v1M312.5 393v1M313.5 247v1M313.5 399v3M313.5 406v2M314.5 229v5M315.5 210v1M315.5 418v3M316.5 228v3M316.5 414v1M317.5 198v5M318.5 214v2M318.5 416v2M319.5 240v2M319.5 400v2M320.5 226v2M320.5 404v1M321.5 220v2M321.5 244v9M321.5 401v2M322.5 218v1M322.5 400v4M323.5 217v1M323.5 393v2M324.5 216v1M324.5 381v3M325.5 218v1M325.5 397v2M326.5 219v1M327.5 222v1M327.5 400v1M328.5 261v1M329.5 254v1M329.5 398v2M330.5 246v3M330.5 401v2M331.5 247v3M331.5 405v3M332.5 257v2M332.5 393v3M333.5 252v2M333.5 393v3M334.5 265v1M334.5 390v2M335.5 254v2M335.5 395v2M336.5 271v1M336.5 393v1M337.5 262v2M337.5 395v1M338.5 257v1M338.5 398v2M339.5 248v1M339.5 393v4M339.5 414v1M340.5 421v2M341.5 269v1M341.5 425v1M342.5 263v1M342.5 424v1M343.5 266v1M343.5 396v2M344.5 201v3M344.5 209v9M344.5 235v16M344.5 257v1M344.5 391v1M345.5 257v1M345.5 394v1M346.5 265v1M346.5 379v2M347.5 223v5M347.5 258v5M347.5 385v2M348.5 180v1M348.5 393v1M349.5 253v1M349.5 385v1M350.5 245v1M350.5 394v1M351.5 252v2M351.5 379v1M352.5 178v7M352.5 191v5M352.5 215v8M352.5 228v13M352.5 250v10M352.5 268v1M352.5 376v1M353.5 267v2M353.5 378v1M354.5 209v5M354.5 229v12M354.5 372v1M355.5 376v1M356.5 239v2M356.5 381v1M357.5 245v3M357.5 253v3M357.5 380v2M358.5 265v1M358.5 373v1M359.5 274v1M359.5 342v1M359.5 347v3M359.5 359v3M360.5 267v2M360.5 368v2M361.5 246v2M361.5 377v1M362.5 257v2M363.5 263v2M363.5 374v1M364.5 255v1M364.5 377v1M365.5 243v1M365.5 377v1M366.5 246v16M366.5 380v1M367.5 377v1M368.5 255v1M368.5 377v1M369.5 263v2M369.5 280v3M369.5 367v1M370.5 375v2M371.5 248v1M371.5 372v2M372.5 266v6M372.5 292v2M372.5 375v1M373.5 267v2M373.5 375v2M374.5 263v1M374.5 378v3M375.5 297v2M375.5 357v2M376.5 297v1M376.5 358v4M377.5 299v2M377.5 341v4M377.5 348v4M378.5 314v1M378.5 321v1M379.5 309v2M379.5 330v6M379.5 346v2M380.5 292v2M380.5 365v2M381.5 267v4M381.5 294v3M381.5 375v1M382.5 296v3M382.5 384v1M383.5 264v1M383.5 276v1M383.5 292v2M383.5 387v1M384.5 251v1M384.5 275v1M384.5 286v2M384.5 379v1M385.5 384v1M386.5 257v1M386.5 290v2M387.5 263v1M387.5 294v1M387.5 387v1M388.5 293v2M388.5 391v1M389.5 260v1M389.5 294v1M390.5 283v2M390.5 386v1M391.5 268v3M391.5 284v3M391.5 290v3M391.5 395v1M392.5 263v7M392.5 274v3M392.5 296v1M392.5 385v1M393.5 298v1M393.5 375v1M394.5 299v2M394.5 384v1M395.5 264v4M395.5 398v1M396.5 266v2M396.5 282v3M396.5 286v8M396.5 386v3M397.5 248v15M397.5 398v6M398.5 250v3M398.5 417v5M399.5 416v1M400.5 264v2M400.5 420v3M401.5 224v5M401.5 248v4M401.5 256v1M401.5 416v1M402.5 253v1M402.5 436v1M403.5 255v2M403.5 434v1M404.5 272v1M404.5 421v1M405.5 251v5M405.5 282v1M405.5 310v1M405.5 381v1M406.5 307v1M406.5 387v1M407.5 292v3M407.5 299v6M407.5 405v1M408.5 267v1M409.5 271v1M409.5 416v1M410.5 262v3M411.5 273v4M411.5 419v3M412.5 273v2M412.5 421v2M413.5 416v3M414.5 280v1M414.5 399v7M415.5 292v4M415.5 385v1M416.5 298v2M416.5 372v5M417.5 332v3M417.5 340v2M417.5 347v2M418.5 298v3M418.5 321v3M418.5 349v2M419.5 296v1M419.5 350v2M419.5 357v15M420.5 280v2M421.5 271v1M422.5 281v2M423.5 276v1M423.5 380v1M424.5 283v4M424.5 346v12M424.5 364v2M432.5 311v2M432.5 317v3M432.5 322v8M453.5 322v10M464.5 362v1M466.5 387v1M467.5 362v1"/>
<path stroke="#00deff" d="M103.5 328v1M105.5 282v25M106.5 247v30M106.5 307v1M106.5 325v1M107.5 236v7M107.5 255v17M107.5 310v1M107.5 322v1M108.5 261v7M178.5 308v8M178.5 318v3M184.5 293v7M184.5 313v5M184.5 321v9M185.5 266v5M185.5 279v1M185.5 290v2M185.5 335v2M186.5 297v5M186.5 330v2M187.5 321v2M188.5 303v2M188.5 310v2M189.5 300v3M189.5 317v2M191.5 300v6M191.5 310v2M191.5 318v2M192.5 301v2M192.5 324v2M193.5 296v2M193.5 332v2M194.5 298v1M194.5 329v1M195.5 295v2M195.5 329v2M196.5 276v2M196.5 279v1M196.5 290v2M196.5 337v2M197.5 292v1M197.5 335v2M198.5 273v1M198.5 289v1M198.5 339v1M199.5 293v1M199.5 335v1M200.5 338v1M201.5 265v4M201.5 283v2M201.5 287v1M201.5 349v2M202.5 291v1M202.5 337v1M203.5 289v1M203.5 334v1M204.5 290v1M204.5 334v1M205.5 280v3M205.5 351v4M206.5 244v3M206.5 367v4M207.5 244v4M207.5 378v4M208.5 271v2M208.5 368v3M209.5 274v1M209.5 362v1M210.5 272v1M211.5 274v2M211.5 362v1M212.5 281v1M212.5 364v3M213.5 273v2M213.5 372v2M214.5 277v1M214.5 371v1M215.5 371v2M216.5 275v1M216.5 379v2M217.5 272v2M217.5 378v1M218.5 273v2M218.5 390v2M219.5 266v4M219.5 385v2M220.5 260v4M220.5 386v2M221.5 379v2M222.5 274v1M222.5 368v7M223.5 273v2M223.5 384v2M224.5 269v3M224.5 403v2M225.5 254v7M225.5 263v2M225.5 407v2M226.5 255v7M226.5 414v3M227.5 235v3M227.5 403v1M228.5 244v5M229.5 263v3M230.5 251v3M230.5 419v1M231.5 265v5M231.5 414v3M232.5 277v1M232.5 404v4M233.5 282v1M233.5 381v19M234.5 278v1M235.5 267v1M235.5 414v2M236.5 271v2M237.5 270v1M237.5 394v2M238.5 271v1M238.5 395v2M239.5 280v1M239.5 389v7M240.5 399v4M241.5 280v1M241.5 407v2M242.5 248v8M242.5 259v9M242.5 417v1M243.5 393v3M244.5 392v2M245.5 236v2M245.5 403v5M245.5 413v4M246.5 242v5M246.5 393v3M247.5 277v1M247.5 369v5M248.5 261v7M248.5 274v4M248.5 369v3M249.5 265v4M249.5 355v6M249.5 368v2M250.5 268v4M250.5 352v3M250.5 362v6M251.5 245v1M251.5 247v2M251.5 258v2M251.5 358v2M251.5 362v7M252.5 260v3M252.5 282v3M252.5 302v13M252.5 316v8M252.5 329v6M254.5 261v2M254.5 271v2M254.5 276v2M254.5 345v5M255.5 249v2M255.5 380v5M255.5 390v5M256.5 223v3M256.5 405v2M257.5 194v3M257.5 202v3M257.5 419v1M258.5 193v3M258.5 427v2M259.5 205v3M259.5 212v3M259.5 418v2M260.5 231v4M260.5 405v3M261.5 259v2M261.5 369v2M261.5 372v2M261.5 380v3M262.5 227v4M262.5 413v2M263.5 205v3M263.5 425v2M264.5 168v9M264.5 200v1M264.5 413v5M265.5 158v4M265.5 168v12M265.5 222v2M266.5 196v1M266.5 413v5M267.5 189v4M267.5 426v2M268.5 206v3M268.5 417v4M269.5 191v9M269.5 432v2M270.5 206v2M270.5 426v2M271.5 202v3M271.5 423v2M272.5 239v2M273.5 211v3M273.5 216v8M273.5 228v2M273.5 400v3M273.5 417v3M274.5 209v3M275.5 197v4M275.5 223v1M276.5 227v3M276.5 416v1M277.5 241v1M277.5 414v2M278.5 235v2M278.5 385v2M279.5 229v4M279.5 234v3M280.5 236v1M281.5 223v3M282.5 201v3M282.5 413v6M283.5 208v3M283.5 419v1M284.5 219v5M284.5 414v3M285.5 200v8M285.5 215v3M285.5 408v1M286.5 232v1M286.5 407v2M287.5 239v2M287.5 404v3M288.5 231v1M288.5 234v6M288.5 399v3M289.5 189v1M289.5 220v4M289.5 417v2M290.5 195v2M290.5 203v6M290.5 214v2M290.5 217v5M290.5 398v4M291.5 407v2M292.5 174v2M292.5 424v2M293.5 204v2M293.5 404v3M294.5 245v2M294.5 392v5M295.5 194v5M295.5 418v10M296.5 208v2M296.5 413v2M297.5 175v4M297.5 185v5M297.5 209v4M297.5 225v9M298.5 184v2M298.5 214v6M298.5 225v3M298.5 414v2M299.5 190v5M299.5 414v1M300.5 178v2M300.5 417v4M301.5 185v4M301.5 199v2M302.5 174v2M303.5 177v3M303.5 413v4M304.5 179v1M304.5 422v1M305.5 183v2M305.5 400v1M306.5 192v20M306.5 221v2M307.5 187v2M307.5 427v1M308.5 195v2M309.5 207v1M309.5 212v6M310.5 399v6M311.5 207v1M311.5 413v3M312.5 245v1M312.5 391v2M313.5 248v1M313.5 398v1M313.5 402v4M314.5 234v3M315.5 211v3M315.5 415v3M316.5 231v4M317.5 203v3M317.5 407v2M318.5 216v5M318.5 414v2M319.5 397v3M320.5 228v4M320.5 402v2M321.5 222v2M321.5 241v3M321.5 253v3M321.5 397v4M322.5 219v1M322.5 398v2M323.5 218v1M323.5 392v1M324.5 217v1M324.5 379v2M325.5 219v3M325.5 396v1M326.5 220v2M326.5 402v1M327.5 223v1M327.5 399v1M328.5 387v1M329.5 255v1M330.5 249v3M330.5 400v1M331.5 250v2M331.5 403v2M332.5 259v3M332.5 389v4M333.5 254v2M333.5 388v5M334.5 266v1M334.5 389v1M335.5 256v1M335.5 394v1M336.5 272v2M336.5 392v1M337.5 264v1M337.5 394v1M338.5 258v1M338.5 396v2M339.5 249v2M339.5 391v2M340.5 256v1M340.5 420v1M341.5 270v1M341.5 424v1M342.5 264v1M342.5 422v2M343.5 267v1M343.5 393v3M344.5 204v5M344.5 258v1M344.5 390v1M345.5 258v1M345.5 393v1M346.5 266v1M346.5 377v2M347.5 180v1M347.5 186v5M347.5 219v4M347.5 228v3M347.5 257v1M347.5 263v1M347.5 384v1M348.5 392v1M349.5 384v1M350.5 246v2M350.5 392v2M351.5 254v3M351.5 377v2M352.5 185v6M352.5 375v1M353.5 263v4M353.5 269v2M353.5 377v1M354.5 170v3M354.5 181v28M354.5 241v1M354.5 371v1M355.5 241v1M355.5 375v1M356.5 241v1M356.5 380v1M357.5 256v2M357.5 379v1M358.5 266v1M358.5 371v2M359.5 275v1M359.5 341v1M360.5 269v2M360.5 366v2M361.5 248v1M362.5 259v2M362.5 378v1M363.5 265v2M363.5 373v1M364.5 256v1M364.5 376v1M365.5 244v1M365.5 376v1M366.5 262v1M366.5 378v2M367.5 261v1M367.5 376v1M368.5 256v1M368.5 376v1M369.5 265v2M369.5 274v4M369.5 283v2M369.5 366v1M370.5 261v1M370.5 374v1M371.5 249v7M371.5 370v2M372.5 294v1M372.5 373v2M373.5 294v1M373.5 373v2M374.5 264v1M374.5 282v7M374.5 377v1M375.5 299v2M375.5 352v5M376.5 298v2M376.5 355v3M377.5 301v9M377.5 330v7M377.5 338v3M378.5 248v1M378.5 254v11M378.5 281v1M378.5 315v1M378.5 319v2M379.5 311v4M379.5 324v2M379.5 328v2M379.5 336v4M379.5 345v1M380.5 294v5M380.5 363v2M381.5 297v4M381.5 373v2M382.5 299v3M382.5 382v2M383.5 265v1M383.5 273v3M383.5 294v1M383.5 385v2M384.5 252v1M384.5 273v2M384.5 288v3M385.5 259v1M385.5 286v1M386.5 258v1M386.5 275v2M386.5 292v1M386.5 382v1M387.5 275v2M387.5 295v2M388.5 266v12M388.5 295v1M388.5 390v1M389.5 295v1M389.5 384v1M390.5 250v1M390.5 277v1M390.5 285v2M390.5 385v1M391.5 197v1M391.5 234v16M391.5 265v3M391.5 271v7M391.5 279v5M391.5 293v2M392.5 251v6M392.5 270v4M392.5 384v1M393.5 299v1M393.5 373v2M394.5 301v1M394.5 383v1M395.5 268v19M395.5 292v2M395.5 395v3M396.5 268v14M396.5 294v2M396.5 384v2M397.5 263v2M397.5 283v3M397.5 396v2M398.5 253v3M398.5 413v4M399.5 254v1M399.5 415v1M400.5 266v2M400.5 417v3M401.5 229v7M401.5 244v4M401.5 257v1M402.5 254v1M402.5 435v1M403.5 257v2M403.5 433v1M404.5 273v2M404.5 419v2M405.5 256v17M405.5 281v1M405.5 311v1M405.5 380v1M406.5 308v1M406.5 386v1M407.5 295v4M407.5 305v2M407.5 404v1M408.5 268v4M409.5 272v1M409.5 415v1M410.5 265v3M411.5 279v1M411.5 417v2M412.5 275v1M412.5 420v1M413.5 279v1M413.5 414v2M414.5 281v2M414.5 396v3M415.5 296v3M415.5 384v1M416.5 300v4M416.5 316v5M416.5 369v3M417.5 335v5M418.5 301v7M418.5 316v5M418.5 324v3M418.5 347v2M419.5 297v2M419.5 317v2M419.5 347v3M420.5 282v3M420.5 375v1M421.5 272v1M421.5 379v1M422.5 283v2M422.5 374v2M423.5 277v2M423.5 379v1M424.5 287v4M424.5 308v3M424.5 337v9M424.5 358v6M432.5 320v2M466.5 370v4M466.5 376v11M467.5 363v6"/>
<path stroke="#00fff9" d="M103.5 224v1M104.5 298v3M105.5 258v10M105.5 276v6M106.5 235v2M106.5 241v6M106.5 308v1M106.5 324v1M107.5 311v1M107.5 321v1M184.5 300v13M184.5 318v3M185.5 271v8M185.5 292v2M185.5 332v3M186.5 302v2M186.5 326v4M188.5 305v5M189.5 303v2M189.5 312v5M191.5 312v2M191.5 316v2M192.5 303v2M192.5 323v1M193.5 298v1M193.5 331v1M194.5 299v1M194.5 327v2M195.5 297v3M195.5 301v2M195.5 306v5M195.5 325v4M196.5 292v2M196.5 336v1M197.5 293v1M197.5 334v1M198.5 290v1M198.5 337v2M199.5 294v1M199.5 334v1M200.5 289v1M201.5 269v4M201.5 282v1M201.5 288v1M201.5 344v5M202.5 336v1M203.5 290v1M203.5 333v1M204.5 291v1M204.5 332v2M205.5 283v3M205.5 347v4M206.5 247v2M206.5 363v4M207.5 248v15M207.5 375v3M208.5 273v2M208.5 358v10M209.5 275v1M209.5 361v1M210.5 273v1M210.5 361v1M211.5 276v3M211.5 361v1M212.5 282v1M212.5 362v2M213.5 275v2M213.5 371v1M214.5 278v1M214.5 368v3M215.5 283v1M215.5 368v3M216.5 276v1M216.5 377v2M217.5 274v2M217.5 376v2M218.5 275v2M218.5 388v2M219.5 270v3M219.5 383v2M220.5 264v3M220.5 385v1M221.5 279v1M221.5 378v1M222.5 275v1M222.5 366v2M223.5 275v5M223.5 381v3M224.5 272v2M224.5 400v3M225.5 265v5M225.5 405v2M226.5 262v2M226.5 411v3M227.5 238v11M227.5 401v2M228.5 249v2M228.5 409v1M229.5 266v1M230.5 254v3M230.5 418v1M231.5 270v3M231.5 411v3M232.5 278v2M232.5 399v5M233.5 283v1M233.5 379v2M234.5 407v2M235.5 268v2M235.5 413v1M236.5 273v1M236.5 407v2M237.5 271v1M237.5 392v2M238.5 389v6M239.5 281v1M239.5 375v3M239.5 386v3M240.5 277v1M240.5 397v2M241.5 281v1M241.5 402v5M242.5 256v3M242.5 268v3M242.5 410v7M243.5 274v1M243.5 391v2M244.5 273v1M244.5 388v4M245.5 238v2M245.5 396v7M245.5 408v1M246.5 247v9M246.5 261v8M246.5 381v12M247.5 278v2M247.5 362v7M248.5 268v6M248.5 278v2M248.5 354v15M249.5 269v10M249.5 352v3M249.5 361v7M250.5 272v12M250.5 347v5M251.5 246v1M251.5 260v3M251.5 354v4M252.5 263v3M252.5 269v13M252.5 315v1M252.5 324v5M254.5 263v1M254.5 270v1M255.5 251v3M255.5 378v2M256.5 226v8M256.5 245v4M256.5 380v25M257.5 197v5M257.5 205v5M257.5 417v2M258.5 196v8M258.5 424v3M259.5 208v4M259.5 215v7M259.5 417v1M260.5 235v2M260.5 398v7M261.5 261v3M261.5 368v1M261.5 374v1M261.5 378v2M262.5 231v5M262.5 401v8M262.5 412v1M263.5 208v5M263.5 422v3M264.5 201v1M264.5 411v1M265.5 162v6M265.5 224v8M265.5 405v5M266.5 197v1M266.5 206v4M266.5 412v1M267.5 193v5M267.5 423v3M268.5 209v1M268.5 219v3M268.5 415v2M269.5 200v3M269.5 428v4M270.5 208v2M270.5 425v1M271.5 205v2M271.5 421v2M272.5 241v1M272.5 409v1M273.5 214v2M273.5 230v2M273.5 398v2M274.5 212v9M274.5 407v3M275.5 172v1M275.5 179v3M275.5 195v2M275.5 224v2M276.5 230v2M276.5 415v1M277.5 242v2M277.5 412v2M278.5 237v1M278.5 384v1M279.5 237v1M279.5 407v2M280.5 237v1M280.5 407v2M281.5 226v8M282.5 204v4M282.5 409v1M283.5 211v2M283.5 417v2M284.5 224v6M284.5 408v1M285.5 208v7M285.5 218v3M285.5 403v5M286.5 174v1M286.5 231v1M286.5 233v4M286.5 403v4M287.5 233v1M287.5 241v1M287.5 402v2M288.5 174v1M288.5 223v8M288.5 240v2M288.5 396v3M288.5 402v3M288.5 407v2M289.5 190v1M289.5 219v1M289.5 224v3M289.5 415v2M290.5 197v6M290.5 209v5M290.5 222v2M290.5 395v3M291.5 179v1M291.5 406v1M292.5 176v9M292.5 422v2M293.5 206v3M293.5 397v7M294.5 247v2M294.5 391v1M295.5 199v2M295.5 414v4M296.5 210v4M296.5 410v1M297.5 173v2M297.5 190v10M297.5 206v3M297.5 234v5M297.5 408v2M298.5 186v3M298.5 194v20M298.5 228v2M298.5 412v2M299.5 195v3M299.5 413v1M300.5 180v2M300.5 415v2M301.5 201v2M301.5 407v2M302.5 176v4M302.5 408v1M304.5 421v1M305.5 185v7M305.5 211v8M305.5 399v1M306.5 223v1M307.5 189v3M307.5 425v2M308.5 197v2M308.5 420v1M309.5 208v4M309.5 218v2M309.5 406v3M310.5 204v1M310.5 398v1M311.5 218v17M311.5 407v3M313.5 397v1M314.5 237v1M314.5 409v1M315.5 214v5M315.5 412v3M316.5 235v6M316.5 407v2M317.5 206v4M317.5 404v3M318.5 221v1M318.5 412v2M319.5 242v1M319.5 395v2M320.5 232v7M320.5 398v4M321.5 224v1M321.5 240v1M321.5 256v4M321.5 391v6M322.5 220v1M322.5 395v3M323.5 390v2M324.5 218v1M324.5 377v2M325.5 222v1M325.5 393v3M326.5 222v1M327.5 224v2M327.5 398v1M328.5 262v1M329.5 256v1M329.5 397v1M330.5 252v2M330.5 398v2M331.5 252v3M331.5 402v1M332.5 262v2M332.5 387v2M333.5 256v2M333.5 386v2M334.5 267v2M334.5 387v2M335.5 257v1M335.5 393v1M336.5 274v2M336.5 391v1M337.5 392v2M338.5 259v2M338.5 395v1M339.5 251v2M339.5 390v1M340.5 257v1M340.5 418v2M341.5 271v1M341.5 423v1M342.5 265v1M342.5 401v9M342.5 421v1M343.5 268v1M343.5 389v4M344.5 259v2M344.5 388v2M345.5 259v1M345.5 392v1M346.5 267v2M346.5 376v1M347.5 181v5M347.5 191v6M347.5 216v3M347.5 231v3M347.5 255v2M347.5 264v2M347.5 382v2M348.5 181v19M348.5 213v17M348.5 253v1M348.5 391v1M349.5 254v1M349.5 383v1M350.5 248v2M350.5 391v1M351.5 257v1M351.5 376v1M352.5 269v1M352.5 374v1M353.5 271v1M353.5 376v1M354.5 173v8M355.5 374v1M356.5 379v1M357.5 258v2M357.5 378v1M358.5 370v1M359.5 280v2M359.5 340v1M360.5 271v2M360.5 365v1M361.5 249v3M361.5 376v1M362.5 261v6M362.5 377v1M363.5 267v2M364.5 257v1M364.5 375v1M365.5 245v1M365.5 375v1M366.5 263v1M366.5 377v1M367.5 262v1M367.5 375v1M368.5 257v1M368.5 375v1M369.5 267v7M369.5 285v4M369.5 364v2M370.5 373v1M371.5 256v7M371.5 276v10M371.5 368v2M372.5 295v1M372.5 372v1M373.5 295v1M373.5 371v2M374.5 265v2M374.5 274v8M374.5 289v4M374.5 375v2M375.5 301v3M375.5 329v4M375.5 350v2M376.5 300v4M376.5 353v2M377.5 310v3M377.5 328v2M377.5 337v1M378.5 249v5M378.5 265v4M378.5 274v7M378.5 316v3M379.5 315v3M379.5 321v3M379.5 326v2M379.5 340v5M380.5 299v4M380.5 359v4M381.5 301v3M381.5 370v3M382.5 302v3M382.5 378v4M383.5 266v7M383.5 295v2M383.5 382v3M384.5 253v1M384.5 269v4M384.5 291v2M384.5 378v1M385.5 284v2M385.5 287v2M385.5 383v1M386.5 259v1M386.5 272v3M386.5 293v1M386.5 381v1M387.5 264v1M387.5 273v2M387.5 297v1M387.5 386v1M388.5 296v1M388.5 389v1M390.5 251v1M390.5 274v3M390.5 287v3M390.5 384v1M391.5 198v9M391.5 219v15M391.5 260v5M391.5 295v1M391.5 394v1M392.5 257v2M392.5 297v2M392.5 383v1M393.5 300v2M393.5 372v1M394.5 302v1M394.5 382v1M395.5 287v5M395.5 294v2M395.5 392v3M396.5 296v2M396.5 382v2M397.5 265v1M397.5 274v9M397.5 286v6M397.5 394v2M398.5 256v3M398.5 409v1M399.5 255v1M399.5 412v3M400.5 268v2M400.5 414v3M401.5 236v8M401.5 258v2M401.5 415v1M402.5 255v2M402.5 434v1M403.5 259v1M404.5 275v2M404.5 415v4M405.5 273v8M405.5 379v1M406.5 309v1M407.5 307v1M407.5 402v2M408.5 272v7M409.5 273v3M409.5 414v1M410.5 268v7M410.5 406v3M411.5 280v3M411.5 415v2M412.5 276v2M412.5 418v2M413.5 280v2M413.5 413v1M414.5 283v2M414.5 394v2M415.5 299v3M415.5 383v1M416.5 304v12M416.5 321v6M416.5 357v2M416.5 366v3M418.5 308v8M418.5 327v2M418.5 345v2M419.5 299v8M419.5 311v6M419.5 319v7M419.5 344v3M420.5 285v3M420.5 363v2M420.5 371v4M421.5 273v2M421.5 378v1M422.5 285v1M422.5 372v2M423.5 279v1M423.5 375v4M424.5 291v9M424.5 304v4M424.5 311v2M424.5 335v2M465.5 369v1M466.5 374v2"/>
<path stroke="#00ffe3" d="M104.5 253v45M104.5 301v6M105.5 247v11M105.5 268v8M105.5 307v1M105.5 325v2M106.5 237v4M107.5 312v1M107.5 320v1M185.5 294v5M185.5 327v5M186.5 304v4M186.5 311v4M186.5 322v4M189.5 305v7M191.5 314v2M192.5 305v2M192.5 322v1M193.5 299v1M193.5 326v5M194.5 300v5M194.5 326v1M195.5 300v1M195.5 303v3M195.5 311v3M195.5 323v2M196.5 294v1M196.5 333v3M197.5 294v1M197.5 333v1M198.5 291v1M198.5 336v1M199.5 295v1M199.5 333v1M200.5 290v1M200.5 337v1M201.5 273v4M201.5 280v2M201.5 289v1M201.5 341v3M202.5 292v1M204.5 292v1M204.5 330v2M205.5 286v2M205.5 341v6M206.5 249v13M206.5 361v2M207.5 263v3M207.5 373v2M208.5 275v3M208.5 355v3M209.5 276v1M209.5 360v1M210.5 274v1M210.5 360v1M211.5 279v1M211.5 346v8M211.5 359v2M212.5 283v2M212.5 351v6M212.5 359v3M213.5 277v1M213.5 366v5M214.5 279v1M214.5 365v3M215.5 284v1M215.5 367v1M216.5 375v2M217.5 276v1M217.5 374v2M218.5 277v2M218.5 386v2M219.5 273v1M219.5 378v5M220.5 267v4M220.5 384v1M221.5 376v2M222.5 276v1M222.5 365v1M223.5 280v1M223.5 379v2M224.5 274v2M224.5 397v3M225.5 270v3M225.5 402v3M226.5 264v6M226.5 407v4M227.5 249v3M227.5 256v4M227.5 398v3M228.5 251v3M228.5 404v5M229.5 267v3M229.5 411v1M230.5 257v7M230.5 417v1M231.5 273v2M231.5 409v2M232.5 280v1M232.5 389v6M232.5 396v3M233.5 284v1M233.5 378v1M234.5 406v1M235.5 270v1M235.5 411v2M236.5 406v1M237.5 272v1M237.5 391v1M238.5 272v1M238.5 386v3M239.5 282v1M239.5 368v7M239.5 378v8M240.5 278v1M240.5 394v3M241.5 282v1M241.5 396v6M242.5 271v3M242.5 404v6M243.5 388v3M244.5 386v2M245.5 240v7M245.5 393v3M246.5 256v5M246.5 269v6M246.5 378v3M247.5 280v1M247.5 352v10M248.5 280v9M248.5 349v5M249.5 279v12M249.5 319v2M249.5 346v6M250.5 284v8M250.5 306v2M250.5 312v12M250.5 336v4M250.5 345v2M251.5 263v3M251.5 283v16M251.5 319v4M251.5 338v16M252.5 266v3M254.5 264v1M254.5 269v1M255.5 254v1M255.5 326v4M255.5 376v2M256.5 234v5M256.5 241v4M256.5 249v2M256.5 378v2M257.5 210v3M257.5 409v8M258.5 204v9M258.5 420v4M259.5 222v2M259.5 409v8M260.5 237v1M260.5 396v2M261.5 264v1M261.5 278v3M261.5 364v4M261.5 375v3M262.5 236v3M262.5 399v2M262.5 409v3M263.5 213v7M263.5 418v4M264.5 202v3M264.5 407v4M265.5 232v1M265.5 403v2M266.5 198v1M266.5 204v2M266.5 210v4M266.5 411v1M267.5 198v2M267.5 419v4M268.5 210v2M268.5 215v4M268.5 222v2M268.5 411v4M269.5 203v4M269.5 426v2M270.5 210v2M270.5 424v1M271.5 207v2M271.5 420v1M272.5 242v1M272.5 407v2M273.5 232v6M273.5 395v3M274.5 221v3M274.5 404v3M275.5 176v3M275.5 182v4M275.5 193v2M275.5 226v2M275.5 408v2M276.5 232v1M276.5 414v1M277.5 244v1M277.5 393v3M277.5 411v1M278.5 238v2M278.5 383v1M279.5 405v2M280.5 404v3M281.5 234v1M281.5 402v8M282.5 208v3M282.5 405v4M283.5 213v3M283.5 410v4M283.5 415v2M284.5 230v3M284.5 407v1M285.5 221v8M285.5 393v3M285.5 398v5M286.5 227v4M286.5 237v1M286.5 400v3M287.5 172v1M287.5 242v1M287.5 400v2M288.5 175v1M288.5 183v8M288.5 222v1M288.5 242v1M288.5 394v2M288.5 405v2M289.5 191v1M289.5 218v1M289.5 227v5M289.5 408v7M290.5 224v4M290.5 393v2M291.5 183v8M291.5 203v5M291.5 404v2M292.5 185v5M292.5 419v3M293.5 209v2M293.5 395v2M294.5 249v3M294.5 390v1M295.5 201v12M295.5 411v3M296.5 214v11M296.5 407v3M297.5 200v6M297.5 239v1M297.5 386v4M297.5 402v6M298.5 189v5M298.5 230v8M298.5 387v4M298.5 410v2M299.5 198v1M299.5 412v1M300.5 182v4M300.5 193v3M300.5 414v1M301.5 203v1M301.5 406v1M302.5 180v3M302.5 405v3M303.5 180v1M303.5 409v2M304.5 180v1M304.5 420v1M305.5 192v4M305.5 208v3M305.5 398v1M306.5 224v1M306.5 408v1M307.5 192v5M307.5 423v2M308.5 199v4M308.5 419v1M309.5 220v2M309.5 405v1M310.5 396v2M311.5 208v10M311.5 235v2M311.5 398v9M312.5 246v1M312.5 390v1M313.5 249v1M313.5 396v1M314.5 238v2M314.5 408v1M315.5 219v2M315.5 410v2M316.5 241v2M316.5 403v4M317.5 210v3M317.5 401v3M318.5 222v1M318.5 410v2M319.5 243v1M319.5 394v1M320.5 239v2M320.5 395v3M321.5 225v2M321.5 238v2M321.5 260v2M321.5 385v6M322.5 221v1M322.5 390v5M323.5 219v1M323.5 388v2M324.5 219v1M324.5 376v1M325.5 390v3M326.5 223v2M326.5 401v1M327.5 226v1M327.5 397v1M328.5 263v1M328.5 386v1M329.5 257v1M329.5 396v1M330.5 254v3M330.5 397v1M331.5 255v3M331.5 400v2M332.5 264v4M332.5 386v1M333.5 258v3M333.5 384v2M334.5 269v2M334.5 386v1M335.5 258v1M335.5 392v1M336.5 276v3M337.5 265v1M337.5 390v2M338.5 261v1M338.5 393v2M339.5 253v1M340.5 258v1M340.5 417v1M341.5 272v1M342.5 266v2M342.5 398v3M342.5 410v2M342.5 419v2M343.5 269v2M343.5 387v2M344.5 261v1M344.5 387v1M345.5 260v2M345.5 390v2M346.5 269v1M346.5 374v2M347.5 197v4M347.5 213v3M347.5 234v3M347.5 251v4M347.5 266v1M347.5 380v2M348.5 200v13M348.5 230v3M348.5 250v3M348.5 254v1M348.5 389v2M349.5 255v1M349.5 382v1M350.5 250v2M350.5 389v2M351.5 258v1M351.5 374v2M352.5 270v1M352.5 373v1M353.5 169v1M353.5 262v1M353.5 272v1M353.5 375v1M354.5 242v1M354.5 271v1M354.5 370v1M355.5 373v1M356.5 242v1M356.5 378v1M357.5 260v1M357.5 377v1M358.5 267v1M358.5 368v2M359.5 276v4M359.5 282v2M359.5 339v1M360.5 364v1M361.5 252v4M361.5 375v1M362.5 267v2M362.5 376v1M363.5 269v1M363.5 372v1M364.5 258v5M364.5 374v1M365.5 246v2M365.5 374v1M366.5 264v3M366.5 374v3M367.5 263v1M367.5 373v2M368.5 258v4M368.5 373v2M369.5 289v3M369.5 361v3M370.5 262v8M370.5 274v1M370.5 282v5M370.5 368v5M371.5 263v13M371.5 286v7M371.5 366v2M372.5 296v1M373.5 296v1M373.5 369v2M374.5 267v7M374.5 293v2M374.5 371v4M375.5 304v3M375.5 308v6M375.5 317v5M375.5 328v1M375.5 333v2M375.5 349v1M376.5 304v9M376.5 351v2M377.5 313v3M377.5 327v1M378.5 269v5M379.5 318v3M380.5 303v4M380.5 355v4M381.5 304v3M381.5 358v12M382.5 305v1M382.5 376v2M383.5 297v2M383.5 377v5M384.5 254v15M384.5 293v3M384.5 377v1M385.5 260v1M385.5 282v2M385.5 289v2M385.5 382v1M386.5 269v3M386.5 294v1M387.5 265v8M387.5 298v1M387.5 385v1M388.5 297v1M388.5 388v1M389.5 296v1M389.5 383v1M390.5 271v3M390.5 290v2M391.5 207v12M391.5 296v1M391.5 393v1M392.5 299v1M392.5 382v1M393.5 302v1M393.5 371v1M394.5 303v1M394.5 381v1M395.5 296v3M395.5 389v3M396.5 298v2M396.5 380v2M397.5 266v1M397.5 271v3M397.5 292v3M397.5 393v1M398.5 259v3M398.5 407v2M399.5 256v4M399.5 410v2M400.5 270v2M400.5 412v2M401.5 260v3M401.5 412v3M402.5 257v2M402.5 433v1M403.5 260v2M403.5 432v1M404.5 277v8M404.5 297v3M404.5 412v3M405.5 312v1M405.5 319v3M405.5 377v2M406.5 310v2M406.5 385v1M407.5 308v1M407.5 398v4M408.5 279v3M408.5 408v2M409.5 276v3M409.5 413v1M410.5 275v6M410.5 404v2M411.5 283v3M411.5 407v8M412.5 278v2M412.5 417v1M413.5 282v3M413.5 410v3M414.5 285v2M414.5 392v2M415.5 302v2M415.5 307v3M415.5 382v1M416.5 327v2M416.5 355v2M416.5 359v7M418.5 329v3M418.5 334v6M418.5 341v4M419.5 307v4M419.5 326v1M419.5 342v2M420.5 288v3M420.5 350v4M420.5 359v4M420.5 365v6M421.5 275v4M421.5 375v3M422.5 286v5M422.5 368v4M423.5 280v2M423.5 370v5M424.5 300v4M424.5 313v3M424.5 319v3M424.5 328v7M465.5 361v1M466.5 361v1M466.5 369v1"/>
<path stroke="#0fc" d="M104.5 231v22M104.5 307v1M104.5 325v3M105.5 233v14M106.5 309v1M106.5 323v1M107.5 313v1M107.5 319v1M185.5 299v14M185.5 322v5M186.5 308v3M186.5 315v7M192.5 307v3M192.5 321v1M193.5 300v3M193.5 325v1M194.5 305v4M194.5 325v1M195.5 314v2M195.5 322v1M196.5 295v2M196.5 332v1M197.5 295v1M198.5 292v1M198.5 335v1M200.5 291v1M201.5 277v3M201.5 290v1M201.5 339v2M202.5 293v1M202.5 335v1M203.5 291v1M203.5 332v1M204.5 293v1M204.5 329v1M205.5 288v2M205.5 337v4M206.5 262v6M206.5 360v1M207.5 266v3M207.5 369v4M208.5 278v6M208.5 352v3M209.5 277v1M210.5 275v1M211.5 280v2M211.5 345v1M211.5 354v5M212.5 285v1M212.5 348v3M212.5 357v2M213.5 278v1M213.5 364v2M214.5 280v1M214.5 357v8M215.5 366v1M216.5 277v1M216.5 371v4M217.5 277v1M217.5 373v1M218.5 279v2M218.5 383v3M219.5 274v1M219.5 375v3M220.5 271v4M220.5 381v3M221.5 280v1M221.5 374v2M222.5 277v2M222.5 364v1M223.5 281v1M223.5 376v3M224.5 276v3M224.5 394v3M225.5 273v3M225.5 401v1M226.5 270v3M226.5 405v2M227.5 252v4M227.5 260v4M227.5 394v4M228.5 254v8M228.5 398v6M229.5 270v6M229.5 407v4M230.5 264v2M230.5 414v3M231.5 275v3M231.5 405v4M232.5 281v1M232.5 386v3M232.5 395v1M233.5 377v1M234.5 279v1M234.5 397v1M234.5 405v1M235.5 271v3M235.5 408v3M236.5 274v1M236.5 405v1M237.5 390v1M238.5 273v1M238.5 367v7M238.5 384v2M239.5 283v1M239.5 366v2M240.5 279v1M240.5 369v2M240.5 384v10M241.5 283v1M241.5 394v2M242.5 274v2M242.5 399v5M243.5 275v1M243.5 387v1M244.5 274v1M244.5 383v3M245.5 247v24M245.5 388v5M246.5 275v1M246.5 371v3M246.5 376v2M247.5 281v1M247.5 347v5M248.5 289v3M248.5 313v10M248.5 346v3M249.5 291v3M249.5 310v9M249.5 321v7M249.5 335v11M250.5 292v14M250.5 308v4M250.5 324v12M250.5 340v5M251.5 266v17M251.5 299v13M251.5 315v4M251.5 323v15M254.5 265v4M255.5 255v6M255.5 324v2M255.5 330v5M255.5 339v4M255.5 375v1M256.5 239v2M256.5 251v2M256.5 283v4M256.5 377v1M257.5 213v4M257.5 392v17M258.5 213v8M258.5 417v3M259.5 224v1M259.5 407v2M260.5 238v1M260.5 393v3M261.5 265v1M261.5 276v2M261.5 281v1M261.5 363v1M262.5 239v15M262.5 393v6M263.5 220v7M263.5 414v4M264.5 205v3M264.5 404v3M265.5 233v1M265.5 402v1M266.5 199v2M266.5 202v2M266.5 214v1M266.5 410v1M267.5 200v3M267.5 415v4M268.5 212v3M268.5 224v2M268.5 410v1M269.5 207v4M269.5 424v2M270.5 212v1M270.5 423v1M271.5 209v2M271.5 418v2M272.5 243v1M272.5 402v5M273.5 238v2M273.5 392v3M274.5 224v2M274.5 402v2M275.5 173v3M275.5 186v7M275.5 228v2M275.5 405v3M276.5 233v1M276.5 413v1M277.5 245v2M277.5 392v1M277.5 396v3M277.5 408v3M278.5 240v1M278.5 382v1M279.5 238v1M279.5 402v3M280.5 238v1M280.5 402v2M281.5 235v2M281.5 400v2M282.5 211v1M282.5 403v2M283.5 216v2M283.5 409v1M283.5 414v1M284.5 233v8M284.5 398v9M285.5 229v4M285.5 390v3M285.5 396v2M286.5 175v3M286.5 223v4M286.5 238v2M286.5 393v7M287.5 232v1M287.5 396v4M288.5 176v7M288.5 191v1M288.5 221v1M288.5 393v1M289.5 192v1M289.5 217v1M289.5 232v3M289.5 396v12M290.5 228v7M290.5 238v5M290.5 390v3M291.5 180v3M291.5 191v3M291.5 199v4M291.5 208v3M291.5 403v1M292.5 190v3M292.5 417v2M293.5 211v2M293.5 394v1M294.5 252v3M294.5 385v5M295.5 213v11M295.5 226v5M295.5 405v6M296.5 225v5M296.5 405v2M297.5 240v1M297.5 385v1M297.5 390v5M297.5 397v5M298.5 238v2M298.5 386v1M298.5 391v4M298.5 403v7M299.5 199v1M299.5 411v1M300.5 186v7M300.5 196v2M300.5 413v1M301.5 204v1M301.5 405v1M302.5 183v3M302.5 403v2M303.5 408v1M304.5 419v1M305.5 196v3M305.5 205v3M305.5 219v1M305.5 397v1M306.5 225v1M307.5 197v4M307.5 421v2M308.5 203v4M308.5 418v1M309.5 222v1M309.5 404v1M310.5 395v1M311.5 237v3M311.5 396v2M312.5 247v1M312.5 389v1M313.5 395v1M314.5 240v1M314.5 407v1M315.5 221v2M315.5 408v2M316.5 243v3M316.5 400v3M317.5 213v4M317.5 397v4M318.5 223v2M318.5 406v4M319.5 393v1M320.5 241v2M320.5 392v3M321.5 227v1M321.5 236v2M321.5 262v3M321.5 384v1M322.5 388v2M323.5 220v1M323.5 385v3M324.5 220v1M324.5 264v6M324.5 271v5M324.5 375v1M325.5 223v1M325.5 384v6M326.5 225v1M326.5 400v1M327.5 227v1M327.5 395v2M328.5 264v1M328.5 385v1M329.5 258v1M329.5 395v1M330.5 257v1M330.5 395v2M331.5 258v2M331.5 398v2M332.5 268v2M332.5 384v2M333.5 261v4M333.5 380v4M334.5 271v1M334.5 385v1M335.5 259v3M335.5 391v1M336.5 279v1M336.5 389v2M337.5 266v1M337.5 389v1M338.5 262v2M338.5 392v1M339.5 254v1M339.5 389v1M340.5 259v2M340.5 408v9M342.5 268v1M342.5 396v2M342.5 412v2M342.5 418v1M343.5 271v1M343.5 385v2M344.5 262v2M344.5 385v2M345.5 262v1M345.5 374v9M345.5 389v1M346.5 270v1M346.5 370v4M347.5 201v2M347.5 211v2M347.5 237v14M347.5 267v1M347.5 377v3M348.5 233v2M348.5 248v2M348.5 255v2M348.5 388v1M349.5 256v1M349.5 380v2M350.5 252v2M350.5 386v3M351.5 259v2M351.5 373v1M352.5 271v1M352.5 372v1M353.5 261v1M353.5 273v1M354.5 369v1M355.5 242v1M355.5 372v1M356.5 377v1M358.5 268v1M358.5 367v1M359.5 284v3M359.5 338v1M360.5 273v1M360.5 363v1M361.5 256v4M362.5 269v1M362.5 375v1M363.5 270v1M364.5 263v2M365.5 248v2M365.5 373v1M366.5 267v3M366.5 372v2M367.5 264v1M367.5 372v1M368.5 262v4M368.5 372v1M369.5 292v2M369.5 357v4M370.5 270v4M370.5 275v7M370.5 287v3M370.5 365v3M371.5 293v3M371.5 364v2M372.5 297v2M372.5 371v1M373.5 297v1M373.5 368v1M374.5 295v2M374.5 368v3M375.5 307v1M375.5 314v3M375.5 322v2M375.5 326v2M375.5 335v1M375.5 347v2M376.5 313v4M376.5 328v8M376.5 341v10M377.5 316v8M377.5 325v2M380.5 307v3M380.5 351v4M381.5 307v2M381.5 354v4M382.5 306v1M382.5 374v2M383.5 299v2M383.5 374v3M384.5 296v2M384.5 375v2M385.5 261v1M385.5 280v2M385.5 291v3M385.5 381v1M386.5 260v9M386.5 380v1M387.5 299v1M388.5 298v2M388.5 387v1M389.5 297v1M390.5 252v1M390.5 266v5M390.5 292v1M390.5 383v1M391.5 250v1M391.5 297v2M391.5 392v1M392.5 300v1M392.5 381v1M393.5 303v3M393.5 370v1M394.5 304v1M394.5 380v1M395.5 299v4M395.5 385v4M396.5 300v5M396.5 378v2M397.5 267v4M397.5 295v5M397.5 392v1M398.5 262v3M398.5 405v2M399.5 260v3M399.5 407v3M400.5 272v2M400.5 406v6M401.5 263v2M401.5 410v2M402.5 259v3M402.5 430v3M403.5 262v3M403.5 425v7M404.5 285v12M404.5 300v5M404.5 409v3M405.5 313v2M405.5 317v2M405.5 322v2M405.5 375v2M406.5 312v1M406.5 384v1M407.5 309v1M407.5 396v2M408.5 282v2M408.5 405v3M409.5 279v3M409.5 410v3M410.5 281v4M410.5 402v2M411.5 286v2M411.5 405v2M412.5 280v1M412.5 415v2M413.5 285v1M413.5 405v5M414.5 287v2M414.5 390v2M415.5 304v3M415.5 310v1M416.5 329v1M416.5 341v3M416.5 353v2M418.5 332v2M418.5 340v1M419.5 327v1M419.5 341v1M420.5 291v6M420.5 302v2M420.5 319v1M420.5 344v6M420.5 354v5M421.5 279v7M421.5 372v3M422.5 291v2M422.5 365v3M423.5 282v2M423.5 367v3M424.5 316v3M424.5 322v6"/>
<path stroke="#00ffb6" d="M102.5 222v1M102.5 328v1M105.5 308v1M105.5 324v1M106.5 310v1M106.5 322v1M107.5 314v5M185.5 313v9M192.5 310v3M192.5 320v1M193.5 303v3M193.5 324v1M194.5 309v3M194.5 324v1M195.5 316v2M195.5 321v1M196.5 297v2M196.5 325v2M196.5 330v2M197.5 296v1M197.5 332v1M198.5 293v1M198.5 334v1M199.5 296v1M199.5 332v1M200.5 292v1M200.5 336v1M201.5 291v1M201.5 338v1M202.5 334v1M203.5 331v1M204.5 294v1M204.5 328v1M205.5 290v5M205.5 328v4M205.5 334v3M206.5 268v5M206.5 357v3M207.5 269v4M207.5 356v2M207.5 360v9M208.5 284v1M208.5 350v2M209.5 278v1M209.5 359v1M210.5 276v1M210.5 359v1M211.5 282v3M211.5 344v1M212.5 286v2M212.5 346v2M213.5 279v2M213.5 351v13M214.5 281v5M214.5 350v7M215.5 285v1M215.5 347v5M215.5 365v1M216.5 278v1M216.5 368v3M217.5 278v1M217.5 371v2M218.5 281v1M218.5 379v4M219.5 275v1M219.5 374v1M220.5 275v1M220.5 378v3M221.5 281v1M221.5 372v2M222.5 279v2M222.5 362v2M223.5 282v1M223.5 360v16M224.5 279v1M224.5 392v2M225.5 276v1M225.5 399v2M226.5 273v3M226.5 403v2M227.5 264v6M227.5 392v2M228.5 262v6M228.5 395v3M229.5 276v4M229.5 405v2M230.5 266v3M230.5 412v2M231.5 278v1M231.5 395v10M232.5 282v1M232.5 375v11M233.5 285v1M233.5 376v1M234.5 395v2M234.5 398v7M235.5 274v1M235.5 407v1M236.5 403v2M237.5 273v1M238.5 274v1M238.5 366v1M238.5 374v10M239.5 284v1M239.5 361v5M240.5 367v2M240.5 371v13M241.5 284v1M241.5 384v10M242.5 276v1M242.5 389v3M242.5 393v6M243.5 276v1M243.5 384v3M244.5 381v2M245.5 271v2M245.5 379v9M246.5 276v2M246.5 367v4M246.5 374v2M247.5 282v2M247.5 289v2M247.5 341v6M248.5 292v3M248.5 310v3M248.5 323v23M249.5 294v3M249.5 306v4M249.5 328v7M251.5 312v3M255.5 261v1M255.5 307v5M255.5 320v4M255.5 335v4M255.5 343v2M255.5 350v2M255.5 373v2M256.5 253v2M256.5 276v7M256.5 287v2M256.5 318v12M256.5 375v2M257.5 217v3M257.5 389v3M258.5 221v4M258.5 409v8M259.5 225v1M259.5 405v2M260.5 239v2M260.5 391v2M261.5 266v1M261.5 270v6M261.5 282v1M261.5 362v1M262.5 254v3M262.5 382v11M263.5 227v2M263.5 405v9M264.5 208v1M264.5 402v2M265.5 400v2M266.5 201v1M266.5 215v1M266.5 407v3M267.5 203v6M267.5 412v3M268.5 226v1M268.5 408v2M269.5 211v8M269.5 421v3M270.5 213v2M270.5 421v2M271.5 211v2M271.5 416v2M272.5 244v1M272.5 400v2M273.5 240v2M273.5 386v6M274.5 226v6M274.5 399v3M275.5 230v1M275.5 401v4M276.5 234v1M276.5 412v1M277.5 247v1M277.5 391v1M277.5 399v5M277.5 406v2M278.5 241v1M278.5 381v1M279.5 399v3M280.5 400v2M281.5 237v2M281.5 398v2M282.5 212v3M282.5 401v2M283.5 218v1M283.5 408v1M284.5 241v6M284.5 393v5M285.5 233v5M285.5 385v5M286.5 178v17M286.5 219v4M286.5 240v2M286.5 390v3M287.5 243v1M287.5 391v5M288.5 192v1M288.5 220v1M288.5 243v1M288.5 392v1M289.5 193v2M289.5 216v1M289.5 235v10M289.5 393v3M290.5 235v3M290.5 243v3M290.5 387v3M291.5 194v5M291.5 211v2M291.5 402v1M292.5 193v2M292.5 414v3M293.5 213v3M293.5 393v1M294.5 255v2M294.5 384v1M295.5 224v2M295.5 231v1M295.5 400v5M296.5 230v3M296.5 402v3M297.5 241v1M297.5 383v2M297.5 395v2M298.5 240v1M298.5 384v2M298.5 395v2M298.5 401v2M299.5 200v2M299.5 409v2M300.5 198v1M300.5 411v2M301.5 205v1M301.5 403v2M302.5 186v4M302.5 399v4M303.5 181v1M303.5 405v3M304.5 181v1M304.5 417v2M305.5 199v6M305.5 220v1M306.5 226v1M306.5 407v1M307.5 201v4M307.5 419v2M308.5 207v4M308.5 416v2M309.5 223v1M309.5 403v1M310.5 205v1M311.5 240v2M311.5 395v1M312.5 248v1M313.5 250v1M313.5 394v1M314.5 241v1M314.5 406v1M315.5 223v2M315.5 407v1M316.5 246v3M316.5 397v3M317.5 217v4M317.5 392v5M318.5 400v6M319.5 244v1M319.5 391v2M320.5 243v8M320.5 385v7M321.5 228v2M321.5 234v2M321.5 265v2M321.5 269v2M321.5 383v1M322.5 222v1M322.5 259v2M322.5 385v3M323.5 221v1M323.5 381v4M324.5 263v1M324.5 270v1M324.5 276v1M324.5 374v1M325.5 224v1M325.5 381v3M326.5 226v1M327.5 228v2M327.5 394v1M329.5 259v1M330.5 258v2M330.5 394v1M331.5 260v2M331.5 396v2M332.5 270v2M332.5 381v3M333.5 265v5M333.5 379v1M334.5 272v1M334.5 384v1M335.5 262v1M335.5 390v1M336.5 280v1M336.5 384v5M337.5 267v1M337.5 388v1M338.5 264v2M338.5 391v1M339.5 255v1M339.5 388v1M340.5 261v3M340.5 399v9M341.5 273v1M341.5 422v1M342.5 269v3M342.5 392v4M342.5 414v2M342.5 417v1M343.5 272v3M343.5 384v1M344.5 264v5M344.5 376v9M345.5 263v2M345.5 268v2M345.5 370v4M345.5 383v6M346.5 271v1M346.5 367v3M347.5 203v8M347.5 375v2M348.5 235v3M348.5 244v4M348.5 257v2M348.5 386v2M349.5 257v2M349.5 379v1M350.5 254v2M350.5 384v2M351.5 261v1M351.5 371v2M352.5 371v1M353.5 251v2M353.5 274v1M353.5 374v1M354.5 270v1M354.5 272v1M354.5 368v1M355.5 371v1M356.5 376v1M357.5 261v1M357.5 376v1M358.5 269v1M358.5 366v1M359.5 287v1M359.5 299v6M359.5 306v8M359.5 337v1M360.5 274v1M360.5 361v2M361.5 260v2M361.5 374v1M362.5 270v1M362.5 374v1M363.5 371v1M364.5 265v1M364.5 373v1M365.5 250v4M365.5 372v1M366.5 270v2M366.5 370v2M367.5 265v7M367.5 366v6M368.5 266v3M368.5 281v4M368.5 366v6M369.5 294v3M369.5 350v7M370.5 290v3M370.5 363v2M371.5 296v7M371.5 362v2M372.5 299v4M372.5 311v6M372.5 369v2M373.5 298v1M373.5 367v1M374.5 297v1M374.5 363v5M375.5 324v2M375.5 336v2M375.5 344v3M376.5 317v11M376.5 336v5M377.5 324v1M380.5 310v4M380.5 329v8M380.5 346v5M381.5 309v1M381.5 350v4M382.5 307v2M382.5 354v20M383.5 301v4M383.5 344v7M383.5 361v13M384.5 298v2M384.5 373v2M385.5 262v1M385.5 276v4M385.5 294v2M385.5 380v1M386.5 295v1M387.5 300v1M387.5 384v1M388.5 300v5M388.5 386v1M389.5 298v1M389.5 382v1M390.5 253v13M390.5 293v2M390.5 382v1M391.5 259v1M391.5 299v1M392.5 301v2M392.5 379v2M393.5 306v2M393.5 369v1M394.5 305v2M394.5 377v3M395.5 303v3M395.5 381v4M396.5 305v3M396.5 321v1M396.5 376v2M397.5 300v2M397.5 391v1M398.5 265v3M398.5 275v7M398.5 404v1M399.5 263v4M399.5 401v6M400.5 274v1M400.5 404v2M401.5 265v4M401.5 407v3M402.5 262v3M402.5 426v4M403.5 265v8M403.5 279v9M403.5 417v8M404.5 305v5M404.5 402v7M405.5 315v2M405.5 324v1M405.5 373v2M406.5 313v2M407.5 310v1M407.5 394v2M408.5 284v8M408.5 402v3M409.5 282v6M409.5 407v3M410.5 285v5M410.5 397v5M411.5 288v1M411.5 404v1M412.5 281v2M412.5 414v1M413.5 286v2M413.5 403v2M414.5 289v3M414.5 388v2M415.5 311v8M415.5 381v1M416.5 330v3M416.5 339v2M416.5 344v3M416.5 350v3M419.5 328v1M419.5 338v3M420.5 297v5M420.5 304v5M420.5 313v6M420.5 320v8M420.5 341v3M421.5 286v2M421.5 363v9M422.5 293v10M422.5 362v3M423.5 284v13M423.5 353v2M423.5 364v3"/>
<path stroke="#00ff9f" d="M101.5 222v1M104.5 308v1M104.5 324v1M192.5 313v1M192.5 318v2M193.5 306v3M194.5 312v1M195.5 318v3M196.5 299v3M196.5 322v3M196.5 327v3M197.5 297v1M197.5 331v1M198.5 294v1M198.5 333v1M199.5 297v1M201.5 292v1M201.5 337v1M202.5 294v1M203.5 292v1M203.5 330v1M204.5 295v1M204.5 327v1M205.5 295v3M205.5 323v5M205.5 332v2M206.5 273v9M206.5 352v5M207.5 273v9M207.5 351v5M207.5 358v2M208.5 285v2M208.5 348v2M209.5 279v1M209.5 358v1M211.5 285v2M211.5 343v1M212.5 288v1M212.5 345v1M213.5 281v3M213.5 348v3M214.5 286v2M214.5 349v1M215.5 345v2M215.5 352v2M215.5 361v4M216.5 279v1M216.5 367v1M217.5 279v1M217.5 365v6M218.5 282v2M218.5 351v2M218.5 375v4M219.5 276v2M219.5 354v2M219.5 372v2M220.5 276v1M220.5 375v3M221.5 371v1M222.5 281v1M222.5 359v3M223.5 283v1M223.5 357v3M224.5 280v2M224.5 387v5M225.5 277v2M225.5 395v4M226.5 276v3M226.5 400v3M227.5 270v2M227.5 385v7M228.5 268v3M228.5 392v3M229.5 280v1M229.5 393v3M229.5 403v2M230.5 269v5M230.5 408v4M231.5 279v1M231.5 390v5M232.5 283v1M232.5 370v5M233.5 375v1M234.5 280v1M234.5 391v4M235.5 275v1M235.5 406v1M236.5 275v1M236.5 400v3M237.5 389v1M238.5 275v1M238.5 365v1M239.5 285v4M239.5 359v2M240.5 280v1M240.5 365v2M241.5 351v3M241.5 378v6M242.5 277v1M242.5 352v4M242.5 385v4M242.5 392v1M243.5 382v2M244.5 275v1M244.5 380v1M245.5 273v2M245.5 373v6M246.5 278v2M246.5 345v22M247.5 284v5M247.5 291v2M247.5 320v11M247.5 333v8M248.5 295v2M248.5 304v2M248.5 308v2M249.5 297v2M249.5 302v4M255.5 262v2M255.5 284v7M255.5 294v5M255.5 304v3M255.5 312v8M255.5 345v5M255.5 352v2M255.5 368v5M256.5 255v3M256.5 275v1M256.5 289v2M256.5 314v4M256.5 330v2M256.5 334v8M256.5 346v5M256.5 355v2M256.5 373v2M257.5 220v7M257.5 385v4M258.5 225v7M258.5 398v11M259.5 226v3M259.5 404v1M260.5 241v1M260.5 389v2M261.5 267v3M261.5 283v1M261.5 287v1M262.5 257v15M262.5 277v4M262.5 370v12M263.5 229v6M263.5 401v4M264.5 209v3M264.5 400v2M265.5 234v1M265.5 399v1M266.5 216v1M266.5 406v1M267.5 209v2M267.5 409v3M268.5 227v1M268.5 407v1M269.5 219v4M269.5 416v5M270.5 215v1M270.5 420v1M271.5 213v2M271.5 414v2M272.5 245v1M272.5 393v7M273.5 242v4M273.5 383v3M274.5 232v7M274.5 382v6M274.5 395v4M275.5 231v2M275.5 398v3M276.5 235v1M276.5 411v1M277.5 248v2M277.5 390v1M277.5 404v2M278.5 380v1M279.5 387v7M279.5 398v1M281.5 239v1M281.5 397v1M282.5 215v2M282.5 392v9M283.5 219v2M283.5 407v1M284.5 247v2M284.5 391v2M285.5 238v3M285.5 247v4M285.5 377v8M286.5 195v1M286.5 218v1M286.5 242v1M286.5 388v2M287.5 173v1M287.5 389v2M288.5 244v1M288.5 391v1M289.5 195v1M289.5 215v1M289.5 245v3M289.5 389v4M290.5 246v2M290.5 254v3M290.5 381v6M291.5 213v2M291.5 401v1M292.5 195v2M292.5 406v8M293.5 216v3M293.5 392v1M294.5 257v2M294.5 383v1M295.5 232v7M295.5 392v8M296.5 233v2M296.5 399v3M297.5 242v3M297.5 379v4M298.5 241v1M298.5 377v7M298.5 397v4M299.5 202v1M299.5 403v6M300.5 407v4M301.5 206v3M301.5 402v1M302.5 190v9M302.5 397v2M303.5 402v3M304.5 416v1M305.5 221v1M305.5 396v1M306.5 227v2M306.5 406v1M307.5 205v4M307.5 418v1M308.5 211v10M308.5 413v3M309.5 224v1M309.5 402v1M310.5 394v1M311.5 242v3M311.5 393v2M312.5 380v5M312.5 388v1M313.5 251v1M313.5 392v2M314.5 242v1M314.5 403v3M315.5 225v1M315.5 406v1M316.5 249v1M316.5 393v4M317.5 221v2M317.5 390v2M318.5 225v1M318.5 394v6M319.5 389v2M320.5 251v4M320.5 378v7M321.5 230v4M321.5 267v2M321.5 271v1M321.5 381v2M322.5 223v1M322.5 244v8M322.5 257v2M322.5 261v10M322.5 378v7M323.5 376v5M324.5 277v1M324.5 373v1M325.5 380v1M326.5 227v1M326.5 399v1M327.5 230v7M327.5 393v1M328.5 265v1M328.5 384v1M329.5 260v1M329.5 394v1M330.5 260v1M330.5 392v2M331.5 262v2M331.5 393v3M332.5 272v1M332.5 375v6M333.5 270v2M333.5 372v7M334.5 273v1M334.5 382v2M335.5 263v1M335.5 389v1M336.5 281v1M337.5 268v2M337.5 387v1M338.5 266v2M338.5 390v1M339.5 256v1M339.5 387v1M340.5 264v2M340.5 394v5M341.5 274v1M342.5 272v3M342.5 385v7M342.5 416v1M343.5 275v3M343.5 378v6M344.5 269v5M344.5 370v6M345.5 265v3M345.5 270v2M345.5 369v1M346.5 272v2M346.5 366v1M347.5 268v1M347.5 373v2M348.5 238v6M348.5 259v3M348.5 383v3M349.5 259v3M349.5 377v2M350.5 256v1M350.5 378v6M351.5 262v1M351.5 369v2M352.5 272v1M352.5 370v1M353.5 218v18M353.5 246v5M353.5 253v8M353.5 275v1M353.5 373v1M354.5 243v1M354.5 273v1M354.5 360v8M355.5 370v1M356.5 243v1M356.5 375v1M357.5 375v1M358.5 270v1M358.5 342v2M359.5 288v1M359.5 297v2M359.5 305v1M359.5 314v1M359.5 336v1M360.5 340v6M360.5 353v1M360.5 360v1M361.5 262v1M362.5 271v1M363.5 271v1M364.5 372v1M365.5 254v6M365.5 371v1M366.5 272v1M366.5 368v2M367.5 272v3M367.5 282v11M367.5 360v6M368.5 269v12M368.5 285v7M368.5 360v6M369.5 297v12M369.5 323v4M369.5 331v4M369.5 344v6M370.5 293v3M370.5 351v12M371.5 303v2M371.5 353v9M372.5 303v1M372.5 309v2M372.5 317v1M372.5 368v1M374.5 298v2M374.5 308v6M374.5 358v5M375.5 338v6M380.5 314v4M380.5 321v8M380.5 337v3M380.5 344v2M381.5 310v10M381.5 326v13M381.5 346v4M382.5 309v5M382.5 340v2M382.5 347v7M383.5 305v7M383.5 338v6M383.5 351v10M384.5 300v4M384.5 364v9M385.5 263v13M385.5 296v3M385.5 378v2M386.5 296v1M386.5 379v1M387.5 301v2M388.5 305v2M388.5 383v3M389.5 299v2M390.5 295v2M390.5 381v1M391.5 300v1M391.5 391v1M392.5 303v1M392.5 376v3M393.5 308v2M393.5 360v4M393.5 367v2M394.5 307v2M394.5 375v2M395.5 306v18M395.5 367v5M395.5 374v7M396.5 308v13M396.5 322v2M396.5 355v5M396.5 367v9M397.5 302v1M397.5 390v1M398.5 268v7M398.5 282v7M398.5 402v2M399.5 267v5M399.5 394v7M400.5 275v2M400.5 300v1M400.5 402v2M401.5 269v4M401.5 403v4M402.5 265v6M402.5 420v6M403.5 273v6M403.5 288v14M403.5 409v8M404.5 310v3M404.5 389v13M405.5 325v3M405.5 370v3M406.5 315v6M406.5 383v1M407.5 311v1M407.5 392v2M408.5 292v12M408.5 400v2M409.5 288v5M409.5 402v5M410.5 290v8M410.5 393v4M411.5 289v1M411.5 403v1M412.5 283v1M412.5 412v2M413.5 288v6M413.5 401v2M414.5 292v5M414.5 315v3M414.5 386v2M415.5 319v1M416.5 333v6M416.5 347v3M419.5 336v2M420.5 309v4M420.5 328v5M420.5 335v6M421.5 288v18M421.5 337v17M421.5 360v3M422.5 303v7M422.5 329v3M422.5 345v3M422.5 360v2M423.5 297v22M423.5 329v24M423.5 355v9M465.5 367v2"/>
<path stroke="#0f8" d="M103.5 225v9M103.5 324v4M105.5 309v1M105.5 323v1M106.5 311v1M106.5 321v1M192.5 314v4M193.5 309v4M193.5 318v2M193.5 322v2M194.5 313v2M194.5 323v1M196.5 302v20M197.5 298v2M197.5 327v4M198.5 295v2M198.5 332v1M199.5 298v2M199.5 301v2M199.5 331v1M200.5 293v1M200.5 335v1M201.5 293v1M201.5 335v2M202.5 333v1M203.5 293v1M203.5 329v1M204.5 296v1M204.5 325v2M205.5 298v6M205.5 321v2M206.5 282v10M206.5 334v18M207.5 282v7M207.5 339v12M208.5 287v2M208.5 345v3M209.5 280v2M209.5 356v2M210.5 277v1M210.5 357v2M211.5 287v2M211.5 342v1M212.5 289v2M212.5 343v2M213.5 284v5M213.5 346v2M214.5 288v2M214.5 346v3M215.5 286v1M215.5 344v1M215.5 354v7M216.5 280v1M216.5 366v1M217.5 280v1M217.5 363v2M218.5 284v1M218.5 347v4M218.5 353v9M218.5 371v4M219.5 278v2M219.5 349v5M219.5 356v2M219.5 370v2M220.5 277v2M220.5 373v2M221.5 282v1M221.5 369v2M222.5 282v3M222.5 358v1M223.5 284v2M223.5 339v6M223.5 349v8M224.5 282v2M224.5 359v6M224.5 382v5M225.5 279v2M225.5 381v14M226.5 279v2M226.5 383v4M226.5 390v10M227.5 272v2M227.5 382v3M228.5 271v5M228.5 382v10M229.5 281v5M229.5 377v16M229.5 396v7M230.5 274v5M230.5 391v17M231.5 280v2M231.5 372v18M232.5 284v2M232.5 340v2M232.5 365v5M233.5 286v1M233.5 373v2M234.5 388v3M235.5 405v1M236.5 398v2M237.5 274v1M237.5 388v1M238.5 362v3M239.5 289v1M239.5 322v9M239.5 351v8M240.5 281v2M240.5 362v3M241.5 285v1M241.5 335v2M241.5 347v4M241.5 354v2M241.5 369v9M242.5 278v1M242.5 349v3M242.5 356v3M242.5 382v3M243.5 277v1M243.5 323v6M243.5 379v3M244.5 330v3M244.5 374v6M245.5 275v2M245.5 285v8M245.5 318v9M245.5 331v13M245.5 348v11M245.5 368v5M246.5 280v1M246.5 290v2M246.5 321v7M246.5 333v12M247.5 293v2M247.5 317v3M247.5 331v2M248.5 297v2M248.5 302v2M248.5 306v2M249.5 299v3M255.5 264v11M255.5 281v3M255.5 291v3M255.5 299v5M255.5 354v5M255.5 366v2M256.5 258v2M256.5 273v2M256.5 291v7M256.5 300v14M256.5 332v2M256.5 342v4M256.5 351v4M256.5 357v2M256.5 371v2M257.5 227v32M257.5 278v5M257.5 311v15M257.5 372v13M258.5 232v7M258.5 253v4M258.5 392v6M259.5 229v2M259.5 402v2M260.5 242v1M260.5 387v2M261.5 284v3M261.5 288v2M261.5 361v1M262.5 272v5M262.5 281v4M262.5 298v3M262.5 306v1M262.5 358v12M263.5 235v3M263.5 399v2M264.5 212v2M264.5 399v1M265.5 235v1M265.5 392v7M266.5 217v1M266.5 404v2M267.5 211v3M267.5 407v2M268.5 228v1M268.5 404v3M269.5 223v2M269.5 411v5M270.5 216v2M270.5 418v2M271.5 215v7M271.5 412v2M272.5 246v1M272.5 391v2M273.5 246v3M273.5 381v2M274.5 239v3M274.5 244v2M274.5 379v3M274.5 388v7M275.5 233v3M275.5 396v2M276.5 236v2M276.5 409v2M277.5 388v2M278.5 242v1M278.5 379v1M279.5 239v1M279.5 386v1M279.5 394v4M280.5 239v1M280.5 398v2M281.5 240v1M281.5 395v2M282.5 217v2M282.5 390v2M283.5 221v5M283.5 405v2M284.5 249v3M284.5 254v2M284.5 388v3M285.5 241v6M285.5 251v14M285.5 370v7M286.5 196v1M286.5 217v1M286.5 243v2M286.5 386v2M287.5 231v1M287.5 244v2M287.5 388v1M288.5 193v1M288.5 245v1M288.5 390v1M289.5 196v2M289.5 248v4M289.5 259v7M289.5 381v8M290.5 248v6M290.5 257v5M290.5 378v3M291.5 215v1M291.5 394v7M292.5 197v4M292.5 403v3M293.5 219v4M293.5 390v2M294.5 259v1M294.5 382v1M295.5 239v3M295.5 386v6M296.5 235v3M296.5 392v7M297.5 245v1M297.5 377v2M298.5 242v2M298.5 376v1M299.5 203v1M299.5 402v1M300.5 199v2M300.5 402v5M301.5 209v6M301.5 400v2M302.5 199v3M302.5 396v1M303.5 182v1M303.5 400v2M304.5 412v4M305.5 222v1M305.5 394v2M306.5 229v5M306.5 405v1M307.5 209v8M307.5 414v4M308.5 221v2M308.5 405v8M309.5 225v1M309.5 399v3M310.5 393v1M311.5 245v2M311.5 392v1M312.5 249v1M312.5 378v2M312.5 385v3M313.5 252v4M313.5 378v4M313.5 386v6M314.5 243v1M314.5 401v2M315.5 226v1M315.5 405v1M316.5 250v2M316.5 391v2M317.5 223v2M317.5 388v2M318.5 226v2M318.5 390v4M319.5 245v1M319.5 384v5M320.5 255v2M320.5 376v2M321.5 272v1M321.5 375v6M322.5 224v1M322.5 240v4M322.5 252v5M322.5 271v3M322.5 339v4M322.5 367v2M322.5 371v7M323.5 222v1M323.5 262v11M323.5 360v16M324.5 221v1M324.5 278v1M324.5 371v2M325.5 225v1M325.5 378v2M326.5 228v2M326.5 397v2M327.5 237v2M327.5 391v2M328.5 266v1M328.5 382v2M329.5 261v1M329.5 393v1M330.5 261v2M330.5 390v2M331.5 264v4M331.5 388v5M332.5 273v3M332.5 364v1M332.5 374v1M333.5 272v1M333.5 366v6M334.5 274v1M334.5 381v1M335.5 264v1M335.5 388v1M336.5 282v4M336.5 382v2M337.5 270v9M337.5 382v5M338.5 268v1M338.5 389v1M339.5 257v2M339.5 386v1M340.5 266v1M340.5 392v2M341.5 275v2M342.5 275v2M342.5 288v4M342.5 378v7M343.5 278v16M343.5 359v19M344.5 274v6M344.5 364v6M345.5 272v1M345.5 368v1M346.5 274v2M346.5 365v1M347.5 269v1M347.5 368v5M348.5 262v4M348.5 377v6M349.5 262v2M349.5 374v3M350.5 257v1M350.5 376v2M351.5 263v1M351.5 367v2M352.5 273v1M352.5 365v5M353.5 210v8M353.5 236v10M353.5 276v2M353.5 372v1M354.5 248v6M354.5 274v1M354.5 358v2M356.5 374v1M357.5 262v1M358.5 271v1M358.5 340v2M358.5 344v10M358.5 365v1M359.5 289v2M359.5 293v4M359.5 335v1M360.5 275v1M360.5 301v5M360.5 338v2M360.5 346v2M360.5 350v3M360.5 354v2M360.5 359v1M361.5 263v2M361.5 373v1M362.5 272v1M362.5 373v1M363.5 272v1M363.5 370v1M364.5 266v1M364.5 371v1M365.5 260v2M365.5 370v1M366.5 273v1M366.5 367v1M367.5 275v7M367.5 293v5M367.5 355v5M368.5 292v12M368.5 322v14M368.5 342v18M369.5 309v14M369.5 327v4M369.5 335v9M370.5 296v12M370.5 337v14M371.5 305v1M371.5 348v5M372.5 304v5M372.5 318v1M372.5 366v2M373.5 299v2M373.5 366v1M374.5 300v8M374.5 314v4M374.5 354v4M380.5 318v3M380.5 340v4M381.5 320v6M381.5 339v7M382.5 314v2M382.5 338v2M382.5 342v5M383.5 312v5M383.5 335v3M384.5 304v15M384.5 341v23M385.5 299v5M385.5 373v5M386.5 297v2M386.5 378v1M387.5 303v2M387.5 383v1M388.5 307v1M388.5 381v2M389.5 301v1M389.5 381v1M390.5 297v2M390.5 380v1M391.5 301v1M391.5 389v2M392.5 304v4M392.5 375v1M393.5 310v1M393.5 329v4M393.5 359v1M393.5 364v3M394.5 309v3M394.5 370v5M395.5 324v5M395.5 360v7M395.5 372v2M396.5 324v5M396.5 340v15M396.5 360v7M397.5 303v1M397.5 389v1M398.5 289v6M398.5 400v2M399.5 272v22M399.5 392v2M400.5 277v5M400.5 287v2M400.5 298v2M400.5 301v4M400.5 401v1M401.5 273v7M401.5 287v9M401.5 300v7M401.5 397v6M402.5 271v32M402.5 412v8M403.5 302v8M403.5 405v4M404.5 313v8M404.5 384v5M405.5 328v1M405.5 369v1M406.5 321v4M406.5 382v1M407.5 312v1M407.5 391v1M408.5 304v2M408.5 395v5M409.5 293v11M409.5 394v8M410.5 298v7M410.5 390v3M411.5 290v3M411.5 401v2M412.5 284v5M412.5 410v2M413.5 294v2M413.5 398v3M414.5 297v18M414.5 318v2M414.5 385v1M415.5 320v2M415.5 380v1M419.5 329v2M419.5 335v1M420.5 333v2M421.5 306v31M421.5 354v6M422.5 310v13M422.5 326v3M422.5 332v6M422.5 341v4M422.5 348v12M423.5 319v10M465.5 362v5M466.5 362v2"/>
<path stroke="#00ff72" d="M101.5 328v1M103.5 234v6M103.5 247v13M103.5 265v16M103.5 297v13M103.5 323v1M104.5 309v1M104.5 323v1M105.5 310v1M105.5 322v1M106.5 312v1M106.5 320v1M193.5 313v5M193.5 320v2M194.5 315v5M194.5 321v2M197.5 300v5M197.5 323v4M198.5 297v2M198.5 302v3M198.5 331v1M199.5 300v1M199.5 303v3M199.5 330v1M200.5 294v1M200.5 333v2M201.5 294v1M201.5 334v1M202.5 295v1M202.5 331v2M203.5 328v1M204.5 324v1M205.5 304v3M205.5 320v1M206.5 292v3M206.5 332v2M207.5 289v2M207.5 338v1M208.5 289v3M208.5 342v3M209.5 282v2M209.5 353v3M210.5 278v2M210.5 355v2M211.5 289v2M211.5 339v3M212.5 291v1M212.5 342v1M213.5 289v2M213.5 343v3M214.5 290v2M214.5 344v2M215.5 287v1M215.5 333v5M215.5 342v2M216.5 281v1M216.5 364v2M217.5 281v1M217.5 355v8M218.5 285v1M218.5 346v1M218.5 362v5M218.5 369v2M219.5 280v1M219.5 346v3M219.5 358v2M219.5 367v3M220.5 279v1M220.5 372v1M221.5 283v1M221.5 367v2M222.5 285v2M222.5 355v3M223.5 286v8M223.5 337v2M223.5 345v4M224.5 357v2M224.5 365v1M224.5 379v3M225.5 380v1M226.5 281v1M226.5 378v5M226.5 387v3M227.5 274v1M227.5 380v2M228.5 276v1M228.5 380v2M229.5 286v7M229.5 373v4M230.5 279v1M230.5 379v3M230.5 390v1M231.5 370v2M232.5 339v1M232.5 342v3M232.5 346v9M232.5 359v6M233.5 350v4M233.5 372v1M234.5 281v1M234.5 382v6M235.5 276v1M235.5 401v4M236.5 276v1M236.5 395v3M237.5 275v1M237.5 369v8M237.5 384v4M238.5 276v2M238.5 286v3M238.5 351v11M239.5 290v1M239.5 320v2M239.5 331v9M239.5 347v4M240.5 283v1M240.5 348v3M240.5 360v2M241.5 286v1M241.5 333v2M241.5 337v6M241.5 345v2M241.5 356v2M241.5 365v4M242.5 279v1M242.5 338v3M242.5 347v2M242.5 359v2M242.5 379v3M243.5 320v3M243.5 329v5M243.5 360v3M243.5 376v3M244.5 276v1M244.5 322v8M244.5 333v3M244.5 372v2M245.5 277v2M245.5 283v2M245.5 293v2M245.5 316v2M245.5 327v4M245.5 344v4M245.5 359v2M245.5 365v3M246.5 281v1M246.5 288v2M246.5 292v3M246.5 318v3M246.5 328v5M247.5 295v4M247.5 311v6M248.5 299v3M255.5 275v6M255.5 359v3M255.5 364v2M256.5 260v3M256.5 268v5M256.5 298v2M256.5 359v1M256.5 365v6M257.5 259v2M257.5 276v2M257.5 283v2M257.5 293v11M257.5 308v3M257.5 326v2M257.5 370v2M258.5 239v2M258.5 250v3M258.5 257v2M258.5 390v2M259.5 231v1M259.5 396v6M260.5 243v1M260.5 381v6M261.5 290v8M261.5 360v1M262.5 285v2M262.5 295v3M262.5 301v5M262.5 307v6M262.5 356v2M263.5 238v1M263.5 398v1M264.5 214v2M264.5 394v5M265.5 236v1M265.5 385v7M266.5 218v2M266.5 403v1M267.5 214v8M267.5 404v3M268.5 229v1M268.5 398v6M269.5 225v2M269.5 409v2M270.5 218v3M270.5 416v2M271.5 222v2M271.5 410v2M272.5 247v1M272.5 390v1M273.5 249v1M273.5 278v8M273.5 379v2M274.5 242v2M274.5 246v2M274.5 253v4M274.5 259v1M274.5 377v2M275.5 236v3M275.5 394v2M276.5 238v4M276.5 394v15M277.5 250v1M277.5 384v4M278.5 376v3M279.5 385v1M280.5 397v1M281.5 241v1M281.5 378v2M281.5 392v3M282.5 219v2M282.5 389v1M283.5 226v2M283.5 394v11M284.5 252v2M284.5 256v3M284.5 385v3M285.5 265v2M285.5 369v1M286.5 197v2M286.5 215v2M286.5 245v6M286.5 383v3M287.5 246v1M287.5 387v1M288.5 219v1M288.5 246v1M288.5 389v1M289.5 198v2M289.5 214v1M289.5 252v7M289.5 266v1M289.5 379v2M290.5 262v2M290.5 375v3M291.5 216v1M291.5 388v6M292.5 201v5M292.5 400v3M293.5 223v4M293.5 389v1M294.5 260v1M294.5 381v1M295.5 242v2M295.5 385v1M296.5 238v3M296.5 389v3M297.5 246v1M298.5 244v3M299.5 204v2M299.5 395v7M300.5 201v1M300.5 400v2M301.5 215v2M301.5 398v2M302.5 202v2M302.5 395v1M303.5 399v1M304.5 182v1M304.5 409v3M305.5 223v2M305.5 391v3M306.5 234v9M306.5 399v6M307.5 217v2M307.5 412v2M308.5 223v3M308.5 404v1M309.5 226v4M309.5 397v2M310.5 206v1M310.5 391v2M311.5 247v2M311.5 391v1M312.5 250v1M312.5 376v2M313.5 256v2M313.5 377v1M313.5 382v4M314.5 244v1M314.5 398v3M315.5 227v1M315.5 403v2M316.5 252v2M316.5 390v1M317.5 225v1M317.5 387v1M318.5 228v2M318.5 388v2M319.5 246v1M319.5 382v2M320.5 257v2M320.5 374v2M321.5 273v1M321.5 334v3M321.5 371v4M322.5 225v1M322.5 238v2M322.5 274v1M322.5 335v4M322.5 343v2M322.5 355v3M322.5 364v3M322.5 369v2M323.5 273v2M323.5 358v2M324.5 262v1M324.5 279v1M324.5 362v9M325.5 261v4M325.5 377v1M326.5 230v5M326.5 395v2M327.5 239v3M327.5 245v3M327.5 390v1M328.5 267v4M328.5 381v1M329.5 262v2M329.5 391v2M330.5 263v3M330.5 388v2M331.5 268v2M331.5 387v1M332.5 276v2M332.5 362v2M332.5 365v2M332.5 372v2M333.5 273v2M333.5 364v2M334.5 275v2M334.5 380v1M335.5 265v1M335.5 386v2M336.5 286v3M336.5 381v1M337.5 279v2M337.5 375v7M338.5 269v3M338.5 388v1M339.5 259v1M339.5 385v1M340.5 267v2M340.5 391v1M341.5 277v1M341.5 421v1M342.5 277v2M342.5 281v3M342.5 286v2M342.5 292v1M342.5 372v6M343.5 294v1M343.5 357v2M344.5 280v6M344.5 363v1M345.5 273v1M345.5 367v1M346.5 276v2M346.5 364v1M347.5 270v1M347.5 367v1M348.5 266v1M348.5 376v1M349.5 264v1M349.5 373v1M350.5 258v1M350.5 375v1M351.5 366v1M352.5 274v2M352.5 364v1M353.5 176v12M353.5 205v5M353.5 278v1M353.5 361v7M353.5 371v1M354.5 245v3M354.5 254v3M354.5 268v2M354.5 275v1M354.5 355v3M355.5 243v1M355.5 369v1M356.5 245v9M356.5 373v1M357.5 263v1M357.5 374v1M358.5 272v1M358.5 338v2M358.5 354v3M358.5 364v1M359.5 291v2M359.5 315v1M359.5 329v6M360.5 276v2M360.5 297v4M360.5 306v7M360.5 337v1M360.5 348v2M360.5 356v3M361.5 265v1M361.5 372v1M362.5 273v1M362.5 372v1M363.5 273v1M363.5 369v1M364.5 267v1M364.5 370v1M365.5 262v2M365.5 369v1M366.5 274v1M366.5 285v8M366.5 365v2M367.5 298v1M367.5 353v2M368.5 304v5M368.5 316v6M368.5 336v6M370.5 308v2M370.5 323v8M370.5 332v5M371.5 306v3M371.5 346v2M372.5 319v1M372.5 356v10M373.5 301v5M373.5 307v9M373.5 357v4M373.5 362v4M374.5 318v4M374.5 348v6M379.5 465v1M382.5 316v2M382.5 336v2M383.5 317v1M383.5 334v1M384.5 319v1M384.5 339v2M385.5 304v1M385.5 371v2M386.5 299v2M386.5 377v1M387.5 305v2M387.5 381v2M388.5 308v2M388.5 380v1M389.5 302v1M389.5 374v2M389.5 379v2M390.5 299v1M390.5 379v1M391.5 302v1M391.5 387v2M392.5 308v2M392.5 373v2M393.5 311v3M393.5 325v4M393.5 333v4M393.5 348v5M393.5 357v2M394.5 312v4M394.5 367v3M395.5 329v2M395.5 343v3M395.5 357v3M396.5 329v4M396.5 335v5M397.5 304v2M397.5 387v2M398.5 295v7M398.5 398v2M399.5 294v11M399.5 390v2M400.5 282v5M400.5 289v9M400.5 305v3M400.5 399v2M401.5 280v7M401.5 296v4M401.5 307v2M401.5 394v3M402.5 303v5M402.5 410v2M403.5 310v2M403.5 403v2M404.5 321v2M404.5 351v3M404.5 382v2M405.5 329v3M405.5 333v4M405.5 353v1M405.5 356v9M405.5 368v1M406.5 325v3M406.5 381v1M406.5 463v1M407.5 313v3M407.5 390v1M408.5 306v4M408.5 393v2M409.5 304v5M409.5 393v1M410.5 305v3M410.5 388v2M411.5 293v5M411.5 302v4M411.5 399v2M412.5 289v6M412.5 299v4M412.5 408v2M413.5 296v2M413.5 301v3M413.5 396v2M414.5 320v1M414.5 384v1M415.5 322v1M415.5 327v2M415.5 378v2M419.5 331v4M422.5 323v3M422.5 338v3M423.5 464v1M440.5 464v1M443.5 463v1M448.5 464v1M457.5 464v1M466.5 364v5"/>
<path stroke="#00ff5b" d="M103.5 240v7M103.5 260v5M103.5 281v16M106.5 313v2M106.5 318v2M194.5 320v1M197.5 305v6M197.5 322v1M198.5 299v3M198.5 305v3M198.5 328v3M199.5 306v3M199.5 326v4M200.5 295v1M201.5 295v1M201.5 333v1M202.5 296v1M202.5 329v2M203.5 294v1M203.5 326v2M204.5 297v1M204.5 321v3M205.5 307v1M206.5 295v3M206.5 331v1M207.5 291v2M207.5 336v2M208.5 292v8M208.5 333v5M208.5 339v3M209.5 284v2M209.5 352v1M210.5 280v2M210.5 351v4M211.5 291v2M211.5 335v4M212.5 292v2M212.5 336v6M213.5 291v3M213.5 333v4M213.5 341v2M214.5 292v2M214.5 332v6M214.5 342v2M215.5 288v2M215.5 331v2M215.5 338v4M216.5 282v1M216.5 358v6M217.5 350v5M218.5 344v2M218.5 367v2M219.5 281v1M219.5 344v2M219.5 360v7M220.5 370v2M221.5 284v1M221.5 366v1M222.5 287v2M222.5 351v4M223.5 294v1M223.5 336v1M224.5 284v1M224.5 356v1M224.5 366v1M224.5 376v3M225.5 281v1M225.5 378v2M226.5 377v1M227.5 275v1M227.5 376v4M228.5 277v1M228.5 377v3M229.5 293v1M229.5 351v4M229.5 371v2M230.5 280v1M230.5 373v6M230.5 382v3M230.5 388v2M231.5 282v1M231.5 366v4M232.5 286v1M232.5 337v2M232.5 345v1M232.5 355v4M233.5 287v2M233.5 339v3M233.5 347v3M233.5 354v2M233.5 362v5M233.5 370v2M234.5 282v1M234.5 380v2M235.5 277v1M235.5 393v8M236.5 277v1M236.5 391v4M237.5 276v1M237.5 367v2M237.5 377v7M238.5 278v1M238.5 284v2M238.5 289v2M238.5 318v13M238.5 339v3M238.5 349v2M239.5 291v2M239.5 316v4M239.5 340v2M239.5 345v2M240.5 284v5M240.5 315v5M240.5 332v3M240.5 346v2M240.5 351v3M240.5 358v2M241.5 287v2M241.5 332v1M241.5 343v2M241.5 358v7M242.5 280v1M242.5 319v3M242.5 334v4M242.5 341v6M242.5 361v4M242.5 375v4M243.5 278v1M243.5 319v1M243.5 334v3M243.5 338v4M243.5 351v9M243.5 363v2M243.5 372v4M244.5 277v1M244.5 320v2M244.5 336v1M244.5 370v2M245.5 279v4M245.5 295v3M245.5 315v1M245.5 361v4M246.5 282v1M246.5 287v1M246.5 295v4M246.5 317v1M247.5 299v7M247.5 309v2M255.5 362v2M256.5 263v5M256.5 360v2M256.5 363v2M257.5 261v2M257.5 267v3M257.5 274v2M257.5 285v2M257.5 290v3M257.5 304v4M257.5 328v13M257.5 347v10M257.5 368v2M258.5 241v1M258.5 248v2M258.5 259v2M258.5 389v1M259.5 232v1M259.5 394v2M260.5 244v2M260.5 378v3M261.5 298v6M261.5 352v8M262.5 287v8M262.5 313v2M262.5 353v3M263.5 239v3M263.5 253v2M263.5 390v4M263.5 396v2M264.5 216v6M264.5 392v2M265.5 237v1M265.5 383v2M266.5 220v1M266.5 400v3M267.5 222v5M267.5 402v2M268.5 230v1M268.5 394v4M269.5 227v2M269.5 408v1M270.5 221v1M270.5 415v1M271.5 224v2M271.5 409v1M272.5 248v1M272.5 388v2M273.5 250v6M273.5 275v3M273.5 286v1M273.5 377v2M274.5 248v5M274.5 257v2M274.5 260v2M274.5 376v1M275.5 239v3M276.5 242v5M276.5 393v1M277.5 251v1M277.5 382v2M278.5 243v1M278.5 372v4M279.5 240v1M279.5 384v1M280.5 394v3M281.5 377v1M281.5 380v3M281.5 389v3M282.5 221v3M282.5 387v2M283.5 228v1M283.5 392v2M284.5 259v5M284.5 384v1M285.5 267v2M285.5 273v3M286.5 199v1M286.5 213v2M286.5 251v8M286.5 376v1M286.5 379v4M287.5 174v1M287.5 230v1M287.5 247v1M287.5 386v1M288.5 247v1M288.5 388v1M289.5 200v7M289.5 213v1M289.5 375v4M290.5 264v1M290.5 374v1M291.5 217v6M291.5 387v1M292.5 206v2M292.5 396v4M293.5 227v5M293.5 386v3M294.5 261v1M294.5 380v1M295.5 244v4M295.5 252v4M295.5 384v1M296.5 241v1M296.5 385v4M297.5 247v1M297.5 376v1M298.5 247v2M298.5 375v1M299.5 206v2M299.5 393v2M300.5 202v2M300.5 398v2M301.5 217v2M301.5 397v1M302.5 204v1M302.5 394v1M303.5 183v1M303.5 397v2M304.5 183v1M304.5 188v5M304.5 211v4M304.5 401v8M305.5 225v1M305.5 387v4M306.5 243v2M306.5 397v2M307.5 219v2M307.5 411v1M308.5 226v3M308.5 403v1M309.5 230v2M309.5 395v2M310.5 389v2M311.5 249v4M311.5 389v2M312.5 251v1M312.5 373v3M313.5 258v5M313.5 376v1M314.5 245v1M314.5 397v1M315.5 228v1M315.5 399v4M316.5 254v3M316.5 388v2M317.5 226v2M317.5 385v2M318.5 230v2M318.5 387v1M319.5 247v1M319.5 378v4M320.5 259v3M320.5 373v1M321.5 274v1M321.5 333v1M321.5 337v5M321.5 366v5M322.5 226v1M322.5 236v2M322.5 275v1M322.5 279v3M322.5 334v1M322.5 345v3M322.5 354v1M322.5 358v6M323.5 261v1M323.5 275v2M323.5 353v5M324.5 360v2M325.5 226v1M325.5 260v1M325.5 265v3M325.5 376v1M326.5 235v4M326.5 391v4M326.5 458v1M327.5 242v3M327.5 248v5M327.5 388v2M328.5 271v3M328.5 380v1M328.5 457v1M329.5 264v5M329.5 389v2M329.5 459v1M330.5 266v4M330.5 387v1M330.5 455v1M330.5 458v1M331.5 270v1M331.5 386v1M332.5 278v2M332.5 352v4M332.5 358v4M332.5 367v1M332.5 370v2M332.5 454v1M333.5 275v2M333.5 361v3M334.5 277v1M334.5 379v1M335.5 266v1M335.5 384v2M336.5 289v2M336.5 379v2M337.5 281v9M337.5 357v5M337.5 368v1M337.5 373v2M338.5 272v5M338.5 387v1M339.5 260v1M339.5 384v1M340.5 269v1M340.5 390v1M340.5 454v2M340.5 457v1M341.5 278v1M341.5 463v1M342.5 279v2M342.5 284v2M342.5 293v1M342.5 369v3M342.5 456v1M343.5 295v1M343.5 356v1M344.5 286v7M344.5 361v2M344.5 453v1M345.5 274v1M345.5 366v1M345.5 453v1M346.5 278v1M347.5 271v1M347.5 366v1M348.5 374v2M349.5 372v1M350.5 259v1M350.5 374v1M351.5 264v1M351.5 364v2M352.5 276v1M352.5 363v1M353.5 170v6M353.5 188v17M353.5 279v1M353.5 359v2M353.5 368v3M354.5 244v1M354.5 257v2M354.5 264v4M354.5 276v1M354.5 352v3M355.5 368v1M355.5 466v1M356.5 244v1M356.5 254v7M356.5 372v1M357.5 264v2M357.5 373v1M358.5 273v1M358.5 313v1M358.5 337v1M358.5 357v2M358.5 362v2M359.5 316v1M359.5 328v1M359.5 462v1M359.5 465v1M360.5 278v4M360.5 295v2M360.5 313v1M360.5 336v1M361.5 266v1M361.5 370v2M362.5 274v1M362.5 371v1M363.5 274v1M363.5 367v2M364.5 268v2M364.5 369v1M365.5 264v1M365.5 367v2M366.5 275v2M366.5 282v3M366.5 293v2M366.5 363v2M366.5 463v1M367.5 299v2M367.5 345v8M367.5 464v1M368.5 309v3M368.5 313v3M368.5 464v1M369.5 464v1M370.5 310v1M370.5 317v6M370.5 331v1M371.5 309v12M371.5 344v2M371.5 462v1M372.5 320v2M372.5 353v3M372.5 465v1M373.5 306v1M373.5 316v3M373.5 355v2M373.5 361v1M373.5 465v1M374.5 322v1M374.5 346v2M380.5 462v1M382.5 318v2M382.5 334v2M383.5 318v1M383.5 332v2M384.5 320v2M384.5 327v3M384.5 337v2M384.5 462v1M385.5 305v1M385.5 365v6M386.5 301v2M386.5 376v1M386.5 462v1M387.5 307v1M387.5 380v1M388.5 310v2M388.5 372v2M388.5 379v1M389.5 303v1M389.5 372v2M389.5 376v3M389.5 463v1M390.5 300v2M390.5 378v1M390.5 463v2M391.5 303v2M391.5 386v1M392.5 310v2M392.5 325v4M392.5 359v5M392.5 371v2M393.5 314v11M393.5 337v2M393.5 345v3M393.5 353v4M394.5 316v14M394.5 366v1M395.5 331v2M395.5 339v4M395.5 346v11M396.5 333v2M397.5 306v1M397.5 386v1M398.5 302v2M398.5 397v1M399.5 305v2M399.5 388v2M399.5 463v1M399.5 465v1M400.5 308v3M400.5 397v2M401.5 309v2M401.5 392v2M402.5 308v2M402.5 407v3M402.5 465v1M403.5 312v5M403.5 402v1M404.5 323v5M404.5 350v1M404.5 354v4M404.5 375v7M405.5 332v1M405.5 337v8M405.5 350v3M405.5 354v2M405.5 365v3M405.5 463v1M406.5 328v3M406.5 379v2M407.5 316v10M407.5 388v2M407.5 463v1M408.5 310v2M408.5 392v1M409.5 309v2M409.5 392v1M410.5 308v12M410.5 387v1M411.5 298v4M411.5 306v2M411.5 397v2M412.5 295v4M412.5 303v3M412.5 405v3M413.5 298v3M413.5 304v2M413.5 395v1M414.5 321v1M414.5 383v1M414.5 465v1M415.5 323v4M415.5 329v5M415.5 377v1M418.5 465v1M419.5 465v1M420.5 465v1M422.5 463v1M436.5 462v1M439.5 464v1M442.5 463v1M444.5 463v1M445.5 464v1M447.5 464v1M449.5 462v1M451.5 464v1M452.5 464v1M454.5 463v1M455.5 463v1M458.5 464v1M459.5 464v1M466.5 463v1M566.5 468v1M568.5 469v1M569.5 468v2M579.5 469v1"/>
<path stroke="#0f4" d="M103.5 310v1M103.5 322v1M104.5 310v1M104.5 322v1M105.5 311v1M105.5 321v1M106.5 315v3M197.5 311v11M198.5 308v2M198.5 325v3M199.5 309v1M199.5 324v2M200.5 296v1M200.5 332v1M201.5 296v1M201.5 332v1M202.5 297v1M202.5 303v4M202.5 327v2M203.5 295v1M203.5 325v1M204.5 298v1M204.5 319v2M205.5 308v2M205.5 319v1M206.5 298v7M206.5 329v2M207.5 293v3M207.5 334v2M208.5 300v5M208.5 332v1M208.5 338v1M209.5 286v1M209.5 349v3M210.5 282v4M210.5 349v2M211.5 293v2M211.5 334v1M212.5 294v3M212.5 335v1M213.5 294v1M213.5 322v4M213.5 330v3M213.5 337v4M214.5 294v1M214.5 327v5M214.5 338v4M215.5 290v1M215.5 328v3M216.5 350v8M217.5 282v1M217.5 348v2M218.5 286v1M218.5 341v3M219.5 282v1M219.5 341v3M220.5 280v1M220.5 369v1M221.5 364v2M222.5 289v3M222.5 337v6M222.5 349v2M223.5 295v1M223.5 334v2M224.5 350v6M224.5 367v1M224.5 372v4M225.5 282v1M225.5 350v3M225.5 359v3M225.5 377v1M226.5 282v1M226.5 376v1M227.5 276v1M227.5 372v4M228.5 278v1M228.5 371v6M229.5 294v1M229.5 349v2M229.5 355v2M229.5 369v2M230.5 281v1M230.5 371v2M230.5 385v3M231.5 283v1M231.5 338v4M231.5 365v1M232.5 287v1M232.5 290v4M232.5 335v2M233.5 289v1M233.5 335v4M233.5 342v5M233.5 356v6M233.5 367v3M234.5 375v5M235.5 278v1M235.5 390v3M236.5 389v2M237.5 338v5M237.5 352v9M237.5 365v2M238.5 279v1M238.5 281v3M238.5 291v1M238.5 316v2M238.5 331v2M238.5 337v2M238.5 342v2M238.5 346v3M239.5 293v1M239.5 314v2M239.5 342v3M240.5 289v2M240.5 314v1M240.5 320v6M240.5 330v2M240.5 335v3M240.5 345v1M240.5 354v4M241.5 289v2M241.5 316v5M241.5 331v1M242.5 281v1M242.5 318v1M242.5 322v1M242.5 332v2M242.5 365v2M242.5 373v2M243.5 279v1M243.5 318v1M243.5 337v1M243.5 342v9M243.5 365v7M244.5 278v2M244.5 282v3M244.5 287v5M244.5 319v1M244.5 337v7M244.5 362v8M245.5 298v8M245.5 313v2M246.5 283v4M246.5 299v1M246.5 315v2M247.5 306v3M256.5 362v1M257.5 263v4M257.5 270v4M257.5 287v3M257.5 341v6M257.5 357v1M257.5 366v2M258.5 242v1M258.5 246v2M258.5 261v1M258.5 293v5M258.5 303v3M258.5 310v7M258.5 377v4M258.5 383v6M259.5 233v1M259.5 391v3M260.5 246v1M260.5 255v3M260.5 375v3M261.5 304v4M261.5 343v2M261.5 349v3M262.5 315v3M262.5 349v4M263.5 242v3M263.5 250v3M263.5 255v2M263.5 306v1M263.5 387v3M263.5 394v2M264.5 222v4M264.5 391v1M265.5 238v2M265.5 382v1M266.5 221v1M266.5 398v2M267.5 227v1M267.5 400v2M268.5 231v1M268.5 391v3M269.5 229v2M269.5 406v2M270.5 222v2M270.5 410v5M271.5 226v3M271.5 408v1M272.5 249v1M272.5 387v1M273.5 256v2M273.5 273v2M273.5 287v1M273.5 371v2M273.5 375v2M274.5 262v1M274.5 375v1M275.5 242v4M275.5 393v1M276.5 247v1M277.5 381v1M278.5 370v2M279.5 383v1M280.5 240v1M280.5 387v7M281.5 242v1M281.5 376v1M281.5 383v6M282.5 224v4M282.5 386v1M283.5 229v1M283.5 391v1M284.5 264v2M284.5 383v1M285.5 269v4M285.5 276v1M285.5 368v1M286.5 200v13M286.5 259v6M286.5 374v2M286.5 377v2M287.5 228v2M287.5 248v1M287.5 384v2M288.5 248v1M288.5 262v4M288.5 387v1M289.5 207v6M289.5 267v1M289.5 373v2M290.5 265v1M290.5 373v1M291.5 223v1M291.5 238v5M291.5 385v2M292.5 208v1M292.5 394v2M293.5 232v3M293.5 384v2M294.5 262v2M294.5 378v2M295.5 248v4M295.5 256v4M295.5 383v1M296.5 242v1M296.5 384v1M297.5 248v1M297.5 375v1M298.5 249v17M298.5 374v1M299.5 208v4M299.5 391v2M300.5 204v1M300.5 397v1M301.5 219v2M301.5 396v1M302.5 205v1M302.5 393v1M303.5 186v4M303.5 203v6M303.5 395v2M304.5 186v2M304.5 193v2M304.5 209v2M304.5 215v2M304.5 399v2M305.5 226v1M305.5 380v7M306.5 245v1M306.5 395v2M307.5 221v1M307.5 408v3M308.5 229v3M308.5 401v2M309.5 232v2M309.5 394v1M311.5 253v3M311.5 388v1M312.5 252v4M312.5 370v3M313.5 263v2M313.5 375v1M314.5 396v1M315.5 229v1M315.5 396v3M316.5 257v2M316.5 387v1M317.5 228v1M317.5 367v8M317.5 383v2M318.5 232v1M318.5 386v1M319.5 248v7M319.5 376v2M320.5 262v2M320.5 370v3M321.5 275v2M321.5 332v1M321.5 342v1M321.5 363v3M322.5 227v1M322.5 235v1M322.5 276v3M322.5 282v1M322.5 332v2M322.5 348v3M322.5 352v2M323.5 223v1M323.5 277v6M323.5 347v6M324.5 222v1M324.5 280v1M324.5 359v1M325.5 268v2M325.5 375v1M326.5 239v4M326.5 244v12M326.5 388v3M326.5 459v1M327.5 253v5M327.5 387v1M328.5 274v2M328.5 379v1M328.5 456v1M329.5 269v3M329.5 388v1M330.5 270v2M330.5 386v1M331.5 271v1M331.5 385v1M331.5 458v1M332.5 280v10M332.5 348v4M332.5 356v2M332.5 368v2M333.5 277v2M333.5 359v2M334.5 278v1M334.5 378v1M335.5 267v1M335.5 382v2M336.5 291v1M336.5 376v3M337.5 290v1M337.5 352v5M337.5 362v6M337.5 369v4M338.5 277v2M338.5 385v2M338.5 454v1M339.5 261v1M339.5 383v1M339.5 458v1M340.5 270v1M341.5 279v1M341.5 420v1M342.5 294v1M342.5 368v1M342.5 464v1M343.5 296v2M343.5 337v1M343.5 355v1M343.5 462v1M343.5 465v1M344.5 293v2M344.5 359v2M344.5 462v1M345.5 275v2M345.5 365v1M345.5 462v1M345.5 466v1M346.5 279v1M346.5 363v1M346.5 462v1M347.5 272v3M347.5 365v1M348.5 267v1M348.5 373v1M349.5 265v1M349.5 371v1M350.5 260v1M350.5 373v1M351.5 265v1M351.5 363v1M352.5 277v2M352.5 361v2M353.5 280v1M353.5 349v3M353.5 357v2M353.5 462v1M354.5 259v5M354.5 277v1M354.5 345v7M354.5 462v1M355.5 367v1M356.5 261v6M356.5 270v1M357.5 266v1M357.5 341v2M357.5 372v1M358.5 274v9M358.5 299v2M358.5 306v7M358.5 314v1M358.5 336v1M358.5 359v3M358.5 462v1M359.5 317v1M359.5 326v2M360.5 282v6M360.5 294v1M360.5 314v1M360.5 327v9M360.5 464v1M361.5 267v1M361.5 368v2M362.5 275v1M362.5 370v1M363.5 275v1M363.5 366v1M364.5 270v1M364.5 367v2M365.5 265v1M365.5 366v1M366.5 277v5M366.5 295v2M366.5 361v2M367.5 301v1M367.5 342v3M367.5 463v1M368.5 312v1M368.5 463v1M369.5 463v1M370.5 311v6M371.5 321v2M371.5 342v2M372.5 322v1M372.5 350v3M372.5 462v1M373.5 319v3M373.5 350v5M374.5 323v2M374.5 327v10M374.5 344v2M374.5 465v1M375.5 465v1M376.5 465v1M377.5 465v1M378.5 465v1M382.5 320v1M382.5 332v2M383.5 319v1M383.5 330v2M384.5 322v5M384.5 330v7M385.5 306v1M385.5 363v2M385.5 462v1M386.5 303v1M386.5 374v2M387.5 308v1M387.5 378v2M388.5 312v2M388.5 368v4M388.5 374v5M388.5 463v2M389.5 304v1M389.5 371v1M389.5 464v1M390.5 376v2M391.5 251v8M391.5 305v1M391.5 385v1M392.5 312v6M392.5 320v5M392.5 329v4M392.5 337v4M392.5 348v2M392.5 357v2M392.5 364v7M393.5 339v6M394.5 330v2M394.5 364v2M395.5 333v6M397.5 307v2M397.5 384v2M398.5 304v1M398.5 395v2M398.5 464v1M399.5 307v3M399.5 386v2M400.5 311v4M400.5 394v3M400.5 463v1M400.5 465v1M401.5 311v7M401.5 390v2M401.5 465v1M402.5 310v6M402.5 405v2M403.5 317v3M403.5 400v2M403.5 465v1M404.5 328v2M404.5 347v3M404.5 358v5M404.5 372v3M404.5 465v1M405.5 345v5M405.5 465v1M406.5 331v4M406.5 353v3M406.5 376v3M406.5 465v1M407.5 326v4M407.5 387v1M407.5 465v1M408.5 312v1M408.5 391v1M409.5 311v2M409.5 391v1M410.5 320v2M411.5 308v2M411.5 394v3M412.5 306v1M412.5 403v2M413.5 306v2M413.5 394v1M414.5 322v1M414.5 382v1M415.5 334v9M415.5 375v2M415.5 464v1M416.5 464v1M421.5 463v1M434.5 463v1M441.5 463v1M445.5 463v1M446.5 463v2M453.5 463v1M456.5 463v1M461.5 463v1M462.5 463v1M567.5 468v1M568.5 468v1M573.5 468v1M578.5 469v1"/>
<path stroke="#00ff2e" d="M198.5 310v2M198.5 322v3M199.5 310v2M199.5 323v1M200.5 297v3M200.5 331v1M201.5 297v1M201.5 331v1M202.5 298v5M202.5 307v4M202.5 326v1M203.5 296v1M203.5 303v4M203.5 321v4M204.5 299v2M204.5 318v1M205.5 310v2M205.5 318v1M206.5 305v5M206.5 327v2M207.5 296v3M207.5 333v1M208.5 305v2M208.5 327v5M209.5 287v4M209.5 346v3M210.5 286v2M210.5 347v2M211.5 295v1M211.5 333v1M212.5 297v1M212.5 334v1M213.5 295v2M213.5 310v12M213.5 326v4M214.5 295v1M214.5 323v4M215.5 291v2M215.5 326v2M216.5 283v2M216.5 344v6M217.5 346v2M218.5 287v1M218.5 324v1M218.5 336v5M219.5 283v1M219.5 318v13M219.5 340v1M220.5 281v1M220.5 368v1M221.5 285v2M221.5 363v1M222.5 292v1M222.5 335v2M222.5 343v2M222.5 348v1M223.5 327v7M224.5 285v1M224.5 340v5M224.5 348v2M224.5 368v4M225.5 348v2M225.5 353v6M225.5 362v1M225.5 375v2M226.5 341v6M226.5 375v1M227.5 365v7M228.5 279v1M228.5 352v5M228.5 359v12M229.5 295v1M229.5 338v4M229.5 348v1M229.5 357v2M229.5 367v2M230.5 282v1M230.5 340v1M230.5 369v2M231.5 334v4M231.5 342v1M231.5 364v1M232.5 288v2M232.5 333v2M233.5 290v3M233.5 331v4M234.5 283v1M234.5 374v1M235.5 279v1M235.5 389v1M236.5 278v1M236.5 373v2M236.5 388v1M237.5 277v1M237.5 336v2M237.5 343v9M237.5 361v4M238.5 280v1M238.5 292v1M238.5 315v1M238.5 333v4M238.5 344v2M239.5 294v3M239.5 313v1M240.5 291v1M240.5 313v1M240.5 326v4M240.5 338v7M241.5 291v3M241.5 315v1M241.5 321v3M241.5 330v1M242.5 317v1M242.5 323v9M242.5 367v6M243.5 280v3M244.5 280v2M244.5 285v2M244.5 292v1M244.5 317v2M244.5 344v3M244.5 351v11M245.5 306v7M246.5 300v15M257.5 358v1M257.5 364v2M258.5 243v3M258.5 262v2M258.5 292v1M258.5 298v5M258.5 306v4M258.5 317v3M258.5 375v2M258.5 381v2M259.5 234v1M259.5 305v4M259.5 389v2M260.5 247v2M260.5 253v2M260.5 258v6M260.5 284v5M260.5 296v3M260.5 368v7M261.5 308v7M261.5 336v7M261.5 345v4M262.5 318v4M262.5 328v3M262.5 341v8M263.5 245v5M263.5 257v1M263.5 297v4M263.5 303v3M263.5 307v3M263.5 384v3M264.5 226v1M264.5 389v2M265.5 240v1M265.5 380v2M266.5 222v2M266.5 394v4M267.5 228v2M267.5 395v5M268.5 232v1M268.5 389v2M269.5 231v1M269.5 405v1M270.5 224v1M270.5 407v3M271.5 229v7M271.5 393v5M271.5 401v7M272.5 250v1M272.5 386v1M273.5 258v1M273.5 272v1M273.5 288v1M273.5 342v14M273.5 362v9M273.5 373v2M274.5 263v1M274.5 373v2M275.5 246v2M275.5 392v1M276.5 248v1M276.5 392v1M277.5 252v1M277.5 380v1M278.5 244v1M278.5 369v1M279.5 382v1M280.5 385v2M281.5 374v2M282.5 228v2M282.5 384v2M283.5 230v1M283.5 390v1M284.5 266v1M284.5 381v2M285.5 366v2M286.5 265v1M286.5 372v2M287.5 227v1M287.5 249v1M287.5 257v3M287.5 380v4M288.5 194v1M288.5 218v1M288.5 249v5M288.5 255v7M288.5 266v1M289.5 268v1M289.5 372v1M290.5 266v4M290.5 366v4M290.5 371v2M291.5 224v2M291.5 236v2M291.5 243v1M291.5 384v1M292.5 209v2M292.5 389v5M293.5 235v2M293.5 383v1M294.5 264v3M294.5 377v1M295.5 260v1M295.5 370v5M295.5 382v1M296.5 243v1M296.5 383v1M297.5 249v1M297.5 255v6M297.5 374v1M298.5 266v3M298.5 358v2M298.5 373v1M299.5 212v2M299.5 376v15M300.5 205v1M300.5 395v2M301.5 221v1M301.5 387v9M302.5 206v2M302.5 385v8M303.5 184v2M303.5 190v3M303.5 200v3M303.5 209v3M303.5 393v2M304.5 184v2M304.5 195v2M304.5 207v2M304.5 217v1M304.5 397v2M305.5 227v1M305.5 375v5M306.5 246v1M306.5 394v1M307.5 222v1M307.5 405v3M308.5 232v3M308.5 399v2M309.5 234v2M309.5 393v1M310.5 207v1M310.5 388v1M311.5 256v1M311.5 387v1M312.5 256v1M312.5 267v3M312.5 353v3M312.5 368v2M313.5 265v3M313.5 373v2M314.5 246v1M314.5 394v2M315.5 230v1M315.5 394v2M316.5 259v1M316.5 385v2M317.5 229v4M317.5 365v2M317.5 375v8M318.5 233v2M318.5 237v5M318.5 373v7M318.5 384v2M319.5 255v1M319.5 374v2M320.5 264v1M320.5 334v1M320.5 368v2M321.5 277v1M321.5 331v1M321.5 343v1M321.5 359v4M322.5 228v1M322.5 233v2M322.5 283v1M322.5 330v2M322.5 351v1M323.5 260v1M323.5 283v1M323.5 332v15M324.5 261v1M324.5 281v1M324.5 358v1M325.5 227v1M325.5 270v7M325.5 370v5M326.5 243v1M326.5 256v2M326.5 386v2M327.5 258v2M327.5 386v1M328.5 276v1M328.5 373v6M329.5 272v2M329.5 386v2M330.5 272v1M330.5 385v1M331.5 272v2M331.5 384v1M332.5 290v1M332.5 333v2M332.5 340v3M332.5 346v2M333.5 279v1M333.5 290v2M333.5 358v1M334.5 279v1M334.5 293v2M334.5 375v3M335.5 268v2M335.5 381v1M336.5 292v1M336.5 375v1M337.5 291v1M337.5 351v1M337.5 454v1M338.5 279v1M338.5 384v1M339.5 262v5M339.5 382v1M339.5 455v1M340.5 271v1M340.5 388v2M341.5 280v2M342.5 367v1M343.5 298v1M343.5 335v2M343.5 338v2M343.5 354v1M344.5 295v2M344.5 358v1M345.5 277v2M345.5 364v1M346.5 280v1M346.5 362v1M346.5 466v1M347.5 275v4M347.5 364v1M347.5 462v1M347.5 466v1M348.5 371v2M348.5 466v1M349.5 266v1M349.5 454v2M350.5 261v1M350.5 372v1M351.5 266v1M351.5 362v1M352.5 279v1M352.5 339v9M352.5 360v1M352.5 462v1M353.5 281v2M353.5 285v3M353.5 344v5M353.5 352v5M354.5 278v1M354.5 343v2M354.5 466v1M355.5 244v3M355.5 365v2M355.5 462v1M356.5 267v3M356.5 271v1M356.5 371v1M356.5 462v1M357.5 267v1M357.5 338v3M357.5 343v2M357.5 370v2M357.5 462v1M358.5 283v3M358.5 296v3M358.5 301v2M358.5 305v1M358.5 315v1M358.5 335v1M358.5 465v1M359.5 318v1M359.5 324v2M360.5 288v1M360.5 293v1M360.5 315v1M360.5 325v2M361.5 268v1M361.5 300v4M361.5 366v2M362.5 276v4M362.5 369v1M363.5 276v2M363.5 287v8M363.5 364v2M364.5 271v1M364.5 366v1M365.5 266v1M365.5 364v2M366.5 297v1M366.5 346v2M366.5 355v6M367.5 302v2M367.5 340v2M370.5 463v2M371.5 323v2M371.5 340v2M372.5 323v1M372.5 345v5M373.5 322v2M373.5 348v2M374.5 325v2M374.5 337v2M374.5 341v3M382.5 321v11M383.5 320v1M383.5 327v3M385.5 307v1M385.5 362v1M385.5 464v1M386.5 304v1M386.5 373v1M386.5 464v1M387.5 309v1M387.5 377v1M387.5 463v2M388.5 314v2M388.5 359v9M389.5 305v1M390.5 302v1M390.5 374v2M391.5 306v2M391.5 384v1M392.5 318v2M392.5 333v4M392.5 341v7M392.5 350v1M392.5 356v1M394.5 332v2M394.5 359v5M397.5 309v1M397.5 351v5M397.5 382v2M398.5 305v3M398.5 393v2M399.5 310v2M399.5 384v2M400.5 315v3M400.5 392v2M401.5 318v2M401.5 388v2M401.5 463v1M402.5 316v5M402.5 403v2M402.5 463v1M403.5 320v3M403.5 398v2M403.5 463v1M404.5 330v2M404.5 336v11M404.5 363v1M404.5 370v2M404.5 463v1M406.5 335v2M406.5 352v1M406.5 356v2M406.5 369v3M406.5 374v2M406.5 464v1M407.5 330v1M407.5 385v2M407.5 464v1M408.5 313v1M408.5 390v1M408.5 463v1M409.5 313v1M409.5 390v1M410.5 322v2M411.5 310v3M411.5 391v3M412.5 307v1M412.5 401v2M413.5 308v9M413.5 393v1M414.5 323v1M414.5 333v1M414.5 381v1M414.5 464v1M415.5 343v2M415.5 355v4M415.5 366v9M417.5 464v1M420.5 463v1M422.5 464v1M437.5 463v1M438.5 463v1M439.5 463v1M440.5 463v1M447.5 463v1M448.5 463v1M449.5 463v1M450.5 463v1M451.5 463v1M452.5 463v1M460.5 463v1M463.5 463v1M464.5 463v1M465.5 463v1M574.5 469v1M577.5 468v1"/>
<path stroke="#00ff17" d="M102.5 249v9M103.5 311v1M103.5 321v1M104.5 311v1M104.5 321v1M105.5 312v1M105.5 320v1M198.5 312v2M198.5 315v7M199.5 312v2M199.5 317v6M200.5 300v11M200.5 330v1M201.5 298v1M201.5 328v3M202.5 311v8M202.5 325v1M203.5 297v2M203.5 301v2M203.5 307v3M203.5 318v3M204.5 301v8M205.5 312v6M206.5 310v2M206.5 325v2M207.5 299v2M207.5 331v2M208.5 307v2M208.5 326v1M209.5 291v2M209.5 344v2M210.5 288v4M210.5 344v3M211.5 296v1M211.5 332v1M212.5 298v1M212.5 310v1M212.5 333v1M213.5 297v1M213.5 309v1M214.5 296v2M214.5 322v1M215.5 293v1M215.5 307v1M215.5 325v1M216.5 285v1M216.5 336v8M217.5 283v1M217.5 345v1M218.5 288v6M218.5 321v3M218.5 325v6M218.5 335v1M219.5 284v2M219.5 291v1M219.5 317v1M219.5 331v5M219.5 337v3M220.5 282v1M220.5 363v5M221.5 287v1M221.5 358v5M222.5 293v1M222.5 333v2M222.5 345v3M223.5 296v1M223.5 325v2M224.5 286v1M224.5 339v1M224.5 345v3M225.5 283v1M225.5 339v4M225.5 347v1M225.5 363v2M225.5 374v1M226.5 283v1M226.5 340v1M226.5 347v3M226.5 373v2M227.5 277v1M227.5 363v2M228.5 280v2M228.5 350v2M228.5 357v2M229.5 296v1M229.5 337v1M229.5 342v6M229.5 359v8M230.5 338v2M230.5 341v1M230.5 367v2M231.5 284v1M231.5 331v3M231.5 343v2M231.5 360v4M232.5 294v1M232.5 328v5M233.5 293v1M233.5 328v3M234.5 284v1M234.5 365v1M234.5 372v2M235.5 280v1M235.5 388v1M236.5 279v1M236.5 370v3M236.5 375v2M236.5 386v2M237.5 278v3M237.5 331v5M238.5 293v4M238.5 314v1M239.5 297v1M239.5 312v1M240.5 292v1M240.5 312v1M241.5 294v1M241.5 313v2M241.5 324v6M242.5 282v1M243.5 283v2M243.5 317v1M244.5 293v1M244.5 302v2M244.5 315v2M244.5 347v4M257.5 359v2M257.5 363v1M258.5 264v1M258.5 291v1M258.5 320v9M258.5 343v1M258.5 370v5M259.5 235v2M259.5 254v5M259.5 304v1M259.5 309v2M259.5 381v8M260.5 249v4M260.5 264v1M260.5 282v2M260.5 289v2M260.5 294v2M260.5 299v6M260.5 363v5M261.5 315v2M261.5 331v5M262.5 322v1M262.5 326v2M262.5 331v1M262.5 339v2M263.5 258v1M263.5 295v2M263.5 301v2M263.5 310v12M263.5 381v3M264.5 227v2M264.5 294v5M264.5 385v4M265.5 241v1M265.5 274v6M265.5 379v1M266.5 224v3M266.5 387v7M267.5 230v2M267.5 392v3M268.5 233v1M268.5 380v5M268.5 387v2M269.5 232v2M269.5 404v1M270.5 225v5M270.5 404v3M271.5 236v2M271.5 389v4M271.5 398v3M272.5 251v1M272.5 385v1M273.5 259v2M273.5 271v1M273.5 289v5M273.5 340v2M273.5 356v6M274.5 283v2M274.5 366v7M275.5 248v1M275.5 385v2M275.5 391v1M276.5 249v1M276.5 391v1M277.5 253v2M277.5 379v1M278.5 264v5M278.5 275v4M278.5 365v4M279.5 241v1M279.5 379v3M280.5 241v1M280.5 383v2M281.5 243v1M281.5 373v1M282.5 230v1M282.5 379v5M283.5 231v2M283.5 388v2M284.5 267v1M284.5 379v2M285.5 277v1M285.5 364v2M286.5 266v10M286.5 370v2M287.5 175v2M287.5 226v1M287.5 250v2M287.5 253v4M287.5 260v5M287.5 376v4M288.5 254v1M288.5 386v1M289.5 269v1M289.5 371v1M290.5 270v2M290.5 365v1M290.5 370v1M291.5 226v10M291.5 244v2M291.5 250v8M291.5 383v1M292.5 211v1M292.5 387v2M293.5 237v4M293.5 380v3M294.5 267v1M294.5 375v2M295.5 261v2M295.5 369v1M295.5 375v2M295.5 380v2M296.5 244v2M296.5 382v1M297.5 250v5M297.5 261v2M297.5 373v1M298.5 269v1M298.5 346v4M298.5 356v2M298.5 360v2M298.5 372v1M299.5 214v3M299.5 374v2M300.5 206v2M300.5 394v1M301.5 222v8M301.5 383v4M302.5 208v2M302.5 383v2M303.5 193v7M303.5 212v2M303.5 391v2M304.5 197v2M304.5 205v2M304.5 218v1M304.5 396v1M305.5 228v2M305.5 368v4M305.5 373v2M306.5 247v9M306.5 392v2M307.5 223v1M307.5 397v8M308.5 235v2M308.5 397v2M309.5 236v3M309.5 391v2M310.5 215v4M310.5 372v3M310.5 387v1M311.5 257v1M311.5 380v7M312.5 257v1M312.5 265v2M312.5 270v1M312.5 352v1M312.5 356v12M313.5 268v4M313.5 362v11M314.5 247v1M314.5 393v1M315.5 231v1M315.5 392v2M316.5 260v1M316.5 360v5M316.5 384v1M317.5 233v2M317.5 248v4M317.5 363v2M318.5 235v2M318.5 242v1M318.5 370v3M318.5 380v4M319.5 256v1M319.5 373v1M320.5 265v1M320.5 272v2M320.5 332v2M320.5 335v6M320.5 366v2M321.5 278v2M321.5 330v1M321.5 344v2M321.5 354v5M322.5 229v4M322.5 284v1M322.5 329v1M323.5 284v1M323.5 330v2M324.5 282v1M324.5 335v2M324.5 353v5M325.5 259v1M325.5 277v1M325.5 367v3M326.5 258v2M326.5 383v3M327.5 260v1M327.5 384v2M327.5 459v1M328.5 277v2M328.5 352v6M328.5 370v3M328.5 459v1M329.5 274v1M329.5 383v3M329.5 456v2M330.5 383v2M331.5 274v3M331.5 348v2M331.5 382v2M331.5 455v1M332.5 291v1M332.5 331v2M332.5 335v5M332.5 343v3M332.5 458v1M333.5 280v1M333.5 289v1M333.5 292v5M333.5 355v3M333.5 454v1M334.5 280v1M334.5 291v2M334.5 295v2M334.5 363v3M334.5 372v3M334.5 454v1M335.5 270v1M335.5 380v1M335.5 454v1M336.5 293v1M336.5 370v5M336.5 454v1M336.5 458v1M337.5 292v1M337.5 349v2M337.5 458v1M338.5 381v3M338.5 458v1M339.5 267v1M339.5 381v1M339.5 456v1M340.5 272v1M340.5 387v1M341.5 282v2M341.5 373v4M341.5 454v2M342.5 295v1M342.5 305v9M342.5 352v10M342.5 366v1M342.5 463v1M343.5 299v2M343.5 312v2M343.5 334v1M343.5 340v1M343.5 456v1M343.5 464v1M344.5 297v2M344.5 339v4M344.5 356v2M345.5 279v1M345.5 291v7M345.5 362v2M346.5 294v6M346.5 361v1M347.5 279v2M347.5 363v1M348.5 268v1M348.5 369v2M348.5 456v1M348.5 462v1M349.5 370v1M349.5 466v1M350.5 262v1M350.5 371v1M351.5 267v1M351.5 340v3M351.5 348v7M351.5 356v6M351.5 462v1M352.5 280v2M352.5 311v3M352.5 321v1M352.5 337v2M352.5 348v4M352.5 358v2M353.5 283v2M353.5 288v2M353.5 342v2M354.5 279v4M354.5 340v3M355.5 247v2M355.5 362v3M356.5 272v1M356.5 336v7M356.5 369v2M357.5 268v1M357.5 335v3M357.5 345v1M357.5 368v2M358.5 286v2M358.5 291v5M358.5 303v2M358.5 316v1M358.5 334v1M359.5 319v5M360.5 289v4M360.5 316v1M360.5 323v2M360.5 463v1M361.5 269v2M361.5 298v2M361.5 304v10M361.5 364v2M362.5 280v2M362.5 347v7M362.5 367v2M363.5 278v2M363.5 285v2M363.5 295v2M363.5 362v2M364.5 272v1M364.5 364v2M365.5 267v2M365.5 362v2M366.5 298v2M366.5 344v2M366.5 348v2M366.5 352v3M367.5 304v9M367.5 316v10M367.5 328v12M371.5 325v3M371.5 336v4M371.5 463v1M372.5 324v1M372.5 343v2M373.5 324v2M373.5 345v3M373.5 462v1M374.5 339v2M379.5 462v1M382.5 464v1M383.5 321v2M383.5 325v2M383.5 464v1M384.5 464v1M385.5 308v1M385.5 349v1M385.5 361v1M386.5 305v1M386.5 372v1M386.5 463v1M387.5 310v1M387.5 376v1M388.5 316v15M389.5 306v2M389.5 370v1M390.5 303v1M390.5 373v1M391.5 308v1M391.5 383v1M392.5 351v5M394.5 334v1M394.5 344v6M394.5 356v3M397.5 310v11M397.5 334v17M397.5 356v2M397.5 379v3M398.5 308v2M398.5 392v1M399.5 312v1M399.5 382v2M399.5 464v1M400.5 318v1M400.5 390v2M401.5 320v2M401.5 386v2M402.5 321v4M402.5 400v3M403.5 323v4M403.5 391v7M404.5 332v4M404.5 364v2M404.5 369v1M404.5 464v1M405.5 464v1M406.5 337v1M406.5 351v1M406.5 358v11M406.5 372v2M407.5 331v2M407.5 384v1M408.5 314v1M408.5 388v2M408.5 465v1M409.5 314v2M409.5 317v4M409.5 389v1M410.5 324v1M410.5 386v1M411.5 313v3M411.5 390v1M412.5 308v1M412.5 398v3M413.5 317v2M413.5 392v1M413.5 465v1M414.5 324v1M414.5 331v2M414.5 334v1M414.5 379v2M414.5 463v1M415.5 345v1M415.5 354v1M415.5 359v7M419.5 463v1M421.5 464v1M435.5 463v1M457.5 463v1M459.5 463v1M577.5 469v1"/>
<path stroke="#00ff01" d="M101.5 253v6M102.5 223v14M102.5 246v3M102.5 258v4M102.5 282v4M102.5 325v3M105.5 313v1M105.5 319v1M198.5 314v1M199.5 314v3M200.5 311v1M200.5 329v1M201.5 299v6M201.5 308v10M201.5 327v1M202.5 319v6M203.5 299v2M203.5 310v1M203.5 317v1M204.5 309v3M204.5 317v1M206.5 312v2M206.5 322v3M207.5 301v3M207.5 330v1M208.5 309v2M208.5 325v1M209.5 293v10M209.5 343v1M210.5 292v2M210.5 341v3M211.5 297v1M211.5 321v4M211.5 331v1M212.5 308v2M212.5 311v2M212.5 320v6M212.5 332v1M213.5 298v2M213.5 308v1M214.5 298v2M214.5 301v12M214.5 320v2M215.5 294v2M215.5 305v2M215.5 308v2M215.5 324v1M216.5 334v2M217.5 284v2M217.5 343v2M218.5 294v1M218.5 320v1M218.5 331v4M219.5 286v5M219.5 292v5M219.5 315v2M219.5 336v1M220.5 354v6M220.5 361v2M221.5 288v1M221.5 356v2M222.5 294v1M222.5 330v3M223.5 297v1M223.5 314v4M223.5 323v2M224.5 287v3M224.5 338v1M225.5 284v2M225.5 337v2M225.5 343v4M225.5 365v2M225.5 372v2M226.5 332v2M226.5 338v2M226.5 350v3M226.5 372v1M227.5 278v1M227.5 362v1M228.5 282v7M228.5 349v1M229.5 297v1M229.5 335v2M230.5 283v8M230.5 337v1M230.5 342v1M230.5 366v1M231.5 285v2M231.5 291v3M231.5 330v1M231.5 345v15M232.5 295v1M232.5 327v1M233.5 294v1M233.5 324v4M234.5 324v16M234.5 348v2M234.5 363v2M234.5 366v6M235.5 281v1M235.5 387v1M236.5 280v1M236.5 338v4M236.5 368v2M236.5 377v9M237.5 281v4M237.5 329v2M238.5 297v1M238.5 312v2M239.5 298v2M239.5 311v1M240.5 293v1M240.5 310v2M241.5 295v1M241.5 312v1M242.5 283v3M242.5 316v1M243.5 285v2M243.5 316v1M244.5 294v1M244.5 301v1M244.5 304v2M244.5 314v1M257.5 361v2M258.5 265v2M258.5 290v1M258.5 329v14M258.5 344v2M258.5 369v1M259.5 237v2M259.5 248v6M259.5 259v2M259.5 296v3M259.5 302v2M259.5 311v2M259.5 378v3M260.5 265v1M260.5 279v3M260.5 291v3M260.5 305v4M260.5 344v1M260.5 354v1M260.5 362v1M261.5 317v3M261.5 325v6M262.5 323v3M262.5 332v1M262.5 337v2M263.5 259v1M263.5 266v4M263.5 294v1M263.5 322v1M263.5 380v1M264.5 229v1M264.5 289v5M264.5 299v3M264.5 303v2M264.5 384v1M265.5 242v2M265.5 257v7M265.5 266v8M265.5 280v7M265.5 377v2M266.5 227v3M266.5 384v3M267.5 232v1M267.5 382v4M267.5 390v2M268.5 234v1M268.5 378v2M268.5 385v2M269.5 234v1M269.5 390v2M269.5 396v4M269.5 402v2M270.5 230v4M270.5 403v1M271.5 238v3M271.5 388v1M272.5 252v1M272.5 384v1M273.5 261v2M273.5 270v1M273.5 294v1M273.5 320v13M273.5 338v2M274.5 264v1M274.5 274v1M274.5 281v2M274.5 285v3M274.5 363v3M275.5 249v7M275.5 383v2M275.5 387v4M276.5 250v2M276.5 390v1M277.5 255v4M277.5 378v1M278.5 245v1M278.5 261v3M278.5 269v1M278.5 273v2M278.5 279v2M278.5 363v2M279.5 375v4M280.5 378v5M282.5 231v2M282.5 378v1M283.5 233v3M283.5 387v1M284.5 268v2M284.5 372v2M284.5 375v4M285.5 278v1M285.5 363v1M286.5 276v2M286.5 368v2M287.5 177v3M287.5 224v2M287.5 252v1M287.5 265v2M287.5 375v1M288.5 267v1M288.5 380v6M289.5 270v1M289.5 370v1M290.5 272v1M290.5 364v1M291.5 246v4M291.5 258v1M291.5 381v2M292.5 212v1M292.5 386v1M293.5 241v1M293.5 379v1M294.5 268v1M294.5 371v4M295.5 263v2M295.5 368v1M295.5 377v3M296.5 246v1M296.5 381v1M297.5 263v3M297.5 371v2M298.5 270v1M298.5 342v4M298.5 350v6M298.5 362v1M298.5 370v2M299.5 217v2M299.5 247v6M299.5 357v3M299.5 372v2M300.5 208v2M300.5 295v1M300.5 393v1M301.5 230v2M301.5 381v2M302.5 210v5M302.5 382v1M303.5 214v2M303.5 389v2M304.5 199v6M304.5 219v2M304.5 393v3M305.5 230v2M305.5 366v2M305.5 372v1M306.5 256v2M306.5 376v16M307.5 224v2M307.5 396v1M308.5 237v4M308.5 396v1M309.5 239v2M309.5 390v1M310.5 213v2M310.5 219v2M310.5 248v4M310.5 369v3M310.5 375v3M310.5 386v1M311.5 258v1M311.5 369v2M311.5 376v4M312.5 258v7M312.5 271v1M312.5 351v1M313.5 272v2M313.5 354v8M314.5 389v4M315.5 232v1M315.5 391v1M316.5 261v2M316.5 358v2M316.5 365v4M316.5 373v3M316.5 380v4M317.5 235v3M317.5 246v2M317.5 252v2M317.5 362v1M318.5 243v3M318.5 368v2M319.5 257v1M319.5 369v4M320.5 266v6M320.5 274v1M320.5 327v5M320.5 341v1M320.5 364v2M321.5 280v1M321.5 305v3M321.5 329v1M321.5 346v8M322.5 285v1M322.5 328v1M323.5 224v1M323.5 285v2M323.5 295v2M323.5 328v2M324.5 223v1M324.5 283v1M324.5 333v2M324.5 337v2M324.5 351v2M325.5 364v3M326.5 260v2M326.5 380v3M327.5 261v1M327.5 381v3M328.5 279v1M328.5 349v3M328.5 358v2M328.5 365v5M329.5 275v1M329.5 351v4M329.5 370v6M329.5 382v1M330.5 273v1M330.5 382v1M331.5 277v2M331.5 341v7M331.5 350v1M331.5 376v6M332.5 292v2M332.5 329v2M333.5 281v1M333.5 287v2M333.5 297v1M333.5 321v4M333.5 353v2M333.5 458v1M334.5 281v1M334.5 289v2M334.5 297v1M334.5 362v1M334.5 366v6M334.5 456v3M335.5 271v3M335.5 379v1M335.5 456v3M336.5 294v2M336.5 368v2M337.5 348v1M338.5 280v1M338.5 378v3M339.5 268v2M339.5 380v1M340.5 273v2M340.5 386v1M341.5 284v2M341.5 372v1M341.5 377v1M341.5 419v1M342.5 296v1M342.5 303v2M342.5 314v1M342.5 351v1M342.5 362v4M343.5 301v4M343.5 310v2M343.5 314v1M343.5 333v1M343.5 341v1M343.5 353v1M344.5 299v4M344.5 338v1M344.5 343v1M344.5 355v1M344.5 465v1M345.5 280v1M345.5 289v2M345.5 298v5M345.5 361v1M346.5 281v1M346.5 290v4M346.5 300v1M346.5 359v2M347.5 281v1M347.5 361v2M348.5 367v2M349.5 267v1M349.5 369v1M349.5 462v1M350.5 263v1M350.5 369v2M350.5 462v1M350.5 466v1M351.5 268v1M351.5 307v3M351.5 319v4M351.5 336v4M351.5 343v2M351.5 346v2M351.5 355v1M352.5 282v4M352.5 310v1M352.5 314v1M352.5 320v1M352.5 322v2M352.5 336v1M352.5 352v6M353.5 290v3M353.5 310v5M353.5 318v4M353.5 340v2M353.5 466v1M354.5 283v6M354.5 337v3M355.5 249v2M355.5 270v1M355.5 360v2M356.5 335v1M356.5 343v3M356.5 367v2M357.5 269v1M357.5 329v6M357.5 346v7M357.5 367v1M357.5 465v1M358.5 288v3M358.5 317v1M358.5 332v2M360.5 317v1M360.5 322v1M361.5 271v4M361.5 296v2M361.5 314v2M361.5 342v4M361.5 351v5M361.5 361v3M362.5 282v1M362.5 312v7M362.5 345v2M362.5 354v2M362.5 365v2M363.5 280v5M363.5 297v1M363.5 345v1M363.5 361v1M364.5 273v2M364.5 290v6M364.5 362v2M365.5 269v6M365.5 294v1M365.5 361v1M366.5 300v4M366.5 310v8M366.5 342v2M366.5 350v2M367.5 313v3M367.5 326v2M371.5 328v8M371.5 464v1M372.5 325v2M372.5 339v4M373.5 326v3M373.5 344v1M374.5 462v1M381.5 464v1M382.5 463v1M383.5 323v2M383.5 463v1M384.5 463v1M385.5 309v1M385.5 319v9M385.5 346v3M385.5 350v2M385.5 356v5M385.5 463v1M386.5 306v1M386.5 369v3M387.5 311v1M387.5 345v3M387.5 367v3M387.5 373v3M388.5 346v4M388.5 358v1M389.5 308v7M389.5 369v1M390.5 304v1M391.5 309v2M391.5 381v2M394.5 335v2M394.5 342v2M394.5 350v6M397.5 321v3M397.5 333v1M397.5 358v2M397.5 377v2M398.5 310v3M398.5 390v2M399.5 313v3M399.5 381v1M400.5 319v2M400.5 388v2M400.5 464v1M401.5 322v2M401.5 384v2M401.5 464v1M402.5 325v3M402.5 398v2M402.5 464v1M403.5 327v4M403.5 389v2M403.5 464v1M404.5 366v3M406.5 338v1M406.5 350v1M407.5 333v1M407.5 350v7M407.5 382v2M408.5 315v2M408.5 387v1M409.5 316v1M409.5 321v1M409.5 388v1M410.5 325v2M411.5 316v8M411.5 388v2M412.5 309v2M412.5 397v1M413.5 319v1M413.5 391v1M413.5 463v2M414.5 325v6M414.5 335v1M414.5 378v1M415.5 346v3M415.5 352v2M415.5 463v1M416.5 463v1M417.5 463v1M418.5 463v2M420.5 464v1M436.5 463v1M458.5 463v1M574.5 468v1M575.5 469v1"/>
<path stroke="#23ff00" d="M101.5 224v2M101.5 251v2M101.5 259v2M102.5 237v9M102.5 262v20M102.5 286v5M102.5 296v29M103.5 312v1M103.5 320v1M104.5 312v1M104.5 320v1M105.5 314v5M200.5 312v4M200.5 326v3M201.5 305v3M201.5 318v1M201.5 325v2M203.5 311v1M203.5 315v2M204.5 312v2M204.5 316v1M206.5 314v1M206.5 321v1M207.5 304v6M207.5 327v3M208.5 311v2M208.5 323v2M209.5 303v3M209.5 334v5M209.5 341v2M210.5 294v4M210.5 334v2M210.5 340v1M211.5 298v1M211.5 304v2M211.5 309v5M211.5 320v1M211.5 325v6M212.5 299v1M212.5 304v4M212.5 313v7M212.5 326v6M213.5 300v8M214.5 300v1M214.5 313v2M214.5 317v3M215.5 296v1M215.5 304v1M215.5 310v3M215.5 323v1M216.5 286v1M216.5 333v1M217.5 286v2M217.5 336v7M218.5 295v1M218.5 302v4M218.5 319v1M219.5 297v2M219.5 302v3M219.5 314v1M220.5 283v1M220.5 352v2M220.5 360v1M221.5 289v1M221.5 342v1M221.5 354v2M222.5 326v4M223.5 298v1M223.5 313v1M223.5 318v5M224.5 290v3M224.5 337v1M225.5 286v2M225.5 330v3M225.5 335v2M225.5 367v2M225.5 371v1M226.5 284v1M226.5 330v2M226.5 334v4M226.5 353v1M226.5 366v1M226.5 368v4M227.5 332v3M227.5 340v6M227.5 360v2M228.5 289v2M228.5 347v2M229.5 298v1M229.5 334v1M230.5 291v1M230.5 331v6M230.5 343v1M230.5 365v1M231.5 287v4M231.5 329v1M232.5 308v8M233.5 295v1M233.5 322v2M234.5 285v1M234.5 322v2M234.5 340v8M234.5 350v3M234.5 357v6M235.5 282v1M235.5 340v1M235.5 384v3M236.5 281v1M236.5 336v2M236.5 342v2M236.5 353v15M237.5 285v5M237.5 328v1M238.5 298v1M238.5 310v2M239.5 300v5M239.5 309v2M240.5 294v2M240.5 306v4M241.5 296v1M241.5 311v1M242.5 286v5M242.5 315v1M243.5 287v5M243.5 297v6M243.5 312v4M244.5 295v2M244.5 298v3M244.5 306v8M258.5 267v1M258.5 279v7M258.5 288v2M258.5 346v1M258.5 367v2M259.5 239v1M259.5 245v3M259.5 261v2M259.5 294v2M259.5 299v3M259.5 313v1M259.5 377v1M260.5 266v1M260.5 270v9M260.5 309v1M260.5 335v9M260.5 345v3M260.5 351v3M260.5 355v7M261.5 320v5M262.5 333v1M262.5 336v1M263.5 260v1M263.5 263v3M263.5 270v2M263.5 292v2M263.5 323v1M263.5 328v3M263.5 378v2M264.5 230v2M264.5 287v2M264.5 302v1M264.5 305v2M264.5 383v1M265.5 244v9M265.5 255v2M265.5 264v2M265.5 287v10M265.5 329v1M265.5 375v2M266.5 230v4M266.5 382v2M267.5 233v1M267.5 381v1M267.5 386v4M268.5 235v1M268.5 237v3M268.5 244v8M268.5 311v2M268.5 377v1M269.5 235v5M269.5 381v3M269.5 387v3M269.5 392v4M269.5 400v2M270.5 234v7M270.5 388v15M271.5 241v1M271.5 386v2M272.5 253v1M272.5 279v2M272.5 383v1M273.5 263v1M273.5 269v1M273.5 295v1M273.5 319v1M273.5 333v1M273.5 337v1M274.5 265v1M274.5 272v2M274.5 275v6M274.5 288v1M274.5 356v4M274.5 361v2M275.5 256v2M275.5 381v2M276.5 252v1M276.5 387v3M277.5 259v2M277.5 377v1M278.5 246v9M278.5 258v3M278.5 270v3M278.5 281v7M278.5 362v1M279.5 364v1M279.5 373v2M280.5 377v1M281.5 244v1M281.5 371v2M282.5 233v1M282.5 376v2M283.5 236v3M283.5 386v1M284.5 270v2M284.5 370v2M284.5 374v1M285.5 362v1M286.5 278v2M286.5 367v1M287.5 180v15M287.5 223v1M287.5 267v2M287.5 374v1M288.5 195v1M288.5 268v1M288.5 376v4M289.5 271v3M289.5 276v2M289.5 346v4M289.5 369v1M290.5 273v1M290.5 363v1M291.5 259v2M291.5 380v1M292.5 213v1M293.5 242v1M293.5 252v1M293.5 377v2M294.5 269v1M294.5 359v5M294.5 370v1M295.5 265v1M295.5 367v1M296.5 247v1M296.5 372v1M296.5 379v2M297.5 266v3M297.5 370v1M298.5 271v1M298.5 340v2M298.5 363v1M298.5 368v2M299.5 219v8M299.5 232v7M299.5 245v2M299.5 253v2M299.5 356v1M299.5 360v2M299.5 370v2M300.5 210v2M300.5 252v3M300.5 293v2M300.5 296v2M300.5 377v4M300.5 385v8M301.5 232v2M301.5 379v2M302.5 215v3M302.5 381v1M303.5 216v3M303.5 385v4M304.5 221v3M304.5 375v4M304.5 388v5M305.5 232v2M305.5 242v4M305.5 360v6M306.5 258v1M306.5 375v1M307.5 226v6M307.5 395v1M308.5 241v2M308.5 394v2M309.5 241v2M309.5 248v2M309.5 389v1M310.5 208v5M310.5 221v2M310.5 243v1M310.5 247v1M310.5 252v2M310.5 368v1M310.5 378v8M311.5 259v1M311.5 367v2M311.5 371v5M312.5 272v1M312.5 347v4M313.5 274v2M313.5 352v2M314.5 248v1M314.5 385v4M315.5 233v1M315.5 390v1M316.5 263v9M316.5 356v2M316.5 369v4M316.5 376v4M317.5 238v8M317.5 254v1M317.5 360v2M318.5 246v6M318.5 366v2M319.5 258v1M319.5 367v2M320.5 275v1M320.5 325v2M320.5 342v2M320.5 363v1M321.5 281v1M321.5 304v1M321.5 308v2M321.5 326v3M322.5 286v9M322.5 327v1M323.5 259v1M323.5 287v2M323.5 292v3M323.5 297v1M323.5 325v3M324.5 260v1M324.5 284v1M324.5 331v2M324.5 339v12M325.5 228v2M325.5 258v1M325.5 278v1M325.5 350v7M325.5 360v4M326.5 262v4M326.5 379v1M327.5 262v3M327.5 380v1M328.5 280v2M328.5 348v1M328.5 360v5M329.5 276v1M329.5 349v2M329.5 355v1M329.5 369v1M329.5 376v1M329.5 381v1M330.5 274v1M330.5 381v1M330.5 456v2M331.5 279v9M331.5 339v2M331.5 351v1M331.5 355v6M331.5 374v2M332.5 294v2M332.5 321v5M332.5 328v1M333.5 282v1M333.5 286v1M333.5 298v1M333.5 320v1M333.5 325v1M333.5 340v5M333.5 352v1M333.5 457v1M334.5 282v1M334.5 288v1M334.5 360v2M335.5 274v2M335.5 294v2M335.5 377v2M336.5 296v2M336.5 354v14M336.5 456v2M337.5 293v1M337.5 347v1M338.5 281v2M338.5 376v2M338.5 455v1M339.5 270v1M339.5 379v1M340.5 275v1M340.5 385v1M341.5 286v6M341.5 368v2M341.5 371v1M341.5 378v2M342.5 297v6M342.5 315v1M342.5 350v1M342.5 454v1M343.5 305v5M343.5 315v1M343.5 332v1M343.5 342v1M343.5 352v1M343.5 463v1M344.5 303v3M344.5 337v1M344.5 344v1M344.5 354v1M344.5 463v1M345.5 281v1M345.5 285v4M345.5 303v1M345.5 359v2M345.5 463v1M346.5 282v2M346.5 288v2M346.5 301v2M346.5 358v1M346.5 463v1M347.5 282v2M347.5 359v2M347.5 463v1M347.5 465v1M348.5 269v1M348.5 364v3M348.5 465v1M349.5 368v1M350.5 264v1M350.5 367v2M351.5 269v1M351.5 299v8M351.5 310v2M351.5 318v1M351.5 323v1M351.5 327v1M351.5 334v2M351.5 345v1M351.5 466v1M352.5 286v2M352.5 309v1M352.5 315v1M352.5 319v1M352.5 324v3M352.5 335v1M352.5 466v1M353.5 293v2M353.5 308v2M353.5 315v3M353.5 322v2M353.5 339v1M354.5 289v1M354.5 294v1M354.5 298v15M354.5 321v2M354.5 336v1M355.5 251v1M355.5 266v2M355.5 271v1M355.5 336v5M355.5 343v3M355.5 359v1M356.5 273v1M356.5 329v2M356.5 334v1M356.5 346v2M356.5 364v3M356.5 465v1M357.5 270v1M357.5 299v2M357.5 327v2M357.5 353v2M357.5 365v2M358.5 318v1M358.5 327v5M359.5 464v1M360.5 318v4M361.5 275v1M361.5 294v2M361.5 316v2M361.5 339v3M361.5 346v5M361.5 356v5M362.5 283v11M362.5 310v2M362.5 319v11M362.5 344v1M362.5 356v2M362.5 363v2M363.5 298v1M363.5 327v9M363.5 343v2M363.5 346v10M363.5 360v1M364.5 275v3M364.5 285v5M364.5 296v1M364.5 344v4M364.5 360v2M365.5 275v19M365.5 295v2M365.5 354v7M366.5 304v6M366.5 318v2M366.5 323v5M366.5 341v1M372.5 327v2M372.5 334v5M372.5 463v2M373.5 329v6M373.5 342v2M381.5 463v1M385.5 310v1M385.5 316v3M385.5 328v2M385.5 343v3M385.5 352v4M386.5 307v2M386.5 366v3M387.5 312v2M387.5 344v1M387.5 348v2M387.5 365v2M387.5 370v3M388.5 344v2M388.5 350v2M389.5 315v3M389.5 360v5M389.5 368v1M390.5 305v1M390.5 372v1M391.5 311v6M391.5 379v2M394.5 337v5M397.5 324v3M397.5 331v2M397.5 360v1M397.5 375v2M398.5 313v3M398.5 387v3M399.5 316v3M399.5 325v4M399.5 379v2M400.5 321v8M400.5 385v3M401.5 324v3M401.5 383v1M402.5 328v3M402.5 396v2M403.5 331v1M403.5 387v2M406.5 339v11M407.5 334v1M407.5 348v2M407.5 357v2M407.5 381v1M408.5 317v1M408.5 386v1M408.5 464v1M409.5 322v2M409.5 387v1M409.5 463v1M409.5 465v1M410.5 327v2M410.5 385v1M411.5 324v2M411.5 387v1M412.5 311v3M412.5 395v2M412.5 463v1M413.5 320v1M413.5 390v1M414.5 336v2M414.5 377v1M415.5 349v3M419.5 464v1M575.5 468v1M576.5 468v2"/>
<path stroke="#47ff00" d="M101.5 223v1M101.5 226v4M101.5 249v2M101.5 261v1M101.5 282v7M101.5 301v5M102.5 291v5M103.5 313v1M103.5 319v1M104.5 313v1M104.5 319v1M200.5 316v4M200.5 323v3M201.5 319v1M201.5 321v4M203.5 312v3M204.5 314v2M206.5 315v6M207.5 310v2M207.5 326v1M208.5 313v10M209.5 306v6M209.5 333v1M209.5 339v2M210.5 298v1M210.5 310v2M210.5 333v1M210.5 336v4M211.5 299v1M211.5 302v2M211.5 306v3M211.5 314v2M211.5 318v2M212.5 300v4M214.5 315v2M215.5 297v2M215.5 303v1M215.5 313v2M215.5 322v1M216.5 287v1M216.5 332v1M217.5 288v2M217.5 335v1M218.5 296v2M218.5 301v1M218.5 306v4M218.5 317v2M219.5 299v3M219.5 305v1M219.5 312v2M220.5 284v2M220.5 340v12M221.5 290v1M221.5 340v2M221.5 343v3M221.5 348v6M222.5 295v1M222.5 325v1M223.5 311v2M224.5 293v1M224.5 325v7M224.5 336v1M225.5 288v3M225.5 328v2M225.5 333v2M225.5 369v2M226.5 328v2M226.5 354v12M226.5 367v1M227.5 279v1M227.5 326v6M227.5 335v2M227.5 338v2M227.5 346v6M227.5 355v5M228.5 291v1M228.5 333v14M229.5 331v3M230.5 292v1M230.5 330v1M230.5 344v1M230.5 362v3M231.5 294v1M231.5 328v1M232.5 296v1M232.5 307v1M232.5 316v1M232.5 326v1M233.5 296v2M233.5 319v3M234.5 286v2M234.5 292v1M234.5 320v2M234.5 353v4M235.5 336v4M235.5 341v3M235.5 363v6M235.5 374v10M236.5 282v4M236.5 334v2M236.5 344v9M237.5 290v1M237.5 327v1M238.5 299v1M238.5 305v5M239.5 305v4M240.5 296v1M240.5 304v2M241.5 297v1M241.5 309v2M242.5 291v8M242.5 311v4M243.5 292v5M243.5 303v1M243.5 310v2M244.5 297v1M258.5 268v2M258.5 278v1M258.5 286v2M258.5 347v2M258.5 350v3M258.5 366v1M259.5 240v5M259.5 263v1M259.5 283v11M259.5 314v3M259.5 339v5M259.5 369v8M260.5 267v3M260.5 310v2M260.5 334v1M260.5 348v3M262.5 334v2M263.5 261v2M263.5 272v1M263.5 277v4M263.5 290v2M263.5 324v4M263.5 331v1M263.5 342v6M263.5 350v12M263.5 374v4M264.5 232v1M264.5 286v1M264.5 307v2M264.5 381v2M265.5 253v2M265.5 297v2M265.5 326v3M265.5 330v2M265.5 343v4M265.5 366v5M265.5 373v2M266.5 234v2M266.5 283v2M266.5 379v3M267.5 234v2M267.5 380v1M268.5 236v1M268.5 240v4M268.5 252v5M268.5 310v1M268.5 313v1M268.5 375v2M269.5 240v1M269.5 379v2M269.5 384v3M270.5 241v2M270.5 381v1M270.5 387v1M271.5 242v1M271.5 385v1M272.5 254v4M272.5 276v3M272.5 281v5M272.5 382v1M273.5 264v2M273.5 267v2M273.5 296v1M273.5 318v1M273.5 334v3M274.5 266v6M274.5 289v2M274.5 341v6M274.5 352v4M274.5 360v1M275.5 258v2M275.5 378v3M276.5 253v3M276.5 384v3M277.5 261v1M277.5 374v3M278.5 255v3M278.5 288v2M278.5 361v1M279.5 242v1M279.5 362v2M279.5 365v3M279.5 372v1M280.5 242v1M280.5 376v1M281.5 245v1M281.5 250v6M281.5 370v1M282.5 234v1M282.5 374v2M283.5 239v3M283.5 385v1M284.5 272v2M284.5 369v1M285.5 279v1M286.5 280v2M286.5 366v1M287.5 221v2M287.5 269v2M287.5 373v1M288.5 217v1M288.5 269v1M288.5 375v1M289.5 274v2M289.5 278v2M289.5 345v1M289.5 350v1M289.5 368v1M290.5 274v1M290.5 361v2M291.5 379v1M292.5 214v1M292.5 385v1M293.5 243v2M293.5 249v3M293.5 253v4M293.5 376v1M294.5 270v4M294.5 332v2M294.5 357v2M294.5 364v6M295.5 266v1M295.5 360v1M295.5 366v1M296.5 248v3M296.5 255v3M296.5 370v2M296.5 373v6M297.5 269v1M297.5 347v4M297.5 369v1M298.5 339v1M298.5 364v4M299.5 227v5M299.5 239v6M299.5 255v1M299.5 354v2M299.5 362v8M300.5 212v6M300.5 250v2M300.5 255v2M300.5 292v1M300.5 298v2M300.5 356v2M300.5 374v3M300.5 381v4M301.5 234v2M301.5 378v1M302.5 218v1M302.5 379v2M303.5 219v2M303.5 377v8M304.5 224v1M304.5 374v1M304.5 379v2M304.5 387v1M305.5 234v8M305.5 246v2M305.5 250v3M305.5 358v2M306.5 259v1M306.5 362v1M306.5 373v2M307.5 232v2M307.5 394v1M308.5 243v1M308.5 393v1M309.5 243v1M309.5 247v1M309.5 250v5M309.5 388v1M310.5 223v2M310.5 229v14M310.5 244v3M310.5 254v1M311.5 260v2M311.5 265v4M311.5 366v1M312.5 273v1M312.5 346v1M313.5 276v3M313.5 345v4M313.5 351v1M314.5 249v1M314.5 384v1M315.5 234v3M315.5 238v5M315.5 388v2M316.5 272v2M316.5 355v1M317.5 255v2M317.5 358v2M318.5 252v4M318.5 363v3M319.5 259v2M319.5 365v2M320.5 276v1M320.5 324v1M320.5 344v3M320.5 351v4M320.5 362v1M321.5 282v2M321.5 303v1M321.5 310v1M321.5 316v5M321.5 324v2M322.5 295v1M322.5 326v1M323.5 289v3M323.5 298v1M323.5 313v4M323.5 322v3M324.5 285v2M324.5 322v4M324.5 329v2M325.5 230v1M325.5 279v1M325.5 346v4M325.5 357v3M326.5 266v2M326.5 378v1M327.5 265v2M327.5 379v1M328.5 282v1M328.5 346v2M329.5 277v1M329.5 348v1M329.5 356v1M329.5 368v1M329.5 377v4M330.5 275v1M330.5 341v3M330.5 347v4M330.5 379v2M331.5 288v2M331.5 330v3M331.5 338v1M331.5 352v3M331.5 361v6M331.5 373v1M332.5 296v3M332.5 310v1M332.5 320v1M332.5 326v2M332.5 455v1M333.5 283v3M333.5 299v1M333.5 319v1M333.5 326v1M333.5 338v2M333.5 345v7M333.5 456v1M334.5 283v1M334.5 287v1M334.5 298v1M334.5 358v2M335.5 276v1M335.5 282v4M335.5 292v2M335.5 296v1M335.5 376v1M336.5 298v2M336.5 351v3M337.5 294v1M337.5 346v1M338.5 283v1M338.5 374v2M338.5 456v1M339.5 271v1M339.5 378v1M339.5 457v1M340.5 276v2M340.5 384v1M341.5 292v2M341.5 351v3M341.5 370v1M341.5 405v7M341.5 418v1M342.5 316v1M342.5 337v4M342.5 455v1M343.5 324v4M343.5 331v1M343.5 343v1M343.5 351v1M343.5 454v1M344.5 306v8M344.5 336v1M344.5 345v2M344.5 352v2M344.5 464v1M345.5 282v3M345.5 304v2M345.5 354v1M345.5 356v3M346.5 284v4M346.5 303v2M346.5 357v1M347.5 284v1M347.5 357v2M348.5 270v1M348.5 362v2M348.5 463v2M349.5 268v1M349.5 365v3M350.5 265v1M350.5 356v3M350.5 364v3M351.5 270v3M351.5 280v3M351.5 298v1M351.5 312v6M351.5 324v3M351.5 328v3M351.5 333v1M352.5 288v3M352.5 300v2M352.5 304v5M352.5 316v1M352.5 318v1M352.5 327v2M352.5 333v2M353.5 295v2M353.5 305v3M353.5 324v2M353.5 337v2M354.5 290v4M354.5 295v3M354.5 313v2M354.5 318v3M354.5 323v1M354.5 334v2M355.5 252v1M355.5 263v3M355.5 268v2M355.5 272v1M355.5 335v1M355.5 341v2M355.5 346v2M355.5 357v2M355.5 465v1M356.5 274v1M356.5 328v1M356.5 331v3M356.5 348v1M356.5 362v2M357.5 271v1M357.5 297v2M357.5 301v1M357.5 326v1M357.5 355v1M357.5 363v2M358.5 319v1M358.5 326v1M359.5 463v1M361.5 276v2M361.5 293v1M361.5 318v1M361.5 329v2M361.5 338v1M362.5 294v10M362.5 307v3M362.5 330v1M362.5 343v1M362.5 358v2M362.5 361v2M363.5 299v2M363.5 318v4M363.5 324v3M363.5 336v2M363.5 342v1M363.5 356v4M364.5 278v4M364.5 283v2M364.5 297v1M364.5 343v1M364.5 348v4M364.5 357v3M365.5 297v2M365.5 311v5M365.5 346v8M366.5 320v3M366.5 328v4M366.5 338v3M372.5 329v5M373.5 335v7M373.5 464v1M374.5 464v1M375.5 462v1M378.5 462v1M380.5 464v1M385.5 311v5M385.5 330v13M386.5 309v1M386.5 364v2M387.5 314v4M387.5 343v1M387.5 350v2M387.5 363v2M388.5 331v1M388.5 342v2M388.5 352v1M389.5 318v1M389.5 358v2M389.5 365v3M390.5 306v2M390.5 371v1M391.5 317v2M391.5 377v2M397.5 327v4M397.5 361v4M397.5 374v1M398.5 316v4M398.5 384v3M399.5 319v6M399.5 329v2M399.5 342v4M399.5 378v1M400.5 329v3M400.5 334v7M400.5 383v2M401.5 327v1M401.5 381v2M402.5 331v1M402.5 394v2M403.5 332v1M403.5 350v10M403.5 386v1M407.5 335v2M407.5 344v1M407.5 346v2M407.5 359v7M407.5 380v1M408.5 318v11M408.5 385v1M409.5 324v1M409.5 385v2M410.5 463v1M411.5 326v2M411.5 386v1M411.5 463v1M412.5 314v2M412.5 394v1M412.5 465v1M413.5 321v1M413.5 389v1M414.5 338v4M414.5 376v1"/>
<path stroke="#6bff00" d="M101.5 230v2M101.5 246v3M101.5 262v2M101.5 280v2M101.5 289v3M101.5 297v4M101.5 306v3M103.5 314v1M103.5 318v1M104.5 314v1M104.5 318v1M200.5 320v3M201.5 320v1M207.5 312v3M207.5 324v2M209.5 312v2M209.5 332v1M210.5 299v2M210.5 305v5M210.5 312v2M210.5 332v1M211.5 300v2M211.5 316v2M215.5 299v1M215.5 301v2M215.5 315v7M216.5 288v2M216.5 328v4M217.5 290v3M217.5 334v1M218.5 298v3M218.5 310v7M219.5 306v2M219.5 311v1M220.5 286v2M220.5 336v4M221.5 291v2M221.5 338v2M221.5 346v2M222.5 324v1M223.5 299v1M223.5 309v2M224.5 294v1M224.5 323v2M224.5 332v4M225.5 291v2M225.5 327v1M226.5 285v1M226.5 289v2M226.5 292v2M226.5 327v1M227.5 280v1M227.5 324v2M227.5 337v1M227.5 352v3M228.5 292v2M228.5 327v6M229.5 299v1M229.5 324v1M229.5 330v1M230.5 293v1M230.5 345v17M231.5 295v1M231.5 327v1M232.5 297v1M232.5 306v1M232.5 317v4M232.5 325v1M233.5 298v1M233.5 307v3M233.5 314v5M234.5 288v4M234.5 293v2M234.5 318v2M235.5 283v4M235.5 334v2M235.5 344v4M235.5 359v4M235.5 369v5M236.5 286v3M236.5 333v1M237.5 291v1M237.5 326v1M238.5 300v5M240.5 297v2M240.5 303v1M241.5 298v1M241.5 305v4M242.5 299v1M242.5 309v2M243.5 304v6M258.5 270v1M258.5 277v1M258.5 349v1M258.5 353v4M258.5 365v1M259.5 264v1M259.5 280v3M259.5 317v2M259.5 334v5M259.5 344v1M259.5 368v1M260.5 312v5M260.5 332v2M263.5 273v4M263.5 281v9M263.5 332v1M263.5 340v2M263.5 348v2M263.5 362v2M263.5 371v3M264.5 233v2M264.5 284v2M264.5 309v2M264.5 317v2M264.5 345v1M264.5 380v1M265.5 299v1M265.5 310v6M265.5 324v2M265.5 332v4M265.5 342v1M265.5 347v1M265.5 353v3M265.5 361v5M265.5 371v2M266.5 236v2M266.5 246v2M266.5 276v7M266.5 285v2M266.5 376v3M267.5 236v2M267.5 243v5M267.5 375v5M268.5 257v2M268.5 309v1M268.5 314v1M268.5 329v4M268.5 371v4M269.5 241v5M269.5 378v1M270.5 243v1M270.5 379v2M270.5 382v5M271.5 243v1M271.5 384v1M272.5 258v2M272.5 274v2M272.5 286v1M272.5 380v2M273.5 266v1M273.5 297v1M273.5 303v2M273.5 310v8M274.5 291v4M274.5 338v3M274.5 347v5M275.5 260v1M275.5 376v2M276.5 256v1M276.5 383v1M277.5 262v2M277.5 373v1M278.5 290v1M279.5 360v2M279.5 368v4M280.5 375v1M281.5 248v2M281.5 256v1M281.5 263v2M281.5 369v1M282.5 235v2M282.5 368v3M282.5 372v2M283.5 242v2M283.5 384v1M284.5 274v2M284.5 364v2M284.5 368v1M285.5 280v2M285.5 361v1M286.5 282v1M286.5 365v1M287.5 218v3M287.5 271v1M288.5 374v1M289.5 280v1M289.5 343v2M289.5 367v1M290.5 275v2M290.5 360v1M291.5 261v1M291.5 378v1M292.5 215v1M292.5 384v1M293.5 245v4M293.5 257v2M293.5 373v3M294.5 274v2M294.5 331v1M294.5 334v1M294.5 355v2M295.5 358v2M295.5 361v5M296.5 251v4M296.5 258v2M296.5 369v1M297.5 270v1M297.5 344v3M297.5 351v2M297.5 368v1M298.5 272v1M298.5 334v5M299.5 256v7M299.5 352v2M300.5 218v2M300.5 247v3M300.5 257v2M300.5 291v1M300.5 300v2M300.5 354v2M300.5 358v1M300.5 372v2M301.5 236v2M301.5 377v1M302.5 219v2M302.5 228v1M302.5 377v2M303.5 221v1M303.5 376v1M304.5 225v2M304.5 372v2M304.5 381v6M305.5 248v2M305.5 253v2M305.5 357v1M306.5 260v1M306.5 360v2M306.5 363v2M306.5 370v3M307.5 234v10M307.5 393v1M308.5 244v2M308.5 391v2M309.5 244v3M309.5 255v2M309.5 387v1M310.5 225v4M310.5 255v1M310.5 367v1M311.5 262v3M311.5 269v2M311.5 365v1M312.5 274v1M312.5 338v5M312.5 344v2M313.5 279v1M313.5 341v4M313.5 349v2M314.5 250v15M314.5 378v3M314.5 382v2M315.5 237v1M315.5 243v15M315.5 387v1M316.5 274v4M316.5 349v1M316.5 352v3M317.5 257v2M317.5 356v2M318.5 256v2M318.5 357v2M318.5 362v1M319.5 261v1M319.5 280v1M319.5 327v6M319.5 364v1M320.5 277v1M320.5 316v4M320.5 322v2M320.5 347v4M320.5 355v2M320.5 360v2M321.5 284v1M321.5 300v3M321.5 311v5M321.5 321v3M322.5 316v3M322.5 325v1M323.5 225v1M323.5 258v1M323.5 299v2M323.5 312v1M323.5 317v5M324.5 224v1M324.5 287v2M324.5 320v2M324.5 326v3M325.5 231v2M325.5 343v3M326.5 268v1M326.5 377v1M327.5 267v2M327.5 378v1M328.5 283v3M328.5 288v2M328.5 330v6M328.5 345v1M329.5 278v2M329.5 344v1M329.5 346v2M329.5 357v2M329.5 366v2M330.5 276v1M330.5 339v2M330.5 344v3M330.5 351v4M330.5 372v7M331.5 290v1M331.5 328v2M331.5 333v5M331.5 367v6M331.5 456v2M332.5 299v2M332.5 307v3M332.5 311v5M332.5 318v2M332.5 456v2M333.5 300v1M333.5 318v1M333.5 327v11M334.5 284v3M334.5 299v1M334.5 356v2M334.5 455v1M335.5 277v5M335.5 286v6M335.5 297v1M335.5 374v2M335.5 455v1M336.5 300v1M336.5 341v3M336.5 348v3M336.5 455v1M337.5 295v2M337.5 343v3M337.5 455v2M338.5 284v3M338.5 348v5M338.5 363v11M339.5 272v3M339.5 377v1M340.5 278v1M340.5 375v4M340.5 382v2M341.5 294v1M341.5 347v4M341.5 354v1M341.5 367v1M341.5 380v1M341.5 402v3M341.5 412v2M342.5 336v1M342.5 341v2M342.5 349v1M343.5 316v1M343.5 322v2M343.5 328v3M343.5 344v1M344.5 314v1M344.5 335v1M344.5 347v1M344.5 351v1M344.5 456v1M345.5 306v1M345.5 342v4M345.5 352v2M345.5 355v1M345.5 465v1M346.5 305v1M346.5 354v3M346.5 465v1M347.5 285v2M347.5 356v1M347.5 456v1M347.5 464v1M348.5 271v7M348.5 361v1M348.5 454v1M349.5 362v3M349.5 463v3M350.5 266v1M350.5 309v3M350.5 335v1M350.5 349v7M350.5 359v5M350.5 463v1M351.5 273v7M351.5 283v3M351.5 296v2M351.5 331v2M352.5 291v9M352.5 302v2M352.5 317v1M352.5 329v4M352.5 463v1M353.5 297v1M353.5 303v2M353.5 326v1M353.5 335v2M353.5 463v1M354.5 315v3M354.5 324v1M354.5 333v1M355.5 253v3M355.5 260v3M355.5 273v1M355.5 334v1M355.5 348v2M355.5 354v3M356.5 275v1M356.5 327v1M356.5 349v4M356.5 361v1M357.5 272v1M357.5 296v1M357.5 302v1M357.5 325v1M357.5 356v2M357.5 360v3M358.5 320v2M358.5 324v2M358.5 464v1M361.5 278v8M361.5 292v1M361.5 319v10M361.5 331v2M361.5 337v1M362.5 304v3M362.5 331v1M362.5 342v1M362.5 360v1M363.5 301v2M363.5 314v4M363.5 322v2M363.5 338v4M364.5 282v1M364.5 298v1M364.5 342v1M364.5 352v5M365.5 299v12M365.5 316v2M365.5 324v2M365.5 344v2M366.5 332v6M373.5 463v1M375.5 464v1M376.5 462v1M377.5 462v1M386.5 310v1M386.5 317v3M386.5 321v6M386.5 360v4M387.5 318v13M387.5 342v1M387.5 352v1M387.5 359v4M388.5 341v1M388.5 353v1M388.5 357v1M389.5 319v2M389.5 357v1M390.5 308v8M390.5 370v1M391.5 319v16M391.5 369v8M397.5 365v5M397.5 373v1M398.5 320v8M398.5 341v6M398.5 351v3M398.5 381v3M399.5 331v4M399.5 337v5M399.5 346v2M399.5 376v2M400.5 332v2M400.5 341v6M400.5 373v6M400.5 380v3M401.5 328v2M401.5 379v2M402.5 332v1M402.5 392v2M403.5 333v1M403.5 344v6M403.5 360v3M403.5 384v2M407.5 337v7M407.5 345v1M407.5 366v3M407.5 378v2M408.5 329v1M408.5 383v2M409.5 325v1M409.5 384v1M410.5 465v1M411.5 328v2M411.5 385v1M411.5 465v1M412.5 316v2M412.5 393v1M412.5 464v1M413.5 322v1M413.5 388v1M414.5 342v1M414.5 374v2"/>
<path stroke="#90ff00" d="M101.5 232v3M101.5 242v4M101.5 264v1M101.5 278v2M101.5 292v5M101.5 309v4M101.5 327v1M103.5 315v3M104.5 315v3M207.5 315v2M207.5 319v5M209.5 314v4M209.5 323v1M209.5 327v5M210.5 301v4M210.5 314v1M210.5 331v1M215.5 300v1M216.5 290v6M216.5 327v1M217.5 293v2M217.5 302v5M217.5 332v2M219.5 308v3M220.5 288v1M220.5 326v10M221.5 293v1M221.5 336v2M222.5 296v1M222.5 308v10M222.5 323v1M223.5 300v2M223.5 306v3M224.5 295v1M224.5 316v7M225.5 293v1M225.5 325v2M226.5 286v3M226.5 291v1M226.5 294v1M226.5 325v2M227.5 281v1M227.5 323v1M228.5 294v3M228.5 324v3M229.5 322v2M229.5 325v5M230.5 294v1M230.5 329v1M232.5 298v2M232.5 301v2M232.5 305v1M232.5 321v4M233.5 299v1M233.5 303v4M233.5 310v4M234.5 295v1M234.5 317v1M235.5 287v3M235.5 332v2M235.5 348v3M235.5 357v2M236.5 289v2M236.5 332v1M237.5 292v1M237.5 325v1M240.5 299v1M240.5 301v2M241.5 304v1M242.5 300v2M242.5 308v1M258.5 271v2M258.5 275v2M258.5 357v2M258.5 363v2M259.5 265v1M259.5 278v2M259.5 319v2M259.5 324v10M259.5 345v1M259.5 351v11M259.5 367v1M260.5 317v1M260.5 326v6M263.5 333v2M263.5 337v3M263.5 364v7M264.5 235v3M264.5 265v6M264.5 276v8M264.5 311v6M264.5 319v11M264.5 343v2M264.5 346v3M264.5 378v2M265.5 300v2M265.5 309v1M265.5 316v8M265.5 336v6M265.5 348v1M265.5 352v1M265.5 356v5M266.5 238v2M266.5 244v2M266.5 248v2M266.5 275v1M266.5 287v3M266.5 334v14M266.5 362v4M266.5 373v3M267.5 238v5M267.5 248v2M267.5 372v3M268.5 259v11M268.5 289v5M268.5 303v6M268.5 315v1M268.5 327v2M268.5 333v2M268.5 369v2M269.5 246v2M269.5 254v3M269.5 368v6M269.5 377v1M270.5 244v1M270.5 377v2M271.5 244v1M271.5 382v2M272.5 260v1M272.5 273v1M272.5 287v1M272.5 343v3M272.5 377v3M273.5 298v5M273.5 305v5M274.5 295v2M274.5 302v5M274.5 336v2M275.5 261v1M275.5 375v1M276.5 257v2M276.5 381v2M277.5 264v1M277.5 371v2M278.5 291v1M278.5 360v1M279.5 348v3M279.5 359v1M280.5 374v1M281.5 246v2M281.5 257v2M281.5 260v3M281.5 265v5M281.5 368v1M282.5 237v7M282.5 366v2M282.5 371v1M283.5 244v5M283.5 253v2M283.5 383v1M284.5 276v1M284.5 362v2M284.5 366v2M285.5 282v2M285.5 360v1M286.5 364v1M287.5 195v1M287.5 272v5M287.5 372v1M288.5 270v1M288.5 372v2M289.5 342v1M289.5 351v2M289.5 366v1M290.5 277v2M290.5 359v1M291.5 262v1M291.5 359v9M291.5 376v2M292.5 216v1M292.5 229v3M292.5 382v2M293.5 259v2M293.5 362v11M294.5 276v1M294.5 330v1M294.5 335v2M294.5 354v1M295.5 267v1M295.5 350v3M295.5 357v1M296.5 260v7M297.5 271v2M297.5 322v3M297.5 342v2M297.5 353v1M297.5 367v1M298.5 273v1M298.5 332v2M299.5 263v2M299.5 351v1M300.5 220v1M300.5 245v2M300.5 259v2M300.5 289v2M300.5 302v2M300.5 351v3M300.5 359v1M300.5 369v3M301.5 238v2M301.5 375v2M302.5 221v7M302.5 229v2M302.5 376v1M303.5 222v7M303.5 375v1M304.5 227v1M304.5 370v2M305.5 255v1M305.5 355v2M306.5 261v2M306.5 358v2M306.5 365v5M307.5 244v1M307.5 392v1M308.5 246v2M308.5 389v2M309.5 257v1M309.5 372v3M309.5 386v1M310.5 366v1M311.5 271v1M311.5 347v3M311.5 363v2M312.5 275v2M312.5 337v1M312.5 343v1M313.5 338v3M314.5 265v3M314.5 376v2M314.5 381v1M315.5 258v1M315.5 384v3M316.5 278v3M316.5 321v2M316.5 346v3M316.5 350v2M317.5 259v2M317.5 353v3M318.5 258v1M318.5 328v5M318.5 356v1M318.5 359v3M319.5 262v1M319.5 269v2M319.5 274v6M319.5 281v2M319.5 313v3M319.5 321v6M319.5 333v2M319.5 351v9M319.5 362v2M320.5 278v1M320.5 310v6M320.5 320v2M320.5 357v3M321.5 285v1M321.5 298v2M322.5 296v1M322.5 314v2M322.5 319v2M322.5 323v2M323.5 301v5M323.5 311v1M324.5 259v1M324.5 289v2M324.5 294v4M324.5 307v3M324.5 318v2M325.5 233v1M325.5 257v1M325.5 280v1M325.5 335v8M326.5 269v2M326.5 376v1M327.5 269v1M328.5 286v2M328.5 290v2M328.5 326v4M328.5 336v2M328.5 343v2M329.5 280v6M329.5 290v3M329.5 339v5M329.5 345v1M329.5 359v1M329.5 365v1M330.5 277v1M330.5 338v1M330.5 355v2M330.5 369v3M331.5 291v2M331.5 327v1M332.5 301v2M332.5 305v2M332.5 316v2M333.5 301v17M333.5 455v1M334.5 304v3M334.5 322v3M334.5 353v3M335.5 298v1M335.5 373v1M336.5 301v13M336.5 340v1M336.5 344v4M337.5 297v2M337.5 302v4M337.5 342v1M337.5 457v1M338.5 287v3M338.5 346v2M338.5 353v2M338.5 361v2M338.5 457v1M339.5 275v2M339.5 376v1M340.5 279v2M340.5 372v3M340.5 379v3M341.5 295v1M341.5 345v2M341.5 355v1M341.5 381v1M341.5 400v2M341.5 414v1M341.5 417v1M342.5 317v1M342.5 335v1M342.5 343v2M342.5 347v2M343.5 317v1M343.5 321v1M343.5 345v1M343.5 350v1M344.5 315v1M344.5 334v1M344.5 348v3M344.5 454v1M345.5 307v2M345.5 340v2M345.5 346v6M345.5 464v1M346.5 306v2M346.5 347v7M346.5 464v1M347.5 287v6M347.5 347v2M347.5 355v1M348.5 278v2M348.5 358v3M348.5 455v1M349.5 269v1M349.5 359v3M350.5 267v1M350.5 307v2M350.5 312v2M350.5 328v2M350.5 333v2M350.5 336v3M350.5 347v2M351.5 286v1M351.5 295v1M351.5 463v1M353.5 298v5M353.5 327v1M353.5 334v1M354.5 325v2M354.5 332v1M354.5 463v1M354.5 465v1M355.5 256v4M355.5 274v2M355.5 333v1M355.5 350v4M355.5 463v1M356.5 276v1M356.5 325v2M356.5 353v3M356.5 360v1M356.5 463v2M357.5 273v1M357.5 278v4M357.5 292v4M357.5 303v2M357.5 323v2M357.5 358v2M357.5 463v2M358.5 322v2M358.5 463v1M361.5 286v6M361.5 333v4M362.5 332v2M362.5 340v2M363.5 303v11M364.5 299v1M364.5 333v9M365.5 318v6M365.5 326v3M365.5 343v1M376.5 464v1M379.5 464v1M380.5 463v1M386.5 311v1M386.5 314v3M386.5 320v1M386.5 327v2M386.5 355v5M387.5 331v1M387.5 341v1M387.5 353v6M388.5 339v2M388.5 354v2M389.5 321v11M390.5 316v2M390.5 369v1M391.5 335v5M391.5 367v2M397.5 370v3M398.5 328v2M398.5 331v10M398.5 347v4M398.5 354v2M398.5 378v3M399.5 335v2M399.5 348v5M399.5 373v3M400.5 347v16M400.5 371v2M400.5 379v1M401.5 330v8M401.5 347v2M401.5 373v6M402.5 333v1M402.5 388v4M403.5 334v5M403.5 341v3M403.5 363v3M403.5 374v5M403.5 383v1M407.5 369v2M407.5 376v2M408.5 330v1M408.5 381v2M409.5 326v3M409.5 464v1M410.5 329v1M410.5 384v1M411.5 330v1M411.5 384v1M412.5 318v1M412.5 391v2M413.5 387v1M414.5 343v1M414.5 355v3M414.5 365v9"/>
<path stroke="#b4ff00" d="M101.5 235v7M101.5 265v2M101.5 276v2M101.5 313v7M101.5 324v3M207.5 317v2M209.5 318v5M209.5 324v3M210.5 315v1M210.5 330v1M216.5 296v3M216.5 326v1M217.5 295v2M217.5 301v1M217.5 307v5M217.5 326v6M220.5 289v4M220.5 323v3M221.5 294v1M221.5 334v2M222.5 297v1M222.5 306v2M222.5 318v2M222.5 322v1M223.5 302v4M224.5 296v1M224.5 313v3M225.5 294v2M225.5 323v2M226.5 295v1M226.5 323v2M227.5 282v1M227.5 321v2M228.5 297v3M228.5 302v3M228.5 321v3M229.5 300v2M229.5 320v2M230.5 328v1M231.5 296v1M231.5 326v1M232.5 300v1M232.5 303v2M233.5 300v3M234.5 306v3M234.5 315v2M235.5 290v3M235.5 331v1M235.5 351v3M235.5 355v2M236.5 291v1M236.5 331v1M237.5 293v1M237.5 324v1M240.5 300v1M241.5 299v1M241.5 302v2M242.5 302v1M242.5 307v1M258.5 273v2M258.5 359v4M259.5 266v1M259.5 276v2M259.5 321v3M259.5 346v5M259.5 362v2M259.5 366v1M260.5 318v2M260.5 324v2M263.5 335v2M264.5 238v3M264.5 254v6M264.5 264v1M264.5 271v5M264.5 330v2M264.5 342v1M264.5 349v7M264.5 374v4M265.5 302v7M265.5 349v3M266.5 240v4M266.5 250v1M266.5 274v1M266.5 290v4M266.5 310v5M266.5 330v4M266.5 348v1M266.5 360v2M266.5 366v7M267.5 250v1M267.5 280v5M267.5 294v3M267.5 302v3M267.5 308v3M267.5 371v1M268.5 270v2M268.5 278v8M268.5 287v2M268.5 294v9M268.5 316v1M268.5 325v2M268.5 335v2M268.5 340v1M268.5 355v4M268.5 368v1M269.5 248v6M269.5 257v7M269.5 281v4M269.5 305v4M269.5 366v2M269.5 374v3M270.5 245v1M270.5 376v1M271.5 245v1M271.5 380v2M272.5 261v1M272.5 270v3M272.5 288v1M272.5 341v2M272.5 346v1M272.5 373v4M274.5 297v1M274.5 301v1M274.5 307v5M274.5 332v4M275.5 262v1M275.5 373v2M276.5 259v1M276.5 379v2M277.5 265v1M277.5 276v4M277.5 370v1M278.5 292v1M278.5 358v2M279.5 243v1M279.5 300v4M279.5 346v2M279.5 351v2M279.5 358v1M280.5 243v1M280.5 363v8M280.5 373v1M281.5 259v1M281.5 270v2M282.5 244v2M282.5 364v2M283.5 249v4M283.5 255v3M283.5 382v1M284.5 277v1M284.5 361v1M285.5 284v2M286.5 283v1M286.5 363v1M287.5 277v2M287.5 369v3M288.5 196v1M288.5 271v1M288.5 346v3M288.5 369v3M289.5 281v1M289.5 341v1M289.5 353v3M289.5 365v1M290.5 279v2M290.5 358v1M291.5 357v2M291.5 368v1M291.5 374v2M292.5 217v1M292.5 228v1M292.5 232v1M292.5 238v4M292.5 379v3M293.5 261v1M293.5 361v1M294.5 277v1M294.5 328v2M294.5 337v1M294.5 352v2M295.5 268v1M295.5 349v1M295.5 353v4M296.5 267v1M296.5 368v1M297.5 273v5M297.5 321v1M297.5 325v1M297.5 331v3M297.5 341v1M297.5 354v1M297.5 366v1M298.5 274v9M298.5 325v2M298.5 331v1M299.5 265v3M299.5 289v2M299.5 341v10M300.5 235v2M300.5 243v2M300.5 261v1M300.5 286v3M300.5 304v1M300.5 349v2M300.5 360v9M301.5 240v2M301.5 252v5M301.5 343v4M301.5 349v4M301.5 373v2M302.5 231v1M302.5 374v2M303.5 229v2M303.5 347v2M303.5 374v1M304.5 228v3M304.5 238v7M304.5 369v1M305.5 256v1M305.5 353v2M306.5 263v2M306.5 356v2M307.5 245v2M307.5 391v1M308.5 248v1M308.5 388v1M309.5 258v1M309.5 370v2M309.5 375v11M310.5 256v1M311.5 272v1M311.5 336v5M311.5 344v3M311.5 350v3M311.5 362v1M312.5 277v1M312.5 335v2M313.5 280v1M313.5 336v2M314.5 268v2M314.5 358v6M314.5 366v10M315.5 259v2M315.5 359v3M315.5 383v1M316.5 281v3M316.5 320v1M316.5 323v1M316.5 345v1M317.5 261v2M317.5 340v13M318.5 259v3M318.5 317v6M318.5 326v2M318.5 333v2M318.5 337v2M318.5 351v5M319.5 263v2M319.5 266v3M319.5 271v3M319.5 311v2M319.5 316v2M319.5 319v2M319.5 335v6M319.5 346v5M319.5 360v2M320.5 279v1M320.5 305v2M320.5 309v1M321.5 286v2M321.5 292v6M322.5 297v1M322.5 301v7M322.5 313v1M322.5 321v2M323.5 247v4M323.5 257v1M323.5 306v5M324.5 291v3M324.5 298v2M324.5 305v2M324.5 310v8M325.5 234v1M325.5 281v1M325.5 322v4M325.5 331v4M326.5 271v3M326.5 375v1M327.5 270v1M327.5 348v6M327.5 377v1M328.5 292v2M328.5 323v3M328.5 338v5M329.5 286v4M329.5 293v5M329.5 337v2M329.5 360v1M329.5 363v2M330.5 278v1M330.5 357v2M330.5 367v2M331.5 293v1M331.5 299v5M331.5 305v9M331.5 326v1M332.5 303v2M334.5 300v4M334.5 307v4M334.5 321v1M334.5 325v1M334.5 339v6M334.5 352v1M335.5 299v1M335.5 304v2M335.5 340v3M335.5 367v6M336.5 314v2M336.5 339v1M337.5 299v3M337.5 306v1M337.5 340v2M338.5 290v1M338.5 345v1M338.5 355v1M338.5 359v2M339.5 277v2M339.5 375v1M340.5 281v2M340.5 370v2M341.5 296v1M341.5 305v3M341.5 344v1M341.5 356v1M341.5 366v1M341.5 382v1M341.5 399v1M341.5 415v1M342.5 345v2M343.5 318v3M343.5 346v1M343.5 349v1M343.5 455v1M344.5 324v5M344.5 333v1M345.5 309v3M345.5 338v2M345.5 456v1M346.5 308v5M346.5 338v1M346.5 344v3M346.5 456v1M347.5 293v2M347.5 345v2M347.5 349v6M348.5 280v1M348.5 356v2M349.5 270v1M349.5 356v3M350.5 268v1M350.5 304v3M350.5 314v2M350.5 319v5M350.5 326v2M350.5 330v3M350.5 339v8M350.5 464v1M351.5 287v8M353.5 328v6M354.5 327v1M354.5 331v1M355.5 276v2M355.5 309v7M355.5 332v1M355.5 464v1M356.5 277v3M356.5 313v2M356.5 322v3M356.5 356v4M357.5 274v4M357.5 282v2M357.5 289v3M357.5 305v2M357.5 312v5M357.5 321v2M362.5 334v1M362.5 339v1M364.5 300v4M364.5 311v5M364.5 321v12M365.5 329v8M365.5 342v1M374.5 463v1M377.5 464v1M378.5 464v1M386.5 312v2M386.5 329v2M386.5 350v5M387.5 332v2M387.5 337v4M388.5 332v7M388.5 356v1M389.5 345v9M390.5 318v2M390.5 365v4M391.5 340v2M391.5 348v3M391.5 357v10M398.5 330v1M398.5 356v22M399.5 353v14M399.5 369v4M400.5 363v8M401.5 338v3M401.5 343v4M401.5 349v6M401.5 361v5M401.5 372v1M402.5 334v5M402.5 345v7M402.5 385v3M403.5 339v2M403.5 366v2M403.5 372v2M403.5 379v4M407.5 371v1M407.5 375v1M408.5 331v1M408.5 379v2M409.5 329v2M409.5 383v1M411.5 331v1M411.5 383v1M412.5 319v1M412.5 390v1M413.5 323v1M413.5 386v1M414.5 344v2M414.5 354v1M414.5 358v1M414.5 363v2"/>
<path stroke="#d8ff00" d="M101.5 267v3M101.5 274v2M101.5 320v4M210.5 316v2M210.5 324v6M216.5 299v8M216.5 325v1M217.5 297v4M217.5 312v2M217.5 321v5M220.5 293v2M220.5 318v5M221.5 295v1M221.5 329v5M222.5 298v1M222.5 304v2M222.5 320v2M224.5 297v1M224.5 308v5M225.5 296v1M225.5 320v3M226.5 296v1M226.5 322v1M227.5 283v1M227.5 320v1M228.5 300v2M228.5 305v2M228.5 319v2M229.5 302v1M229.5 318v2M230.5 295v1M230.5 327v1M234.5 296v1M234.5 305v1M234.5 309v1M234.5 314v1M235.5 293v1M235.5 330v1M235.5 354v1M236.5 329v2M237.5 294v2M237.5 318v3M237.5 322v2M241.5 300v2M242.5 303v4M259.5 267v3M259.5 273v3M259.5 364v2M260.5 320v4M264.5 241v3M264.5 249v5M264.5 260v4M264.5 332v1M264.5 341v1M264.5 356v1M264.5 362v12M266.5 251v1M266.5 256v3M266.5 273v1M266.5 294v3M266.5 302v8M266.5 315v4M266.5 328v2M266.5 349v4M266.5 359v1M267.5 251v1M267.5 279v1M267.5 285v2M267.5 290v4M267.5 297v5M267.5 305v3M267.5 311v8M267.5 321v5M267.5 329v5M267.5 370v1M268.5 272v3M268.5 276v2M268.5 286v1M268.5 317v1M268.5 323v2M268.5 337v3M268.5 341v2M268.5 354v1M268.5 359v2M268.5 366v2M269.5 264v2M269.5 279v2M269.5 285v1M269.5 292v3M269.5 303v2M269.5 309v4M269.5 330v4M269.5 365v1M270.5 246v1M270.5 279v7M270.5 374v2M271.5 246v1M271.5 280v3M271.5 285v1M271.5 378v2M272.5 262v1M272.5 269v1M272.5 289v1M272.5 340v1M272.5 347v1M272.5 356v4M272.5 362v11M274.5 298v3M274.5 312v2M274.5 330v2M275.5 263v1M275.5 371v2M276.5 260v1M276.5 374v5M277.5 266v2M277.5 275v1M277.5 280v8M277.5 364v6M278.5 293v1M278.5 311v1M278.5 357v1M279.5 297v3M279.5 304v2M279.5 345v1M279.5 353v5M280.5 362v1M280.5 371v2M281.5 272v6M281.5 359v4M281.5 367v1M282.5 246v3M282.5 362v2M283.5 258v5M283.5 380v2M284.5 278v2M284.5 283v2M284.5 360v1M285.5 286v8M285.5 352v8M286.5 284v1M286.5 362v1M287.5 217v1M287.5 279v1M287.5 367v2M288.5 216v1M288.5 272v1M288.5 307v4M288.5 345v1M288.5 349v2M288.5 367v2M289.5 282v1M289.5 296v1M289.5 340v1M289.5 356v1M289.5 364v1M290.5 356v2M291.5 263v1M291.5 269v1M291.5 356v1M291.5 369v1M291.5 373v1M292.5 218v7M292.5 226v2M292.5 233v2M292.5 237v1M292.5 242v3M292.5 378v1M293.5 262v3M293.5 360v1M294.5 326v2M294.5 338v5M294.5 351v1M295.5 269v1M295.5 272v6M295.5 332v4M295.5 348v1M296.5 268v2M296.5 274v5M296.5 367v1M297.5 278v2M297.5 294v1M297.5 326v2M297.5 329v2M297.5 334v1M297.5 340v1M297.5 355v11M298.5 283v1M298.5 290v2M298.5 324v1M298.5 327v4M299.5 268v4M299.5 287v2M299.5 291v8M299.5 339v2M300.5 221v2M300.5 232v3M300.5 237v6M300.5 262v1M300.5 282v4M300.5 305v2M300.5 348v1M301.5 242v6M301.5 250v2M301.5 257v1M301.5 342v1M301.5 347v2M301.5 353v1M301.5 368v5M302.5 232v2M302.5 373v1M303.5 231v2M303.5 346v1M303.5 349v1M303.5 373v1M304.5 231v2M304.5 236v2M304.5 245v2M304.5 368v1M305.5 257v1M305.5 351v2M306.5 265v2M306.5 354v2M307.5 247v4M307.5 389v2M308.5 249v2M308.5 252v3M308.5 369v2M308.5 386v2M309.5 259v2M309.5 369v1M310.5 257v1M310.5 365v1M311.5 334v2M311.5 341v3M311.5 353v3M311.5 360v2M312.5 331v4M313.5 335v1M314.5 270v3M314.5 357v1M314.5 364v2M315.5 261v1M315.5 351v1M315.5 357v2M315.5 362v2M315.5 381v2M316.5 284v2M316.5 319v1M316.5 324v1M316.5 343v2M317.5 263v1M317.5 338v2M318.5 262v2M318.5 315v2M318.5 323v3M318.5 335v2M318.5 339v2M318.5 350v1M319.5 265v1M319.5 283v1M319.5 309v2M319.5 318v1M319.5 341v5M320.5 280v3M320.5 303v2M320.5 307v2M321.5 288v4M322.5 298v3M322.5 308v5M323.5 226v1M323.5 243v4M323.5 251v4M324.5 225v1M324.5 300v5M325.5 235v1M325.5 282v1M325.5 320v2M325.5 326v5M326.5 274v2M326.5 367v4M326.5 374v1M327.5 271v3M327.5 346v2M327.5 354v4M327.5 376v1M328.5 294v2M328.5 321v2M329.5 298v1M329.5 333v4M329.5 361v2M330.5 279v1M330.5 286v4M330.5 299v3M330.5 337v1M330.5 359v8M331.5 294v5M331.5 304v1M331.5 314v2M331.5 325v1M334.5 311v3M334.5 317v4M334.5 326v1M334.5 336v3M334.5 345v2M334.5 350v2M335.5 300v4M335.5 306v3M335.5 339v1M335.5 343v2M335.5 362v5M336.5 316v1M337.5 307v7M337.5 322v3M337.5 339v1M338.5 291v1M338.5 344v1M338.5 356v3M339.5 279v3M339.5 373v2M340.5 283v2M340.5 369v1M341.5 297v8M341.5 308v1M341.5 343v1M341.5 357v1M341.5 365v1M341.5 383v1M341.5 397v2M341.5 416v1M342.5 318v1M342.5 334v1M343.5 347v2M344.5 316v1M344.5 323v1M344.5 329v1M344.5 332v1M345.5 312v2M345.5 337v1M345.5 454v1M346.5 313v1M346.5 325v3M346.5 336v2M346.5 339v5M347.5 295v2M347.5 344v1M347.5 454v1M348.5 281v2M348.5 288v3M348.5 348v3M348.5 354v2M349.5 271v4M349.5 354v2M350.5 269v1M350.5 303v1M350.5 316v3M350.5 324v2M350.5 465v1M354.5 328v3M355.5 278v1M355.5 284v2M355.5 294v3M355.5 300v9M355.5 316v4M355.5 331v1M356.5 280v1M356.5 296v5M356.5 307v6M356.5 315v7M357.5 284v5M357.5 307v5M357.5 317v4M362.5 335v4M364.5 304v7M364.5 316v5M365.5 337v5M386.5 331v2M386.5 345v5M387.5 334v3M389.5 343v2M389.5 354v3M390.5 320v4M390.5 362v3M391.5 342v1M391.5 346v2M391.5 351v6M399.5 367v2M401.5 341v2M401.5 355v6M401.5 366v1M401.5 370v2M402.5 339v6M402.5 352v9M402.5 384v1M403.5 368v4M407.5 372v3M408.5 332v1M408.5 378v1M410.5 464v1M411.5 332v2M411.5 382v1M411.5 464v1M412.5 320v2M412.5 389v1M413.5 324v1M413.5 384v2M414.5 346v3M414.5 353v1M414.5 359v4"/>
<path stroke="#fcff00" d="M101.5 270v4M210.5 318v6M216.5 307v1M217.5 314v7M220.5 295v1M220.5 317v1M221.5 327v2M222.5 299v5M224.5 298v1M224.5 306v2M225.5 297v1M225.5 316v4M226.5 297v1M226.5 320v2M227.5 284v1M227.5 305v2M227.5 318v2M228.5 307v3M228.5 317v2M229.5 303v1M229.5 317v1M230.5 296v1M230.5 326v1M231.5 297v1M231.5 325v1M234.5 297v1M234.5 304v1M234.5 310v4M235.5 294v1M235.5 329v1M236.5 292v1M236.5 328v1M237.5 296v2M237.5 314v4M237.5 321v1M259.5 270v3M264.5 244v5M264.5 333v4M264.5 340v1M264.5 357v5M266.5 252v4M266.5 259v4M266.5 272v1M266.5 297v5M266.5 319v9M266.5 353v6M267.5 252v3M267.5 277v2M267.5 287v3M267.5 319v2M267.5 326v3M267.5 334v7M267.5 369v1M268.5 275v1M268.5 318v5M268.5 343v2M268.5 352v2M268.5 361v5M269.5 266v7M269.5 286v6M269.5 295v1M269.5 301v2M269.5 313v1M269.5 329v1M269.5 334v7M269.5 357v4M269.5 362v3M270.5 247v2M270.5 278v1M270.5 286v2M270.5 372v2M271.5 247v3M271.5 278v2M271.5 283v2M271.5 286v1M271.5 376v2M272.5 263v6M272.5 290v1M272.5 320v4M272.5 339v1M272.5 348v2M272.5 353v3M272.5 360v2M274.5 314v1M274.5 329v1M275.5 370v1M276.5 261v1M276.5 373v1M277.5 268v7M277.5 288v2M277.5 363v1M278.5 294v1M278.5 307v4M278.5 312v2M278.5 328v3M278.5 350v7M279.5 288v1M279.5 296v1M279.5 306v1M279.5 342v3M280.5 361v1M281.5 278v1M281.5 357v2M281.5 363v4M282.5 249v2M282.5 339v3M282.5 359v3M283.5 263v2M283.5 379v1M284.5 280v3M284.5 285v1M284.5 293v3M284.5 359v1M285.5 294v1M285.5 316v2M285.5 351v1M287.5 365v2M288.5 273v1M288.5 306v1M288.5 311v1M288.5 342v3M288.5 351v1M288.5 366v1M289.5 295v1M289.5 297v2M289.5 307v1M289.5 337v3M289.5 357v1M289.5 363v1M290.5 281v1M290.5 324v3M290.5 345v4M290.5 355v1M291.5 264v1M291.5 267v2M291.5 270v1M291.5 355v1M291.5 370v3M292.5 225v1M292.5 235v2M292.5 245v8M292.5 376v2M293.5 265v1M293.5 359v1M294.5 278v1M294.5 314v12M294.5 343v2M294.5 350v1M295.5 270v2M295.5 278v1M295.5 327v5M295.5 336v2M295.5 341v7M296.5 270v4M296.5 279v2M296.5 366v1M297.5 280v1M297.5 291v3M297.5 295v2M297.5 305v3M297.5 320v1M297.5 328v1M297.5 335v5M298.5 284v1M298.5 288v2M298.5 292v3M298.5 306v3M298.5 322v2M299.5 272v1M299.5 279v8M299.5 299v1M299.5 338v1M300.5 223v9M300.5 263v1M300.5 279v3M300.5 307v1M300.5 346v2M301.5 248v2M301.5 258v1M301.5 294v4M301.5 340v2M301.5 354v2M301.5 366v2M302.5 234v3M302.5 371v2M303.5 233v2M303.5 345v1M303.5 350v1M303.5 372v1M304.5 233v3M304.5 247v2M304.5 345v5M304.5 367v1M305.5 258v1M305.5 349v2M306.5 267v1M306.5 350v4M307.5 251v1M307.5 387v2M308.5 251v1M308.5 255v1M308.5 367v2M308.5 371v3M308.5 384v2M309.5 261v1M309.5 368v1M310.5 364v1M311.5 273v1M311.5 333v1M311.5 356v4M312.5 278v1M312.5 328v3M313.5 281v1M313.5 334v1M314.5 273v5M314.5 344v5M314.5 356v1M315.5 262v1M315.5 349v2M315.5 352v5M315.5 364v1M315.5 370v5M315.5 379v2M316.5 286v1M316.5 318v1M316.5 325v1M316.5 340v3M317.5 264v2M317.5 323v3M317.5 328v3M317.5 333v5M318.5 264v1M318.5 314v1M318.5 341v3M318.5 348v2M319.5 284v1M319.5 308v1M320.5 283v2M320.5 302v1M323.5 240v3M323.5 255v2M324.5 258v1M325.5 236v1M325.5 256v1M325.5 283v6M325.5 301v3M325.5 319v1M326.5 276v1M326.5 349v7M326.5 363v4M326.5 371v3M327.5 274v1M327.5 290v4M327.5 345v1M327.5 358v1M327.5 375v1M328.5 296v1M328.5 318v3M329.5 299v1M329.5 331v2M330.5 280v6M330.5 290v5M330.5 297v2M330.5 302v1M331.5 316v2M331.5 324v1M334.5 314v3M334.5 334v2M334.5 347v3M335.5 309v2M335.5 338v1M335.5 345v6M335.5 353v3M335.5 361v1M336.5 317v1M336.5 338v1M337.5 314v2M337.5 321v1M337.5 325v1M337.5 338v1M338.5 343v1M339.5 282v3M339.5 372v1M340.5 285v2M341.5 309v1M341.5 339v4M341.5 358v7M341.5 384v1M341.5 396v1M342.5 333v1M344.5 317v1M344.5 322v1M344.5 330v2M345.5 314v1M345.5 324v4M345.5 336v1M346.5 314v1M346.5 323v2M346.5 328v3M346.5 335v1M346.5 454v1M347.5 297v1M347.5 307v6M347.5 343v1M348.5 283v1M348.5 287v1M348.5 291v2M348.5 304v2M348.5 310v2M348.5 347v1M348.5 351v3M349.5 275v3M349.5 351v3M350.5 270v4M350.5 300v3M351.5 464v1M353.5 465v1M354.5 464v1M355.5 279v2M355.5 282v2M355.5 286v8M355.5 297v3M355.5 320v4M355.5 328v3M356.5 281v2M356.5 293v3M356.5 301v1M356.5 305v2M375.5 463v1M379.5 463v1M386.5 333v2M386.5 336v4M386.5 341v4M389.5 332v5M389.5 340v3M390.5 324v6M390.5 357v5M391.5 343v3M401.5 367v3M402.5 361v5M402.5 374v4M402.5 381v3M408.5 333v1M408.5 377v1M409.5 331v1M409.5 382v1M410.5 330v1M410.5 383v1M411.5 334v1M411.5 381v1M412.5 322v1M413.5 325v1M413.5 383v1M414.5 349v4"/>
<path stroke="#fff100" d="M216.5 308v2M216.5 324v1M220.5 296v1M220.5 316v1M221.5 296v1M221.5 325v2M224.5 304v2M225.5 298v1M225.5 314v2M226.5 298v1M226.5 319v1M227.5 285v6M227.5 304v1M227.5 307v2M227.5 317v1M228.5 310v2M228.5 316v1M229.5 304v1M229.5 316v1M230.5 325v1M231.5 298v1M231.5 311v10M231.5 323v2M234.5 298v1M234.5 303v1M235.5 324v5M236.5 293v1M236.5 327v1M237.5 298v10M237.5 311v3M264.5 337v3M266.5 263v9M267.5 255v4M267.5 274v3M267.5 341v3M267.5 368v1M268.5 345v7M269.5 273v2M269.5 277v2M269.5 296v5M269.5 314v1M269.5 328v1M269.5 341v2M269.5 356v1M269.5 361v1M270.5 249v11M270.5 271v7M270.5 288v7M270.5 301v6M270.5 334v4M270.5 370v2M271.5 250v2M271.5 276v2M271.5 287v1M271.5 375v1M272.5 291v1M272.5 302v6M272.5 310v4M272.5 318v2M272.5 324v2M272.5 337v2M272.5 350v3M274.5 315v2M274.5 322v4M274.5 328v1M275.5 264v1M275.5 279v5M275.5 368v2M276.5 262v1M276.5 365v8M277.5 290v1M277.5 362v1M278.5 295v1M278.5 304v3M278.5 314v1M278.5 327v1M278.5 331v3M278.5 348v2M279.5 244v1M279.5 289v1M279.5 295v1M279.5 307v1M279.5 329v5M279.5 339v3M280.5 244v1M280.5 360v1M281.5 279v1M281.5 356v1M282.5 251v2M282.5 338v1M282.5 342v2M282.5 350v1M282.5 358v1M283.5 265v2M283.5 361v10M283.5 378v1M284.5 286v1M284.5 292v1M284.5 296v2M284.5 358v1M285.5 314v2M285.5 318v2M285.5 337v8M285.5 350v1M286.5 285v1M286.5 361v1M287.5 196v1M287.5 280v1M288.5 274v2M288.5 297v5M288.5 304v2M288.5 312v1M288.5 341v1M288.5 352v6M288.5 365v1M289.5 283v1M289.5 294v1M289.5 299v1M289.5 305v2M289.5 308v2M289.5 335v2M289.5 358v2M289.5 362v1M290.5 282v1M290.5 298v2M290.5 323v1M290.5 327v1M290.5 343v2M290.5 349v1M290.5 353v2M291.5 265v2M291.5 271v1M291.5 354v1M292.5 253v2M292.5 375v1M293.5 358v1M294.5 279v1M294.5 313v1M294.5 345v1M294.5 348v2M295.5 279v1M295.5 315v2M295.5 325v2M295.5 338v3M296.5 281v2M296.5 347v4M296.5 365v1M297.5 281v1M297.5 290v1M297.5 297v1M297.5 304v1M297.5 308v2M297.5 319v1M298.5 285v3M298.5 295v4M298.5 305v1M298.5 309v1M298.5 321v1M299.5 273v1M299.5 278v1M299.5 300v2M299.5 324v3M299.5 335v3M300.5 264v2M300.5 269v4M300.5 277v2M300.5 308v1M300.5 343v3M301.5 259v1M301.5 287v7M301.5 298v3M301.5 338v2M301.5 356v2M301.5 365v1M302.5 237v2M302.5 369v2M303.5 235v2M303.5 344v1M303.5 351v1M303.5 371v1M304.5 249v1M304.5 344v1M304.5 350v5M304.5 366v1M305.5 259v1M305.5 296v2M305.5 347v2M306.5 268v1M306.5 349v1M307.5 252v2M307.5 367v7M307.5 384v3M308.5 256v2M308.5 366v1M308.5 374v1M308.5 381v3M309.5 262v2M309.5 367v1M310.5 258v1M310.5 363v1M311.5 274v1M311.5 332v1M312.5 327v1M313.5 320v4M313.5 332v2M314.5 278v1M314.5 339v5M314.5 349v3M314.5 355v1M315.5 263v3M315.5 342v7M315.5 365v5M315.5 375v4M316.5 287v1M316.5 317v1M316.5 326v1M316.5 337v3M317.5 266v1M317.5 320v3M317.5 326v2M317.5 331v2M318.5 265v3M318.5 302v7M318.5 312v2M318.5 344v4M319.5 291v1M319.5 302v6M320.5 285v2M320.5 301v1M323.5 238v2M325.5 237v1M325.5 254v2M325.5 289v1M325.5 298v3M325.5 304v2M325.5 317v2M326.5 344v5M326.5 356v7M327.5 275v1M327.5 287v3M327.5 294v1M327.5 359v1M327.5 367v1M327.5 374v1M328.5 297v1M328.5 317v1M329.5 300v2M329.5 330v1M330.5 295v2M330.5 303v2M330.5 310v2M330.5 336v1M331.5 318v1M331.5 323v1M334.5 327v1M334.5 333v1M335.5 311v1M335.5 337v1M335.5 351v2M335.5 356v5M336.5 318v1M336.5 337v1M337.5 316v2M337.5 320v1M337.5 326v1M337.5 337v1M338.5 292v1M338.5 342v1M339.5 285v4M339.5 367v5M340.5 287v2M340.5 368v1M341.5 338v1M341.5 385v2M341.5 395v1M342.5 319v1M344.5 318v4M344.5 455v1M345.5 315v2M345.5 319v5M345.5 328v1M345.5 334v2M346.5 315v1M346.5 321v2M346.5 331v4M347.5 298v1M347.5 304v3M347.5 342v1M348.5 284v3M348.5 293v1M348.5 303v1M348.5 306v4M348.5 312v1M348.5 346v1M349.5 278v1M349.5 305v3M349.5 310v3M349.5 349v2M350.5 274v9M350.5 297v3M352.5 464v1M353.5 464v1M355.5 281v1M355.5 324v4M356.5 283v2M356.5 291v2M356.5 302v3M386.5 335v1M386.5 340v1M389.5 337v3M390.5 330v9M390.5 350v7M402.5 366v2M402.5 373v1M402.5 378v3M408.5 334v1M408.5 376v1M411.5 335v1M411.5 376v3M412.5 323v2M412.5 388v1M413.5 326v6M413.5 382v1"/>
<path stroke="#ffe200" d="M216.5 310v2M216.5 323v1M220.5 297v1M220.5 315v1M221.5 297v1M221.5 324v1M224.5 299v1M224.5 302v2M225.5 299v1M225.5 313v1M226.5 318v1M227.5 291v1M227.5 303v1M227.5 309v2M227.5 316v1M228.5 312v4M229.5 305v1M229.5 315v1M230.5 297v1M230.5 324v1M231.5 299v1M231.5 307v4M231.5 321v2M234.5 299v1M234.5 302v1M235.5 295v1M235.5 320v4M236.5 294v1M236.5 325v2M237.5 308v3M267.5 259v2M267.5 272v2M267.5 344v5M267.5 366v2M269.5 275v2M269.5 315v1M269.5 327v1M269.5 343v1M269.5 354v2M270.5 260v6M270.5 268v3M270.5 295v2M270.5 298v3M270.5 307v1M270.5 333v1M270.5 338v1M270.5 368v2M271.5 252v1M271.5 275v1M271.5 288v1M271.5 304v4M271.5 344v1M271.5 374v1M272.5 292v5M272.5 299v3M272.5 308v2M272.5 314v4M272.5 326v2M272.5 336v1M274.5 317v5M274.5 326v2M275.5 265v1M275.5 278v1M275.5 284v2M275.5 331v11M275.5 365v3M276.5 364v1M277.5 291v1M277.5 329v3M277.5 361v1M278.5 296v3M278.5 303v1M278.5 315v2M278.5 319v8M278.5 334v2M278.5 343v5M279.5 287v1M279.5 290v1M279.5 293v2M279.5 308v1M279.5 327v2M279.5 334v1M279.5 337v2M280.5 358v2M281.5 280v1M281.5 338v4M281.5 355v1M282.5 253v2M282.5 267v4M282.5 281v1M282.5 337v1M282.5 344v6M282.5 351v1M282.5 356v2M283.5 267v2M283.5 359v2M283.5 371v2M283.5 377v1M284.5 291v1M284.5 344v2M284.5 356v2M285.5 295v1M285.5 320v1M285.5 335v2M285.5 345v5M286.5 286v1M286.5 318v2M287.5 281v1M287.5 364v1M288.5 197v1M288.5 276v2M288.5 296v1M288.5 302v2M288.5 340v1M288.5 358v2M288.5 364v1M289.5 284v1M289.5 293v1M289.5 300v2M289.5 304v1M289.5 310v1M289.5 360v2M290.5 296v2M290.5 300v2M290.5 307v2M290.5 322v1M290.5 328v1M290.5 341v2M290.5 350v3M291.5 272v1M291.5 298v3M291.5 353v1M292.5 255v6M292.5 356v9M292.5 374v1M293.5 356v2M294.5 280v1M294.5 295v3M294.5 312v1M294.5 346v2M295.5 280v1M295.5 314v1M295.5 317v1M295.5 323v2M296.5 283v2M296.5 305v2M296.5 344v3M296.5 351v2M296.5 364v1M297.5 282v1M297.5 289v1M297.5 298v6M297.5 310v1M298.5 299v1M298.5 303v2M298.5 310v2M298.5 319v2M299.5 274v4M299.5 302v3M299.5 316v8M299.5 327v1M299.5 333v2M300.5 266v3M300.5 273v4M300.5 309v2M300.5 338v5M301.5 260v2M301.5 284v3M301.5 301v1M301.5 337v1M301.5 358v1M301.5 363v2M302.5 239v3M302.5 344v6M302.5 368v1M303.5 237v5M303.5 352v4M303.5 370v1M304.5 250v2M304.5 298v3M304.5 343v1M304.5 355v6M305.5 260v1M305.5 295v1M305.5 298v1M305.5 321v5M305.5 333v2M305.5 345v2M306.5 269v2M306.5 324v3M306.5 348v1M307.5 254v2M307.5 365v2M307.5 374v2M307.5 381v3M308.5 258v1M308.5 261v1M308.5 375v2M308.5 379v2M309.5 264v3M310.5 259v1M310.5 283v4M310.5 352v3M310.5 361v2M311.5 275v5M311.5 331v1M312.5 279v1M313.5 317v3M313.5 324v3M313.5 330v2M314.5 279v1M314.5 337v2M314.5 352v3M315.5 266v2M315.5 340v2M316.5 288v4M316.5 327v2M316.5 336v1M317.5 267v3M317.5 288v4M317.5 301v5M317.5 316v4M318.5 268v2M318.5 300v2M318.5 309v3M319.5 285v1M319.5 290v1M319.5 292v2M319.5 300v2M320.5 287v1M320.5 291v3M320.5 300v1M323.5 236v2M324.5 226v1M325.5 238v2M325.5 253v1M325.5 290v8M325.5 306v2M325.5 311v6M326.5 277v1M326.5 299v7M326.5 341v3M327.5 276v1M327.5 286v1M327.5 295v1M327.5 344v1M327.5 360v2M327.5 364v3M327.5 368v6M328.5 298v1M328.5 316v1M329.5 302v2M329.5 313v1M329.5 317v13M330.5 305v5M330.5 312v1M330.5 334v2M331.5 319v4M334.5 328v5M335.5 312v1M335.5 336v1M336.5 319v2M337.5 318v2M337.5 327v2M337.5 336v1M338.5 340v2M339.5 289v1M339.5 349v1M339.5 363v4M340.5 289v5M340.5 347v7M340.5 367v1M341.5 310v1M341.5 336v2M341.5 387v1M341.5 393v2M345.5 317v2M345.5 329v1M345.5 333v1M346.5 316v5M347.5 299v1M347.5 302v2M347.5 313v1M347.5 455v1M348.5 294v5M348.5 301v2M348.5 313v1M348.5 345v1M349.5 279v1M349.5 303v2M349.5 308v2M349.5 313v1M349.5 325v6M349.5 347v2M350.5 283v3M350.5 295v2M351.5 465v1M352.5 465v1M356.5 285v6M376.5 463v1M390.5 339v1M390.5 343v7M402.5 368v5M408.5 335v1M408.5 375v1M410.5 382v1M411.5 336v1M411.5 375v1M411.5 379v2M412.5 325v3M412.5 387v1M413.5 332v1M413.5 381v1"/>
<path stroke="#ffd300" d="M216.5 312v8M216.5 321v2M220.5 298v1M220.5 314v1M221.5 298v1M221.5 307v1M221.5 323v1M224.5 300v2M225.5 300v2M225.5 311v2M226.5 299v1M227.5 292v5M227.5 302v1M227.5 311v1M227.5 315v1M229.5 306v1M229.5 312v3M230.5 298v1M230.5 321v3M231.5 300v1M231.5 306v1M234.5 300v2M235.5 296v1M235.5 316v4M236.5 295v1M236.5 324v1M267.5 261v2M267.5 265v7M267.5 349v10M267.5 362v4M269.5 316v1M269.5 326v1M269.5 344v1M269.5 353v1M270.5 266v2M270.5 297v1M270.5 308v1M270.5 332v1M270.5 339v2M270.5 363v5M271.5 253v6M271.5 273v2M271.5 289v1M271.5 303v1M271.5 308v2M271.5 342v2M271.5 345v2M271.5 356v7M271.5 373v1M272.5 297v2M272.5 328v2M272.5 333v3M275.5 266v1M275.5 273v5M275.5 286v2M275.5 342v2M275.5 364v1M276.5 263v1M276.5 330v2M276.5 363v1M277.5 292v1M277.5 327v2M277.5 332v1M277.5 353v2M278.5 299v4M278.5 317v2M278.5 336v2M278.5 342v1M279.5 245v1M279.5 291v2M279.5 309v1M279.5 325v2M279.5 335v2M280.5 245v1M280.5 357v1M281.5 281v2M281.5 337v1M281.5 342v1M281.5 350v5M282.5 255v1M282.5 265v2M282.5 271v1M282.5 278v3M282.5 282v5M282.5 324v3M282.5 352v4M283.5 269v2M283.5 343v1M283.5 358v1M283.5 373v4M284.5 287v1M284.5 290v1M284.5 298v1M284.5 336v8M284.5 346v2M284.5 351v5M285.5 296v1M285.5 313v1M285.5 321v5M285.5 330v5M286.5 287v7M286.5 317v1M286.5 320v1M286.5 360v1M287.5 216v1M287.5 312v3M287.5 363v1M288.5 215v1M288.5 278v1M288.5 295v1M288.5 313v1M288.5 338v2M288.5 360v2M288.5 363v1M289.5 285v1M289.5 292v1M289.5 302v2M289.5 311v1M289.5 334v1M290.5 283v1M290.5 295v1M290.5 302v5M290.5 309v2M290.5 321v1M290.5 339v2M291.5 273v1M291.5 297v1M291.5 301v3M291.5 351v2M292.5 261v1M292.5 355v1M292.5 365v2M292.5 373v1M293.5 355v1M294.5 294v1M294.5 298v6M294.5 308v4M295.5 281v1M295.5 313v1M295.5 318v5M296.5 285v1M296.5 304v1M296.5 307v1M296.5 343v1M296.5 353v2M296.5 360v4M297.5 283v1M297.5 288v1M297.5 311v3M297.5 318v1M298.5 300v3M298.5 312v7M299.5 305v5M299.5 314v2M299.5 328v5M300.5 311v1M300.5 331v7M301.5 262v1M301.5 280v4M301.5 302v1M301.5 335v2M301.5 359v4M302.5 242v2M302.5 295v3M302.5 343v1M302.5 350v2M302.5 354v3M302.5 366v2M303.5 242v3M303.5 343v1M303.5 356v2M303.5 368v2M304.5 252v4M304.5 297v1M304.5 301v1M304.5 335v2M304.5 342v1M304.5 361v1M304.5 365v1M305.5 261v2M305.5 294v1M305.5 299v1M305.5 320v1M305.5 326v2M305.5 330v3M305.5 335v10M306.5 271v2M306.5 323v1M306.5 327v2M306.5 347v1M307.5 256v1M307.5 364v1M307.5 376v5M308.5 259v2M308.5 262v4M308.5 365v1M308.5 377v2M309.5 267v1M309.5 281v3M309.5 351v5M309.5 366v1M310.5 282v1M310.5 287v1M310.5 350v2M310.5 355v6M311.5 330v1M313.5 282v1M313.5 310v3M313.5 315v2M313.5 327v3M314.5 333v4M315.5 268v1M315.5 339v1M316.5 292v1M316.5 316v1M316.5 329v2M316.5 334v2M317.5 270v2M317.5 287v1M317.5 292v6M317.5 299v2M317.5 306v2M317.5 315v1M318.5 270v2M318.5 276v6M318.5 291v2M318.5 298v2M319.5 286v4M319.5 294v1M319.5 298v2M320.5 288v3M320.5 294v1M320.5 298v2M323.5 227v1M323.5 234v2M324.5 257v1M325.5 240v1M325.5 251v2M325.5 308v3M326.5 278v1M326.5 288v11M326.5 306v1M326.5 335v6M327.5 277v1M327.5 285v1M327.5 296v1M327.5 343v1M327.5 362v2M328.5 299v7M329.5 304v2M329.5 310v3M329.5 314v3M330.5 313v1M330.5 330v4M335.5 313v1M335.5 335v1M336.5 321v2M336.5 336v1M337.5 329v2M337.5 334v2M338.5 293v1M339.5 290v1M339.5 345v4M339.5 350v3M339.5 361v2M340.5 294v8M340.5 345v2M340.5 354v2M341.5 334v2M341.5 388v5M342.5 322v10M345.5 330v3M345.5 455v1M347.5 300v2M347.5 314v1M347.5 325v1M347.5 341v1M348.5 299v2M348.5 314v1M349.5 280v1M349.5 302v1M349.5 314v2M349.5 321v4M349.5 331v6M349.5 346v1M350.5 286v9M378.5 463v1M390.5 340v3M408.5 336v2M408.5 373v2M409.5 332v2M409.5 381v1M410.5 331v1M411.5 337v1M411.5 374v1M412.5 328v4M412.5 385v2M413.5 333v1M413.5 379v2"/>
<path stroke="#ffc400" d="M216.5 320v1M220.5 299v1M220.5 307v2M220.5 312v2M221.5 299v1M221.5 305v2M221.5 308v2M221.5 322v1M225.5 302v2M225.5 308v3M226.5 300v1M226.5 304v3M226.5 317v1M227.5 297v3M227.5 301v1M227.5 312v3M229.5 307v5M230.5 317v4M231.5 301v1M231.5 305v1M235.5 314v2M236.5 296v1M236.5 305v2M236.5 322v2M267.5 263v2M267.5 359v3M269.5 317v9M269.5 345v2M269.5 348v5M270.5 309v2M270.5 331v1M270.5 341v4M270.5 359v4M271.5 259v2M271.5 270v3M271.5 290v1M271.5 302v1M271.5 310v2M271.5 335v2M271.5 340v2M271.5 347v1M271.5 354v2M271.5 363v5M272.5 330v3M275.5 267v2M275.5 271v2M275.5 288v1M275.5 297v2M275.5 330v1M275.5 344v2M275.5 363v1M276.5 264v1M276.5 327v3M276.5 332v2M277.5 293v1M277.5 333v1M277.5 350v3M277.5 355v2M277.5 360v1M278.5 338v4M279.5 279v8M279.5 310v2M279.5 315v6M279.5 324v1M280.5 275v4M280.5 356v1M281.5 283v2M281.5 324v1M281.5 336v1M281.5 343v1M281.5 349v1M282.5 256v9M282.5 272v6M282.5 287v1M282.5 323v1M282.5 327v1M282.5 336v1M283.5 271v2M283.5 341v2M283.5 344v2M283.5 357v1M284.5 288v2M284.5 299v1M284.5 334v2M284.5 348v3M285.5 297v1M285.5 312v1M285.5 326v4M286.5 316v1M286.5 321v1M286.5 338v4M286.5 359v1M287.5 282v1M287.5 311v1M287.5 315v1M287.5 361v2M288.5 279v1M288.5 294v1M288.5 337v1M288.5 362v1M289.5 286v1M289.5 290v2M289.5 312v1M289.5 333v1M290.5 311v2M290.5 320v1M290.5 329v1M290.5 337v2M291.5 274v1M291.5 296v1M291.5 304v2M291.5 333v1M291.5 349v2M292.5 262v1M292.5 354v1M292.5 367v1M292.5 371v2M294.5 281v1M294.5 293v1M294.5 304v4M295.5 282v2M295.5 304v3M295.5 312v1M296.5 286v1M296.5 297v4M296.5 302v2M296.5 308v2M296.5 312v3M296.5 342v1M296.5 355v5M297.5 284v4M297.5 314v4M299.5 310v4M300.5 312v2M300.5 329v2M301.5 263v2M301.5 277v3M301.5 303v1M301.5 308v3M301.5 334v1M302.5 244v2M302.5 287v3M302.5 293v2M302.5 298v1M302.5 341v2M302.5 352v2M302.5 357v1M302.5 363v3M303.5 245v1M303.5 263v2M303.5 298v4M303.5 341v2M303.5 358v2M303.5 367v1M304.5 256v4M304.5 302v1M304.5 333v2M304.5 337v5M304.5 362v3M305.5 263v4M305.5 293v1M305.5 300v1M305.5 310v4M305.5 318v2M305.5 328v2M306.5 273v1M306.5 292v4M306.5 322v1M306.5 329v3M306.5 338v3M306.5 345v2M307.5 257v7M307.5 322v3M307.5 349v4M307.5 363v1M308.5 266v2M308.5 364v1M309.5 268v1M309.5 277v4M309.5 284v2M309.5 350v1M309.5 356v2M309.5 365v1M310.5 260v1M310.5 269v4M310.5 281v1M310.5 322v5M310.5 335v1M310.5 349v1M311.5 280v1M311.5 294v5M311.5 328v2M312.5 326v1M313.5 283v1M313.5 308v2M313.5 313v2M314.5 280v1M314.5 332v1M315.5 269v2M315.5 336v3M316.5 293v2M316.5 331v3M317.5 272v3M317.5 286v1M317.5 298v1M317.5 308v1M317.5 313v2M318.5 272v4M318.5 282v3M318.5 288v3M318.5 293v2M318.5 296v2M319.5 295v3M320.5 295v3M323.5 232v2M325.5 241v2M325.5 249v2M326.5 286v2M326.5 307v2M326.5 310v2M326.5 325v10M327.5 278v1M327.5 283v2M327.5 297v1M327.5 325v4M328.5 306v2M328.5 315v1M329.5 306v4M330.5 314v2M330.5 328v2M335.5 314v1M335.5 334v1M336.5 323v3M336.5 335v1M337.5 331v3M338.5 294v5M338.5 304v4M338.5 339v1M339.5 291v1M339.5 343v2M339.5 353v2M339.5 360v1M340.5 302v1M340.5 344v1M340.5 356v2M340.5 366v1M341.5 311v1M341.5 333v1M342.5 320v2M342.5 332v1M346.5 455v1M347.5 315v1M347.5 323v2M347.5 326v1M347.5 340v1M348.5 315v4M348.5 344v1M349.5 281v2M349.5 286v16M349.5 316v5M349.5 337v9M377.5 463v1M408.5 338v3M408.5 351v2M408.5 364v2M408.5 370v3M409.5 334v6M411.5 338v1M411.5 373v1M412.5 332v1M412.5 384v1M413.5 334v1M413.5 378v1"/>
<path stroke="#ffb500" d="M220.5 300v7M220.5 309v3M221.5 300v5M221.5 321v1M225.5 304v4M226.5 301v3M226.5 307v2M226.5 315v2M227.5 300v1M230.5 299v1M230.5 315v2M231.5 302v3M235.5 297v1M235.5 307v2M235.5 311v3M236.5 297v1M236.5 304v1M236.5 307v2M236.5 313v5M236.5 319v3M269.5 347v1M270.5 311v3M270.5 330v1M270.5 345v2M270.5 357v2M271.5 261v9M271.5 291v1M271.5 301v1M271.5 312v5M271.5 333v2M271.5 337v3M271.5 348v6M271.5 368v1M271.5 372v1M275.5 269v2M275.5 289v2M275.5 293v4M275.5 299v3M275.5 329v1M275.5 346v1M275.5 354v3M276.5 280v8M276.5 292v7M276.5 326v1M276.5 334v2M276.5 342v6M276.5 362v1M277.5 294v1M277.5 304v4M277.5 312v2M277.5 326v1M277.5 334v1M277.5 343v3M277.5 349v1M277.5 357v3M279.5 265v4M279.5 277v2M279.5 312v3M279.5 321v3M280.5 247v5M280.5 265v10M280.5 279v1M280.5 308v3M280.5 315v3M280.5 352v4M281.5 285v1M281.5 323v1M281.5 325v2M281.5 335v1M281.5 344v1M281.5 347v2M282.5 288v1M282.5 322v1M282.5 328v1M282.5 332v4M283.5 273v2M283.5 339v2M283.5 346v1M284.5 300v1M284.5 332v2M285.5 298v1M285.5 311v1M286.5 294v1M286.5 315v1M286.5 322v2M286.5 336v2M286.5 342v2M286.5 357v2M287.5 283v1M287.5 308v3M287.5 316v1M287.5 339v2M287.5 360v1M288.5 280v1M288.5 293v1M288.5 314v1M288.5 336v1M289.5 287v3M289.5 313v1M289.5 324v2M289.5 331v2M290.5 284v1M290.5 294v1M290.5 313v2M290.5 330v7M291.5 275v2M291.5 280v3M291.5 295v1M291.5 332v1M291.5 334v8M291.5 345v4M292.5 263v2M292.5 353v1M292.5 368v3M293.5 266v6M293.5 296v7M293.5 354v1M294.5 282v2M294.5 292v1M295.5 284v1M295.5 298v6M295.5 307v5M296.5 287v2M296.5 294v3M296.5 301v1M296.5 310v2M296.5 315v1M296.5 321v4M296.5 341v1M300.5 314v3M300.5 327v2M301.5 265v2M301.5 274v3M301.5 304v4M301.5 311v2M301.5 323v3M301.5 329v5M302.5 246v3M302.5 255v3M302.5 286v1M302.5 290v3M302.5 299v2M302.5 333v8M302.5 358v5M303.5 246v2M303.5 256v7M303.5 265v2M303.5 297v1M303.5 302v1M303.5 334v4M303.5 340v1M303.5 360v1M303.5 365v2M304.5 260v3M304.5 296v1M304.5 308v5M304.5 332v1M305.5 267v3M305.5 292v1M305.5 301v1M305.5 308v2M305.5 314v4M306.5 274v2M306.5 290v2M306.5 296v1M306.5 321v1M306.5 332v6M306.5 341v2M306.5 344v1M307.5 264v2M307.5 321v1M307.5 325v5M307.5 347v2M307.5 353v4M307.5 362v1M308.5 268v1M308.5 350v4M308.5 363v1M309.5 269v8M309.5 286v1M309.5 358v2M309.5 364v1M310.5 261v1M310.5 267v2M310.5 273v1M310.5 280v1M310.5 288v1M310.5 317v5M310.5 327v3M310.5 332v3M310.5 336v3M310.5 348v1M311.5 292v2M311.5 299v2M311.5 326v2M312.5 280v1M313.5 284v1M313.5 303v5M314.5 331v1M315.5 271v2M315.5 333v3M316.5 295v2M316.5 315v1M317.5 275v6M317.5 285v1M317.5 309v4M318.5 285v3M318.5 295v1M323.5 229v3M324.5 227v1M325.5 243v6M326.5 279v2M326.5 284v2M326.5 309v1M326.5 312v6M326.5 321v4M327.5 279v4M327.5 298v8M327.5 323v2M327.5 329v7M327.5 342v1M328.5 308v3M328.5 313v2M330.5 316v1M330.5 327v1M335.5 315v1M336.5 326v4M336.5 334v1M338.5 299v5M338.5 308v1M338.5 337v2M339.5 342v1M339.5 355v2M339.5 358v2M340.5 303v1M340.5 343v1M340.5 358v3M340.5 365v1M341.5 312v1M347.5 316v1M347.5 322v1M347.5 327v1M347.5 339v1M348.5 319v2M348.5 325v1M348.5 343v1M349.5 283v3M408.5 341v4M408.5 348v3M408.5 353v1M408.5 361v3M408.5 366v4M409.5 340v2M409.5 373v8M410.5 381v1M411.5 339v1M411.5 372v1M412.5 333v1M412.5 383v1M413.5 335v2M413.5 340v5M413.5 355v2M413.5 376v2"/>
<path stroke="#ffa600" d="M221.5 310v1M221.5 316v5M226.5 309v1M226.5 313v2M230.5 314v1M235.5 298v1M235.5 305v2M235.5 309v2M236.5 298v1M236.5 302v2M236.5 309v4M236.5 318v1M270.5 314v2M270.5 329v1M270.5 347v3M270.5 356v1M271.5 292v1M271.5 300v1M271.5 317v10M271.5 332v1M271.5 369v3M275.5 291v2M275.5 302v3M275.5 328v1M275.5 347v7M275.5 357v1M275.5 362v1M276.5 265v1M276.5 279v1M276.5 288v4M276.5 299v4M276.5 336v6M276.5 348v8M277.5 295v2M277.5 303v1M277.5 308v4M277.5 314v2M277.5 324v2M277.5 335v3M277.5 340v3M277.5 346v3M279.5 246v5M279.5 263v2M279.5 269v3M279.5 274v3M280.5 246v1M280.5 252v3M280.5 262v3M280.5 280v1M280.5 304v4M280.5 311v1M280.5 314v1M280.5 318v1M280.5 338v7M280.5 350v2M281.5 286v1M281.5 308v3M281.5 317v2M281.5 321v2M281.5 327v1M281.5 334v1M281.5 345v2M282.5 289v1M282.5 320v2M282.5 329v3M283.5 275v1M283.5 338v1M283.5 347v1M283.5 356v1M284.5 301v6M284.5 311v4M284.5 330v2M285.5 299v1M285.5 308v3M286.5 295v1M286.5 314v1M286.5 324v6M286.5 335v1M286.5 344v2M286.5 355v2M287.5 197v1M287.5 307v1M287.5 317v2M287.5 338v1M287.5 341v1M287.5 346v2M287.5 359v1M288.5 198v2M288.5 281v1M288.5 292v1M288.5 334v2M289.5 322v2M289.5 326v5M290.5 285v1M290.5 293v1M290.5 315v1M290.5 319v1M291.5 277v3M291.5 283v1M291.5 294v1M291.5 306v1M291.5 331v1M291.5 342v3M292.5 265v1M292.5 298v2M292.5 352v1M293.5 272v6M293.5 295v1M293.5 303v1M293.5 353v1M294.5 284v1M294.5 291v1M295.5 285v1M295.5 296v2M296.5 289v5M296.5 316v2M296.5 319v2M296.5 325v1M300.5 317v10M301.5 267v2M301.5 270v4M301.5 313v5M301.5 322v1M301.5 326v3M302.5 249v6M302.5 258v2M302.5 285v1M302.5 301v1M302.5 324v9M303.5 248v2M303.5 255v1M303.5 267v2M303.5 295v2M303.5 303v1M303.5 333v1M303.5 338v2M303.5 361v4M304.5 263v1M304.5 295v1M304.5 303v1M304.5 307v1M304.5 313v2M304.5 330v2M305.5 270v1M305.5 290v2M305.5 302v1M305.5 306v2M306.5 276v1M306.5 289v1M306.5 297v1M306.5 319v2M306.5 343v1M307.5 266v2M307.5 330v2M307.5 346v1M307.5 357v2M307.5 361v1M308.5 269v1M308.5 349v1M308.5 354v4M308.5 362v1M309.5 287v1M309.5 349v1M309.5 360v4M310.5 262v5M310.5 274v1M310.5 279v1M310.5 289v1M310.5 315v2M310.5 330v2M310.5 339v3M310.5 346v2M311.5 289v3M311.5 301v2M313.5 285v1M314.5 281v1M314.5 330v1M315.5 273v2M315.5 317v12M315.5 332v1M316.5 297v2M316.5 314v1M317.5 281v2M317.5 284v1M323.5 228v1M326.5 281v3M326.5 318v3M327.5 306v1M327.5 317v6M327.5 336v2M327.5 340v2M328.5 311v2M330.5 317v2M330.5 326v1M335.5 316v2M335.5 321v4M335.5 332v2M336.5 330v1M338.5 309v1M338.5 336v1M339.5 292v1M339.5 341v1M339.5 357v1M340.5 304v1M340.5 342v1M340.5 361v4M341.5 313v2M347.5 317v5M347.5 328v2M347.5 336v3M348.5 321v4M348.5 326v2M348.5 342v1M408.5 345v3M408.5 354v1M408.5 357v4M409.5 342v1M409.5 370v3M410.5 332v2M411.5 370v2M412.5 334v1M412.5 382v1M413.5 337v3M413.5 345v2M413.5 354v1M413.5 357v1M413.5 368v8"/>
<path stroke="#ff9700" d="M221.5 311v5M226.5 310v3M230.5 300v1M230.5 313v1M235.5 303v2M236.5 299v3M270.5 316v13M270.5 350v2M270.5 354v2M271.5 293v1M271.5 298v2M271.5 327v5M275.5 305v6M275.5 326v2M275.5 358v1M275.5 361v1M276.5 266v2M276.5 277v2M276.5 303v3M276.5 325v1M276.5 356v1M276.5 361v1M277.5 297v1M277.5 302v1M277.5 316v8M277.5 338v2M279.5 251v1M279.5 262v1M279.5 272v2M280.5 255v7M280.5 281v2M280.5 298v6M280.5 312v2M280.5 319v1M280.5 337v1M280.5 345v5M281.5 287v1M281.5 306v2M281.5 311v1M281.5 315v2M281.5 319v2M281.5 328v6M282.5 290v5M282.5 319v1M283.5 276v6M283.5 337v1M283.5 348v3M283.5 355v1M284.5 307v4M284.5 315v2M284.5 329v1M285.5 300v1M285.5 304v4M286.5 312v2M286.5 330v2M286.5 334v1M286.5 346v9M287.5 215v1M287.5 284v1M287.5 290v2M287.5 299v3M287.5 305v2M287.5 319v1M287.5 337v1M287.5 342v4M287.5 348v2M287.5 357v2M288.5 200v2M288.5 214v1M288.5 291v1M288.5 315v1M288.5 333v1M289.5 314v1M289.5 320v2M290.5 286v4M290.5 292v1M290.5 316v3M291.5 284v1M291.5 293v1M291.5 307v1M291.5 329v2M292.5 266v1M292.5 297v1M292.5 300v2M292.5 351v1M293.5 278v2M293.5 304v1M293.5 351v2M294.5 285v1M294.5 290v1M295.5 286v1M295.5 295v1M296.5 318v1M296.5 326v1M296.5 331v4M296.5 339v2M301.5 269v1M301.5 318v4M302.5 260v9M302.5 283v2M302.5 302v1M302.5 309v2M302.5 323v1M303.5 250v2M303.5 253v2M303.5 269v7M303.5 293v2M303.5 304v1M303.5 307v4M303.5 332v1M304.5 264v2M304.5 304v3M304.5 315v5M304.5 323v7M305.5 271v1M305.5 289v1M305.5 303v1M305.5 305v1M306.5 277v4M306.5 288v1M306.5 298v1M306.5 313v6M307.5 268v2M307.5 320v1M307.5 332v2M307.5 345v1M307.5 359v2M308.5 270v1M308.5 348v1M308.5 358v4M309.5 288v1M309.5 314v2M309.5 348v1M310.5 275v1M310.5 277v2M310.5 290v1M310.5 299v7M310.5 314v1M310.5 342v4M311.5 281v1M311.5 285v4M311.5 303v2M312.5 325v1M313.5 286v2M313.5 302v1M314.5 282v1M314.5 329v1M315.5 275v5M315.5 283v5M315.5 316v1M315.5 329v3M316.5 299v4M317.5 283v1M324.5 255v2M327.5 307v2M327.5 315v2M327.5 338v2M330.5 319v7M335.5 318v3M335.5 325v7M336.5 331v3M338.5 310v1M338.5 334v2M339.5 293v6M339.5 300v6M339.5 340v1M340.5 305v1M340.5 340v2M341.5 315v2M341.5 327v5M347.5 330v6M348.5 328v1M348.5 341v1M408.5 355v2M409.5 343v10M409.5 368v2M410.5 334v2M411.5 340v2M411.5 343v4M411.5 369v1M412.5 381v1M413.5 347v2M413.5 352v2M413.5 358v1M413.5 366v2"/>
<path stroke="#f80" d="M230.5 301v1M230.5 312v1M235.5 299v4M270.5 352v2M271.5 294v4M275.5 311v1M275.5 325v1M275.5 359v2M276.5 268v9M276.5 306v1M276.5 324v1M276.5 357v4M277.5 298v4M279.5 252v1M279.5 261v1M280.5 283v1M280.5 296v2M280.5 320v1M280.5 324v9M280.5 336v1M281.5 304v2M281.5 312v3M282.5 295v3M282.5 299v4M282.5 318v1M283.5 282v3M283.5 322v3M283.5 336v1M283.5 351v4M284.5 317v1M284.5 328v1M285.5 301v3M286.5 296v1M286.5 311v1M286.5 332v2M287.5 285v1M287.5 288v2M287.5 292v4M287.5 297v2M287.5 302v3M287.5 320v2M287.5 324v2M287.5 336v1M287.5 350v1M287.5 355v2M288.5 202v4M288.5 210v4M288.5 282v1M288.5 290v1M288.5 332v1M289.5 315v2M289.5 319v1M290.5 290v2M291.5 285v1M291.5 292v1M291.5 308v1M291.5 310v7M291.5 325v4M292.5 267v2M292.5 296v1M292.5 302v1M292.5 350v1M293.5 280v1M293.5 294v1M293.5 305v1M293.5 331v6M293.5 350v1M294.5 286v4M295.5 287v1M295.5 294v1M296.5 327v1M296.5 330v1M296.5 335v4M302.5 269v2M302.5 273v6M302.5 280v3M302.5 303v1M302.5 307v2M302.5 311v2M302.5 322v1M303.5 252v1M303.5 276v3M303.5 283v10M303.5 305v2M303.5 311v1M303.5 326v6M304.5 266v4M304.5 283v3M304.5 294v1M304.5 320v3M305.5 272v1M305.5 281v8M305.5 304v1M306.5 281v2M306.5 287v1M306.5 306v3M306.5 312v1M307.5 270v1M307.5 334v7M307.5 344v1M308.5 271v1M308.5 347v1M309.5 289v1M309.5 313v1M309.5 316v1M309.5 333v4M309.5 346v2M310.5 276v1M310.5 297v2M310.5 306v2M310.5 313v1M311.5 283v2M311.5 305v1M311.5 325v1M312.5 281v1M312.5 296v3M313.5 288v1M313.5 301v1M314.5 283v1M314.5 318v11M315.5 280v3M315.5 288v2M316.5 303v4M316.5 313v1M324.5 228v3M324.5 252v3M327.5 309v6M338.5 311v1M338.5 328v6M339.5 299v1M339.5 306v1M339.5 339v1M340.5 306v1M340.5 332v3M340.5 338v2M341.5 317v1M341.5 326v1M341.5 332v1M348.5 329v1M348.5 339v2M409.5 353v2M409.5 366v2M410.5 336v2M410.5 353v2M410.5 379v2M411.5 342v1M411.5 347v1M411.5 367v2M412.5 335v2M412.5 379v2M413.5 349v3M413.5 359v1M413.5 365v1"/>
<path stroke="#ff7900" d="M230.5 302v5M230.5 311v1M275.5 312v2M275.5 323v2M276.5 307v3M279.5 253v2M279.5 260v1M280.5 284v1M280.5 295v1M280.5 321v3M280.5 333v3M281.5 288v1M281.5 296v4M281.5 303v1M282.5 298v1M282.5 303v2M282.5 317v1M283.5 285v1M283.5 293v11M283.5 320v2M283.5 325v3M283.5 335v1M284.5 318v1M284.5 324v4M286.5 297v3M286.5 310v1M287.5 208v3M287.5 286v2M287.5 296v1M287.5 322v2M287.5 326v3M287.5 335v1M287.5 351v1M287.5 353v2M288.5 206v4M288.5 283v2M288.5 288v2M288.5 316v1M289.5 317v2M291.5 286v1M291.5 289v3M291.5 309v1M291.5 317v2M291.5 322v3M292.5 269v1M292.5 295v1M292.5 303v1M292.5 348v2M293.5 281v1M293.5 293v1M293.5 306v1M293.5 330v1M293.5 337v4M293.5 348v2M295.5 288v1M295.5 293v1M296.5 328v2M302.5 271v2M302.5 279v1M302.5 304v3M302.5 313v3M303.5 279v4M303.5 312v1M303.5 325v1M304.5 270v1M304.5 281v2M304.5 286v8M305.5 273v1M305.5 280v1M306.5 283v4M306.5 299v1M306.5 305v1M306.5 309v3M307.5 271v2M307.5 319v1M307.5 341v3M308.5 272v1M308.5 345v2M309.5 312v1M309.5 317v1M309.5 332v1M309.5 337v1M309.5 344v2M310.5 291v3M310.5 295v2M310.5 308v1M310.5 312v1M311.5 282v1M311.5 306v1M312.5 294v2M312.5 299v2M313.5 289v2M313.5 295v2M314.5 307v6M314.5 317v1M315.5 290v2M315.5 315v1M316.5 307v2M316.5 312v1M324.5 231v2M324.5 250v2M338.5 312v2M338.5 324v4M339.5 307v1M339.5 332v3M339.5 337v2M340.5 307v1M340.5 331v1M340.5 335v3M341.5 325v1M348.5 330v1M348.5 336v3M409.5 355v1M409.5 363v3M410.5 338v1M410.5 351v2M410.5 355v2M410.5 376v3M411.5 348v1M411.5 355v12M412.5 337v2M412.5 374v5M413.5 360v1M413.5 364v1"/>
<path stroke="#ff6900" d="M230.5 307v4M275.5 314v1M275.5 321v2M276.5 310v6M276.5 323v1M279.5 255v1M279.5 258v2M280.5 285v3M280.5 294v1M281.5 289v7M281.5 300v3M282.5 305v2M282.5 316v1M283.5 286v1M283.5 292v1M283.5 304v2M283.5 319v1M283.5 328v7M284.5 319v5M286.5 300v10M287.5 198v10M287.5 211v3M287.5 329v6M287.5 352v1M288.5 285v3M288.5 317v1M288.5 319v7M288.5 330v2M291.5 287v2M291.5 319v3M292.5 270v3M292.5 277v4M292.5 294v1M292.5 304v1M292.5 347v1M293.5 292v1M293.5 307v16M293.5 329v1M293.5 341v2M293.5 347v1M295.5 289v1M295.5 292v1M302.5 316v2M302.5 321v1M303.5 313v1M303.5 324v1M304.5 271v2M304.5 279v2M305.5 274v6M306.5 300v2M306.5 304v1M307.5 273v1M307.5 287v6M307.5 318v1M308.5 273v3M308.5 321v3M308.5 344v1M309.5 290v1M309.5 305v2M309.5 318v1M309.5 323v9M309.5 338v1M309.5 343v1M310.5 294v1M310.5 309v3M311.5 307v2M312.5 292v2M312.5 301v1M312.5 318v7M313.5 291v4M313.5 297v1M313.5 299v2M314.5 284v1M314.5 303v4M314.5 313v4M315.5 292v5M315.5 314v1M316.5 309v3M324.5 233v1M324.5 248v2M338.5 314v2M338.5 322v2M339.5 308v1M339.5 331v1M339.5 335v2M340.5 327v4M341.5 318v2M341.5 323v2M348.5 331v1M348.5 334v2M409.5 356v1M409.5 358v5M410.5 339v2M410.5 350v1M410.5 357v1M410.5 375v1M411.5 349v1M411.5 351v4M412.5 339v7M412.5 372v2M413.5 361v3"/>
<path stroke="#ff5a00" d="M275.5 315v2M275.5 319v2M276.5 316v2M276.5 322v1M279.5 256v2M280.5 288v1M282.5 307v3M283.5 287v1M283.5 291v1M283.5 306v1M283.5 317v2M287.5 214v1M288.5 318v1M288.5 326v4M292.5 273v4M292.5 281v2M292.5 293v1M292.5 305v1M292.5 339v2M292.5 345v2M293.5 282v1M293.5 291v1M293.5 323v1M293.5 327v2M293.5 343v4M295.5 290v2M302.5 318v3M303.5 314v1M303.5 323v1M304.5 273v6M306.5 302v2M307.5 274v1M307.5 285v2M307.5 293v4M307.5 305v2M307.5 314v4M308.5 276v2M308.5 320v1M308.5 324v2M308.5 343v1M309.5 291v1M309.5 304v1M309.5 307v1M309.5 311v1M309.5 319v4M309.5 339v4M311.5 309v2M311.5 315v10M312.5 282v1M312.5 291v1M312.5 302v2M312.5 315v3M313.5 298v1M314.5 285v1M314.5 294v3M314.5 301v2M315.5 297v3M315.5 306v8M324.5 234v2M324.5 246v2M338.5 316v1M338.5 321v1M339.5 309v1M339.5 330v1M340.5 308v1M340.5 326v1M341.5 322v1M348.5 332v2M409.5 357v1M410.5 341v1M410.5 349v1M410.5 373v2M411.5 350v1M412.5 346v1M412.5 369v3"/>
<path stroke="#ff4b00" d="M275.5 317v2M276.5 318v4M280.5 289v2M280.5 292v2M282.5 310v2M282.5 315v1M283.5 288v1M283.5 290v1M283.5 307v1M283.5 316v1M292.5 283v2M292.5 288v5M292.5 310v2M292.5 338v1M292.5 341v4M293.5 290v1M293.5 324v3M303.5 315v2M303.5 322v1M307.5 275v1M307.5 284v1M307.5 297v8M307.5 307v1M307.5 313v1M308.5 278v12M308.5 319v1M308.5 326v8M308.5 341v2M309.5 292v2M309.5 303v1M309.5 308v1M309.5 310v1M311.5 311v4M312.5 283v4M312.5 288v3M312.5 304v2M312.5 312v3M314.5 292v2M314.5 297v4M315.5 300v6M324.5 236v2M324.5 244v2M338.5 317v4M339.5 329v1M340.5 324v2M341.5 321v1M410.5 342v2M410.5 347v2M410.5 358v1M410.5 372v1M412.5 347v2M412.5 351v7M412.5 367v2"/>
<path stroke="#ff3c00" d="M280.5 291v1M282.5 312v3M283.5 289v1M283.5 308v1M283.5 314v2M292.5 285v3M292.5 306v1M292.5 309v1M292.5 312v2M292.5 336v2M293.5 283v1M293.5 288v2M303.5 317v3M303.5 321v1M307.5 276v1M307.5 283v1M307.5 308v1M307.5 311v2M308.5 290v2M308.5 314v5M308.5 334v7M309.5 294v4M309.5 302v1M309.5 309v1M312.5 287v1M312.5 306v6M314.5 286v1M314.5 291v1M324.5 238v6M339.5 310v1M339.5 328v1M340.5 309v1M340.5 323v1M341.5 320v1M410.5 344v3M410.5 359v1M410.5 371v1M412.5 349v2M412.5 358v2M412.5 365v2"/>
<path stroke="#ff2d00" d="M283.5 309v5M292.5 307v2M292.5 314v4M292.5 333v3M293.5 284v4M303.5 320v1M307.5 277v1M307.5 281v2M307.5 309v2M308.5 312v2M309.5 298v2M309.5 301v1M314.5 287v4M339.5 311v1M339.5 327v1M410.5 370v1M412.5 360v5"/>
<path stroke="#ff1e00" d="M292.5 318v3M292.5 331v2M307.5 278v3M308.5 292v1M308.5 311v1M309.5 300v1M339.5 312v7M339.5 324v3M340.5 310v1M340.5 322v1M410.5 360v1M410.5 369v1"/>
<path stroke="#ff0f00" d="M292.5 321v1M292.5 329v2M308.5 293v1M308.5 305v6M339.5 319v5M340.5 321v1M410.5 361v1"/>
<path stroke="#f00" d="M292.5 322v7M308.5 294v11M340.5 311v10M410.5 362v7"/>
<path stroke="#fff" d="M101 478.5h499M353 477.5h247"/>
<path stroke="#f00" d="M540 478.5h60"/>
</g>
<defs><linearGradient id="cb" x1="0" y1="1" x2="0" y2="0">
<stop offset="0.0000" stop-color="rgb(0,0,128)"/>
<stop offset="0.1250" stop-color="rgb(0,0,255)"/>
<stop offset="0.2500" stop-color="rgb(0,255,255)"/>
<stop offset="0.4900" stop-color="rgb(0,255,0)"/>
<stop offset="0.6400" stop-color="rgb(255,255,0)"/>
<stop offset="1.0000" stop-color="rgb(255,0,0)"/>
</linearGradient></defs>
<rect x="701" y="120" width="25" height="359" fill="url(#cb)"/>
<path d="M100.5 112v376M600.5 112v376M100 119.5h501M100 479.5h501M100.5 112v8M100.5 479v9M142.5 116v4M142.5 479v5M183.5 116v4M183.5 479v5M225.5 112v8M225.5 479v9M267.5 116v4M267.5 479v5M308.5 116v4M308.5 479v5M350.5 112v8M350.5 479v9M392.5 116v4M392.5 479v5M433.5 116v4M433.5 479v5M475.5 112v8M475.5 479v9M517.5 116v4M517.5 479v5M558.5 116v4M558.5 479v5M600.5 112v8M600.5 479v9M95 457.5h5M601 457.5h5M95 435.5h5M601 435.5h5M95 412.5h5M601 412.5h5M90 390.5h10M601 390.5h10M95 368.5h5M601 368.5h5M95 346.5h5M601 346.5h5M95 323.5h5M601 323.5h5M90 301.5h10M601 301.5h10M95 279.5h5M601 279.5h5M95 257.5h5M601 257.5h5M95 234.5h5M601 234.5h5M90 212.5h10M601 212.5h10M95 190.5h5M601 190.5h5M95 168.5h5M601 168.5h5M95 145.5h5M601 145.5h5M90 123.5h10M601 123.5h10M700.5 120v360M725.5 120v360M695 120.5h36M697 479.5h32M697 177.5h3M726 177.5h3M697 163.5h3M726 163.5h3M697 152.5h3M726 152.5h3M697 145.5h3M726 145.5h3M697 138.5h3M726 138.5h3M697 133.5h3M726 133.5h3M697 128.5h3M726 128.5h3M697 124.5h3M726 124.5h3M695 202.5h5M726 202.5h5M697 259.5h3M726 259.5h3M697 245.5h3M726 245.5h3M697 234.5h3M726 234.5h3M697 226.5h3M726 226.5h3M697 220.5h3M726 220.5h3M697 214.5h3M726 214.5h3M697 210.5h3M726 210.5h3M697 205.5h3M726 205.5h3M695 284.5h5M726 284.5h5M697 341.5h3M726 341.5h3M697 326.5h3M726 326.5h3M697 316.5h3M726 316.5h3M697 308.5h3M726 308.5h3M697 302.5h3M726 302.5h3M697 296.5h3M726 296.5h3M697 292.5h3M726 292.5h3M697 287.5h3M726 287.5h3M695 365.5h5M726 365.5h5M697 423.5h3M726 423.5h3M697 408.5h3M726 408.5h3M697 398.5h3M726 398.5h3M697 390.5h3M726 390.5h3M697 384.5h3M726 384.5h3M697 378.5h3M726 378.5h3M697 373.5h3M726 373.5h3M697 369.5h3M726 369.5h3M695 447.5h5M726 447.5h5M697 472.5h3M726 472.5h3M697 465.5h3M726 465.5h3M697 460.5h3M726 460.5h3M697 455.5h3M726 455.5h3M697 451.5h3M726 451.5h3" stroke="#000" stroke-width="1" fill="none" shape-rendering="crispEdges"/>
<g font-family="'Liberation Sans', sans-serif" fill="#000" opacity="0.99">
<text x="266.0" y="76.5" font-size="15.2" textLength="168.0" lengthAdjust="spacingAndGlyphs" stroke="#fff" stroke-width="0.2">Polar PWI SFR−A Ez</text>
<text x="109.0" y="106.8" font-size="12.8" textLength="197.0" lengthAdjust="spacingAndGlyphs">1996−11−24 (329) 22:00:00</text>
<text x="334.0" y="106.8" font-size="12.8" textLength="32.0" lengthAdjust="spacingAndGlyphs">SCET</text>
<text x="395.0" y="106.8" font-size="12.8" textLength="196.0" lengthAdjust="spacingAndGlyphs">1996−11−25 (330) 00:00:00</text>
<text x="43.0" y="128.3" font-size="12.6" textLength="33.7" lengthAdjust="spacingAndGlyphs">8×10</text>
<text x="77.7" y="121.7" font-size="12.6" textLength="7.3" lengthAdjust="spacingAndGlyphs">5</text>
<text x="43.0" y="217.3" font-size="12.6" textLength="33.7" lengthAdjust="spacingAndGlyphs">6×10</text>
<text x="77.7" y="210.7" font-size="12.6" textLength="7.3" lengthAdjust="spacingAndGlyphs">5</text>
<text x="43.0" y="306.3" font-size="12.6" textLength="33.7" lengthAdjust="spacingAndGlyphs">4×10</text>
<text x="77.7" y="299.7" font-size="12.6" textLength="7.3" lengthAdjust="spacingAndGlyphs">5</text>
<text x="43.0" y="395.3" font-size="12.6" textLength="33.7" lengthAdjust="spacingAndGlyphs">2×10</text>
<text x="77.7" y="388.7" font-size="12.6" textLength="7.3" lengthAdjust="spacingAndGlyphs">5</text>
<text transform="translate(31.5,349.6) rotate(-90)" font-size="12.6" textLength="97.6" lengthAdjust="spacingAndGlyphs">frequency (Hz)</text>
<text x="36.0" y="505.3" font-size="12.6" textLength="32.4" lengthAdjust="spacingAndGlyphs">SCET</text>
<text x="54.2" y="523.4" font-size="12.6" textLength="8.2" lengthAdjust="spacingAndGlyphs">R</text>
<text x="62.8" y="527.2" font-size="9.0" textLength="5.8" lengthAdjust="spacingAndGlyphs">E</text>
<text x="52.8" y="541.9" font-size="12.6" textLength="6.5" lengthAdjust="spacingAndGlyphs">λ</text>
<text x="59.7" y="545.7" font-size="9.0" textLength="8.7" lengthAdjust="spacingAndGlyphs">m</text>
<text x="44.5" y="560.0" font-size="12.6" textLength="24.0" lengthAdjust="spacingAndGlyphs">MLT</text>
<text x="61.5" y="577.8" font-size="12.6" textLength="7.0" lengthAdjust="spacingAndGlyphs">L</text>
<text x="81.0" y="505.3" font-size="12.6" textLength="37.5" lengthAdjust="spacingAndGlyphs">22:00</text>
<text x="92.5" y="523.4" font-size="12.6" textLength="28.1" lengthAdjust="spacingAndGlyphs">7.15</text>
<text x="85.0" y="541.9" font-size="12.6" textLength="35.6" lengthAdjust="spacingAndGlyphs">45.79</text>
<text x="92.5" y="560.0" font-size="12.6" textLength="28.1" lengthAdjust="spacingAndGlyphs">8.37</text>
<text x="85.0" y="577.8" font-size="12.6" textLength="35.6" lengthAdjust="spacingAndGlyphs">14.57</text>
<text x="206.0" y="505.3" font-size="12.6" textLength="37.5" lengthAdjust="spacingAndGlyphs">22:30</text>
<text x="217.5" y="523.4" font-size="12.6" textLength="28.1" lengthAdjust="spacingAndGlyphs">6.72</text>
<text x="210.0" y="541.9" font-size="12.6" textLength="35.6" lengthAdjust="spacingAndGlyphs">40.31</text>
<text x="217.5" y="560.0" font-size="12.6" textLength="28.1" lengthAdjust="spacingAndGlyphs">8.55</text>
<text x="210.0" y="577.8" font-size="12.6" textLength="35.6" lengthAdjust="spacingAndGlyphs">11.42</text>
<text x="331.0" y="505.3" font-size="12.6" textLength="37.5" lengthAdjust="spacingAndGlyphs">23:00</text>
<text x="342.5" y="523.4" font-size="12.6" textLength="28.1" lengthAdjust="spacingAndGlyphs">6.22</text>
<text x="335.0" y="541.9" font-size="12.6" textLength="35.6" lengthAdjust="spacingAndGlyphs">34.16</text>
<text x="342.5" y="560.0" font-size="12.6" textLength="28.1" lengthAdjust="spacingAndGlyphs">8.71</text>
<text x="342.5" y="577.8" font-size="12.6" textLength="28.1" lengthAdjust="spacingAndGlyphs">8.97</text>
<text x="456.0" y="505.3" font-size="12.6" textLength="37.5" lengthAdjust="spacingAndGlyphs">23:30</text>
<text x="467.5" y="523.4" font-size="12.6" textLength="28.1" lengthAdjust="spacingAndGlyphs">5.66</text>
<text x="460.0" y="541.9" font-size="12.6" textLength="35.6" lengthAdjust="spacingAndGlyphs">27.04</text>
<text x="467.5" y="560.0" font-size="12.6" textLength="28.1" lengthAdjust="spacingAndGlyphs">8.86</text>
<text x="467.5" y="577.8" font-size="12.6" textLength="28.1" lengthAdjust="spacingAndGlyphs">7.03</text>
<text x="581.0" y="505.3" font-size="12.6" textLength="37.5" lengthAdjust="spacingAndGlyphs">00:00</text>
<text x="592.5" y="523.4" font-size="12.6" textLength="28.1" lengthAdjust="spacingAndGlyphs">5.02</text>
<text x="585.0" y="541.9" font-size="12.6" textLength="35.6" lengthAdjust="spacingAndGlyphs">18.45</text>
<text x="592.5" y="560.0" font-size="12.6" textLength="28.1" lengthAdjust="spacingAndGlyphs">9.00</text>
<text x="592.5" y="577.8" font-size="12.6" textLength="28.1" lengthAdjust="spacingAndGlyphs">5.49</text>
<text x="647.6" y="128.6" font-size="12.6" textLength="15.4" lengthAdjust="spacingAndGlyphs">10</text>
<text x="664.0" y="122.0" font-size="12.6" textLength="26.0" lengthAdjust="spacingAndGlyphs">−12</text>
<text x="647.6" y="206.8" font-size="12.6" textLength="15.4" lengthAdjust="spacingAndGlyphs">10</text>
<text x="664.0" y="200.2" font-size="12.6" textLength="26.0" lengthAdjust="spacingAndGlyphs">−13</text>
<text x="647.6" y="288.7" font-size="12.6" textLength="15.4" lengthAdjust="spacingAndGlyphs">10</text>
<text x="664.0" y="282.1" font-size="12.6" textLength="26.0" lengthAdjust="spacingAndGlyphs">−14</text>
<text x="647.6" y="370.6" font-size="12.6" textLength="15.4" lengthAdjust="spacingAndGlyphs">10</text>
<text x="664.0" y="363.9" font-size="12.6" textLength="26.0" lengthAdjust="spacingAndGlyphs">−15</text>
<text x="647.6" y="452.4" font-size="12.6" textLength="15.4" lengthAdjust="spacingAndGlyphs">10</text>
<text x="664.0" y="445.8" font-size="12.6" textLength="26.0" lengthAdjust="spacingAndGlyphs">−16</text>
<g transform="translate(635,336) rotate(-90)">
<text x="0.0" y="0.0" font-size="12.6" textLength="9.5" lengthAdjust="spacingAndGlyphs">V</text>
<text x="9.5" y="-5.5" font-size="8.5" textLength="5.0" lengthAdjust="spacingAndGlyphs">2</text>
<text x="21.0" y="0.0" font-size="12.6" textLength="11.0" lengthAdjust="spacingAndGlyphs">m</text>
<text x="32.0" y="-5.5" font-size="8.5" textLength="10.0" lengthAdjust="spacingAndGlyphs">−2</text>
<text x="48.0" y="0.0" font-size="12.6" textLength="16.0" lengthAdjust="spacingAndGlyphs">Hz</text>
<text x="64.5" y="-5.5" font-size="8.5" textLength="8.0" lengthAdjust="spacingAndGlyphs">−1</text>
</g>
<text x="730.6" y="597.5" font-size="7.6" textLength="66.4" lengthAdjust="spacingAndGlyphs" stroke="#000" stroke-width="0.25">UIowa 19990710</text>
</g>
</svg>
</body></html>
